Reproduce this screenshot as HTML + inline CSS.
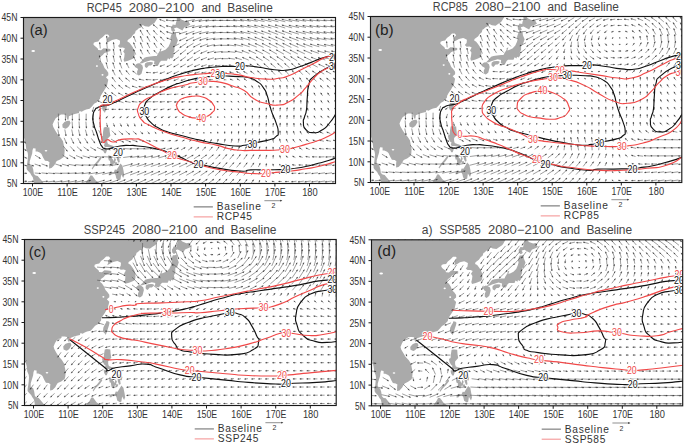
<!DOCTYPE html>
<html><head><meta charset="utf-8"><style>
html,body{margin:0;padding:0;background:#fff;}
body{width:685px;height:445px;overflow:hidden;}
svg{display:block;}
text{font-family:"Liberation Sans",sans-serif;fill:#333;}
.tt{fill:#444;}
.ax{font-size:10px;}
.tt{font-size:12px;}
.pl{font-size:15.5px;fill:#1e1e1e;}
.lg{font-size:10.2px;}
.rv{font-size:7px;}
.cl{font-size:10px;stroke:#fff;stroke-width:2px;paint-order:stroke;stroke-linejoin:round;}
</style></head><body>
<svg width="685" height="445" viewBox="0 0 685 445">
<clipPath id="ca"><rect x="23.5" y="17.5" width="312" height="166"/></clipPath>
<g clip-path="url(#ca)">
<path d="M22.1 15.4 157.9 15.4 157.9 17.5 155.4 21.6 154.4 22.9 151.3 25 148.9 26.8 145 26.2 142.6 25 140.9 27.5 138.5 28.5 137.1 30 135.7 30.8 135 33.3 132.9 34.9 131.2 37.4 129.5 38.7 127.7 39.9 127.4 41.6 129.5 42.8 131.2 44.9 132.9 47.4 134.3 50.7 134.7 54.9 134.3 56.9 133.3 58.6 131.2 59.4 128.1 60.7 124.3 61.7 123.6 59.8 124.3 56.9 124.6 53.6 123.2 51.5 125 48.6 122.9 47.6 119.8 47.8 118 46.1 119.8 44.1 120.1 40.7 117.7 39.5 116.3 38.9 112.1 39.9 109.4 41.6 106.3 43.2 107.3 40.7 107 38.7 109.4 36.2 108 34.5 105.2 34.5 102.8 37 100 39.1 98.3 41.6 95.5 42 93.8 42.8 93.4 44.5 94.8 46.1 97.6 48.2 98.3 49.9 101.1 50.3 103.5 48.2 107 48.6 110.4 49 110.4 51.1 107 51.9 104.2 53.2 102.8 54.9 100 56.9 99 59.8 101.1 61.5 102.8 64 104.5 68.1 106.6 70.2 108.3 72.7 108.3 75.2 105.9 77.3 108.3 79.8 107.6 82.7 107 86 105.6 88.1 103.8 91 101.8 93.9 100.4 96.4 100 98.8 98.3 100.5 96.9 102.2 94.1 103.8 92.1 106.3 89.6 108.8 86.2 109.6 83.8 110.5 81.7 111.7 79.6 110.9 78.9 113 75.8 113.8 73 114.6 70.6 115.4 68.9 116.3 68.5 119.6 67.8 120 66.8 118.3 66.1 115 63.7 114.6 60.9 114.6 58.8 115.9 55.7 118.3 54 121.3 52.6 124.6 53.3 127.1 55.4 130.8 57.4 134.1 60.9 137.9 63 141.2 64 146.2 64.7 150.3 64.4 154.5 63.7 156.9 60.2 159.4 56.7 161.1 55.4 163.2 54.3 165.2 51.5 168.1 49.1 168.6 49.1 164.8 49.5 162.3 47.7 161.1 45 160.7 43.2 157.8 41.5 154 40.1 152.8 37.4 151.5 35.6 151.5 35.6 148.6 33.2 148.2 32.5 150.3 32.2 153.6 30.8 157.8 29.7 161.5 29.7 165.2 32.2 166.1 33.2 169.4 33.9 174 35.6 175.6 37.7 176 39.8 178.5 41.5 180.6 43.2 182.7 44.3 185.6 33.9 185.6 33.9 183.5 33.5 180.2 32.8 177.3 31.5 175.6 30.1 173.1 27.7 170.6 26.6 169 26.6 166.9 27.3 162.8 27.7 159.4 28 155.3 27.7 152.8 26.3 149.5 25.6 144.1 24.5 139.5 23.5 135.8 22.1 134.5ZM105.2 99.3 107.3 99.3 108.7 100.5 108 103.4 107 106.7 105.9 110 104.9 113 104.2 111.7 102.8 110.5 102.1 108.4 102.5 105.5 103.8 102.6 105.2 100.5ZM67.8 120.8 69.6 120.8 70.6 122.9 68.9 126.2 67.1 127.9 65.4 128.7 62.6 127.5 62.3 124.6 64.4 122.1 66.1 121.3ZM136.4 64 138.1 63.2 139.9 63.6 142.3 65.2 143 68.1 141.6 73.5 140.2 74.8 138.8 75.6 137.1 74.4 137.1 71.5 138.1 69 136.7 68.1 135.7 66.5 135 65.6ZM145 63.6 147.1 62.3 150.2 61.9 152.7 62.3 152.7 64 150.9 65.6 148.9 65.6 146.8 68.1 145 66.9 144.7 65.2ZM139.5 63.2 141.6 61.1 144.4 57.8 146.8 56.9 150.2 56.5 154.4 56.1 156.8 56.1 157.5 54.4 159.9 50.7 159.9 49 161.7 48.6 160.6 51.5 162.4 51.1 165.8 49.5 168.6 46.6 170.3 42.8 171 39.9 170.3 38.2 171 35.8 172.1 33.3 174.1 33.3 175.9 32.4 176.2 36.2 177.9 40.3 176.2 45.3 174.5 45.7 174.5 50.7 173.1 53.6 173.8 56.1 172.1 58.6 170.3 57.8 170 59.4 167.9 58.2 166.9 60.7 165.1 60.7 161.3 60.7 159.9 61.9 158.2 65.2 156.5 65.2 154 64 154.4 61.1 150.9 60.2 146.8 61.5 144.4 62.3 142.3 63.2 139.9 63.6ZM171 27.5 171.4 30.4 173.1 32 175.2 30.8 174.1 28.3 176.9 27.5 179.7 29.1 182.4 30.4 184.2 27.5 188.3 25.8 190.4 24.6 189.4 23.3 188.3 20.8 185.6 21.2 181.4 19.6 177.9 15.8 176.6 16.3 176.9 20 175.9 22.9 175.5 25 172.7 24.6 172.1 26.2ZM103.8 127.5 105.9 127.1 109.4 127.5 109.7 131.6 110.4 135.8 107.3 139.1 107.3 142 108 144.1 110.4 144.9 112.8 145.7 115.6 147.8 116.6 150.3 115.6 152 113.5 150.3 110.8 147.8 108 147 104.9 147 103.8 144.9 104.9 143.7 103.5 142.8 101.8 139.9 101.1 136.6 102.8 135.8 103.1 131.6ZM108.7 175.2 109 172.7 111.5 171.9 113.9 171.9 114.9 169.4 116.6 169.8 118.4 166.9 120.5 163.6 122.5 165.7 123.6 171.1 124.3 175.2 123.2 178.1 121.2 174.4 120.5 179.4 119.1 180.2 116.3 178.5 115.6 175.2 114.2 172.7 112.1 173.1 110.4 175.2ZM102.8 148.2 105.2 147.8 107 149.9 105.9 153.2 104.5 153.2 103.1 150.7ZM108.3 155.3 110.8 156.1 112.5 157.8 111.1 160.3 109 160.7 108.3 158.6ZM110.1 159.8 112.8 159 113.9 161.5 112.5 166.5 110.8 165.2 110.1 161.9ZM114.6 157.4 116 159.4 114.9 162.8 113.5 164.8 113.5 161.9ZM114.9 162.3 117.3 162.3 117 164.4 114.9 164.4ZM116.6 156.5 119.1 156.9 119.8 161.9 118.4 162.8 117 159.8ZM116.6 152.4 120.1 152.4 121.5 155.3 120.8 158.2 119.1 157.8 117.7 155.3ZM100.7 156.9 101.4 158.6 98.3 162.8 94.8 166.1 92.4 169.4 91.7 168.6 94.1 164.8 97.3 161.1 99.3 158.2ZM82.7 185.6 85.1 183.5 86.5 181.4 88.6 178.9 90.3 175.4 92.1 175.6 93.8 177.7 95.5 180.2 99.3 183.1 99.7 185.6Z" fill="#aaaaaa"/>
<ellipse cx="33.2" cy="51.1" rx="1.8" ry="1.0" fill="#fff"/>
<ellipse cx="96.9" cy="66.1" rx="1.1" ry="0.8" fill="#fff"/>
<ellipse cx="102.5" cy="74.8" rx="1.0" ry="0.9" fill="#fff"/>
<ellipse cx="46" cy="150.7" rx="1.3" ry="0.8" fill="#fff"/>
<path d="M20.8 181.8l6 -0.7M27.8 181.8l6 -0.6M41.5 181.8l6.3 -0.6M48.1 181.8l6.8 -0.7M54.7 182l7.6 -1M61.2 182.1l8.3 -1.3M68 182.3l8.7 -1.5M74.8 182.4l8.9 -1.8M81.7 182.5l9 -2.1M95.5 182.8l9.1 -2.6M102.4 182.9l9.1 -2.8M109.3 183.1l9.1 -3.2M116.3 183.3l9.1 -3.5M123.2 183.4l9.1 -3.8M130.1 183.5l9.1 -4M137 183.6l9.1 -4.2M144 183.6l9.1 -4.3M150.9 183.6l9 -4.3M158 183.6l8.7 -4.2M165.1 183.5l8.3 -4M172.2 183.5l8.1 -4M179.2 183.5l7.8 -4.1M186.3 183.6l7.5 -4.3M193.4 183.7l7.1 -4.4M200.6 183.8l6.7 -4.6M207.8 183.9l6 -4.7M215.1 183.9l5.3 -4.9M222.2 183.9l4.9 -4.9M229.4 183.8l4.4 -4.7M236.7 183.7l3.7 -4.3M243.9 183.5l3.1 -4.1M251.2 183.3l2.4 -3.6M259 182.7l0.7 -2.5M267 182l-1.5 -1.1M274.5 181.7l-2.6 -0.4M281.7 181.5l-3.2 -0.1M289.1 181.4l-4.1 0.3M296.5 181.2l-5.2 0.7M303.8 181.1l-5.8 0.9M310.8 181l-6.1 0.9M317.9 181l-6.5 1M325 181l-6.8 1M332 181l-6.9 1M339 181l-7 1M20.8 173.2l6 0.2M34.7 173l6.1 0.5M41.5 172.9l6.3 0.6M48.2 173l6.7 0.6M54.8 173.1l7.3 0.4M61.4 173.2l8 0M68.1 173.4l8.4 -0.4M74.9 173.6l8.7 -0.8M81.7 173.8l8.9 -1.2M88.5 174l9.1 -1.5M95.4 174.2l9.2 -1.9M102.3 174.4l9.3 -2.2M109.2 174.6l9.3 -2.7M123.1 174.9l9.3 -3.4M130 175l9.3 -3.5M136.9 175.1l9.3 -3.7M143.9 175.2l9.3 -3.8M150.8 175.2l9.2 -3.9M157.9 175.2l8.9 -3.8M165 175.2l8.5 -3.8M172.1 175.2l8.3 -3.9M179.2 175.2l7.9 -4M186.3 175.3l7.5 -4.2M193.4 175.4l7.1 -4.3M200.6 175.5l6.7 -4.5M207.8 175.6l6 -4.7M215.1 175.7l5.3 -4.9M222.2 175.7l4.9 -4.9M229.4 175.6l4.4 -4.7M236.7 175.5l3.8 -4.5M243.8 175.4l3.2 -4.2M251.1 175.2l2.6 -3.8M258.8 174.7l1 -2.9M266.7 174.1l-0.9 -1.7M274.2 173.7l-2 -1M281.4 173.5l-2.6 -0.6M288.8 173.3l-3.6 -0.2M296.3 173.1l-4.7 0.3M303.6 173l-5.4 0.6M310.7 172.9l-5.8 0.7M317.9 172.8l-6.3 0.8M325 172.8l-6.6 0.9M332 172.8l-6.8 0.9M338.9 172.8l-6.8 0.9M20.9 164.2l6 1.7M27.8 164.1l6 1.9M34.7 164l6 2.1M41.6 163.9l6 2.2M55.2 163.9l6.6 2.2M61.9 164.1l7.1 1.9M68.5 164.3l7.6 1.4M75.2 164.6l8 0.8M82 164.9l8.4 0.3M88.7 165.1l8.8 -0.2M95.5 165.3l9.1 -0.6M102.3 165.6l9.3 -1.1M109.2 165.9l9.4 -1.6M123 166.3l9.6 -2.5M129.9 166.4l9.5 -2.6M136.8 166.5l9.5 -2.8M143.8 166.5l9.4 -3M150.8 166.6l9.3 -3.1M157.9 166.6l9 -3.2M164.9 166.7l8.7 -3.4M172 166.8l8.4 -3.6M179.1 166.9l8 -3.8M186.3 167l7.5 -4M193.5 167.1l7 -4.1M200.6 167.2l6.5 -4.3M207.9 167.3l5.9 -4.6M215.1 167.4l5.2 -4.8M222.3 167.5l4.8 -4.9M229.4 167.5l4.5 -4.8M236.6 167.4l4 -4.7M243.7 167.3l3.5 -4.6M250.9 167.2l3 -4.3M258.4 166.9l1.8 -3.8M266.1 166.5l0.3 -3M273.5 166.3l-0.6 -2.4M280.8 166l-1.4 -1.9M288.3 165.6l-2.6 -1.2M295.7 165.3l-3.6 -0.6M303 165.1l-4.3 -0.2M310.3 165l-5 0.2M317.6 164.8l-5.8 0.5M324.7 164.7l-6.2 0.6M331.8 164.7l-6.4 0.7M338.7 164.7l-6.4 0.7M20.9 155.5l5.8 2.8M35 155.2l5.5 3.3M62.6 155l5.5 3.8M69.3 155.2l6 3.3M76 155.5l6.5 2.7M82.7 155.8l7 2.1M89.4 156.1l7.4 1.5M96.1 156.4l7.9 1M102.8 156.7l8.4 0.4M109.5 157l8.8 -0.2M123.2 157.5l9.1 -1.2M130.1 157.6l9.1 -1.4M137.1 157.7l8.9 -1.7M144.1 157.8l8.8 -1.9M151.2 157.9l8.5 -2.1M158.3 158l8.1 -2.3M165.4 158.2l7.7 -2.6M172.5 158.3l7.4 -2.9M179.7 158.5l6.9 -3.3M186.8 158.7l6.4 -3.6M193.9 158.8l6.1 -3.8M201 158.9l5.7 -4M208.3 159l5.1 -4.3M215.5 159.2l4.5 -4.6M222.6 159.3l4.2 -4.8M229.7 159.3l3.9 -4.8M236.8 159.3l3.6 -4.8M243.8 159.3l3.3 -4.8M251 159.2l2.8 -4.6M258.3 159l1.9 -4.3M265.8 158.8l0.9 -3.9M273.1 158.6l0.2 -3.5M280.5 158.3l-0.7 -2.9M288 157.9l-1.9 -2.1M295.4 157.6l-2.8 -1.5M302.6 157.4l-3.5 -1.1M309.9 157.2l-4.3 -0.7M317.3 156.9l-5.2 -0.1M324.5 156.8l-5.7 0.2M331.5 156.7l-5.9 0.3M338.5 156.7l-5.9 0.3M21.3 146.9l5.1 3.8M63.4 146.2l4 5.1M70.2 146.4l4.3 4.8M76.9 146.6l4.7 4.3M83.6 146.9l5.1 3.7M90.3 147.2l5.5 3.2M97 147.4l6.1 2.7M103.5 147.7l6.8 2.1M116.9 148.2l7.8 1.1M123.8 148.5l7.8 0.6M130.8 148.6l7.6 0.2M137.9 148.8l7.3 -0.1M145 149l6.9 -0.5M152.2 149.2l6.5 -0.8M159.4 149.3l6 -1.1M166.6 149.5l5.3 -1.4M173.9 149.7l4.7 -1.8M181 149.9l4.2 -2.3M188.1 150.2l4 -2.8M195 150.4l3.9 -3.2M202.1 150.5l3.6 -3.5M209.3 150.7l3.1 -3.8M216.4 150.8l2.6 -4.1M223.5 150.9l2.4 -4.3M230.5 151l2.2 -4.4M237.5 151l2.1 -4.5M244.5 151.1l1.9 -4.6M251.6 151l1.7 -4.5M258.8 150.9l1.1 -4.3M266.1 150.8l0.3 -4.1M273.3 150.7l-0.3 -3.8M280.6 150.5l-0.9 -3.5M287.9 150.2l-1.8 -2.9M295.2 150l-2.6 -2.4M302.4 149.8l-3.1 -2.1M309.7 149.6l-3.8 -1.6M317 149.3l-4.7 -1M324.2 149.1l-5.2 -0.6M331.2 149l-5.3 -0.4M338.2 149l-5.4 -0.4M22.1 138.1l3.5 5.2M64.1 137.8l2.5 6M71 137.8l2.7 5.8M77.8 138l2.9 5.5M84.6 138.2l3.2 5.1M91.3 138.4l3.6 4.7M97.9 138.6l4.3 4.2M111 139.1l5.8 3.3M117.8 139.3l6 3M124.8 139.5l5.9 2.5M131.9 139.7l5.5 2.1M139.1 139.9l5 1.6M146.3 140.2l4.4 1.1M153.5 140.4l4 0.6M160.5 140.7l3.6 0M167.6 141l3.3 -0.5M174.7 141.2l2.9 -1M181.9 141.5l2.5 -1.5M189 141.7l2.1 -2M196 141.9l1.9 -2.3M203.1 142l1.6 -2.6M210.2 142.2l1.2 -2.9M217.3 142.4l0.9 -3.3M224.3 142.5l0.8 -3.6M231.2 142.6l0.8 -3.8M238.2 142.7l0.8 -4M245.1 142.8l0.8 -4.2M252.1 142.8l0.6 -4.2M259.2 142.8l0.3 -4.2M266.3 142.7l-0.2 -4M273.5 142.7l-0.6 -3.9M280.6 142.6l-1 -3.8M287.8 142.4l-1.6 -3.4M295 142.3l-2.2 -3.1M302.2 142.1l-2.7 -2.8M309.4 141.9l-3.3 -2.3M316.7 141.5l-4 -1.6M323.9 141.3l-4.5 -1.2M330.9 141.3l-4.7 -1M337.9 141.2l-4.8 -1M57.8 129.5l1.3 6.5M64.8 129.5l1.3 6.5M71.7 129.5l1.3 6.4M78.5 129.6l1.4 6.3M85.4 129.7l1.6 6.1M92.1 129.9l2 5.7M98.7 130.2l2.6 5.2M111.9 130.7l4 4.1M118.7 130.9l4.2 3.8M125.7 131l4 3.5M132.9 131.2l3.5 3M140.2 131.5l2.8 2.5M147.5 131.7l2.1 2M154.6 132l1.6 1.5M161.7 132.3l1.4 1M168.6 132.6l1.4 0.4M175.6 132.8l1.2 -0.1M182.8 133l0.7 -0.4M189.9 133.1l0.2 -0.6M197 133.2l0 -0.9M203.9 133.3l0 -1.1M210.9 133.5l-0.1 -1.4M217.8 133.7l-0.1 -1.9M224.7 133.9l0 -2.4M231.5 134.1l0.1 -2.7M238.4 134.3l0.3 -3.1M245.3 134.5l0.4 -3.5M252.2 134.6l0.4 -3.7M259.2 134.7l0.3 -3.8M266.2 134.7l0.1 -3.9M273.2 134.7l-0.1 -3.9M280.3 134.7l-0.3 -3.9M287.4 134.6l-0.7 -3.8M294.5 134.5l-1.1 -3.6M301.7 134.4l-1.6 -3.3M308.9 134.1l-2.3 -2.7M316.2 133.8l-3 -2.1M323.4 133.6l-3.5 -1.7M330.4 133.5l-3.7 -1.5M337.4 133.5l-3.9 -1.5M58.2 121.5l0.6 6.8M72.1 121.5l0.5 6.8M79 121.5l0.5 6.7M85.9 121.6l0.5 6.6M92.8 121.8l0.6 6.2M99.6 122.2l0.8 5.3M106.5 122.9l1 4M113.3 123.2l1.2 3.3M120.1 123.3l1.4 3.2M127 123.4l1.4 3M134.2 123.5l1 2.8M141.4 123.6l0.3 2.5M148.7 123.8l-0.4 2.1M155.8 124l-0.8 1.8M162.8 124.1l-1 1.5M169.8 124.3l-1 1.2M176.8 124.4l-1.1 0.9M183.8 124.6l-1.3 0.6M190.8 124.6l-1.4 0.5M197.7 124.8l-1.4 0.2M204.5 124.9l-1.2 0M211.3 125.1l-1 -0.4M218.1 125.3l-0.8 -0.8M224.9 125.6l-0.5 -1.4M231.7 125.8l-0.3 -1.9M238.6 126.1l0 -2.4M245.4 126.3l0.2 -2.9M252.2 126.5l0.3 -3.3M259.1 126.7l0.4 -3.6M266.1 126.7l0.4 -3.7M273 126.8l0.3 -3.8M280 126.8l0.2 -3.9M287 126.8l0 -3.9M294.1 126.8l-0.2 -3.8M301.2 126.6l-0.7 -3.5M308.5 126.3l-1.4 -2.9M315.8 126.1l-2.1 -2.4M322.9 125.9l-2.5 -2.1M329.9 125.9l-2.7 -2M336.9 125.8l-2.8 -1.9M58.4 113.6l0.2 6.9M65.3 113.6l0.2 6.9M72.3 113.6l0.1 6.9M79.2 113.6l0.1 6.9M86.2 113.7l-0.1 6.7M93.3 114.1l-0.4 6.1M100.6 114.9l-1.2 4.3M108 115.9l-2 2.4M115 116.3l-2.3 1.7M121.9 116.3l-2.2 1.5M128.9 116.3l-2.3 1.6M135.9 116.3l-2.5 1.5M142.9 116.3l-2.7 1.5M149.9 116.3l-2.8 1.5M156.8 116.4l-2.8 1.4M163.7 116.4l-2.7 1.4M170.5 116.4l-2.5 1.3M177.4 116.5l-2.4 1.1M184.3 116.7l-2.3 0.8M191.1 116.8l-2.2 0.5M198 116.9l-2 0.3M204.8 117l-1.8 0.1M211.6 117.1l-1.5 -0.1M218.4 117.3l-1.3 -0.4M225.2 117.5l-1 -0.9M232 117.8l-0.8 -1.4M238.8 118.1l-0.5 -1.9M245.6 118.3l-0.2 -2.5M252.3 118.6l0.1 -3M259.2 118.7l0.3 -3.3M266.1 118.8l0.4 -3.5M273 118.9l0.4 -3.7M279.9 118.9l0.4 -3.7M286.9 118.9l0.3 -3.7M293.9 118.9l0.1 -3.7M301 118.8l-0.2 -3.5M308.2 118.6l-0.9 -3M315.5 118.4l-1.6 -2.5M322.6 118.2l-1.9 -2.3M329.6 118.2l-2 -2.3M336.5 118.2l-2.1 -2.2M93.8 106.9l-1.4 4.9M101.6 108.3l-3.1 2.1M109 109.2l-4 0.4M116.1 109.4l-4.4 -0.1M123.1 109.4l-4.5 -0.1M130 109.3l-4.6 0.1M137 109.2l-4.7 0.4M143.9 109.1l-4.6 0.6M150.7 109l-4.5 0.7M157.6 109l-4.2 0.8M164.3 108.9l-4 0.9M171.1 108.9l-3.6 0.9M177.8 109l-3.2 0.7M184.5 109.2l-2.8 0.4M191.3 109.2l-2.5 0.3M198.2 109.3l-2.3 0.2M205 109.4l-2.1 0.1M211.8 109.4l-2 -0.1M218.7 109.5l-1.8 -0.3M225.5 109.7l-1.6 -0.7M232.3 109.9l-1.3 -1.1M239 110.2l-1 -1.6M245.8 110.5l-0.6 -2.3M252.5 110.8l-0.2 -2.8M259.3 110.9l0 -3.1M266.1 111.1l0.2 -3.3M273 111.1l0.4 -3.5M279.9 111.2l0.4 -3.5M286.8 111.2l0.4 -3.6M293.8 111.1l0.3 -3.5M300.9 111.1l0 -3.4M308.1 110.9l-0.7 -3M315.4 110.7l-1.3 -2.7M322.4 110.7l-1.6 -2.5M329.4 110.6l-1.7 -2.5M336.3 110.6l-1.7 -2.5M102.3 102.9l-4.6 -2.1M116.4 102.9l-5.1 -2.3M123.5 102.7l-5.3 -1.8M130.5 102.4l-5.5 -1.1M137.4 102.1l-5.5 -0.6M144.4 101.9l-5.5 -0.2M151.3 101.7l-5.5 0.1M158.1 101.6l-5.3 0.3M164.9 101.6l-5 0.4M171.6 101.5l-4.6 0.5M178.2 101.6l-4.1 0.5M184.8 101.6l-3.4 0.4M191.5 101.7l-2.9 0.3M198.3 101.7l-2.6 0.2M205.1 101.7l-2.4 0.1M212 101.8l-2.2 -0.1M218.8 101.9l-2.1 -0.3M225.6 102.1l-1.9 -0.6M232.4 102.3l-1.7 -1M239.2 102.6l-1.4 -1.5M245.9 102.9l-0.9 -2.2M252.7 103.1l-0.6 -2.7M259.5 103.3l-0.3 -3.1M266.3 103.4l0 -3.3M273.1 103.5l0.2 -3.4M280 103.5l0.2 -3.5M286.9 103.5l0.3 -3.5M293.9 103.5l0.2 -3.5M300.9 103.5l-0.1 -3.4M308.2 103.3l-0.7 -3.1M315.4 103.2l-1.3 -2.9M322.5 103.2l-1.6 -2.7M329.4 103.1l-1.7 -2.7M336.4 103.1l-1.7 -2.7M109.3 96.2l-4.8 -3.9M116.3 96l-4.9 -3.5M123.4 95.7l-5.1 -2.8M130.4 95.3l-5.4 -2M137.5 94.9l-5.7 -1.2M144.5 94.6l-5.8 -0.6M151.4 94.4l-5.8 -0.2M158.3 94.3l-5.7 0.1M165 94.1l-5.4 0.3M171.7 94.1l-4.9 0.5M178.4 94l-4.4 0.5M185 94.1l-3.7 0.5M191.7 94.1l-3.2 0.4M198.4 94.1l-2.9 0.3M205.2 94.2l-2.7 0.2M212.1 94.3l-2.5 0M218.9 94.4l-2.3 -0.3M225.8 94.6l-2.1 -0.6M232.6 94.8l-1.9 -1M239.4 95.1l-1.7 -1.5M246.1 95.4l-1.3 -2.2M252.9 95.7l-0.9 -2.7M259.6 95.8l-0.7 -3.1M266.4 95.9l-0.4 -3.3M273.2 96l-0.1 -3.4M280.1 96l0 -3.5M287 96.1l0 -3.5M294 96l-0.1 -3.5M301.1 96l-0.4 -3.4M308.3 95.9l-1 -3.2M315.5 95.8l-1.6 -3M322.6 95.8l-1.9 -2.9M329.6 95.8l-2 -2.9M336.5 95.8l-2 -2.9M109 89.2l-4.2 -4.6M116 89.1l-4.3 -4.3M123.1 88.8l-4.6 -3.7M130.2 88.3l-5 -2.8M137.4 87.8l-5.4 -1.8M144.4 87.4l-5.7 -0.9M151.4 87.1l-5.8 -0.3M158.3 86.9l-5.7 0.2M165.1 86.6l-5.4 0.6M171.8 86.5l-5 0.9M178.5 86.5l-4.5 1M185.1 86.5l-4 0.8M191.9 86.6l-3.6 0.7M198.7 86.7l-3.3 0.5M205.5 86.8l-3.1 0.3M212.3 86.9l-2.9 0.1M219.1 87l-2.7 -0.2M225.9 87.2l-2.5 -0.6M232.8 87.5l-2.3 -1.1M239.6 87.7l-2.1 -1.6M246.4 88l-1.8 -2.2M253.1 88.3l-1.4 -2.7M259.9 88.5l-1.2 -3.1M266.7 88.6l-0.9 -3.4M273.5 88.7l-0.7 -3.5M280.4 88.7l-0.5 -3.6M287.3 88.7l-0.5 -3.6M294.3 88.7l-0.7 -3.6M301.3 88.7l-0.9 -3.6M308.5 88.6l-1.5 -3.3M315.8 88.5l-2.1 -3.1M322.9 88.4l-2.5 -3M329.9 88.4l-2.6 -3M336.9 88.4l-2.8 -3M115.7 82.2l-3.6 -5M122.8 81.9l-3.9 -4.4M129.9 81.4l-4.4 -3.5M137.1 80.9l-4.9 -2.4M144.2 80.3l-5.3 -1.2M151.3 79.8l-5.5 -0.3M158.1 79.4l-5.4 0.6M165 79l-5.2 1.4M171.8 78.7l-5 2M178.7 78.7l-4.9 2M185.5 78.9l-4.7 1.7M192.4 79l-4.6 1.3M199.2 79.2l-4.4 1M206 79.3l-4.2 0.7M212.8 79.5l-3.9 0.4M219.6 79.6l-3.7 0.1M226.4 79.9l-3.4 -0.5M233.2 80.3l-3.3 -1.2M240.1 80.6l-3.2 -1.8M246.9 80.8l-3 -2.2M253.7 81.1l-2.6 -2.8M260.5 81.3l-2.4 -3.3M267.4 81.5l-2.3 -3.6M274.3 81.6l-2.2 -3.8M281.1 81.6l-2 -3.9M288.1 81.7l-2.1 -4M295.1 81.7l-2.2 -4M302.1 81.7l-2.5 -4M309.3 81.5l-2.9 -3.6M316.5 81.3l-3.5 -3.2M323.6 81.2l-3.9 -3.1M330.6 81.2l-4.1 -3M337.6 81.2l-4.3 -3M115.2 75.3l-2.7 -5.6M122.3 75.1l-3 -5.1M129.5 74.7l-3.5 -4.3M136.7 74.1l-4 -3.2M151 72.7l-4.9 -0.3M157.9 72.1l-5 0.9M164.9 71.7l-5 1.8M171.8 71.4l-5.1 2.4M178.8 71.3l-5.1 2.5M185.7 71.4l-5.2 2.3M192.7 71.6l-5.2 1.9M199.6 71.8l-5.1 1.6M206.4 72l-4.9 1.1M213.2 72.2l-4.7 0.8M220.1 72.4l-4.6 0.3M226.9 72.8l-4.5 -0.4M233.8 73.2l-4.3 -1.3M240.6 73.5l-4.2 -1.9M247.5 73.7l-4.1 -2.3M254.4 74l-3.9 -2.9M261.2 74.3l-3.7 -3.5M268.1 74.5l-3.6 -3.9M275 74.6l-3.7 -4M281.9 74.6l-3.7 -4.2M288.8 74.7l-3.6 -4.3M295.8 74.7l-3.7 -4.3M302.8 74.7l-3.9 -4.2M310 74.5l-4.4 -3.8M317.1 74.2l-4.8 -3.3M324.2 74.1l-5.1 -3M331.2 74l-5.2 -2.9M338.2 74l-5.3 -2.9M107.8 68.6l-1.7 -6.1M114.8 68.5l-1.9 -6M121.9 68.4l-2.2 -5.7M129 68.1l-2.5 -5.1M136.1 67.6l-2.9 -4.1M157.8 65.3l-4.7 0.5M164.8 64.7l-4.9 1.6M171.8 64.3l-5.1 2.5M178.8 64.1l-5.2 2.9M185.8 64.1l-5.4 3M192.8 64.2l-5.5 2.8M199.8 64.4l-5.5 2.3M206.7 64.7l-5.5 1.8M213.5 65l-5.4 1.2M220.5 65.3l-5.5 0.6M227.4 65.7l-5.5 -0.2M234.3 66.1l-5.4 -1.2M241.2 66.5l-5.3 -1.9M248.1 66.8l-5.2 -2.5M255 67.1l-5.1 -3.1M261.8 67.4l-4.9 -3.6M268.7 67.6l-4.9 -4M275.7 67.7l-5 -4.2M282.6 67.7l-5.1 -4.3M289.5 67.7l-5 -4.3M296.5 67.7l-5 -4.3M303.5 67.6l-5.3 -4.1M310.7 67.4l-5.7 -3.8M317.7 67.2l-6 -3.2M324.7 67l-6.1 -2.8M331.7 66.9l-6.2 -2.6M338.7 66.8l-6.4 -2.6M100.5 61.8l-1 -6.2M107.5 61.8l-1.2 -6.2M114.6 61.8l-1.4 -6.2M121.6 61.7l-1.7 -5.9M135.8 61.1l-2.3 -4.7M143 60.6l-2.8 -3.8M178.9 56.8l-5.4 3.8M185.9 56.7l-5.6 4.1M192.9 56.8l-5.8 3.8M200 57.1l-5.9 3.3M207 57.4l-6.1 2.5M214 57.8l-6.2 1.7M221 58.3l-6.4 0.9M228 58.7l-6.5 0M234.9 59.2l-6.5 -1M241.8 59.7l-6.4 -2M248.7 60.1l-6.4 -2.7M255.6 60.3l-6.4 -3.3M262.5 60.6l-6.4 -3.8M269.4 60.8l-6.4 -4.1M276.5 60.9l-6.6 -4.3M283.4 60.9l-6.7 -4.4M290.4 60.9l-6.7 -4.3M297.3 60.8l-6.7 -4.2M304.4 60.7l-7 -4M311.4 60.5l-7.2 -3.6M318.4 60.2l-7.3 -3.1M325.3 60l-7.3 -2.6M332.3 59.9l-7.4 -2.3M339.3 59.8l-7.5 -2.2M107.4 55.1l-0.9 -6.2M114.4 55.1l-1.1 -6.2M121.5 55l-1.4 -6M135.7 54.6l-2.1 -5.2M142.7 54.4l-2.3 -4.9M149.8 54.2l-2.7 -4.3M157.1 53.7l-3.2 -3.4M179.1 49.9l-5.7 4.2M186.1 49.7l-6 4.6M193.2 49.8l-6.2 4.4M200.2 50.1l-6.5 3.7M207.3 50.6l-6.7 2.8M214.4 51l-7 1.9M221.4 51.5l-7.3 1M228.4 52l-7.4 0M235.4 52.4l-7.5 -0.9M242.3 52.9l-7.4 -1.9M249.2 53.4l-7.4 -2.8M256.1 53.7l-7.5 -3.4M263.1 53.9l-7.6 -3.8M270.1 54.1l-7.6 -4.2M277 54.2l-7.7 -4.4M284 54.2l-7.8 -4.4M291 54.1l-7.9 -4.3M297.9 54l-8 -4.1M304.9 53.9l-8.1 -3.8M311.9 53.7l-8.3 -3.5M318.9 53.4l-8.3 -2.9M325.8 53.2l-8.3 -2.4M332.7 53l-8.3 -2.1M339.7 53l-8.4 -2M100.3 48.4l-0.6 -6.1M107.3 48.4l-0.7 -6.1M114.3 48.5l-0.8 -6.1M135.7 48.2l-2.1 -5.6M142.7 48.2l-2.3 -5.6M149.8 48.1l-2.6 -5.4M157 47.9l-3 -5M164.2 47.4l-3.7 -4M179.3 43.8l-6.3 3.2M186.5 43.2l-6.8 4.4M193.6 43.2l-7 4.3M200.6 43.5l-7.3 3.7M207.8 44l-7.7 2.8M214.9 44.5l-8.1 1.9M221.9 44.9l-8.3 0.9M228.9 45.4l-8.5 -0.1M235.9 45.9l-8.6 -1M242.8 46.3l-8.5 -1.9M249.7 46.8l-8.5 -2.8M256.7 47.1l-8.5 -3.4M263.6 47.3l-8.6 -3.9M270.6 47.5l-8.6 -4.1M277.5 47.6l-8.6 -4.3M284.4 47.6l-8.7 -4.4M291.4 47.5l-8.8 -4.3M298.4 47.4l-8.9 -3.9M305.4 47.2l-9 -3.5M312.4 47l-9.1 -3.2M319.3 46.8l-9.2 -2.7M326.2 46.5l-9.2 -2.2M333.2 46.3l-9.2 -1.9M340.1 46.3l-9.2 -1.7M107.2 42l-0.6 -6M135.8 41.8l-2.2 -5.8M142.8 41.8l-2.5 -5.6M150 41.7l-2.9 -5.4M157.2 41.5l-3.5 -5M164.4 41.1l-4.1 -4.3M171.9 40l-5.2 -2.1M186.9 37.2l-7.6 3.6M194 37l-7.9 3.9M201.1 37.2l-8.2 3.4M208.2 37.6l-8.6 2.6M215.3 38.1l-9 1.7M222.4 38.6l-9.3 0.8M229.4 39l-9.4 -0.2M236.4 39.4l-9.5 -1M243.3 39.8l-9.5 -1.8M250.2 40.2l-9.4 -2.6M257.1 40.6l-9.3 -3.3M264 40.8l-9.3 -3.7M270.9 40.9l-9.3 -4M277.8 41l-9.3 -4.1M284.8 41.1l-9.3 -4.2M291.7 41l-9.4 -4.1M298.7 40.8l-9.5 -3.7M305.7 40.5l-9.6 -3.2M312.7 40.4l-9.7 -2.8M319.6 40.2l-9.8 -2.5M326.5 40l-9.7 -2M333.4 39.8l-9.7 -1.7M340.4 39.7l-9.8 -1.6M143.1 35.4l-2.9 -5.4M150.2 35.2l-3.5 -5M157.4 34.9l-4 -4.5M164.7 34.4l-4.7 -3.6M172.2 33.6l-5.8 -1.9M179.8 32.3l-7.1 0.6M187.2 31.4l-8.1 2.6M194.4 31.1l-8.6 3.2M201.5 31.2l-9 2.9M208.6 31.5l-9.3 2.2M215.7 31.9l-9.6 1.4M222.7 32.3l-9.9 0.6M229.7 32.7l-10 -0.2M236.7 33.1l-10.1 -0.9M243.6 33.4l-10 -1.6M250.4 33.8l-9.9 -2.2M257.3 34.1l-9.8 -2.9M264.2 34.3l-9.8 -3.3M271.1 34.4l-9.8 -3.5M278.1 34.5l-9.8 -3.7M285 34.5l-9.8 -3.7M291.9 34.4l-9.8 -3.6M298.9 34.2l-9.9 -3.1M305.9 34l-10 -2.6M312.8 33.8l-10.1 -2.4M319.7 33.7l-10 -2.1M326.6 33.5l-10 -1.7M333.6 33.3l-10 -1.4M340.5 33.3l-9.9 -1.3M143.3 28.9l-3.5 -4.9M157.7 28.3l-4.6 -3.7M165 27.9l-5.3 -2.7M172.4 27.1l-6.3 -1.3M194.7 25.3l-9.2 2.4M201.8 25.4l-9.6 2.2M208.9 25.6l-9.9 1.8M215.9 25.9l-10.2 1.1M223 26.3l-10.4 0.5M229.9 26.6l-10.5 -0.1M236.9 26.8l-10.5 -0.7M243.7 27.1l-10.4 -1.3M250.6 27.4l-10.3 -1.8M257.5 27.6l-10.2 -2.2M264.4 27.8l-10.1 -2.7M271.3 28l-10.1 -2.9M278.2 28l-10.2 -3M285.2 28l-10.1 -3.1M292.1 27.9l-10.2 -2.9M299.1 27.7l-10.2 -2.4M306 27.5l-10.3 -2M312.9 27.4l-10.2 -1.9M319.8 27.3l-10.2 -1.6M326.7 27.1l-10.1 -1.2M333.6 27l-10 -1M340.5 27l-10 -0.9M165.2 21.5l-5.7 -2.1M172.6 20.9l-6.6 -0.9M180 20.2l-7.7 0.5M194.8 19.5l-9.5 1.9M202 19.6l-10 1.8M209.1 19.8l-10.3 1.4M216.1 20l-10.5 0.9M223.1 20.3l-10.7 0.3M230.1 20.5l-10.8 -0.1M237 20.8l-10.7 -0.6M243.8 21l-10.6 -1.1M250.7 21.2l-10.5 -1.5M257.6 21.4l-10.4 -1.8M264.5 21.6l-10.4 -2.2M271.4 21.7l-10.4 -2.5M278.4 21.8l-10.4 -2.6M285.3 21.8l-10.4 -2.6M292.2 21.7l-10.4 -2.4M299.1 21.5l-10.4 -2M306.1 21.3l-10.4 -1.7M313 21.2l-10.3 -1.5M319.8 21.1l-10.2 -1.2M326.7 20.9l-10.1 -0.9M333.6 20.8l-10 -0.7M340.5 20.8l-10 -0.7M44.9 17.6l-0.5 -6M51.8 17.6l-0.5 -6M58.7 17.6l-0.5 -6M65.7 17.6l-0.5 -6M72.6 17.6l-0.5 -6M79.5 17.6l-0.5 -6M86.4 17.6l-0.5 -6M93.4 17.6l-0.5 -6M100.3 17.6l-0.5 -6M107.2 17.6l-0.5 -6M114.4 17.6l-1 -5.9M122.1 17.2l-2.7 -5.3M129.6 16.9l-3.7 -4.5M136.8 16.6l-4.3 -4M143.9 16.4l-4.7 -3.5M151 16.1l-5 -3.1M158.1 15.9l-5.4 -2.6M165.3 15.5l-5.9 -1.8M172.7 14.9l-6.8 -0.6M180.1 14.3l-7.7 0.6M187.5 13.9l-8.7 1.4M194.9 13.7l-9.6 1.8M202.1 13.8l-10.1 1.6M209.1 13.9l-10.4 1.3M216.2 14.2l-10.7 0.8M223.2 14.5l-10.8 0.3M230.1 14.6l-10.9 -0.1M237 14.9l-10.8 -0.5M243.9 15.1l-10.6 -1M250.7 15.3l-10.5 -1.4M257.6 15.4l-10.5 -1.7M264.5 15.6l-10.5 -2M271.5 15.8l-10.5 -2.3M278.4 15.8l-10.5 -2.5M285.3 15.8l-10.5 -2.4M292.3 15.7l-10.5 -2.2M299.2 15.5l-10.5 -1.8M306.1 15.4l-10.5 -1.6M313 15.3l-10.4 -1.4M319.8 15.1l-10.2 -1.1M326.7 15l-10.1 -0.8M333.6 14.9l-10 -0.6M340.5 14.9l-10 -0.6" stroke="#4d4d4d" stroke-width="0.55" fill="none"/><path d="M26.9 181.2L25.5 181.9L25.3 180.8ZM33.8 181.2L32.4 181.9L32.3 180.8ZM47.8 181.2L46.4 181.9L46.3 180.8ZM55 181.2L53.6 181.8L53.5 180.7ZM62.3 181L60.9 181.7L60.8 180.7ZM69.6 180.9L68.2 181.6L68.1 180.5ZM76.7 180.7L75.4 181.5L75.2 180.4ZM83.7 180.6L82.4 181.4L82.2 180.3ZM90.7 180.4L89.4 181.3L89.1 180.2ZM104.6 180.2L103.3 181.1L103 180.1ZM111.5 180.1L110.3 181L110 180ZM118.4 179.9L117.2 180.9L116.9 179.9ZM125.4 179.7L124.2 180.8L123.8 179.7ZM132.3 179.6L131.2 180.7L130.7 179.7ZM139.2 179.5L138.1 180.6L137.7 179.6ZM146.1 179.4L145 180.5L144.6 179.5ZM153 179.4L152 180.5L151.5 179.5ZM159.9 179.4L158.9 180.5L158.4 179.5ZM166.7 179.4L165.7 180.5L165.2 179.5ZM173.5 179.5L172.4 180.6L171.9 179.6ZM180.2 179.5L179.2 180.6L178.7 179.6ZM187 179.4L186 180.6L185.5 179.6ZM193.8 179.4L192.8 180.6L192.3 179.6ZM200.5 179.3L199.6 180.5L199 179.6ZM207.3 179.2L206.4 180.5L205.7 179.6ZM213.8 179.1L213 180.5L212.4 179.6ZM220.4 179.1L219.7 180.4L219 179.6ZM227.1 179.1L226.5 180.5L225.7 179.7ZM233.8 179.2L233.2 180.6L232.4 179.8ZM240.4 179.3L239.9 180.8L239 180.1ZM247 179.5L246.6 181L245.7 180.3ZM253.6 179.7L253.2 181.2L252.3 180.6ZM259.7 180.2L259.8 181.6L258.8 181.4ZM265.5 180.9L266.7 181.3L266.2 182ZM271.9 181.3L273.3 181L273.1 182ZM278.5 181.5L280 180.9L279.9 182ZM285 181.6L286.4 181L286.5 182.1ZM291.4 181.8L292.7 181.1L292.9 182.2ZM298 181.9L299.3 181.2L299.5 182.3ZM304.7 182L306.1 181.2L306.3 182.3ZM311.5 182L312.9 181.2L313 182.3ZM318.3 182L319.6 181.2L319.8 182.3ZM325.1 182L326.5 181.2L326.6 182.3ZM332 182L333.4 181.2L333.5 182.3ZM26.9 173.3L25.4 173.8L25.4 172.7ZM40.7 173.5L39.3 173.9L39.3 172.8ZM47.8 173.5L46.3 174L46.4 172.9ZM54.9 173.5L53.4 174L53.5 172.9ZM62.1 173.4L60.7 173.9L60.7 172.8ZM69.4 173.2L67.9 173.8L67.9 172.7ZM76.5 173.1L75.1 173.7L75.1 172.6ZM83.6 172.9L82.2 173.5L82.1 172.4ZM90.6 172.7L89.3 173.4L89.1 172.3ZM97.7 172.5L96.3 173.3L96.1 172.2ZM104.7 172.3L103.3 173.1L103.1 172.1ZM111.6 172.1L110.3 173L110.1 171.9ZM118.5 171.9L117.3 172.8L117 171.8ZM132.4 171.6L131.2 172.6L130.8 171.5ZM139.3 171.5L138.2 172.5L137.8 171.5ZM146.2 171.4L145.1 172.4L144.7 171.4ZM153.2 171.3L152 172.4L151.6 171.4ZM160 171.3L158.9 172.4L158.5 171.4ZM166.8 171.3L165.7 172.4L165.3 171.4ZM173.6 171.3L172.5 172.4L172 171.4ZM180.3 171.3L179.3 172.4L178.8 171.4ZM187.1 171.2L186.1 172.4L185.6 171.4ZM193.8 171.2L192.8 172.3L192.3 171.4ZM200.5 171.1L199.6 172.3L199 171.4ZM207.2 171L206.4 172.3L205.7 171.4ZM213.8 170.9L213 172.2L212.4 171.4ZM220.4 170.8L219.7 172.2L219 171.4ZM227.1 170.8L226.5 172.2L225.7 171.4ZM233.8 170.9L233.2 172.3L232.4 171.6ZM240.4 171L239.9 172.5L239.1 171.8ZM247.1 171.1L246.6 172.6L245.8 172ZM253.7 171.3L253.3 172.8L252.4 172.2ZM259.8 171.8L259.9 173.3L258.8 173ZM265.8 172.4L266.7 173.2L266 173.6ZM272.2 172.8L273.5 172.9L273.1 173.7ZM278.8 172.9L280.2 172.7L280 173.7ZM285.2 173.2L286.7 172.7L286.6 173.8ZM291.6 173.4L293 172.8L293.1 173.9ZM298.2 173.5L299.6 172.8L299.7 173.9ZM304.9 173.6L306.3 172.9L306.4 174ZM311.6 173.7L313 172.9L313.1 174ZM318.3 173.7L319.7 173L319.9 174ZM325.2 173.7L326.6 173L326.7 174.1ZM332.1 173.7L333.5 173L333.6 174.1ZM26.8 165.9L25.3 166L25.6 164.9ZM33.8 166L32.2 166.1L32.5 165ZM40.7 166.1L39.1 166.1L39.5 165.1ZM47.6 166.1L46.1 166.2L46.5 165.1ZM61.8 166.1L60.2 166.2L60.6 165.1ZM68.9 166L67.4 166.1L67.7 165.1ZM76.1 165.7L74.6 166L74.8 164.9ZM83.3 165.5L81.8 165.9L81.9 164.8ZM90.4 165.2L88.9 165.7L89 164.6ZM97.5 164.9L96.1 165.5L96 164.4ZM104.6 164.7L103.2 165.4L103.1 164.3ZM111.6 164.5L110.2 165.2L110.1 164.1ZM118.6 164.2L117.3 165L117.1 163.9ZM132.5 163.8L131.2 164.7L131 163.6ZM139.4 163.7L138.2 164.6L137.9 163.6ZM146.3 163.6L145.1 164.6L144.8 163.5ZM153.2 163.5L152 164.5L151.7 163.5ZM160.1 163.5L158.9 164.5L158.5 163.4ZM166.8 163.4L165.7 164.4L165.3 163.4ZM173.6 163.3L172.5 164.4L172.1 163.4ZM180.4 163.2L179.3 164.3L178.9 163.3ZM187.1 163.2L186.1 164.3L185.6 163.3ZM193.8 163.1L192.8 164.2L192.3 163.2ZM200.5 163L199.5 164.2L199 163.2ZM207.2 162.9L206.3 164.1L205.7 163.2ZM213.8 162.8L213 164.1L212.3 163.2ZM220.4 162.6L219.7 164L218.9 163.2ZM227.1 162.6L226.5 164L225.7 163.2ZM233.8 162.6L233.3 164.1L232.5 163.3ZM240.5 162.7L240 164.1L239.2 163.4ZM247.2 162.8L246.8 164.2L245.9 163.6ZM253.9 162.9L253.5 164.4L252.6 163.8ZM260.2 163.2L260.1 164.7L259.1 164.2ZM266.4 163.5L266.8 165L265.7 164.9ZM272.9 163.8L273.7 165L272.7 165.2ZM279.4 164.1L280.5 164.8L279.8 165.4ZM285.7 164.4L287.2 164.5L286.8 165.5ZM292.2 164.7L293.7 164.4L293.5 165.5ZM298.7 164.9L300.2 164.5L300.1 165.6ZM305.3 165.1L306.7 164.5L306.7 165.6ZM311.8 165.3L313.2 164.6L313.3 165.7ZM318.6 165.3L319.9 164.7L320 165.7ZM325.4 165.4L326.8 164.7L326.9 165.8ZM332.3 165.4L333.7 164.7L333.8 165.8ZM26.8 158.3L25.2 158.1L25.7 157.2ZM40.4 158.5L38.9 158.3L39.5 157.3ZM68.2 158.8L66.7 158.4L67.3 157.5ZM75.3 158.5L73.8 158.3L74.3 157.3ZM82.5 158.2L80.9 158.2L81.4 157.2ZM89.7 157.9L88.1 158L88.4 157ZM96.8 157.6L95.3 157.9L95.5 156.8ZM104 157.4L102.5 157.7L102.6 156.6ZM111.1 157.1L109.7 157.6L109.7 156.5ZM118.3 156.8L116.8 157.4L116.8 156.3ZM132.3 156.3L130.9 157L130.8 155.9ZM139.2 156.2L137.8 156.9L137.7 155.8ZM146.1 156L144.7 156.8L144.5 155.8ZM152.9 155.9L151.6 156.8L151.4 155.7ZM159.7 155.8L158.4 156.7L158.1 155.6ZM166.4 155.7L165.2 156.7L164.9 155.6ZM173.2 155.6L172 156.6L171.6 155.5ZM179.9 155.4L178.8 156.5L178.3 155.4ZM186.6 155.2L185.5 156.4L185.1 155.4ZM193.3 155.1L192.3 156.3L191.7 155.3ZM200 155L199.1 156.2L198.5 155.3ZM206.8 154.9L205.9 156.1L205.3 155.2ZM213.4 154.7L212.7 156.1L211.9 155.2ZM220 154.6L219.4 156L218.6 155.2ZM226.8 154.5L226.2 155.9L225.4 155.2ZM233.6 154.5L233.1 155.9L232.2 155.3ZM240.3 154.5L239.9 156L239 155.3ZM247.1 154.5L246.7 156L245.8 155.4ZM253.8 154.6L253.5 156.1L252.6 155.5ZM260.3 154.7L260.2 156.3L259.2 155.8ZM266.7 154.9L266.9 156.5L265.8 156.2ZM273.2 155.1L273.7 156.6L272.6 156.6ZM279.7 155.4L280.6 156.7L279.6 156.9ZM286.1 155.8L287.4 156.5L286.6 157.2ZM292.5 156.1L294.1 156.3L293.6 157.3ZM299.1 156.3L300.7 156.2L300.4 157.3ZM305.7 156.5L307.2 156.2L307 157.3ZM312.1 156.8L313.6 156.3L313.6 157.4ZM318.8 157L320.2 156.4L320.3 157.5ZM325.6 157L327.1 156.4L327.1 157.5ZM332.5 157L334 156.4L334 157.5ZM26.4 150.7L24.9 150.2L25.6 149.4ZM67.4 151.3L66.1 150.5L66.9 149.8ZM74.5 151.2L73.1 150.4L73.9 149.7ZM81.6 150.9L80.2 150.3L80.9 149.5ZM88.7 150.6L87.2 150.2L87.9 149.3ZM95.9 150.4L94.3 150.1L94.9 149.2ZM103.1 150.1L101.5 150L102 149ZM110.4 149.8L108.8 149.9L109.2 148.9ZM124.7 149.3L123.2 149.7L123.3 148.6ZM131.6 149.1L130.1 149.5L130.2 148.4ZM138.5 148.9L137 149.4L137 148.3ZM145.2 148.7L143.8 149.3L143.8 148.2ZM152 148.5L150.6 149.2L150.5 148.1ZM158.7 148.4L157.3 149.1L157.2 148ZM165.3 148.2L164 149L163.8 147.9ZM171.9 148.1L170.7 149L170.4 147.9ZM178.5 147.9L177.4 148.9L177 147.9ZM185.3 147.6L184.2 148.8L183.7 147.8ZM192.1 147.3L191.2 148.6L190.6 147.7ZM198.9 147.2L198.2 148.5L197.5 147.7ZM205.7 147L205.1 148.4L204.3 147.6ZM212.4 146.9L211.9 148.3L211.1 147.6ZM219.1 146.7L218.8 148.2L217.8 147.6ZM225.9 146.6L225.7 148.1L224.7 147.6ZM232.7 146.6L232.6 148.1L231.6 147.6ZM239.6 146.5L239.5 148L238.5 147.6ZM246.4 146.5L246.4 148L245.4 147.6ZM253.2 146.5L253.2 148L252.2 147.7ZM259.9 146.6L260 148.1L259 147.9ZM266.4 146.7L266.8 148.2L265.7 148.1ZM273 146.8L273.7 148.3L272.6 148.3ZM279.6 147L280.5 148.3L279.5 148.6ZM286.1 147.3L287.3 148.3L286.4 148.9ZM292.6 147.6L294.1 148.1L293.3 149ZM299.3 147.7L300.8 148.1L300.2 149ZM305.9 148L307.4 148L307 149ZM312.4 148.3L313.9 148L313.7 149.1ZM319.1 148.5L320.6 148.1L320.5 149.2ZM325.9 148.6L327.4 148.1L327.3 149.2ZM332.8 148.6L334.3 148.1L334.2 149.2ZM25.6 143.3L24.3 142.4L25.2 141.8ZM66.7 143.7L65.6 142.6L66.6 142.2ZM73.7 143.6L72.6 142.5L73.6 142.1ZM80.7 143.5L79.5 142.4L80.5 141.9ZM87.8 143.3L86.5 142.3L87.5 141.8ZM94.9 143.1L93.6 142.3L94.5 141.6ZM102.2 142.8L100.8 142.2L101.5 141.4ZM116.8 142.4L115.2 142.1L115.8 141.2ZM123.8 142.2L122.3 142.1L122.7 141.1ZM130.7 142L129.1 141.9L129.6 140.9ZM137.4 141.8L135.9 141.8L136.3 140.7ZM144.1 141.5L142.5 141.6L142.9 140.6ZM150.7 141.3L149.2 141.5L149.4 140.4ZM157.4 141L155.9 141.4L156.1 140.3ZM164.2 140.8L162.7 141.3L162.7 140.2ZM170.9 140.5L169.6 141.2L169.4 140.2ZM177.7 140.2L176.5 141.2L176.1 140.2ZM184.4 140L183.5 141.1L182.9 140.2ZM191.1 139.7L190.5 141.1L189.7 140.3ZM197.9 139.6L197.5 141L196.6 140.3ZM204.7 139.4L204.4 140.9L203.5 140.3ZM211.5 139.3L211.4 140.8L210.4 140.4ZM218.2 139.1L218.4 140.6L217.3 140.3ZM225.1 138.9L225.3 140.5L224.2 140.2ZM232 138.8L232.3 140.4L231.2 140.1ZM238.9 138.7L239.2 140.3L238.1 140ZM245.8 138.6L246.1 140.2L245 140ZM252.7 138.6L253 140.1L252 140ZM259.5 138.7L259.9 140.1L258.8 140.1ZM266.1 138.7L266.8 140.1L265.7 140.2ZM272.9 138.8L273.6 140.1L272.5 140.3ZM279.6 138.8L280.5 140.1L279.4 140.4ZM286.2 139L287.3 140.1L286.3 140.6ZM292.9 139.2L294.1 140L293.2 140.7ZM299.5 139.3L300.9 140L300.1 140.8ZM306.2 139.6L307.7 140L307 140.9ZM312.7 139.9L314.3 139.9L313.8 141ZM319.4 140.1L320.9 140L320.7 141ZM326.2 140.2L327.8 140L327.5 141.1ZM333.1 140.2L334.6 140L334.4 141.1ZM59.1 136L58.3 134.7L59.4 134.5ZM66 136L65.2 134.7L66.3 134.5ZM73 136L72.2 134.7L73.2 134.4ZM80 135.9L79.1 134.6L80.2 134.4ZM87 135.8L86.1 134.5L87.1 134.2ZM94.1 135.6L93.1 134.4L94.1 134.1ZM101.3 135.3L100.2 134.3L101.2 133.8ZM115.9 134.8L114.5 134.1L115.3 133.4ZM122.9 134.6L121.4 134.1L122.2 133.3ZM129.7 134.5L128.3 134L129 133.1ZM136.4 134.3L135 133.8L135.7 132.9ZM143 134L141.5 133.5L142.3 132.6ZM149.5 133.8L148.2 133.2L148.9 132.4ZM156.2 133.5L155 133L155.7 132.3ZM163.1 133.3L161.9 133L162.4 132.3ZM170 133L168.8 133L169.1 132.3ZM176.8 132.7L175.8 133.2L175.8 132.4ZM183.5 132.6L182.9 133.3L182.5 132.7ZM190.2 132.4L190.2 133.4L189.5 133.2ZM197 132.3L197.3 133.3L196.6 133.3ZM203.9 132.2L204.3 133.2L203.5 133.2ZM210.8 132.1L211.3 133.1L210.5 133.1ZM217.7 131.8L218.2 133L217.3 133ZM224.7 131.6L225.2 132.9L224.2 132.8ZM231.7 131.4L232.1 132.8L231.1 132.7ZM238.7 131.2L239.1 132.7L238 132.6ZM245.7 131L246 132.5L245 132.4ZM252.6 130.9L253 132.4L251.9 132.3ZM259.5 130.9L259.9 132.3L258.8 132.3ZM266.3 130.8L266.8 132.3L265.7 132.3ZM273.1 130.8L273.7 132.2L272.6 132.3ZM279.9 130.8L280.6 132.2L279.5 132.3ZM286.7 130.9L287.5 132.2L286.4 132.4ZM293.4 131L294.3 132.2L293.3 132.5ZM300.1 131.1L301.2 132.2L300.2 132.7ZM306.6 131.4L308 132.2L307.2 132.9ZM313.2 131.7L314.7 132.1L314.1 133ZM319.9 131.9L321.5 132.1L321 133ZM326.7 132L328.3 132L327.9 133.1ZM333.6 132L335.1 132L334.7 133.1ZM58.8 128.3L58.1 126.9L59.2 126.8ZM72.6 128.3L71.9 126.9L73 126.8ZM79.5 128.2L78.8 126.8L79.9 126.8ZM86.4 128.2L85.8 126.8L86.9 126.7ZM93.4 128L92.7 126.6L93.8 126.5ZM100.4 127.5L99.7 126.2L100.7 126ZM107.4 126.9L106.6 125.6L107.6 125.4ZM114.5 126.5L113.5 125.4L114.5 125ZM121.5 126.5L120.4 125.3L121.4 124.9ZM128.4 126.4L127.3 125.3L128.3 124.8ZM135.1 126.3L134.2 125.1L135.2 124.8ZM141.7 126.1L141.1 124.9L142.1 124.8ZM148.3 125.9L148.1 124.6L149 124.8ZM155 125.8L155.1 124.5L155.9 124.9ZM161.9 125.6L162.1 124.4L162.9 124.9ZM168.8 125.5L169.2 124.4L169.8 124.9ZM175.7 125.3L176.2 124.3L176.7 125ZM182.5 125.2L183.3 124.4L183.6 125.1ZM189.3 125.1L190.3 124.4L190.5 125.2ZM196.3 125L197.3 124.4L197.4 125.2ZM203.3 124.9L204.3 124.5L204.3 125.3ZM210.3 124.7L211.4 124.7L211.1 125.4ZM217.4 124.5L218.3 124.9L217.8 125.5ZM224.4 124.2L225.2 125.1L224.4 125.3ZM231.5 123.9L232.1 125L231.2 125.1ZM238.5 123.7L239 124.9L238.1 125ZM245.6 123.4L246 124.8L244.9 124.8ZM252.6 123.2L253 124.7L251.9 124.6ZM259.5 123.1L259.9 124.6L258.8 124.5ZM266.4 123L266.8 124.5L265.7 124.4ZM273.3 123L273.8 124.4L272.7 124.4ZM280.2 122.9L280.7 124.4L279.6 124.4ZM287 122.9L287.6 124.4L286.5 124.4ZM293.8 123L294.5 124.4L293.4 124.5ZM300.5 123.1L301.4 124.5L300.3 124.7ZM307.1 123.4L308.2 124.5L307.2 125ZM313.7 123.7L315 124.4L314.2 125.1ZM320.4 123.8L321.9 124.3L321.2 125.2ZM327.2 123.9L328.7 124.3L328.1 125.2ZM334.1 123.9L335.6 124.3L335 125.2ZM58.6 120.5L58 119.1L59.1 119.1ZM65.5 120.5L64.9 119.1L66 119.1ZM72.4 120.5L71.8 119.1L72.9 119.1ZM79.3 120.5L78.7 119.1L79.8 119.1ZM86.1 120.4L85.6 119L86.7 119ZM92.9 120.1L92.4 118.6L93.5 118.7ZM99.4 119.2L99.3 117.7L100.3 118ZM105.9 118.3L106.4 116.8L107.3 117.5ZM112.8 117.9L113.5 116.7L114.2 117.5ZM119.7 117.8L120.5 116.7L121.1 117.5ZM126.6 117.9L127.4 116.7L128 117.5ZM133.4 117.9L134.3 116.7L134.9 117.6ZM140.2 117.8L141.2 116.7L141.7 117.6ZM147.1 117.8L148.1 116.7L148.6 117.6ZM154 117.8L155.1 116.7L155.6 117.6ZM161 117.8L162 116.6L162.5 117.6ZM168 117.7L169 116.6L169.5 117.6ZM175 117.6L176 116.6L176.4 117.5ZM182 117.5L183.1 116.6L183.4 117.5ZM189 117.3L190.1 116.6L190.3 117.5ZM196 117.3L197.1 116.6L197.2 117.5ZM203 117.2L204.1 116.6L204.2 117.5ZM210.1 117L211.2 116.7L211.1 117.5ZM217.1 116.9L218.2 116.8L218 117.6ZM224.2 116.6L225.2 117L224.7 117.6ZM231.2 116.4L232.1 117.1L231.4 117.5ZM238.3 116.1L239 117.1L238.2 117.4ZM245.4 115.8L246 117.1L245 117.2ZM252.4 115.6L252.9 117L251.9 117ZM259.4 115.4L259.9 116.9L258.8 116.8ZM266.4 115.3L266.8 116.8L265.7 116.7ZM273.4 115.2L273.8 116.8L272.7 116.6ZM280.3 115.2L280.7 116.7L279.6 116.6ZM287.2 115.2L287.6 116.7L286.5 116.6ZM294 115.2L294.5 116.7L293.4 116.7ZM300.8 115.4L301.4 116.8L300.3 116.8ZM307.3 115.6L308.3 116.8L307.2 117.1ZM313.9 115.8L315.1 116.7L314.2 117.3ZM320.7 115.9L322 116.7L321.2 117.3ZM327.6 115.9L328.9 116.6L328.1 117.4ZM334.5 116L335.8 116.6L335 117.4ZM92.4 111.8L92.3 110.3L93.3 110.6ZM98.5 110.4L99.4 109.2L100 110.1ZM104.9 109.6L106.3 108.9L106.4 110ZM111.7 109.3L113.2 108.8L113.1 109.9ZM118.5 109.4L120 108.8L120 109.9ZM125.4 109.4L126.9 108.9L126.9 110ZM132.3 109.6L133.7 108.9L133.8 110ZM139.3 109.7L140.7 108.9L140.8 110ZM146.3 109.7L147.6 109L147.8 110.1ZM153.3 109.8L154.6 109L154.8 110.1ZM160.4 109.8L161.7 109L161.9 110ZM167.5 109.8L168.8 108.9L169 110ZM174.6 109.7L175.9 108.9L176.1 110ZM181.7 109.6L183 108.9L183.2 109.9ZM188.8 109.5L190 108.9L190.1 109.9ZM195.8 109.5L197 108.9L197.1 109.9ZM202.8 109.4L204 108.9L204.1 109.8ZM209.9 109.3L211.1 108.9L211 109.8ZM216.9 109.2L218.1 109L217.9 109.9ZM223.9 109L225.1 109.1L224.8 109.9ZM231 108.8L232.1 109.2L231.5 109.9ZM238 108.6L239 109.3L238.3 109.8ZM245.2 108.3L246 109.4L245 109.6ZM252.3 108L252.9 109.3L251.9 109.4ZM259.3 107.8L259.9 109.3L258.8 109.3ZM266.4 107.7L266.8 109.2L265.7 109.1ZM273.3 107.6L273.7 109.1L272.7 109ZM280.3 107.6L280.7 109.1L279.6 109ZM287.2 107.6L287.6 109.1L286.5 109ZM294.1 107.6L294.5 109.1L293.4 109ZM300.9 107.7L301.4 109.1L300.3 109.2ZM307.5 107.9L308.3 109.2L307.2 109.4ZM314.1 108L315.2 109.1L314.2 109.5ZM320.9 108.1L322.1 109L321.1 109.6ZM327.7 108.1L329 109L328.1 109.6ZM334.7 108.1L335.9 109L335 109.6ZM97.7 100.7L99.3 100.8L98.8 101.8ZM111.3 100.7L112.9 100.7L112.4 101.7ZM118.2 100.9L119.7 100.8L119.4 101.9ZM125 101.2L126.5 101L126.3 102.1ZM131.9 101.5L133.4 101.1L133.3 102.2ZM138.8 101.7L140.3 101.2L140.2 102.3ZM145.8 101.8L147.2 101.3L147.2 102.4ZM152.8 101.9L154.2 101.3L154.2 102.4ZM159.8 102L161.2 101.3L161.3 102.4ZM167 102L168.3 101.3L168.5 102.4ZM174.2 102L175.6 101.3L175.7 102.4ZM181.4 102L182.8 101.3L182.9 102.4ZM188.6 101.9L189.9 101.3L190 102.3ZM195.7 101.9L197 101.3L197 102.3ZM202.7 101.8L204 101.3L204 102.3ZM209.7 101.8L211 101.3L211 102.3ZM216.7 101.6L218 101.4L217.9 102.3ZM223.8 101.5L225 101.4L224.7 102.3ZM230.8 101.3L232 101.5L231.6 102.3ZM237.9 101L239 101.6L238.3 102.2ZM245 100.7L245.9 101.7L245.1 102.1ZM252.1 100.4L252.9 101.7L251.9 101.9ZM259.2 100.3L259.8 101.6L258.8 101.7ZM266.2 100.1L266.8 101.6L265.7 101.6ZM273.3 100.1L273.7 101.5L272.6 101.5ZM280.2 100L280.7 101.5L279.6 101.5ZM287.1 100L287.6 101.5L286.5 101.4ZM294 100L294.5 101.5L293.4 101.5ZM300.8 100.1L301.4 101.5L300.3 101.6ZM307.4 100.2L308.3 101.5L307.2 101.8ZM314.1 100.4L315.2 101.4L314.2 101.9ZM320.8 100.4L322 101.4L321.1 101.9ZM327.7 100.4L329 101.4L328 101.9ZM334.6 100.4L335.9 101.4L335 102ZM104.6 92.4L106.1 92.9L105.4 93.7ZM111.4 92.6L112.9 93L112.3 93.9ZM118.2 92.9L119.8 93.1L119.2 94.1ZM125 93.3L126.6 93.3L126.2 94.3ZM131.8 93.7L133.4 93.5L133.1 94.5ZM138.7 94L140.2 93.6L140.1 94.7ZM145.6 94.2L147.1 93.7L147 94.8ZM152.6 94.3L154 93.8L154 94.9ZM159.7 94.5L161.1 93.8L161.2 94.9ZM166.8 94.5L168.2 93.9L168.3 94.9ZM174 94.6L175.4 93.8L175.5 94.9ZM181.3 94.5L182.7 93.8L182.8 94.9ZM188.5 94.5L189.8 93.8L190 94.9ZM195.5 94.5L196.9 93.8L197 94.8ZM202.6 94.4L203.9 93.8L203.9 94.8ZM209.6 94.3L210.9 93.8L210.9 94.8ZM216.6 94.2L217.9 93.8L217.8 94.8ZM223.6 94L224.9 93.9L224.7 94.8ZM230.7 93.8L232 94L231.5 94.8ZM237.7 93.5L238.9 94L238.3 94.7ZM244.8 93.2L245.9 94.1L245.1 94.6ZM251.9 92.9L252.9 94.1L251.9 94.4ZM259 92.8L259.8 94.1L258.8 94.3ZM266.1 92.7L266.8 94L265.7 94.2ZM273.1 92.6L273.7 94L272.6 94.1ZM280.1 92.6L280.6 94L279.5 94ZM287 92.5L287.6 94L286.5 94ZM293.9 92.6L294.5 94L293.4 94ZM300.7 92.6L301.4 94L300.3 94.1ZM307.3 92.7L308.3 93.9L307.2 94.2ZM313.9 92.8L315.1 93.8L314.1 94.3ZM320.7 92.8L322 93.8L321 94.4ZM327.6 92.8L328.9 93.7L327.9 94.4ZM334.5 92.9L335.8 93.7L334.9 94.4ZM104.9 84.6L106.3 85.3L105.4 86.1ZM111.7 84.8L113.1 85.4L112.4 86.2ZM118.5 85.1L120 85.6L119.3 86.4ZM125.2 85.5L126.8 85.8L126.2 86.7ZM132 86.1L133.5 86L133.2 87ZM138.7 86.5L140.3 86.2L140.1 87.3ZM145.6 86.8L147.1 86.3L147 87.4ZM152.6 87L154 86.4L154 87.5ZM159.7 87.2L161 86.5L161.2 87.6ZM166.8 87.4L168.1 86.6L168.3 87.7ZM174 87.4L175.3 86.6L175.5 87.6ZM181.1 87.3L182.5 86.5L182.7 87.6ZM188.3 87.3L189.6 86.5L189.8 87.5ZM195.3 87.2L196.7 86.4L196.8 87.5ZM202.4 87.1L203.7 86.4L203.8 87.5ZM209.4 87L210.8 86.4L210.8 87.5ZM216.4 86.8L217.8 86.4L217.7 87.4ZM223.4 86.6L224.8 86.5L224.6 87.4ZM230.5 86.4L231.9 86.5L231.4 87.4ZM237.5 86.1L238.9 86.5L238.3 87.3ZM244.6 85.8L245.8 86.6L245 87.2ZM251.7 85.6L252.8 86.6L251.9 87.1ZM258.7 85.4L259.8 86.5L258.7 86.9ZM265.8 85.2L266.7 86.5L265.6 86.8ZM272.8 85.2L273.6 86.5L272.6 86.7ZM279.8 85.1L280.6 86.5L279.5 86.7ZM286.8 85.1L287.5 86.5L286.4 86.6ZM293.6 85.1L294.4 86.4L293.3 86.6ZM300.4 85.2L301.3 86.4L300.2 86.7ZM307 85.3L308.1 86.4L307.1 86.8ZM313.7 85.4L314.9 86.3L314 86.9ZM320.4 85.4L321.8 86.2L320.9 86.9ZM327.3 85.4L328.6 86.2L327.8 86.9ZM334.1 85.4L335.5 86.1L334.7 86.9ZM112.1 77.2L113.4 78.1L112.5 78.7ZM118.9 77.5L120.2 78.2L119.4 78.9ZM125.5 77.9L127 78.4L126.3 79.3ZM132.2 78.5L133.7 78.6L133.3 79.6ZM138.9 79.1L140.5 78.9L140.2 79.9ZM145.8 79.6L147.2 79.1L147.2 80.2ZM152.7 80L154.1 79.3L154.2 80.4ZM159.7 80.4L161 79.5L161.3 80.5ZM166.8 80.7L167.9 79.6L168.3 80.7ZM173.8 80.7L174.9 79.6L175.3 80.6ZM180.8 80.5L182 79.5L182.3 80.6ZM187.8 80.3L189 79.4L189.3 80.5ZM194.8 80.2L196.1 79.3L196.3 80.4ZM201.8 80L203.2 79.2L203.4 80.3ZM208.9 79.9L210.3 79.2L210.4 80.3ZM215.9 79.7L217.4 79.1L217.4 80.2ZM223 79.4L224.5 79.1L224.3 80.2ZM230 79.1L231.5 79.1L231.1 80.1ZM237 78.8L238.5 79L238 80ZM244 78.6L245.5 79L244.8 79.9ZM251.1 78.3L252.5 79L251.7 79.7ZM258.1 78L259.4 78.9L258.5 79.5ZM265.1 77.9L266.3 78.8L265.4 79.4ZM272.1 77.8L273.3 78.8L272.3 79.3ZM279.1 77.7L280.2 78.8L279.3 79.3ZM286 77.7L287.1 78.7L286.2 79.2ZM292.8 77.7L294 78.7L293 79.2ZM299.6 77.7L300.9 78.6L299.9 79.2ZM306.3 77.9L307.7 78.6L306.8 79.3ZM313 78.1L314.4 78.6L313.7 79.4ZM319.7 78.2L321.2 78.6L320.5 79.5ZM326.5 78.2L328 78.6L327.4 79.5ZM333.4 78.2L334.9 78.6L334.2 79.5ZM112.5 69.8L113.7 70.8L112.7 71.3ZM119.3 70L120.5 71L119.6 71.5ZM126 70.4L127.3 71.2L126.5 71.9ZM132.6 71L134.1 71.4L133.4 72.3ZM146.1 72.4L147.5 72L147.5 73.1ZM152.9 73L154.3 72.2L154.4 73.3ZM159.8 73.5L161 72.5L161.4 73.5ZM166.8 73.7L167.8 72.6L168.3 73.6ZM173.7 73.8L174.7 72.7L175.2 73.7ZM180.5 73.7L181.6 72.6L182.1 73.6ZM187.4 73.5L188.6 72.5L189 73.5ZM194.4 73.3L195.6 72.4L196 73.4ZM201.4 73.1L202.7 72.3L203 73.3ZM208.5 72.9L209.8 72.2L210 73.3ZM215.5 72.7L216.9 72.1L216.9 73.2ZM222.4 72.4L223.9 71.9L223.8 73ZM229.4 71.9L231 71.8L230.7 72.9ZM236.4 71.6L238 71.7L237.5 72.7ZM243.4 71.4L244.9 71.6L244.4 72.6ZM250.4 71.1L251.9 71.5L251.3 72.4ZM257.5 70.8L258.9 71.4L258.1 72.2ZM264.4 70.6L265.8 71.3L265 72.1ZM271.3 70.5L272.7 71.2L271.9 72ZM278.3 70.5L279.6 71.2L278.8 71.9ZM285.2 70.4L286.6 71.2L285.7 71.9ZM292.1 70.4L293.5 71.1L292.6 71.9ZM298.9 70.5L300.3 71.1L299.5 71.9ZM305.6 70.7L307.1 71.2L306.3 72ZM312.3 70.9L313.8 71.3L313.2 72.2ZM319.1 71.1L320.6 71.3L320.1 72.3ZM326 71.1L327.5 71.3L327 72.3ZM332.8 71.1L334.4 71.3L333.9 72.3ZM106.1 62.5L107 63.8L106 64ZM112.9 62.6L113.9 63.8L112.8 64.1ZM119.7 62.7L120.8 63.9L119.7 64.3ZM126.5 63L127.6 64.1L126.6 64.6ZM133.2 63.5L134.5 64.4L133.6 65ZM153.1 65.8L154.5 65.1L154.6 66.2ZM159.9 66.4L161.1 65.4L161.4 66.5ZM166.8 66.8L167.8 65.7L168.3 66.7ZM173.6 67L174.6 65.8L175.1 66.8ZM180.4 67.1L181.4 65.9L182 66.8ZM187.3 67L188.4 65.8L188.9 66.8ZM194.2 66.7L195.3 65.7L195.8 66.7ZM201.2 66.5L202.4 65.5L202.7 66.5ZM208.1 66.2L209.4 65.3L209.7 66.4ZM215 65.9L216.4 65.2L216.5 66.3ZM221.9 65.5L223.4 65L223.4 66.1ZM228.9 65L230.4 64.7L230.2 65.8ZM235.9 64.6L237.5 64.6L237.1 65.6ZM242.9 64.3L244.4 64.4L243.9 65.4ZM249.8 64L251.4 64.3L250.8 65.3ZM256.9 63.7L258.4 64.2L257.7 65ZM263.8 63.6L265.3 64.1L264.6 64.9ZM270.7 63.5L272.1 64L271.4 64.8ZM277.5 63.4L279 63.9L278.3 64.8ZM284.5 63.4L286 63.9L285.3 64.8ZM291.4 63.4L292.9 63.9L292.2 64.8ZM298.2 63.5L299.7 63.9L299 64.8ZM304.9 63.7L306.4 64L305.8 64.9ZM311.7 64L313.3 64.2L312.7 65.1ZM318.6 64.2L320.1 64.3L319.7 65.3ZM325.5 64.2L327 64.3L326.6 65.3ZM332.3 64.3L333.9 64.3L333.5 65.3ZM99.5 55.6L100.3 56.9L99.2 57.1ZM106.4 55.6L107.2 56.9L106.1 57.1ZM113.2 55.6L114 56.9L113 57.2ZM120 55.8L120.9 57L119.8 57.3ZM133.5 56.3L134.6 57.4L133.6 57.9ZM140.2 56.8L141.5 57.7L140.6 58.3ZM173.5 60.6L174.4 59.3L175 60.2ZM180.3 60.7L181.2 59.4L181.8 60.3ZM187.2 60.6L188.1 59.4L188.7 60.3ZM194 60.3L195 59.2L195.6 60.1ZM200.9 60L202 58.9L202.4 59.9ZM207.7 59.6L209 58.6L209.3 59.7ZM214.6 59.1L215.9 58.4L216.1 59.5ZM221.4 58.7L222.9 58.1L222.9 59.2ZM228.3 58.2L229.9 57.9L229.7 59ZM235.3 57.7L236.9 57.6L236.5 58.7ZM242.3 57.3L243.8 57.4L243.4 58.4ZM249.2 57.1L250.7 57.2L250.2 58.2ZM256.1 56.8L257.7 57.1L257.1 58ZM263 56.6L264.6 57L264 57.9ZM269.9 56.5L271.4 56.9L270.8 57.8ZM276.8 56.5L278.3 56.9L277.7 57.8ZM283.7 56.5L285.2 56.9L284.6 57.8ZM290.6 56.6L292.1 56.9L291.5 57.8ZM297.4 56.7L298.9 57L298.4 57.9ZM304.2 56.9L305.7 57L305.2 58ZM311.1 57.2L312.6 57.2L312.2 58.2ZM318 57.4L319.5 57.4L319.2 58.4ZM324.9 57.5L326.4 57.5L326.1 58.5ZM331.7 57.6L333.3 57.5L333 58.5ZM106.5 48.9L107.3 50.2L106.2 50.4ZM113.3 48.9L114.1 50.2L113 50.4ZM120.1 49L121 50.3L119.9 50.5ZM133.6 49.4L134.7 50.5L133.6 50.9ZM140.4 49.5L141.5 50.6L140.5 51.1ZM147.2 49.8L148.4 50.8L147.5 51.3ZM153.8 50.3L155.2 51L154.4 51.7ZM173.3 54.1L174.2 52.8L174.8 53.7ZM180.1 54.3L180.9 53L181.6 53.9ZM187 54.2L187.8 52.9L188.5 53.8ZM193.8 53.8L194.7 52.6L195.3 53.6ZM200.5 53.4L201.7 52.3L202.1 53.3ZM207.3 52.9L208.6 52L208.9 53.1ZM214.1 52.5L215.5 51.7L215.6 52.8ZM221 52L222.4 51.4L222.4 52.5ZM227.9 51.5L229.4 51.1L229.2 52.2ZM234.8 51L236.4 50.8L236.1 51.9ZM241.8 50.6L243.3 50.6L242.9 51.6ZM248.7 50.3L250.2 50.4L249.7 51.4ZM255.5 50.1L257.1 50.2L256.6 51.2ZM262.4 49.9L264 50.1L263.4 51.1ZM269.3 49.8L270.9 50L270.3 51ZM276.2 49.8L277.7 50L277.2 51ZM283.1 49.8L284.6 50L284.1 51ZM290 49.9L291.5 50.1L291 51.1ZM296.8 50.1L298.4 50.2L297.9 51.2ZM303.7 50.2L305.2 50.3L304.8 51.3ZM310.6 50.5L312.1 50.5L311.7 51.5ZM317.5 50.8L319 50.7L318.7 51.7ZM324.4 50.9L325.9 50.8L325.7 51.8ZM331.3 51L332.8 50.8L332.6 51.9ZM99.7 42.4L100.4 43.7L99.3 43.9ZM106.6 42.3L107.3 43.7L106.2 43.8ZM113.5 42.3L114.2 43.7L113.1 43.8ZM133.6 42.6L134.6 43.7L133.6 44.1ZM140.4 42.6L141.5 43.7L140.5 44.2ZM147.2 42.7L148.3 43.8L147.3 44.2ZM153.9 42.9L155.1 43.8L154.2 44.4ZM160.5 43.4L161.9 44.1L161.1 44.8ZM173.1 47L174.1 45.8L174.6 46.8ZM179.7 47.6L180.7 46.3L181.3 47.3ZM186.5 47.5L187.5 46.3L188.1 47.3ZM193.3 47.2L194.4 46.1L194.9 47.1ZM200.1 46.8L201.2 45.8L201.6 46.8ZM206.8 46.3L208.1 45.5L208.3 46.5ZM213.6 45.8L215 45.1L215.1 46.2ZM220.4 45.4L221.9 44.8L221.9 45.9ZM227.3 44.9L228.8 44.5L228.7 45.6ZM234.3 44.5L235.8 44.2L235.6 45.3ZM241.2 44L242.8 43.9L242.4 45ZM248.1 43.7L249.7 43.7L249.3 44.7ZM255 43.5L256.6 43.6L256.1 44.6ZM261.9 43.3L263.5 43.5L263 44.4ZM268.9 43.2L270.4 43.4L269.9 44.4ZM275.7 43.2L277.3 43.4L276.8 44.4ZM282.6 43.3L284.2 43.4L283.7 44.4ZM289.5 43.4L291.1 43.5L290.6 44.5ZM296.4 43.6L297.9 43.6L297.5 44.7ZM303.2 43.8L304.8 43.8L304.4 44.8ZM310.1 44L311.7 43.9L311.4 45ZM317.1 44.3L318.6 44.1L318.3 45.2ZM324 44.4L325.5 44.2L325.3 45.3ZM330.9 44.5L332.4 44.2L332.2 45.3ZM106.7 35.9L107.4 37.3L106.3 37.4ZM133.5 36.1L134.6 37.2L133.5 37.6ZM140.3 36.1L141.4 37.2L140.4 37.7ZM147 36.2L148.2 37.3L147.2 37.8ZM153.7 36.4L155 37.3L154.1 37.9ZM160.3 36.8L161.7 37.5L160.9 38.2ZM166.7 37.9L168.2 37.9L167.8 38.9ZM179.3 40.7L180.4 39.6L180.9 40.6ZM186.1 40.9L187.2 39.8L187.6 40.7ZM192.9 40.7L194 39.6L194.4 40.6ZM199.6 40.3L200.8 39.3L201.2 40.4ZM206.3 39.8L207.7 39L207.9 40.1ZM213.1 39.3L214.5 38.7L214.6 39.8ZM220 38.9L221.4 38.3L221.4 39.4ZM226.9 38.5L228.4 38.1L228.2 39.2ZM233.8 38.1L235.3 37.8L235.1 38.9ZM240.8 37.7L242.3 37.5L242 38.6ZM247.7 37.3L249.3 37.3L248.9 38.3ZM254.7 37.1L256.2 37.1L255.8 38.1ZM261.6 37L263.1 37L262.7 38ZM268.5 36.9L270.1 37L269.6 38ZM275.4 36.8L277 36.9L276.5 37.9ZM282.3 36.9L283.9 37L283.4 38ZM289.2 37.1L290.7 37.1L290.3 38.1ZM296 37.4L297.6 37.3L297.3 38.3ZM302.9 37.5L304.5 37.4L304.2 38.5ZM309.8 37.7L311.4 37.5L311.1 38.6ZM316.8 37.9L318.3 37.7L318.1 38.8ZM323.7 38.1L325.2 37.8L325 38.9ZM330.6 38.2L332.1 37.9L332 38.9ZM140.1 29.9L141.3 30.9L140.3 31.5ZM146.8 30.1L148.1 31L147.1 31.6ZM153.4 30.4L154.8 31.1L154 31.8ZM160 30.8L161.5 31.3L160.8 32.2ZM166.4 31.7L168 31.6L167.6 32.7ZM172.6 33L174 32.3L174.1 33.4ZM179.1 33.9L180.3 33L180.6 34ZM185.7 34.2L186.9 33.2L187.3 34.2ZM192.5 34.1L193.7 33.1L194.1 34.2ZM199.3 33.8L200.5 32.9L200.8 34ZM206 33.4L207.4 32.6L207.5 33.7ZM212.8 33L214.2 32.3L214.3 33.4ZM219.7 32.6L221.1 32L221.1 33.1ZM226.6 32.2L228.1 31.8L228 32.9ZM233.5 31.9L235 31.5L234.9 32.6ZM240.5 31.5L242 31.3L241.8 32.4ZM247.5 31.2L249 31.1L248.7 32.1ZM254.4 31L256 30.9L255.6 32ZM261.4 30.9L262.9 30.9L262.5 31.9ZM268.3 30.8L269.8 30.8L269.4 31.8ZM275.2 30.8L276.8 30.8L276.4 31.8ZM282.1 30.8L283.7 30.8L283.3 31.9ZM289 31.1L290.5 31L290.2 32ZM295.9 31.3L297.4 31.2L297.1 32.2ZM302.8 31.4L304.3 31.2L304.1 32.3ZM309.7 31.6L311.2 31.4L311 32.4ZM316.7 31.8L318.2 31.5L318 32.6ZM323.6 31.9L325.1 31.6L325 32.7ZM330.5 32L332 31.6L331.9 32.7ZM139.8 24L141.1 24.9L140.2 25.5ZM153.1 24.6L154.6 25.1L153.9 26ZM159.7 25.1L161.2 25.3L160.7 26.3ZM166.1 25.8L167.7 25.6L167.5 26.7ZM185.5 27.7L186.7 26.8L187 27.8ZM192.2 27.6L193.5 26.7L193.7 27.8ZM198.9 27.4L200.3 26.6L200.5 27.7ZM205.7 27L207.1 26.3L207.2 27.4ZM212.6 26.7L214 26.1L214 27.2ZM219.4 26.4L220.9 25.9L220.9 27ZM226.4 26.1L227.9 25.7L227.8 26.8ZM233.3 25.8L234.9 25.5L234.7 26.6ZM240.3 25.6L241.8 25.3L241.7 26.4ZM247.3 25.4L248.8 25.1L248.6 26.2ZM254.3 25.2L255.8 25L255.5 26.1ZM261.2 25L262.7 24.9L262.4 26ZM268.1 25L269.6 24.9L269.3 25.9ZM275 24.9L276.6 24.8L276.2 25.9ZM281.9 25L283.5 24.9L283.2 26ZM288.8 25.3L290.4 25.1L290.1 26.2ZM295.7 25.5L297.3 25.2L297 26.3ZM302.7 25.6L304.2 25.3L304 26.4ZM309.6 25.7L311.2 25.4L311 26.5ZM316.6 25.9L318.1 25.5L318 26.6ZM323.6 26L325.1 25.6L325 26.7ZM330.5 26L332 25.6L331.9 26.7ZM159.5 19.4L161 19.4L160.7 20.4ZM166 20L167.5 19.7L167.3 20.8ZM172.4 20.7L173.8 20.1L173.9 21.2ZM185.3 21.4L186.6 20.6L186.8 21.7ZM192 21.4L193.3 20.6L193.5 21.7ZM198.8 21.2L200.1 20.4L200.3 21.5ZM205.6 20.9L207 20.2L207.1 21.3ZM212.4 20.6L213.8 20L213.9 21.1ZM219.3 20.4L220.8 19.9L220.7 21ZM226.3 20.2L227.7 19.7L227.7 20.8ZM233.3 19.9L234.8 19.5L234.6 20.6ZM240.2 19.7L241.8 19.4L241.6 20.5ZM247.2 19.6L248.7 19.3L248.5 20.4ZM254.1 19.4L255.7 19.1L255.4 20.2ZM261.1 19.2L262.6 19L262.3 20.1ZM268 19.2L269.5 19L269.2 20ZM274.9 19.2L276.4 19L276.2 20.1ZM281.8 19.3L283.4 19.1L283.1 20.1ZM288.7 19.5L290.3 19.2L290.1 20.3ZM295.7 19.6L297.2 19.3L297 20.4ZM302.6 19.7L304.1 19.4L304 20.5ZM309.6 19.9L311.1 19.5L311 20.6ZM316.6 20L318.1 19.6L318 20.7ZM323.6 20.1L325 19.7L325 20.8ZM330.5 20.1L332 19.7L331.9 20.8ZM44.4 11.6L45 13L43.9 13.1ZM51.3 11.6L52 13L50.9 13.1ZM58.2 11.6L58.9 13L57.8 13.1ZM65.2 11.6L65.8 13L64.7 13.1ZM72.1 11.6L72.7 13L71.6 13.1ZM79 11.6L79.7 13L78.6 13.1ZM85.9 11.6L86.6 13L85.5 13.1ZM92.9 11.6L93.5 13L92.4 13.1ZM99.8 11.6L100.4 13L99.3 13.1ZM106.7 11.6L107.4 13L106.3 13.1ZM113.4 11.7L114.2 13L113.1 13.2ZM119.5 12L120.6 13L119.6 13.5ZM125.9 12.3L127.2 13.1L126.4 13.8ZM132.5 12.6L133.9 13.2L133.2 14ZM139.2 12.9L140.7 13.3L140.1 14.2ZM146 13.1L147.5 13.4L147 14.3ZM152.7 13.3L154.3 13.5L153.8 14.4ZM159.4 13.7L160.9 13.6L160.6 14.7ZM165.9 14.3L167.4 13.9L167.3 15ZM172.3 14.9L173.7 14.2L173.8 15.3ZM178.8 15.3L180.1 14.5L180.3 15.6ZM185.3 15.5L186.6 14.7L186.8 15.8ZM191.9 15.4L193.3 14.6L193.4 15.7ZM198.7 15.3L200.1 14.5L200.2 15.6ZM205.5 15L206.9 14.3L207 15.4ZM212.3 14.7L213.8 14.2L213.8 15.3ZM219.3 14.6L220.7 14L220.7 15.1ZM226.2 14.4L227.7 13.9L227.6 15ZM233.2 14.1L234.7 13.7L234.6 14.8ZM240.2 13.9L241.7 13.5L241.6 14.6ZM247.2 13.8L248.7 13.5L248.5 14.5ZM254.1 13.6L255.6 13.3L255.4 14.4ZM261 13.4L262.5 13.2L262.3 14.3ZM267.9 13.4L269.5 13.2L269.2 14.2ZM274.9 13.4L276.4 13.2L276.2 14.2ZM281.8 13.5L283.3 13.3L283.1 14.3ZM288.7 13.7L290.2 13.4L290 14.5ZM295.6 13.8L297.2 13.5L297 14.6ZM302.6 13.9L304.1 13.6L304 14.7ZM309.6 14.1L311.1 13.7L311 14.8ZM316.6 14.2L318.1 13.8L318 14.9ZM323.6 14.3L325 13.8L325 14.9ZM330.5 14.3L332 13.9L331.9 15Z" fill="#3c3c3c" stroke="#3c3c3c" stroke-width="0.25"/>
<path d="M336 55C331.7 56 331.5 55.4 323 57.9C314.5 60.4 318.9 59.5 310.5 62.6C302.1 65.7 305.8 64.8 297.9 67.3C290 69.8 294.8 69.3 286.9 70.1C279 70.9 283.7 70.6 274.3 69.7C264.9 68.8 268 68.6 258.6 67.3C249.2 66 252.2 66 246 65.7C239.8 65.4 246.4 66.3 240 66.5C233.6 66.7 235 66.2 226.7 66.4C218.4 66.6 222.8 66.3 215 67C207.2 67.7 211.2 67.1 203.4 68.4C195.6 69.7 199.5 68.8 191.7 70.8C183.9 72.8 188.3 71.6 180 74.3C171.7 77 177.7 74.7 166.9 78.9C156.1 83.1 158.4 82.3 147.6 87C136.8 91.7 143.2 88.8 134.4 92.9C125.6 97 128.5 95.9 121.3 99.3C114.1 102.7 117.4 101.2 112.8 103.2C108.2 105.2 111.1 104.3 107.5 105.2C103.9 106.1 105.4 105.2 102.1 106C98.8 106.8 99.9 106.5 97.6 107.7C95.3 108.9 96.7 107 95.2 109.6C93.7 112.2 93.5 110.6 93 115.5C92.5 120.4 92.6 118.4 93.8 124.2C95 130 94.8 127.1 96.7 133C98.6 138.9 97.9 137.4 99.6 141.8C101.3 146.2 100.2 144 101.8 146.2C103.4 148.4 101.8 147.7 104.5 148.5C107.2 149.3 104.8 149.3 110 148.5C115.2 147.7 113.3 147 120 146C126.7 145 124.2 145.5 130 145.5C135.8 145.5 129.2 145 137.5 146C145.8 147 143.3 146 155 148.6C166.7 151.2 160.8 149.5 172.5 153.9C184.2 158.3 181.3 158.1 190 161.8C198.7 165.5 193.2 163.7 198.5 165C203.8 166.3 199.9 164.6 205.8 165.6C211.7 166.6 204.9 166.1 216.3 167.9C227.7 169.7 228.5 170.3 240 171C251.5 171.7 241.9 170.3 250.7 169.9C259.5 169.5 256.7 170 266.4 169.9C276.1 169.8 273.4 169.6 279.8 169.6C286.2 169.6 281.6 170.3 285.5 170C289.4 169.7 284.8 170 291.6 168.8C298.4 167.6 296.9 168.3 305.8 166.5C314.7 164.7 310.5 165.4 318.3 163.3C326.1 161.2 323.4 162.1 329.3 160.2C335.2 158.3 333.8 158.4 336 157.5" stroke="#111" stroke-width="1.15" fill="none" stroke-linejoin="round"/><path d="M180 83C186 81.2 183.9 81.4 191.7 79.5C199.5 77.6 196.4 78.2 203.4 77.2C210.4 76.2 207.2 77 212.7 76.6C218.2 76.2 215.3 76.2 220 76C224.7 75.8 220.6 75.8 226.7 76C232.8 76.2 231.4 76.1 238.4 76.6C245.4 77.1 241.4 75.9 247.6 77.5C253.8 79.1 251.8 78 257 81.4C262.2 84.8 259.9 83 263.3 87.7C266.7 92.4 265.1 89.8 267.2 95.6C269.3 101.4 267.8 98.9 269.6 105C271.4 111.1 270.4 108.2 272.5 114C274.6 119.8 274 116.4 275.9 122.4C277.8 128.4 278.2 127.2 278.2 131.9C278.2 136.6 278.8 134 275.9 136.6C273 139.2 275.4 137.9 269.6 139.7C263.8 141.5 264.4 140.7 258.6 142.1C252.8 143.5 257 143 252.3 144C247.6 145 250.2 144.5 244.4 145.2C238.6 145.9 244.4 146.6 235 146C225.6 145.4 228.4 145.4 216.3 143.4C204.2 141.4 210.5 142.5 198.8 139.9C187.1 137.3 191.4 138 181.3 135.5C171.2 133 175.9 134.7 168.6 132.3C161.3 129.9 165.1 131.5 159.4 128.4C153.7 125.3 155.9 127.1 151.5 123.1C147.1 119.1 148.6 120.4 146.2 116.5C143.8 112.6 144.7 115.2 144.3 111.3C143.9 107.4 142.9 109.1 144.9 104.7C146.9 100.3 144.9 102.5 150.2 98.1C155.5 93.7 152.8 96 160.7 91.6C168.6 87.2 167.4 87.9 173.8 85C180.2 82.1 174 84.8 180 83Z" stroke="#111" stroke-width="1.15" fill="none" stroke-linejoin="round"/><path d="M336 65.5C333 66.3 334.5 64.3 327 68C319.5 71.7 319.6 71.2 313.6 76.7C307.6 82.2 311 77.8 308.9 84.6C306.8 91.4 308.1 88.8 307.3 97.2C306.5 105.6 307.4 103.1 306.5 109.7C305.6 116.3 305.5 112.8 304.5 117C303.5 121.2 303 118.2 303.4 122.4C303.8 126.6 302.4 126.1 305.8 129.5C309.2 132.9 308.2 132.5 313.6 132.7C319 132.9 316.7 133.2 322 130C327.3 126.8 324.8 128.5 329.5 123C334.2 117.5 333.8 116.7 336 113.5" stroke="#111" stroke-width="1.15" fill="none" stroke-linejoin="round"/><path d="M336 55.5C332.7 56 333.7 54.5 326.2 57.1C318.7 59.7 321.5 59.5 313.6 63.4C305.7 67.3 310.5 65 302.6 68.9C294.7 72.8 297.9 72.1 290 75.2C282.1 78.3 286.9 77 279 78.3C271.1 79.6 275.8 79.4 266.4 79.1C257 78.8 260 78.9 250.7 77.5C241.4 76.1 246.4 76.2 238.4 74.9C230.4 73.6 234.4 74.1 226.7 73.5C219 72.9 223.1 73 215.3 73.1C207.5 73.2 211.3 73.1 203.4 73.7C195.5 74.3 199.5 73.9 191.7 74.9C183.9 75.9 188.3 75 180 76.6C171.7 78.2 176.8 76.8 166.9 79.8C157 82.8 161 81.4 150.2 85.5C139.4 89.6 144 87.7 134.4 92C124.8 96.3 128.3 95 121.3 98.3C114.3 101.6 117.9 99.8 113.4 102C108.9 104.2 111.8 103.7 107.7 104.9C103.6 106.1 103.5 103.5 101 105.6C98.5 107.7 100.5 105 100.3 111.3C100.1 117.6 99.9 115.6 100.3 124.4C100.7 133.2 100.5 131.6 101.6 137.6C102.7 143.6 101.6 141.8 103.5 142.5C105.4 143.2 104.3 139.9 107.3 139.7C110.3 139.5 108.8 141.8 112.5 142C116.2 142.2 114.5 141.3 118.4 140.3C122.3 139.3 118.7 139.5 124.2 139.1C129.7 138.7 129.7 138.9 135 139C140.3 139.1 136.2 138.3 140 139.5C143.8 140.7 141.3 140 146.3 142.5C151.3 145 149.2 144.1 155 147C160.8 149.9 158.1 148.3 163.8 151.3C169.5 154.3 167.3 153.7 172 156C176.7 158.3 170.6 156.1 177.8 158.3C185 160.5 183.7 159.8 193.6 162.7C203.5 165.6 197.1 164.4 207.6 167C218.1 169.6 214.2 168.8 225 170.5C235.8 172.2 231.4 171.2 240 172.2C248.6 173.2 242 173.1 250.7 173.5C259.4 173.9 258.7 173.8 266 173.5C273.3 173.2 264.7 173.5 272.7 172.7C280.7 171.9 279 172.5 290 171.2C301 169.9 295.3 170.6 305.8 168.8C316.3 167 311.4 168.1 321.5 165.7C331.6 163.3 331.2 162.9 336 161.5" stroke="#f04848" stroke-width="1.15" fill="none" stroke-linejoin="round"/><path d="M336 65C333.3 66 332.9 65.8 327.8 68.1C322.7 70.4 325.4 68.6 320.7 72C316 75.4 318.6 73.1 313.6 78.3C308.6 83.5 311 81.9 305.8 87.7C300.6 93.5 303.7 90.9 297.9 95.6C292.1 100.3 294.8 98.8 288.5 101.9C282.2 105 286.4 104.5 279 105C271.6 105.5 274.8 105.6 266.4 103.5C258 101.4 261.3 103 253.9 98.7C246.5 94.4 251.3 94.8 244.2 90.6C237.1 86.4 240.4 88.7 232.6 86C224.8 83.3 228.7 84 220.9 82.4C213.1 80.8 215.2 81.6 209.2 81.3C203.2 81 208.8 81 203 81.6C197.2 82.2 197.7 81.9 191.7 83C185.7 84.1 192.7 83 185 85C177.3 87 178.9 85.4 168.6 88.9C158.3 92.4 162.4 91.5 154.1 95.5C145.8 99.5 148.8 96.9 143.6 100.8C138.4 104.7 140.1 102.9 138.4 107.3C136.7 111.7 137.1 109.5 138.4 113.9C139.7 118.3 138.8 116.8 142.3 120.5C145.8 124.2 141.7 121.3 148.9 125C156.1 128.7 153 127.5 163.8 131.5C174.6 135.5 169.6 133.6 181.3 137C193 140.4 187.1 138.9 198.8 141.6C210.5 144.3 206.4 142.8 216.3 145.1C226.2 147.4 220.7 146.9 228.6 148.6C236.5 150.3 232.6 149.7 240 150.3C247.4 150.9 241.9 150.4 250.7 150.4C259.5 150.4 257.5 150.5 266.4 150.4C275.3 150.3 271.3 150.4 277.5 150C283.7 149.6 280.3 149.7 285 149.2C289.7 148.7 284.7 150 291.6 148.4C298.5 146.8 296.9 147 305.8 144.4C314.7 141.8 310.5 143.4 318.3 140.5C326.1 137.6 323.4 138.8 329.3 135.8C335.2 132.8 333.8 132.9 336 131.5" stroke="#f04848" stroke-width="1.15" fill="none" stroke-linejoin="round"/><path d="M176.7 104.4C177.5 102.6 176.7 102.9 179 100.8C181.3 98.7 179 99.6 183.5 98.1C188 96.6 186.5 96.8 192.5 96.3C198.5 95.8 196 95.5 201.4 96.7C206.8 97.9 204.7 97.3 208.6 99.9C212.5 102.5 211.1 101.4 213.1 104.4C215.1 107.4 214.8 106.2 214.5 108.9C214.2 111.6 214.5 110.1 212.2 112.5C209.9 114.9 211.3 114.1 207.7 116.1C204.1 118.1 205.8 117.9 201.3 118.5C196.8 119.1 198.7 118.6 194.3 117.9C189.9 117.2 192.2 118 188 116.5C183.8 115 185 115.6 181.7 113.4C178.4 111.2 179.8 112.2 178.1 109.8C176.4 107.4 177.2 108 176.7 106.2C176.2 104.4 175.9 106.2 176.7 104.4Z" stroke="#f04848" stroke-width="1.15" fill="none" stroke-linejoin="round"/><text x="215.3" y="76.5" class="cl" text-anchor="middle" textLength="9.8" lengthAdjust="spacingAndGlyphs" style="fill:#f04848">20</text><text x="172" y="159.4" class="cl" text-anchor="middle" textLength="9.8" lengthAdjust="spacingAndGlyphs" style="fill:#f04848">20</text><text x="266" y="176.9" class="cl" text-anchor="middle" textLength="9.8" lengthAdjust="spacingAndGlyphs" style="fill:#f04848">20</text><text x="203" y="85" class="cl" text-anchor="middle" textLength="9.8" lengthAdjust="spacingAndGlyphs" style="fill:#f04848">30</text><text x="285" y="152.6" class="cl" text-anchor="middle" textLength="9.8" lengthAdjust="spacingAndGlyphs" style="fill:#f04848">30</text><text x="201.3" y="122.2" class="cl" text-anchor="middle" textLength="9.8" lengthAdjust="spacingAndGlyphs" style="fill:#f04848">40</text><text x="240" y="69.9" class="cl" text-anchor="middle" textLength="9.8" lengthAdjust="spacingAndGlyphs" style="fill:#111">20</text><text x="107.4" y="102.9" class="cl" text-anchor="middle" textLength="9.8" lengthAdjust="spacingAndGlyphs" style="fill:#111">20</text><text x="118" y="155.6" class="cl" text-anchor="middle" textLength="9.8" lengthAdjust="spacingAndGlyphs" style="fill:#111">20</text><text x="198.5" y="168.4" class="cl" text-anchor="middle" textLength="9.8" lengthAdjust="spacingAndGlyphs" style="fill:#111">20</text><text x="285.5" y="173.4" class="cl" text-anchor="middle" textLength="9.8" lengthAdjust="spacingAndGlyphs" style="fill:#111">20</text><text x="144.3" y="114.7" class="cl" text-anchor="middle" textLength="9.8" lengthAdjust="spacingAndGlyphs" style="fill:#111">30</text><text x="220" y="79.4" class="cl" text-anchor="middle" textLength="9.8" lengthAdjust="spacingAndGlyphs" style="fill:#111">30</text><text x="252.3" y="147.8" class="cl" text-anchor="middle" textLength="9.8" lengthAdjust="spacingAndGlyphs" style="fill:#111">30</text><text x="333.8" y="60.9" class="cl" text-anchor="middle" textLength="9.8" lengthAdjust="spacingAndGlyphs" style="fill:#111">20</text><text x="333.8" y="69.7" class="cl" text-anchor="middle" textLength="9.8" lengthAdjust="spacingAndGlyphs" style="fill:#111">30</text>
</g>
<rect x="23.5" y="17.5" width="312" height="166" fill="none" stroke="#1a1a1a" stroke-width="1.15"/>
<text x="17.5" y="187.3" class="ax" text-anchor="end" textLength="10.6" lengthAdjust="spacingAndGlyphs">5N</text>
<text x="17.5" y="166.6" class="ax" text-anchor="end" textLength="16" lengthAdjust="spacingAndGlyphs">10N</text>
<text x="17.5" y="145.8" class="ax" text-anchor="end" textLength="16" lengthAdjust="spacingAndGlyphs">15N</text>
<text x="17.5" y="125.1" class="ax" text-anchor="end" textLength="16" lengthAdjust="spacingAndGlyphs">20N</text>
<text x="17.5" y="104.3" class="ax" text-anchor="end" textLength="16" lengthAdjust="spacingAndGlyphs">25N</text>
<text x="17.5" y="83.5" class="ax" text-anchor="end" textLength="16" lengthAdjust="spacingAndGlyphs">30N</text>
<text x="17.5" y="62.8" class="ax" text-anchor="end" textLength="16" lengthAdjust="spacingAndGlyphs">35N</text>
<text x="17.5" y="42" class="ax" text-anchor="end" textLength="16" lengthAdjust="spacingAndGlyphs">40N</text>
<text x="17.5" y="21.3" class="ax" text-anchor="end" textLength="16" lengthAdjust="spacingAndGlyphs">45N</text>
<text x="32.9" y="195.8" class="ax" text-anchor="middle" textLength="20.5" lengthAdjust="spacingAndGlyphs">100E</text>
<text x="67.5" y="195.8" class="ax" text-anchor="middle" textLength="20.5" lengthAdjust="spacingAndGlyphs">110E</text>
<text x="102.2" y="195.8" class="ax" text-anchor="middle" textLength="20.5" lengthAdjust="spacingAndGlyphs">120E</text>
<text x="136.8" y="195.8" class="ax" text-anchor="middle" textLength="20.5" lengthAdjust="spacingAndGlyphs">130E</text>
<text x="171.4" y="195.8" class="ax" text-anchor="middle" textLength="20.5" lengthAdjust="spacingAndGlyphs">140E</text>
<text x="206" y="195.8" class="ax" text-anchor="middle" textLength="20.5" lengthAdjust="spacingAndGlyphs">150E</text>
<text x="240.7" y="195.8" class="ax" text-anchor="middle" textLength="20.5" lengthAdjust="spacingAndGlyphs">160E</text>
<text x="275.3" y="195.8" class="ax" text-anchor="middle" textLength="20.5" lengthAdjust="spacingAndGlyphs">170E</text>
<text x="309.9" y="195.8" class="ax" text-anchor="middle" textLength="15.5" lengthAdjust="spacingAndGlyphs">180</text>
<path d="M23.5 183.5h-3M23.5 162.8h-3M23.5 142h-3M23.5 121.3h-3M23.5 100.5h-3M23.5 79.8h-3M23.5 59h-3M23.5 38.2h-3M23.5 17.5h-3M32.5 183.5v3M67.1 183.5v3M101.8 183.5v3M136.4 183.5v3M171 183.5v3M205.6 183.5v3M240.3 183.5v3M274.9 183.5v3M309.5 183.5v3" stroke="#1a1a1a" stroke-width="1" fill="none"/>
<text x="86.7" y="11.6" class="tt" textLength="35" lengthAdjust="spacingAndGlyphs">RCP45</text>
<text x="128.8" y="11.6" class="tt" textLength="65.5" lengthAdjust="spacingAndGlyphs">2080−2100</text>
<text x="201.4" y="11.6" class="tt" textLength="19.6" lengthAdjust="spacingAndGlyphs">and</text>
<text x="227.3" y="11.6" class="tt" textLength="45.5" lengthAdjust="spacingAndGlyphs">Baseline</text>
<text x="29.7" y="34.8" class="pl" textLength="18" lengthAdjust="spacingAndGlyphs">(a)</text>
<path d="M193.7 206.9h19.2" stroke="#222" stroke-width="0.7"/>
<path d="M193.7 216.9h19.2" stroke="#f07070" stroke-width="0.8"/>
<text x="216.8" y="210.4" class="lg" textLength="44" lengthAdjust="spacing">Baseline</text>
<text x="216.8" y="220.4" class="lg" textLength="35" lengthAdjust="spacing">RCP45</text>
<path d="M264.4 200.7h17" stroke="#444" stroke-width="0.6"/>
<path d="M282.4 200.7l-2.2 -0.9v1.8z" fill="#333"/>
<text x="273.4" y="208.2" class="rv" text-anchor="middle">2</text>
<clipPath id="cb"><rect x="370.5" y="16.5" width="311.3" height="166"/></clipPath>
<g clip-path="url(#cb)">
<path d="M369.1 14.4 504.6 14.4 504.6 16.5 502.1 20.6 501.1 21.9 498 24 495.6 25.8 491.8 25.2 489.4 24 487.6 26.5 485.2 27.5 483.8 29 482.4 29.8 481.8 32.3 479.7 33.9 478 36.4 476.2 37.7 474.5 38.9 474.2 40.6 476.2 41.8 478 43.9 479.7 46.4 481.1 49.7 481.4 53.9 481.1 55.9 480 57.6 478 58.4 474.8 59.7 471 60.7 470.4 58.8 471 55.9 471.4 52.6 470 50.5 471.7 47.6 469.7 46.6 466.6 46.8 464.8 45.1 466.6 43.1 466.9 39.7 464.5 38.5 463.1 37.9 458.9 38.9 456.2 40.6 453.1 42.2 454.1 39.7 453.8 37.7 456.2 35.2 454.8 33.5 452 33.5 449.6 36 446.9 38.1 445.1 40.6 442.4 41 440.6 41.8 440.3 43.5 441.7 45.1 444.4 47.2 445.1 48.9 447.9 49.3 450.3 47.2 453.8 47.6 457.2 48 457.2 50.1 453.8 50.9 451 52.2 449.6 53.9 446.9 55.9 445.8 58.8 447.9 60.5 449.6 63 451.3 67.1 453.4 69.2 455.1 71.7 455.1 74.2 452.7 76.3 455.1 78.8 454.5 81.7 453.8 85 452.4 87.1 450.7 90 448.6 92.9 447.2 95.4 446.9 97.8 445.1 99.5 443.7 101.2 441 102.8 438.9 105.3 436.5 107.8 433 108.6 430.6 109.5 428.5 110.7 426.5 109.9 425.8 112 422.7 112.8 419.9 113.6 417.5 114.4 415.8 115.3 415.4 118.6 414.7 119 413.7 117.3 413 114 410.6 113.6 407.8 113.6 405.7 114.9 402.6 117.3 400.9 120.3 399.5 123.6 400.2 126.1 402.3 129.8 404.4 133.1 407.8 136.9 409.9 140.2 410.9 145.2 411.6 149.3 411.3 153.5 410.6 155.9 407.1 158.4 403.7 160.1 402.3 162.2 401.2 164.2 398.5 167.1 396.1 167.6 396.1 163.8 396.4 161.3 394.7 160.1 391.9 159.7 390.2 156.8 388.5 153 387.1 151.8 384.3 150.5 382.6 150.5 382.6 147.6 380.2 147.2 379.5 149.3 379.1 152.6 377.8 156.8 376.7 160.5 376.7 164.2 379.1 165.1 380.2 168.4 380.9 173 382.6 174.6 384.7 175 386.7 177.5 388.5 179.6 390.2 181.7 391.2 184.6 380.9 184.6 380.9 182.5 380.5 179.2 379.8 176.3 378.4 174.6 377.1 172.1 374.6 169.6 373.6 168 373.6 165.9 374.3 161.8 374.6 158.4 375 154.3 374.6 151.8 373.3 148.5 372.6 143.1 371.5 138.5 370.5 134.8 369.1 133.5ZM452 98.3 454.1 98.3 455.5 99.5 454.8 102.4 453.8 105.7 452.7 109 451.7 112 451 110.7 449.6 109.5 448.9 107.4 449.3 104.5 450.7 101.6 452 99.5ZM414.7 119.8 416.5 119.8 417.5 121.9 415.8 125.2 414 126.9 412.3 127.7 409.5 126.5 409.2 123.6 411.3 121.1 413 120.3ZM483.1 63 484.9 62.2 486.6 62.6 489 64.2 489.7 67.1 488.3 72.5 486.9 73.8 485.6 74.6 483.8 73.4 483.8 70.5 484.9 68 483.5 67.1 482.4 65.5 481.8 64.6ZM491.8 62.6 493.8 61.3 497 60.9 499.4 61.3 499.4 63 497.6 64.6 495.6 64.6 493.5 67.1 491.8 65.9 491.4 64.2ZM486.2 62.2 488.3 60.1 491.1 56.8 493.5 55.9 497 55.5 501.1 55.1 503.5 55.1 504.2 53.4 506.6 49.7 506.6 48 508.4 47.6 507.3 50.5 509 50.1 512.5 48.5 515.3 45.6 517 41.8 517.7 38.9 517 37.2 517.7 34.8 518.7 32.3 520.8 32.3 522.5 31.4 522.9 35.2 524.6 39.3 522.9 44.3 521.1 44.7 521.1 49.7 519.8 52.6 520.4 55.1 518.7 57.6 517 56.8 516.6 58.4 514.6 57.2 513.5 59.7 511.8 59.7 508 59.7 506.6 60.9 504.9 64.2 503.2 64.2 500.8 63 501.1 60.1 497.6 59.2 493.5 60.5 491.1 61.3 489 62.2 486.6 62.6ZM517.7 26.5 518 29.4 519.8 31 521.8 29.8 520.8 27.3 523.6 26.5 526.3 28.1 529.1 29.4 530.8 26.5 535 24.8 537 23.6 536 22.3 535 19.8 532.2 20.2 528.1 18.6 524.6 14.8 523.2 15.3 523.6 19 522.5 21.9 522.2 24 519.4 23.6 518.7 25.2ZM450.7 126.5 452.7 126.1 456.2 126.5 456.5 130.6 457.2 134.8 454.1 138.1 454.1 141 454.8 143.1 457.2 143.9 459.6 144.7 462.4 146.8 463.4 149.3 462.4 151 460.3 149.3 457.6 146.8 454.8 146 451.7 146 450.7 143.9 451.7 142.7 450.3 141.8 448.6 138.9 447.9 135.6 449.6 134.8 450 130.6ZM455.5 174.2 455.8 171.7 458.3 170.9 460.7 170.9 461.7 168.4 463.4 168.8 465.2 165.9 467.2 162.6 469.3 164.7 470.4 170.1 471 174.2 470 177.1 467.9 173.4 467.2 178.4 465.9 179.2 463.1 177.5 462.4 174.2 461 171.7 458.9 172.1 457.2 174.2ZM449.6 147.2 452 146.8 453.8 148.9 452.7 152.2 451.3 152.2 450 149.7ZM455.1 154.3 457.6 155.1 459.3 156.8 457.9 159.3 455.8 159.7 455.1 157.6ZM456.9 158.8 459.6 158 460.7 160.5 459.3 165.5 457.6 164.2 456.9 160.9ZM461.4 156.4 462.7 158.4 461.7 161.8 460.3 163.8 460.3 160.9ZM461.7 161.3 464.1 161.3 463.8 163.4 461.7 163.4ZM463.4 155.5 465.9 155.9 466.6 160.9 465.2 161.8 463.8 158.8ZM463.4 151.4 466.9 151.4 468.3 154.3 467.6 157.2 465.9 156.8 464.5 154.3ZM447.5 155.9 448.2 157.6 445.1 161.8 441.7 165.1 439.3 168.4 438.6 167.6 441 163.8 444.1 160.1 446.2 157.2ZM429.6 184.6 432 182.5 433.4 180.4 435.5 177.9 437.2 174.4 438.9 174.6 440.6 176.7 442.4 179.2 446.2 182.1 446.5 184.6Z" fill="#aaaaaa"/>
<ellipse cx="380.2" cy="50.1" rx="1.8" ry="1.0" fill="#fff"/>
<ellipse cx="443.7" cy="65.1" rx="1.1" ry="0.8" fill="#fff"/>
<ellipse cx="449.3" cy="73.8" rx="1.0" ry="0.9" fill="#fff"/>
<ellipse cx="393" cy="149.7" rx="1.3" ry="0.8" fill="#fff"/>
<path d="M367.8 180.8l6 -0.7M374.7 180.8l6 -0.6M388.4 180.8l6.3 -0.6M395.1 180.8l6.8 -0.7M401.6 181l7.6 -1M408.1 181.1l8.3 -1.3M414.8 181.3l8.7 -1.5M421.7 181.4l8.9 -1.8M428.5 181.5l9 -2.1M442.3 181.8l9.1 -2.6M449.2 181.9l9.1 -2.8M456.1 182.1l9.1 -3.2M463 182.3l9.1 -3.5M469.9 182.4l9.1 -3.8M476.9 182.5l9.1 -4M483.8 182.6l9.1 -4.2M490.7 182.6l9.1 -4.3M497.6 182.6l9 -4.3M504.7 182.6l8.7 -4.2M511.8 182.5l8.3 -4M518.8 182.5l8.1 -4M525.9 182.5l7.8 -4.1M533 182.6l7.5 -4.3M540.1 182.7l7.1 -4.4M547.2 182.8l6.7 -4.6M554.4 182.9l6 -4.7M561.7 182.9l5.3 -4.9M568.8 182.9l4.9 -4.9M576 182.8l4.4 -4.7M583.2 182.7l3.7 -4.3M590.4 182.5l3.1 -4.1M597.7 182.3l2.4 -3.6M605.4 181.7l0.7 -2.5M613.4 181l-1.5 -1.1M620.9 180.7l-2.6 -0.4M628.1 180.5l-3.2 -0.1M635.5 180.4l-4.1 0.3M642.9 180.2l-5.2 0.7M650.1 180.1l-5.8 0.9M657.2 180l-6.1 0.9M664.3 180l-6.5 1M671.4 180l-6.8 1M678.3 180l-6.9 1M685.3 180l-7 1M367.8 172.2l6 0.2M381.6 172l6.1 0.5M388.4 171.9l6.3 0.6M395.1 172l6.7 0.6M401.7 172.1l7.3 0.4M408.3 172.2l8 0M415 172.4l8.4 -0.4M421.8 172.6l8.7 -0.8M428.6 172.8l8.9 -1.2M435.4 173l9.1 -1.5M442.2 173.2l9.2 -1.9M449.1 173.4l9.3 -2.2M456 173.6l9.3 -2.7M469.8 173.9l9.3 -3.4M476.7 174l9.3 -3.5M483.7 174.1l9.3 -3.7M490.6 174.2l9.3 -3.8M497.5 174.2l9.2 -3.9M504.6 174.2l8.9 -3.8M511.7 174.2l8.5 -3.8M518.7 174.2l8.3 -3.9M525.8 174.2l7.9 -4M532.9 174.3l7.5 -4.2M540 174.4l7.1 -4.3M547.2 174.5l6.7 -4.5M554.4 174.6l6 -4.7M561.7 174.7l5.3 -4.9M568.8 174.7l4.9 -4.9M576 174.6l4.4 -4.7M583.2 174.5l3.8 -4.5M590.4 174.4l3.2 -4.2M597.6 174.2l2.6 -3.8M605.3 173.7l1 -2.9M613.2 173.1l-0.9 -1.7M620.6 172.7l-2 -1M627.9 172.5l-2.7 -0.6M635.3 172.3l-3.7 -0.2M642.7 172.1l-4.8 0.3M650 172l-5.5 0.6M657.1 171.9l-5.9 0.7M664.2 171.8l-6.3 0.8M671.3 171.8l-6.7 0.9M678.3 171.8l-6.8 0.9M685.2 171.8l-6.9 0.9M367.9 163.2l6 1.7M374.8 163.1l6 1.9M381.7 163l6 2.1M388.6 162.9l6 2.2M402.1 162.9l6.6 2.2M408.8 163.1l7.1 1.9M415.4 163.3l7.6 1.4M422.1 163.6l8 0.8M428.8 163.9l8.4 0.3M435.6 164.1l8.8 -0.2M442.3 164.3l9.1 -0.6M449.1 164.6l9.3 -1.1M456 164.9l9.4 -1.6M469.7 165.3l9.6 -2.5M476.6 165.4l9.5 -2.6M483.6 165.5l9.5 -2.8M490.5 165.5l9.4 -3M497.5 165.6l9.3 -3.1M504.6 165.6l9 -3.2M511.6 165.7l8.7 -3.4M518.7 165.8l8.4 -3.6M525.8 165.9l8 -3.8M533 166l7.5 -4M540.1 166.1l7 -4.1M547.3 166.2l6.5 -4.3M554.5 166.3l5.8 -4.6M561.8 166.5l5 -4.8M569 166.5l4.5 -4.9M576.1 166.5l4.1 -4.9M583.2 166.4l3.6 -4.8M590.3 166.3l3.3 -4.6M597.5 166.2l2.8 -4.3M605 165.9l1.6 -3.7M612.6 165.5l0.1 -2.9M620.1 165.2l-0.9 -2.3M627.5 164.9l-1.9 -1.7M635 164.6l-3.2 -1.1M642.5 164.3l-4.3 -0.5M649.8 164.1l-5.1 -0.1M657.1 163.9l-5.8 0.2M664.3 163.8l-6.4 0.4M671.3 163.8l-6.7 0.6M678.3 163.7l-6.8 0.6M685.2 163.7l-6.7 0.7M367.9 154.5l5.8 2.8M381.9 154.2l5.5 3.3M409.5 154l5.5 3.8M416.2 154.2l6 3.3M422.9 154.5l6.5 2.7M429.6 154.8l7 2.1M436.2 155.1l7.4 1.5M442.9 155.4l7.9 1M449.6 155.7l8.4 0.4M456.3 156l8.8 -0.2M469.9 156.5l9.1 -1.2M476.9 156.6l9.1 -1.4M483.8 156.7l8.9 -1.7M490.9 156.8l8.8 -1.9M497.9 156.9l8.5 -2.1M505 157l8.1 -2.3M512.1 157.2l7.7 -2.6M519.2 157.4l7.4 -2.9M526.3 157.5l6.9 -3.3M533.5 157.7l6.4 -3.6M540.6 157.8l6 -3.8M547.8 157.9l5.4 -4.1M555.2 158.1l4.4 -4.5M562.7 158.3l3.3 -4.8M570 158.4l2.5 -5M577.1 158.4l2 -5M584.1 158.4l1.9 -5M591 158.3l2 -4.9M597.9 158.2l2 -4.7M605.1 158l1.3 -4.2M612.6 157.7l0.2 -3.6M620.1 157.4l-1 -3M627.8 157l-2.5 -2.2M635.5 156.5l-4.2 -1.3M643.1 156.2l-5.6 -0.7M650.5 156l-6.6 -0.3M657.8 155.9l-7.3 -0.1M664.9 155.8l-7.7 0.1M671.8 155.8l-7.7 0.2M678.6 155.7l-7.5 0.3M685.4 155.7l-7.1 0.3M368.3 145.9l5.1 3.8M410.3 145.2l4 5.1M417.1 145.4l4.3 4.8M423.8 145.6l4.7 4.3M430.5 145.9l5.1 3.7M437.2 146.2l5.5 3.2M443.8 146.4l6.1 2.7M450.3 146.7l6.8 2.1M463.7 147.2l7.8 1.1M470.6 147.5l7.8 0.6M477.6 147.6l7.6 0.2M484.7 147.8l7.3 -0.1M491.8 148l6.9 -0.5M498.9 148.2l6.5 -0.8M506.1 148.3l6 -1.1M513.3 148.5l5.3 -1.4M520.5 148.7l4.7 -1.8M527.7 148.9l4.2 -2.3M534.7 149.2l3.9 -2.9M541.8 149.4l3.7 -3.3M549 149.6l3 -3.7M556.5 149.9l1.9 -4.3M564 150.2l0.6 -4.8M571.5 150.4l-0.5 -5.2M578.6 150.4l-1 -5.4M585.5 150.4l-0.8 -5.3M592.1 150.3l-0.2 -5.1M598.7 150.2l0.3 -4.8M605.7 149.9l0.2 -4.4M613.1 149.6l-0.7 -3.8M620.6 149.3l-2 -3.1M628.3 148.9l-3.6 -2.2M636.1 148.4l-5.4 -1.3M643.8 148l-7 -0.5M651.3 147.8l-8.2 0M658.6 147.6l-8.8 0.2M665.6 147.6l-9 0.3M672.3 147.7l-8.7 0.2M679 147.7l-8.2 0.1M685.6 147.8l-7.5 0M369.1 137.1l3.5 5.2M411 136.8l2.5 6M417.9 136.8l2.7 5.8M424.7 137l2.9 5.5M431.4 137.2l3.2 5.1M438.1 137.4l3.6 4.7M444.7 137.6l4.3 4.2M457.8 138.1l5.8 3.3M464.6 138.3l6 3M471.6 138.5l5.9 2.5M478.6 138.7l5.5 2.1M485.8 138.9l5 1.6M493 139.2l4.4 1.1M500.2 139.4l4 0.6M507.2 139.7l3.6 0M514.3 140l3.3 -0.5M521.4 140.2l2.9 -1M528.5 140.5l2.5 -1.5M535.6 140.7l2.1 -2M542.7 141l1.7 -2.5M549.9 141.2l1.2 -3M557.2 141.6l0.5 -3.7M564.5 142l-0.4 -4.5M571.7 142.3l-1 -5.1M578.8 142.4l-1.3 -5.4M585.7 142.4l-1.2 -5.3M592.3 142.3l-0.8 -5M599 142.1l-0.3 -4.7M606 141.9l-0.3 -4.3M613.2 141.6l-0.9 -3.8M620.5 141.4l-1.8 -3.4M628 141.1l-2.9 -2.8M635.6 140.8l-4.3 -2.1M643.1 140.4l-5.6 -1.4M650.6 140.2l-6.6 -0.9M657.8 140l-7.3 -0.5M664.9 139.8l-7.6 -0.2M671.7 139.8l-7.5 -0.2M678.5 139.9l-7.1 -0.3M685.1 139.9l-6.6 -0.4M404.8 128.5l1.3 6.5M411.7 128.5l1.3 6.5M418.5 128.5l1.3 6.4M425.4 128.6l1.4 6.3M432.2 128.7l1.6 6.1M438.9 128.9l2 5.7M445.5 129.2l2.6 5.2M458.7 129.7l4 4.1M465.5 129.9l4.2 3.8M472.5 130l4 3.5M479.6 130.2l3.5 3M486.9 130.5l2.8 2.5M494.2 130.7l2.1 2M501.3 131l1.6 1.5M508.3 131.3l1.4 1M515.3 131.6l1.4 0.4M522.3 131.8l1.2 -0.1M529.4 132l0.7 -0.4M536.6 132.1l0.2 -0.7M543.6 132.2l0 -1M550.6 132.4l-0.1 -1.4M557.6 132.7l-0.3 -2M564.6 133.2l-0.5 -2.8M571.5 133.5l-0.5 -3.5M578.4 133.7l-0.6 -3.9M585.3 133.8l-0.5 -4.1M592.1 133.8l-0.2 -4.1M598.9 133.8l0 -4M605.8 133.7l0 -3.9M612.8 133.7l-0.2 -3.8M619.9 133.6l-0.6 -3.7M627.1 133.5l-1.1 -3.5M634.3 133.4l-1.8 -3.2M641.6 133.2l-2.5 -2.9M648.9 133l-3.3 -2.5M656.1 132.7l-4 -1.9M663.3 132.5l-4.6 -1.5M670.4 132.4l-4.8 -1.2M677.3 132.3l-4.8 -1.2M684.1 132.4l-4.6 -1.2M405.1 120.5l0.6 6.8M419 120.5l0.5 6.8M425.9 120.5l0.5 6.7M432.8 120.6l0.5 6.6M439.6 120.8l0.6 6.2M446.5 121.2l0.8 5.3M453.3 121.9l1 4M460.1 122.2l1.2 3.3M466.9 122.3l1.4 3.2M473.8 122.4l1.4 3M480.9 122.5l1 2.8M488.2 122.6l0.3 2.5M495.4 122.8l-0.4 2.1M502.5 123l-0.8 1.8M509.5 123.1l-1 1.5M516.5 123.3l-1 1.2M523.4 123.4l-1.1 0.9M530.4 123.6l-1.3 0.6M537.4 123.7l-1.4 0.4M544.3 123.8l-1.4 0.2M551.1 123.9l-1.2 -0.1M557.9 124.1l-1 -0.5M564.7 124.4l-0.8 -1.1M571.5 124.7l-0.6 -1.7M578.3 125l-0.4 -2.2M585.1 125.2l-0.2 -2.7M591.9 125.4l0.1 -3.1M598.8 125.6l0.2 -3.4M605.6 125.7l0.3 -3.6M612.6 125.7l0.3 -3.7M619.5 125.8l0.2 -3.8M626.5 125.8l0.1 -3.8M633.5 125.8l-0.2 -3.8M640.6 125.7l-0.5 -3.6M647.7 125.5l-1 -3.3M655 125.3l-1.7 -2.8M662.3 125l-2.4 -2.2M669.4 124.9l-2.8 -2M676.3 124.8l-2.9 -1.9M683.3 124.8l-2.9 -1.9M405.3 112.6l0.2 6.9M412.2 112.6l0.2 6.9M419.1 112.6l0.1 6.9M426.1 112.6l0.1 6.9M433.1 112.7l-0.1 6.7M440.2 113.1l-0.4 6.1M447.5 113.9l-1.2 4.3M454.8 114.9l-2 2.4M461.8 115.3l-2.3 1.7M468.7 115.3l-2.2 1.5M475.6 115.3l-2.3 1.6M482.6 115.3l-2.5 1.5M489.7 115.3l-2.7 1.5M496.6 115.3l-2.8 1.5M503.5 115.4l-2.8 1.4M510.4 115.4l-2.7 1.4M517.2 115.4l-2.5 1.3M524 115.5l-2.4 1.1M530.9 115.7l-2.3 0.8M537.8 115.8l-2.2 0.5M544.6 115.9l-2 0.3M551.4 116l-1.8 0.1M558.2 116.1l-1.5 -0.1M565 116.3l-1.3 -0.5M571.8 116.6l-1.1 -1M578.5 116.8l-0.8 -1.5M585.3 117.1l-0.5 -2M592.1 117.4l-0.2 -2.5M598.8 117.6l0.1 -3M605.7 117.7l0.2 -3.3M612.5 117.8l0.4 -3.5M619.4 117.9l0.4 -3.7M626.3 117.9l0.4 -3.7M633.3 117.9l0.3 -3.7M640.3 117.9l0.1 -3.7M647.4 117.8l-0.2 -3.4M654.6 117.6l-0.9 -3M661.9 117.3l-1.6 -2.5M668.9 117.2l-1.9 -2.3M675.9 117.2l-2 -2.3M682.8 117.2l-2.1 -2.2M440.7 105.9l-1.4 4.9M448.4 107.3l-3.1 2.1M455.8 108.2l-4 0.4M462.9 108.4l-4.4 -0.1M469.8 108.4l-4.5 -0.1M476.8 108.3l-4.6 0.1M483.7 108.2l-4.7 0.4M490.6 108.1l-4.6 0.6M497.5 108l-4.5 0.7M504.3 108l-4.2 0.8M511 107.9l-4 0.9M517.8 107.9l-3.6 0.9M524.5 108l-3.2 0.7M531.2 108.2l-2.8 0.4M538 108.2l-2.5 0.3M544.8 108.3l-2.3 0.2M551.6 108.4l-2.1 0.1M558.4 108.4l-2 -0.1M565.2 108.5l-1.8 -0.3M572 108.7l-1.6 -0.7M578.8 108.9l-1.3 -1.1M585.6 109.2l-1 -1.6M592.3 109.5l-0.6 -2.3M599 109.8l-0.2 -2.8M605.8 109.9l0 -3.1M612.6 110.1l0.2 -3.3M619.4 110.1l0.4 -3.5M626.3 110.2l0.4 -3.5M633.2 110.2l0.4 -3.6M640.2 110.1l0.3 -3.5M647.3 110.1l0 -3.4M654.5 109.9l-0.7 -3M661.7 109.7l-1.3 -2.7M668.8 109.7l-1.6 -2.5M675.7 109.6l-1.7 -2.5M682.6 109.6l-1.7 -2.5M449.2 101.9l-4.6 -2.1M463.2 101.9l-5.1 -2.3M470.2 101.7l-5.3 -1.8M477.2 101.4l-5.5 -1.1M484.2 101.1l-5.5 -0.6M491.1 100.9l-5.5 -0.2M498 100.7l-5.5 0.1M504.8 100.6l-5.3 0.3M511.6 100.6l-5 0.4M518.3 100.5l-4.6 0.5M524.9 100.6l-4.1 0.5M531.5 100.6l-3.4 0.4M538.1 100.7l-2.9 0.3M544.9 100.7l-2.6 0.2M551.7 100.7l-2.4 0.1M558.5 100.8l-2.2 -0.1M565.4 100.9l-2.1 -0.3M572.2 101.1l-1.9 -0.6M579 101.3l-1.6 -1M585.7 101.5l-1.3 -1.5M592.4 101.9l-0.9 -2.2M599.2 102.1l-0.5 -2.7M605.9 102.3l-0.3 -3M612.7 102.4l0 -3.3M619.5 102.5l0.2 -3.4M626.4 102.5l0.3 -3.5M633.3 102.5l0.3 -3.5M640.2 102.5l0.2 -3.5M647.3 102.5l-0.1 -3.4M654.5 102.3l-0.7 -3.1M661.7 102.2l-1.3 -2.9M668.8 102.2l-1.6 -2.7M675.7 102.1l-1.7 -2.7M682.7 102.1l-1.7 -2.7M456.1 95.2l-4.8 -3.9M463.1 95l-4.9 -3.5M470.2 94.7l-5.1 -2.8M477.2 94.3l-5.4 -2M484.2 93.9l-5.7 -1.2M491.2 93.6l-5.8 -0.6M498.1 93.4l-5.8 -0.2M505 93.3l-5.7 0.1M511.7 93.1l-5.4 0.3M518.4 93.1l-4.9 0.5M525 93l-4.4 0.5M531.6 93.1l-3.7 0.5M538.3 93.1l-3.2 0.4M545 93.1l-2.9 0.3M551.8 93.2l-2.6 0.2M558.6 93.3l-2.4 0M565.5 93.4l-2.3 -0.2M572.3 93.6l-2 -0.6M579.1 93.8l-1.8 -1M585.8 94l-1.6 -1.5M592.6 94.4l-1.2 -2.1M599.3 94.6l-0.8 -2.7M606.1 94.8l-0.6 -3M612.8 94.9l-0.3 -3.2M619.6 95l0 -3.4M626.5 95l0.1 -3.4M633.4 95l0.1 -3.5M640.3 95l0 -3.5M647.4 95l-0.3 -3.4M654.6 94.9l-0.9 -3.2M661.8 94.8l-1.5 -3M668.9 94.8l-1.8 -2.9M675.8 94.7l-1.9 -2.9M682.8 94.7l-1.9 -2.9M455.8 88.2l-4.2 -4.6M462.8 88.1l-4.3 -4.3M469.9 87.8l-4.6 -3.7M477 87.3l-5 -2.8M484.1 86.8l-5.4 -1.8M491.2 86.4l-5.7 -0.9M498.1 86.1l-5.8 -0.3M505 85.8l-5.7 0.2M511.7 85.6l-5.4 0.6M518.4 85.5l-5 0.9M525.1 85.5l-4.5 1M531.8 85.5l-4 0.8M538.5 85.6l-3.6 0.7M545.2 85.7l-3.3 0.6M552 85.7l-3 0.4M558.8 85.8l-2.7 0.2M565.5 86l-2.4 -0.1M572.3 86.2l-2.1 -0.5M579.1 86.4l-1.9 -0.9M585.9 86.6l-1.6 -1.4M592.6 86.9l-1.3 -1.9M599.4 87.2l-1 -2.5M606.1 87.4l-0.7 -2.9M612.9 87.5l-0.5 -3.1M619.7 87.6l-0.2 -3.3M626.6 87.6l-0.1 -3.4M633.5 87.7l-0.1 -3.4M640.5 87.7l-0.2 -3.5M647.5 87.6l-0.5 -3.4M654.7 87.6l-1 -3.3M661.9 87.5l-1.6 -3.1M669 87.4l-2 -3M676 87.4l-2.2 -3M683 87.4l-2.3 -3M462.5 81.2l-3.6 -5M469.5 80.9l-3.9 -4.4M476.7 80.4l-4.4 -3.5M483.9 79.9l-4.9 -2.4M491 79.3l-5.3 -1.2M498 78.8l-5.5 -0.3M504.8 78.4l-5.4 0.6M511.7 78l-5.2 1.4M518.5 77.7l-5 2M525.3 77.7l-4.8 2M532.1 77.8l-4.6 1.7M538.9 78l-4.4 1.4M545.6 78.1l-4.1 1.1M552.3 78.2l-3.6 0.9M558.9 78.3l-3 0.7M565.6 78.4l-2.5 0.5M572.2 78.7l-1.9 0.1M578.9 78.9l-1.5 -0.5M585.7 79.1l-1.3 -0.9M592.5 79.3l-1 -1.3M599.2 79.6l-0.6 -1.8M606 79.9l-0.4 -2.4M612.8 80l-0.3 -2.7M619.7 80.1l-0.1 -2.9M626.5 80.2l0 -3.1M633.5 80.3l-0.1 -3.3M640.5 80.4l-0.3 -3.5M647.5 80.4l-0.5 -3.5M654.6 80.3l-0.9 -3.3M661.8 80.2l-1.5 -3.1M668.9 80.2l-1.8 -3M675.9 80.2l-2.1 -3M682.9 80.2l-2.3 -3M462 74.3l-2.7 -5.6M469.1 74.1l-3 -5.1M476.2 73.7l-3.5 -4.3M483.4 73.1l-4 -3.2M497.7 71.7l-4.9 -0.2M504.6 71.1l-5 0.9M511.6 70.7l-5 1.8M518.5 70.4l-5 2.4M525.4 70.3l-5 2.5M532.2 70.4l-4.9 2.3M539.1 70.5l-4.7 2M545.7 70.7l-4.3 1.8M552.2 70.8l-3.4 1.6M558.6 70.8l-2.4 1.5M565 70.8l-1.4 1.5M571.5 71l-0.4 1.2M577.9 71.1l0.4 0.8M584.5 71.3l1 0.5M591.2 71.4l1.5 0.2M597.9 71.7l1.9 -0.3M604.7 72l2.3 -0.8M611.5 72.2l2.3 -1.4M618.5 72.5l2.3 -1.8M625.4 72.7l2.3 -2.2M632.2 72.9l2.4 -2.7M639.2 73.1l2.2 -3M646.3 73.2l1.9 -3.2M653.5 73.2l1.4 -3.3M660.6 73.2l1 -3.2M667.7 73.2l0.6 -3.2M674.7 73.2l0.3 -3.3M681.8 73.2l0.1 -3.4M454.6 67.6l-1.7 -6.1M461.6 67.5l-1.9 -6M468.7 67.4l-2.2 -5.7M475.7 67.1l-2.5 -5.1M482.9 66.6l-2.9 -4.1M504.5 64.3l-4.6 0.6M511.5 63.7l-4.9 1.7M518.4 63.3l-5 2.5M525.4 63.1l-5 3M532.3 63l-5 3.1M539.1 63.1l-4.8 2.9M545.7 63.2l-4.2 2.7M552.1 63.3l-3.2 2.5M558.3 63.3l-1.8 2.4M564.5 63.3l-0.3 2.6M570.7 63.3l1.2 2.6M576.9 63.3l2.5 2.6M583.3 63.3l3.6 2.5M589.9 63.5l4.2 2M596.8 63.9l4.2 1.3M603.7 64.3l4.2 0.6M610.6 64.6l4.1 -0.1M617.6 64.9l4.1 -0.7M624.5 65.2l4.1 -1.3M631.3 65.5l4.2 -1.9M638.1 65.9l4.4 -2.6M645 66.2l4.5 -3.3M652 66.4l4.3 -3.7M659.2 66.5l3.7 -3.9M666.4 66.6l3.2 -4M673.5 66.6l2.8 -4.1M680.6 66.6l2.4 -4.1M447.4 60.8l-1 -6.2M454.4 60.8l-1.2 -6.2M461.4 60.8l-1.4 -6.1M468.4 60.7l-1.7 -5.9M482.6 60.1l-2.3 -4.7M489.7 59.6l-2.8 -3.8M525.5 55.8l-5.2 3.8M532.4 55.6l-5.2 4.1M539.2 55.7l-5 4M545.8 55.9l-4.4 3.6M552.2 56.1l-3.5 3.3M558.4 56.1l-2 3.2M564.5 56l-0.3 3.4M570.5 55.8l1.4 3.8M576.6 55.7l3 4.1M583.1 55.8l4 3.8M589.8 56.2l4.3 3M596.7 56.6l4.3 2.2M603.7 57l4.2 1.3M610.7 57.4l4.1 0.5M617.6 57.8l4 -0.2M624.5 58.2l4.1 -0.9M631.3 58.6l4.3 -1.7M638.1 59l4.5 -2.6M644.9 59.4l4.7 -3.5M651.8 59.9l4.8 -4.4M658.8 60.2l4.6 -5.1M666 60.3l4 -5.1M673.2 60.2l3.4 -5.1M680.3 60.2l2.9 -5M454.2 54.1l-0.9 -6.2M461.2 54.1l-1.1 -6.2M468.3 54l-1.4 -6M482.4 53.6l-2.1 -5.2M489.5 53.4l-2.3 -4.9M496.6 53.1l-2.7 -4.3M503.7 52.6l-3.2 -3.3M525.6 48.8l-5.5 4.3M532.6 48.6l-5.6 4.7M539.4 48.8l-5.4 4.5M546.1 49l-5 4M552.6 49.1l-4.1 3.7M558.8 49.1l-2.8 3.7M564.9 48.9l-1.1 4.1M570.9 48.6l0.7 4.7M577.1 48.4l2.2 5.1M583.6 48.7l2.9 4.6M590.4 49.1l3.2 3.7M597.2 49.6l3.3 2.8M604.2 50.1l3.3 1.8M611.2 50.6l3.1 0.8M618.1 51l3 0M625 51.4l3.1 -0.9M631.8 51.9l3.3 -1.8M638.6 52.4l3.5 -2.9M645.4 53l3.7 -4M652.3 53.5l3.7 -5.1M659.2 54l3.7 -6.1M666.4 54.1l3.3 -6.2M673.5 54l2.7 -6M680.6 53.9l2.3 -5.8M447.2 47.4l-0.6 -6.1M454.1 47.4l-0.7 -6.1M461.1 47.5l-0.8 -6.1M482.4 47.2l-2.1 -5.6M489.5 47.2l-2.3 -5.6M496.5 47.1l-2.6 -5.4M503.6 46.9l-3 -5M510.9 46.4l-3.7 -3.9M525.9 42.8l-6.1 3.2M533 42.2l-6.4 4.4M539.8 42.2l-6.2 4.4M546.5 42.4l-5.8 4.1M553.1 42.5l-5.1 3.8M559.4 42.4l-3.9 3.9M565.5 42.2l-2.4 4.5M571.7 41.7l-0.9 5.4M578 41.5l0.3 5.7M584.6 41.8l1 5.2M591.3 42.2l1.4 4.5M598.1 42.6l1.6 3.5M604.9 43.2l1.8 2.4M611.9 43.8l1.7 1.2M618.9 44.4l1.5 0M625.7 44.9l1.7 -1.1M632.5 45.6l1.9 -2.4M639.4 46.2l1.9 -3.6M646.3 46.7l1.8 -4.7M653.3 47.2l1.8 -5.7M660.2 47.7l1.7 -6.7M667.2 48l1.6 -7.1M674.3 47.7l1.3 -6.7M681.3 47.6l1.1 -6.3M454.1 41l-0.6 -6M482.5 40.8l-2.2 -5.8M489.6 40.8l-2.5 -5.6M496.7 40.6l-2.9 -5.4M503.9 40.4l-3.4 -5M511.1 40l-4.1 -4.2M518.5 39l-5.1 -2M533.4 36.1l-7.2 3.7M540.3 35.9l-7.1 4.1M547 36l-6.8 3.9M553.6 36.1l-6.1 3.7M560 36l-5.1 3.9M566.2 35.7l-3.8 4.5M572.6 35.2l-2.7 5.5M579.1 35l-1.9 5.8M585.8 35.3l-1.4 5.4M592.5 35.6l-1.1 4.7M599.4 36.1l-1 3.8M606.3 36.6l-0.9 2.8M613.2 37.2l-0.9 1.5M620 37.9l-0.8 0M627 38.7l-0.9 -1.4M633.9 39.3l-0.9 -2.7M640.7 39.9l-0.8 -3.9M647.6 40.4l-0.8 -4.9M654.5 40.9l-0.7 -5.9M661.4 41.4l-0.7 -6.8M668.3 41.6l-0.6 -7.3M675.2 41.4l-0.5 -6.8M682 41.2l-0.4 -6.5M489.8 34.4l-2.9 -5.4M497 34.2l-3.5 -5M504.1 33.9l-4 -4.5M511.4 33.4l-4.7 -3.5M518.8 32.5l-5.7 -1.8M526.3 31.3l-7 0.7M533.7 30.3l-7.8 2.7M540.6 30l-7.9 3.4M547.4 29.9l-7.6 3.4M554 30l-7 3.3M560.4 29.9l-6.1 3.6M566.9 29.5l-5.1 4.2M573.4 29.1l-4.4 5.1M580.1 28.9l-3.9 5.5M586.8 29.2l-3.5 5M593.6 29.6l-3.3 4.2M600.4 30.1l-3.1 3.2M607.2 30.6l-2.9 2.1M614 31.2l-2.6 1M620.8 31.6l-2.4 0M627.8 32.1l-2.6 -0.9M634.8 32.7l-2.8 -2M641.8 33.2l-2.9 -3.2M648.7 33.8l-3 -4.3M655.6 34.3l-3 -5.4M662.5 34.9l-2.9 -6.4M669.3 35l-2.6 -6.8M676 34.9l-2.2 -6.4M682.7 34.7l-1.9 -6.1M490.1 27.9l-3.5 -4.9M504.4 27.3l-4.6 -3.7M511.7 26.8l-5.3 -2.7M519.1 26.1l-6.2 -1.2M540.9 24.2l-8.5 2.6M547.7 24.1l-8.3 2.8M554.4 24.1l-7.7 2.9M560.8 23.9l-6.9 3.2M567.3 23.6l-6 3.7M574 23.3l-5.5 4.4M580.9 23l-5.4 5M587.6 23.3l-5 4.4M594.3 23.7l-4.7 3.6M601.1 24.2l-4.5 2.7M607.9 24.6l-4.2 1.7M614.7 25.1l-4 0.8M621.5 25.5l-3.8 0M628.5 25.9l-3.9 -0.8M635.5 26.3l-4.1 -1.7M642.5 26.8l-4.3 -2.7M649.5 27.4l-4.5 -3.7M656.5 27.9l-4.6 -4.8M663.4 28.4l-4.7 -5.8M670 28.4l-4 -5.8M676.6 28.3l-3.4 -5.7M683.3 28.3l-3 -5.6M511.9 20.5l-5.7 -2M519.2 19.9l-6.5 -0.8M526.6 19.2l-7.5 0.6M541.1 18.4l-8.8 2.2M548 18.3l-8.7 2.3M554.6 18.2l-8.2 2.5M561.1 18.1l-7.4 2.7M567.6 17.9l-6.6 3.2M574.3 17.6l-6.1 3.7M581.2 17.5l-6.1 4M588.2 17.5l-6.2 4M594.9 17.9l-5.9 3.2M601.7 18.3l-5.6 2.4M608.5 18.7l-5.4 1.6M615.3 19.1l-5.2 0.8M622.1 19.5l-5.1 0M629.1 19.8l-5.1 -0.7M636.1 20.2l-5.3 -1.5M643.1 20.7l-5.5 -2.4M650.1 21.1l-5.7 -3.3M657.1 21.6l-5.9 -4.3M663.8 21.9l-5.4 -4.8M670.4 21.9l-4.8 -4.9M677 21.9l-4.2 -4.9M683.7 21.9l-3.7 -4.9M391.8 16.6l-0.5 -6M398.7 16.6l-0.5 -6M405.6 16.6l-0.5 -6M412.6 16.6l-0.5 -6M419.5 16.6l-0.5 -6M426.4 16.6l-0.5 -6M433.3 16.6l-0.5 -6M440.2 16.6l-0.5 -6M447.1 16.6l-0.5 -6M454 16.6l-0.5 -6M461.2 16.6l-1 -5.9M468.9 16.2l-2.7 -5.3M476.4 15.9l-3.7 -4.5M483.6 15.6l-4.3 -3.9M490.7 15.4l-4.7 -3.5M497.7 15.1l-5 -3.1M504.8 14.9l-5.4 -2.5M512 14.5l-5.9 -1.7M519.3 13.9l-6.7 -0.6M526.7 13.3l-7.6 0.7M534 12.8l-8.4 1.6M541.2 12.6l-8.9 2M548.1 12.5l-8.9 2.1M554.7 12.5l-8.4 2.2M561.3 12.4l-7.7 2.4M567.8 12.2l-7 2.7M574.5 12.1l-6.5 3.1M581.3 12l-6.3 3.3M588.3 12l-6.5 3.2M595.4 12.1l-6.9 3M602.2 12.5l-6.7 2.2M609 12.9l-6.4 1.5M615.8 13.2l-6.3 0.7M622.7 13.6l-6.2 0M629.6 13.9l-6.2 -0.7M636.6 14.3l-6.4 -1.4M643.6 14.7l-6.6 -2.2M650.6 15.1l-6.8 -3.1M657.3 15.4l-6.3 -3.6M663.9 15.5l-5.7 -3.9M670.5 15.6l-5.1 -4.1M677.2 15.7l-4.6 -4.2M683.9 15.8l-4.2 -4.3" stroke="#4d4d4d" stroke-width="0.55" fill="none"/><path d="M373.9 180.2L372.5 180.9L372.3 179.8ZM380.8 180.2L379.4 180.9L379.3 179.8ZM394.7 180.2L393.3 180.9L393.2 179.8ZM401.9 180.2L400.5 180.8L400.4 179.7ZM409.2 180L407.8 180.7L407.7 179.7ZM416.5 179.9L415.1 180.6L415 179.5ZM423.6 179.7L422.3 180.5L422.1 179.4ZM430.6 179.6L429.3 180.4L429.1 179.3ZM437.5 179.4L436.3 180.3L436 179.2ZM451.4 179.2L450.2 180.1L449.9 179.1ZM458.3 179.1L457.1 180L456.8 179ZM465.2 178.9L464 179.9L463.7 178.9ZM472.1 178.7L471 179.8L470.6 178.7ZM479 178.6L477.9 179.7L477.5 178.7ZM486 178.5L484.8 179.6L484.4 178.6ZM492.9 178.4L491.8 179.5L491.3 178.5ZM499.8 178.4L498.7 179.5L498.2 178.5ZM506.6 178.4L505.6 179.5L505.1 178.5ZM513.4 178.4L512.3 179.5L511.9 178.5ZM520.1 178.5L519.1 179.6L518.6 178.6ZM526.9 178.5L525.8 179.6L525.4 178.6ZM533.7 178.4L532.7 179.6L532.1 178.6ZM540.4 178.4L539.4 179.6L538.9 178.6ZM547.1 178.3L546.2 179.5L545.6 178.6ZM553.8 178.2L553 179.5L552.3 178.6ZM560.4 178.1L559.6 179.5L558.9 178.6ZM567 178.1L566.3 179.4L565.6 178.6ZM573.7 178.1L573 179.5L572.3 178.7ZM580.3 178.2L579.7 179.6L578.9 178.8ZM586.9 178.3L586.4 179.8L585.5 179.1ZM593.5 178.5L593.1 180L592.2 179.3ZM600.1 178.7L599.7 180.2L598.8 179.6ZM606.1 179.2L606.3 180.6L605.3 180.4ZM612 179.9L613.2 180.3L612.6 181ZM618.3 180.3L619.7 180L619.6 181ZM624.9 180.5L626.4 179.9L626.4 181ZM631.4 180.6L632.8 180L632.9 181.1ZM637.7 180.8L639.1 180.1L639.3 181.2ZM644.4 180.9L645.7 180.2L645.9 181.3ZM651.1 181L652.5 180.2L652.6 181.3ZM657.8 181L659.2 180.2L659.4 181.3ZM664.6 181L666 180.2L666.1 181.3ZM671.4 181L672.8 180.2L672.9 181.3ZM678.3 181L679.7 180.2L679.8 181.3ZM373.8 172.3L372.4 172.8L372.4 171.7ZM387.7 172.5L386.2 172.9L386.3 171.8ZM394.7 172.5L393.2 173L393.3 171.9ZM401.8 172.5L400.3 173L400.4 171.9ZM409.1 172.4L407.6 172.9L407.6 171.8ZM416.3 172.2L414.8 172.8L414.8 171.7ZM423.4 172.1L422 172.7L422 171.6ZM430.5 171.9L429.1 172.5L429 171.4ZM437.5 171.7L436.1 172.4L436 171.3ZM444.5 171.5L443.2 172.3L443 171.2ZM451.5 171.3L450.2 172.1L450 171.1ZM458.4 171.1L457.1 172L456.9 170.9ZM465.3 170.9L464.1 171.8L463.8 170.8ZM479.2 170.6L478 171.6L477.6 170.5ZM486.1 170.5L484.9 171.5L484.5 170.5ZM493 170.4L491.8 171.4L491.4 170.4ZM499.9 170.3L498.7 171.4L498.3 170.4ZM506.7 170.3L505.6 171.4L505.2 170.4ZM513.5 170.3L512.4 171.4L512 170.4ZM520.2 170.3L519.1 171.4L518.7 170.4ZM527 170.3L525.9 171.4L525.4 170.4ZM533.8 170.2L532.7 171.4L532.2 170.4ZM540.5 170.2L539.4 171.3L538.9 170.4ZM547.2 170.1L546.2 171.3L545.6 170.4ZM553.8 170L552.9 171.3L552.3 170.4ZM560.4 169.9L559.6 171.2L558.9 170.4ZM567 169.8L566.3 171.2L565.5 170.4ZM573.7 169.8L573 171.2L572.3 170.4ZM580.3 169.9L579.8 171.3L579 170.6ZM586.9 170L586.4 171.5L585.6 170.8ZM593.6 170.1L593.1 171.6L592.3 171ZM600.2 170.3L599.8 171.8L598.9 171.2ZM606.3 170.8L606.3 172.3L605.3 172ZM612.2 171.4L613.2 172.2L612.4 172.6ZM618.6 171.8L619.9 171.9L619.5 172.7ZM625.2 172L626.6 171.7L626.4 172.7ZM631.6 172.2L633.1 171.7L633 172.8ZM638 172.4L639.4 171.8L639.4 172.9ZM644.5 172.5L645.9 171.8L646 172.9ZM651.2 172.6L652.6 171.9L652.7 173ZM657.9 172.7L659.3 171.9L659.4 173ZM664.6 172.7L666 171.9L666.2 173ZM671.5 172.7L672.9 172L673 173.1ZM678.4 172.7L679.7 172L679.9 173.1ZM373.8 164.9L372.3 165L372.6 163.9ZM380.7 165L379.2 165.1L379.5 164ZM387.7 165.1L386.1 165.1L386.5 164.1ZM394.6 165.1L393 165.2L393.4 164.1ZM408.7 165.1L407.1 165.2L407.5 164.1ZM415.8 165L414.3 165.1L414.6 164.1ZM423 164.7L421.5 165L421.7 163.9ZM430.1 164.5L428.6 164.9L428.7 163.8ZM437.2 164.2L435.8 164.7L435.8 163.6ZM444.3 163.9L442.9 164.5L442.9 163.4ZM451.4 163.7L450 164.4L449.9 163.3ZM458.4 163.5L457 164.2L456.9 163.1ZM465.4 163.2L464.1 164L463.9 162.9ZM479.3 162.8L478 163.7L477.7 162.6ZM486.2 162.7L484.9 163.6L484.6 162.6ZM493.1 162.6L491.8 163.6L491.5 162.5ZM499.9 162.5L498.7 163.5L498.4 162.5ZM506.8 162.5L505.6 163.5L505.2 162.4ZM513.5 162.4L512.4 163.4L512 162.4ZM520.3 162.3L519.1 163.4L518.7 162.4ZM527.1 162.2L526 163.3L525.5 162.3ZM533.8 162.2L532.7 163.3L532.2 162.3ZM540.4 162.1L539.4 163.2L538.9 162.2ZM547.1 162L546.1 163.2L545.6 162.2ZM553.8 161.9L552.8 163.1L552.2 162.2ZM560.3 161.7L559.5 163.1L558.8 162.2ZM566.8 161.6L566.2 163L565.4 162.2ZM573.5 161.6L572.9 163L572.1 162.3ZM580.2 161.6L579.7 163.1L578.8 162.4ZM586.9 161.7L586.4 163.1L585.6 162.5ZM593.6 161.7L593.2 163.2L592.3 162.6ZM600.3 161.9L600 163.4L599 162.8ZM606.6 162.2L606.5 163.7L605.5 163.3ZM612.8 162.6L613.2 164L612.2 163.9ZM619.1 162.9L620.1 163.9L619.2 164.3ZM625.5 163.2L626.9 163.7L626.2 164.4ZM631.8 163.5L633.4 163.4L633 164.5ZM638.2 163.8L639.7 163.4L639.6 164.5ZM644.7 164L646.2 163.5L646.1 164.6ZM651.3 164.1L652.7 163.5L652.7 164.6ZM657.9 164.3L659.3 163.6L659.3 164.7ZM664.6 164.3L666 163.6L666.1 164.7ZM671.5 164.3L672.9 163.7L673 164.8ZM678.4 164.4L679.8 163.7L679.9 164.8ZM373.8 157.3L372.2 157.1L372.7 156.2ZM387.4 157.5L385.9 157.3L386.5 156.3ZM415.1 157.8L413.6 157.4L414.2 156.5ZM422.2 157.5L420.7 157.3L421.2 156.3ZM429.4 157.2L427.8 157.2L428.2 156.2ZM436.5 156.9L435 157L435.3 156ZM443.7 156.6L442.1 156.9L442.3 155.8ZM450.8 156.4L449.3 156.7L449.4 155.6ZM457.9 156.1L456.5 156.6L456.5 155.5ZM465.1 155.8L463.6 156.4L463.6 155.3ZM479.1 155.3L477.7 156L477.6 154.9ZM485.9 155.2L484.6 155.9L484.4 154.8ZM492.8 155L491.5 155.8L491.3 154.8ZM499.6 154.9L498.3 155.8L498.1 154.7ZM506.4 154.8L505.1 155.7L504.8 154.6ZM513.1 154.7L511.9 155.7L511.6 154.6ZM519.8 154.6L518.6 155.6L518.3 154.5ZM526.6 154.4L525.4 155.5L525 154.4ZM533.2 154.2L532.2 155.4L531.7 154.4ZM539.9 154.1L538.9 155.3L538.4 154.3ZM546.6 154L545.7 155.2L545.1 154.3ZM553.2 153.8L552.4 155.1L551.7 154.3ZM559.6 153.6L559 155.1L558.2 154.3ZM566 153.5L565.6 155L564.7 154.4ZM572.5 153.4L572.3 154.9L571.4 154.4ZM579.2 153.4L579.1 154.9L578.1 154.5ZM586 153.4L586 154.9L585 154.5ZM593 153.4L592.9 155L591.9 154.5ZM599.9 153.5L599.8 155.1L598.8 154.6ZM606.5 153.8L606.5 155.3L605.5 155ZM612.8 154.1L613.3 155.5L612.2 155.5ZM619.1 154.4L620.1 155.6L619 155.9ZM625.3 154.8L626.7 155.3L626 156.1ZM631.3 155.2L632.9 155.1L632.5 156.2ZM637.5 155.5L639 155.2L638.9 156.3ZM644 155.7L645.4 155.2L645.4 156.3ZM650.5 155.8L652 155.3L652 156.4ZM657.2 155.9L658.7 155.4L658.7 156.5ZM664.1 156L665.6 155.4L665.6 156.5ZM671.2 156L672.6 155.4L672.6 156.5ZM678.2 156L679.7 155.4L679.7 156.5ZM373.4 149.7L371.9 149.2L372.6 148.4ZM414.3 150.3L413 149.5L413.8 148.8ZM421.4 150.2L420 149.4L420.8 148.7ZM428.5 149.9L427 149.3L427.8 148.5ZM435.6 149.6L434.1 149.2L434.7 148.3ZM442.7 149.4L441.2 149.1L441.7 148.2ZM449.9 149.1L448.4 149L448.8 148ZM457.2 148.8L455.6 148.9L456 147.9ZM471.5 148.3L470 148.7L470.1 147.6ZM478.4 148.1L476.9 148.5L477 147.4ZM485.2 147.9L483.8 148.4L483.8 147.3ZM492 147.7L490.5 148.3L490.5 147.2ZM498.7 147.5L497.3 148.2L497.2 147.1ZM505.4 147.4L504 148.1L503.9 147ZM512 147.2L510.7 148L510.5 146.9ZM518.6 147.1L517.3 148L517.1 146.9ZM525.2 146.9L524.1 147.9L523.6 146.9ZM531.9 146.6L530.9 147.8L530.4 146.8ZM538.7 146.3L537.8 147.6L537.2 146.7ZM545.4 146.1L544.7 147.5L544 146.7ZM552 145.9L551.5 147.4L550.7 146.7ZM558.4 145.6L558.3 147.2L557.3 146.7ZM564.6 145.4L565 146.9L563.9 146.7ZM571 145.2L571.7 146.6L570.6 146.7ZM577.7 145.1L578.5 146.4L577.4 146.6ZM584.6 145.1L585.4 146.5L584.3 146.6ZM591.9 145.2L592.5 146.6L591.4 146.7ZM599 145.4L599.5 146.8L598.4 146.8ZM605.9 145.6L606.4 147.1L605.3 147ZM612.3 145.9L613.2 147.2L612.1 147.4ZM618.6 146.2L619.9 147.2L618.9 147.7ZM624.7 146.6L626.3 147L625.7 147.9ZM630.7 147.1L632.3 146.9L632 148ZM636.8 147.5L638.3 147.1L638.2 148.2ZM643.2 147.7L644.6 147.2L644.6 148.3ZM649.7 147.9L651.2 147.3L651.2 148.4ZM656.6 147.9L658 147.3L658 148.4ZM663.6 147.9L665.1 147.3L665.1 148.4ZM670.8 147.8L672.2 147.3L672.3 148.4ZM678 147.8L679.5 147.2L679.5 148.3ZM372.6 142.3L371.3 141.4L372.2 140.8ZM413.6 142.7L412.5 141.6L413.5 141.2ZM420.6 142.6L419.5 141.5L420.5 141.1ZM427.6 142.5L426.4 141.4L427.4 140.9ZM434.6 142.3L433.4 141.3L434.3 140.8ZM441.8 142.1L440.4 141.3L441.3 140.6ZM449 141.8L447.6 141.2L448.4 140.4ZM463.6 141.4L462 141.1L462.6 140.2ZM470.6 141.2L469 141.1L469.5 140.1ZM477.4 141L475.9 140.9L476.3 139.9ZM484.2 140.8L482.6 140.8L483 139.7ZM490.8 140.5L489.3 140.6L489.6 139.6ZM497.4 140.3L495.9 140.5L496.1 139.4ZM504.1 140L502.6 140.4L502.8 139.3ZM510.9 139.8L509.4 140.3L509.4 139.2ZM517.6 139.5L516.2 140.2L516.1 139.2ZM524.3 139.2L523.2 140.2L522.8 139.2ZM531 139L530.1 140.1L529.6 139.2ZM537.7 138.7L537.1 140.1L536.4 139.3ZM544.5 138.5L544.1 140L543.2 139.3ZM551.1 138.3L551.1 139.8L550.1 139.4ZM557.6 137.9L558 139.4L556.9 139.3ZM564.1 137.5L564.8 138.9L563.7 139ZM570.7 137.2L571.6 138.5L570.5 138.7ZM577.5 137L578.4 138.3L577.3 138.6ZM584.5 137.1L585.3 138.4L584.2 138.6ZM591.6 137.2L592.4 138.6L591.3 138.7ZM598.7 137.4L599.4 138.8L598.3 138.9ZM605.6 137.6L606.3 139L605.2 139.1ZM612.2 137.8L613.1 139.1L612 139.3ZM618.7 138L619.9 139.1L618.9 139.6ZM625.1 138.3L626.5 138.9L625.7 139.7ZM631.3 138.7L632.8 138.8L632.4 139.8ZM637.5 139L639.1 138.8L638.8 139.9ZM643.9 139.3L645.4 138.9L645.3 140ZM650.5 139.5L652 139L651.9 140.1ZM657.3 139.6L658.7 139.1L658.7 140.2ZM664.2 139.6L665.7 139.1L665.7 140.2ZM671.3 139.6L672.8 139.1L672.8 140.2ZM678.5 139.5L680 139.1L679.9 140.2ZM406 135L405.2 133.7L406.3 133.5ZM412.9 135L412.1 133.7L413.2 133.5ZM419.9 135L419.1 133.7L420.1 133.4ZM426.8 134.9L426 133.6L427.1 133.4ZM433.9 134.8L432.9 133.5L434 133.2ZM440.9 134.6L439.9 133.4L441 133.1ZM448.2 134.3L447 133.3L448 132.8ZM462.7 133.8L461.3 133.1L462.1 132.4ZM469.7 133.6L468.2 133.1L469 132.3ZM476.5 133.5L475 133L475.8 132.1ZM483.2 133.3L481.7 132.8L482.4 131.9ZM489.7 133L488.3 132.5L489 131.6ZM496.3 132.8L494.9 132.2L495.6 131.4ZM502.9 132.5L501.7 132L502.4 131.3ZM509.8 132.3L508.6 132L509.1 131.3ZM516.6 132L515.5 132L515.7 131.3ZM523.5 131.7L522.5 132.2L522.4 131.4ZM530.1 131.6L529.5 132.3L529.1 131.7ZM536.8 131.4L536.8 132.4L536.2 132.2ZM543.6 131.3L544 132.2L543.2 132.2ZM550.4 131.1L550.9 132.1L550.1 132.2ZM557.3 130.8L557.9 131.9L557 132ZM564.1 130.4L564.8 131.6L563.8 131.8ZM571 130L571.7 131.4L570.6 131.5ZM577.9 129.8L578.6 131.1L577.5 131.3ZM584.8 129.7L585.5 131.1L584.4 131.2ZM591.9 129.7L592.5 131.1L591.4 131.2ZM598.9 129.7L599.4 131.2L598.3 131.2ZM605.8 129.8L606.3 131.2L605.2 131.2ZM612.6 129.8L613.2 131.3L612.1 131.3ZM619.3 129.9L620.1 131.2L619 131.4ZM626 130L626.9 131.2L625.9 131.5ZM632.5 130.1L633.7 131.2L632.8 131.7ZM639.1 130.3L640.4 131L639.6 131.8ZM645.6 130.5L647.1 131L646.4 131.8ZM652.2 130.8L653.7 130.9L653.2 131.9ZM658.8 131L660.3 130.9L660 132ZM665.6 131.2L667.1 131L666.9 132ZM672.5 131.2L674 131L673.8 132.1ZM679.5 131.2L681 131L680.7 132.1ZM405.7 127.3L405 125.9L406.1 125.8ZM419.5 127.3L418.8 125.9L419.9 125.8ZM426.4 127.2L425.7 125.8L426.8 125.8ZM433.3 127.2L432.6 125.8L433.7 125.7ZM440.3 127L439.6 125.6L440.7 125.5ZM447.2 126.5L446.5 125.2L447.6 125ZM454.2 125.9L453.4 124.6L454.4 124.4ZM461.3 125.5L460.3 124.4L461.3 124ZM468.3 125.5L467.2 124.3L468.2 123.9ZM475.2 125.4L474.1 124.3L475.1 123.8ZM481.9 125.3L480.9 124.1L481.9 123.8ZM488.5 125.1L487.8 123.9L488.8 123.8ZM495 124.9L494.8 123.6L495.7 123.8ZM501.7 124.8L501.8 123.5L502.6 123.9ZM508.6 124.6L508.8 123.4L509.5 123.9ZM515.5 124.5L515.8 123.4L516.5 123.9ZM522.3 124.3L522.9 123.3L523.4 124ZM529.1 124.2L529.9 123.4L530.3 124.1ZM536 124.1L536.9 123.4L537.1 124.2ZM542.9 124L543.9 123.4L544 124.2ZM549.9 123.8L551 123.5L550.9 124.3ZM556.9 123.6L558 123.7L557.6 124.4ZM563.9 123.3L564.9 123.9L564.2 124.4ZM571 123L571.7 124L570.9 124.2ZM578 122.8L578.6 123.9L577.7 124.1ZM585 122.5L585.6 123.8L584.6 123.9ZM592 122.3L592.5 123.8L591.4 123.8ZM599 122.2L599.4 123.7L598.3 123.6ZM605.9 122.1L606.4 123.6L605.3 123.5ZM612.8 122L613.3 123.5L612.2 123.4ZM619.7 122L620.2 123.4L619.1 123.4ZM626.6 122L627.1 123.4L626 123.4ZM633.3 122L634 123.4L632.9 123.5ZM640.1 122.1L640.8 123.4L639.7 123.6ZM646.8 122.2L647.7 123.4L646.6 123.8ZM653.3 122.5L654.5 123.4L653.6 124ZM659.8 122.8L661.3 123.3L660.5 124.1ZM666.6 122.9L668.1 123.3L667.5 124.2ZM673.4 122.9L675 123.3L674.4 124.2ZM680.3 122.9L681.9 123.3L681.3 124.2ZM405.5 119.5L404.9 118.1L406 118.1ZM412.4 119.5L411.8 118.1L412.9 118.1ZM419.3 119.5L418.7 118.1L419.8 118.1ZM426.2 119.5L425.6 118.1L426.7 118.1ZM433 119.4L432.5 118L433.6 118ZM439.7 119.1L439.3 117.6L440.4 117.7ZM446.2 118.2L446.1 116.7L447.2 117ZM452.8 117.3L453.3 115.8L454.1 116.5ZM459.6 116.9L460.3 115.7L461 116.5ZM466.5 116.8L467.3 115.7L467.9 116.5ZM473.4 116.9L474.2 115.7L474.8 116.5ZM480.2 116.9L481.1 115.7L481.6 116.6ZM487 116.8L488 115.7L488.5 116.6ZM493.8 116.8L494.8 115.7L495.4 116.6ZM500.7 116.8L501.8 115.7L502.3 116.6ZM507.7 116.8L508.7 115.6L509.2 116.6ZM514.7 116.7L515.7 115.6L516.2 116.6ZM521.7 116.6L522.7 115.6L523.1 116.5ZM528.7 116.5L529.7 115.6L530 116.5ZM535.6 116.3L536.7 115.6L536.9 116.5ZM542.6 116.2L543.7 115.6L543.9 116.5ZM549.6 116.1L550.7 115.6L550.8 116.5ZM556.6 116L557.8 115.7L557.7 116.5ZM563.7 115.8L564.8 115.8L564.5 116.6ZM570.7 115.6L571.8 116L571.2 116.6ZM577.8 115.3L578.7 116.1L577.9 116.5ZM584.8 115.1L585.5 116.1L584.7 116.4ZM591.9 114.8L592.5 116.1L591.5 116.2ZM598.9 114.6L599.4 116L598.3 116ZM605.9 114.4L606.4 115.9L605.3 115.8ZM612.9 114.3L613.3 115.8L612.2 115.7ZM619.8 114.2L620.2 115.8L619.1 115.6ZM626.7 114.2L627.1 115.7L626 115.6ZM633.6 114.2L634 115.7L632.9 115.6ZM640.4 114.3L640.9 115.7L639.8 115.7ZM647.1 114.4L647.8 115.8L646.7 115.8ZM653.7 114.6L654.6 115.8L653.6 116.1ZM660.3 114.8L661.5 115.7L660.6 116.3ZM667 114.9L668.3 115.7L667.5 116.3ZM673.9 115L675.2 115.6L674.4 116.4ZM680.8 115L682.1 115.6L681.3 116.4ZM439.2 110.8L439.1 109.3L440.2 109.6ZM445.3 109.4L446.2 108.2L446.8 109.1ZM451.7 108.6L453.1 107.9L453.2 109ZM458.5 108.3L459.9 107.8L459.9 108.9ZM465.3 108.4L466.8 107.8L466.8 108.9ZM472.2 108.4L473.6 107.9L473.7 109ZM479.1 108.6L480.5 107.9L480.6 109ZM486 108.7L487.4 107.9L487.5 109ZM493 108.7L494.3 108L494.5 109.1ZM500 108.8L501.3 108L501.5 109.1ZM507.1 108.8L508.4 108L508.6 109ZM514.2 108.8L515.4 107.9L515.7 109ZM521.3 108.7L522.6 107.9L522.8 109ZM528.4 108.6L529.7 107.9L529.8 108.9ZM535.4 108.5L536.7 107.9L536.8 108.9ZM542.4 108.5L543.7 107.9L543.7 108.9ZM549.4 108.4L550.6 107.9L550.7 108.8ZM556.4 108.3L557.6 107.9L557.6 108.8ZM563.4 108.2L564.6 108L564.5 108.9ZM570.5 108L571.7 108.1L571.3 108.9ZM577.5 107.8L578.6 108.2L578.1 108.9ZM584.6 107.6L585.6 108.3L584.8 108.8ZM591.7 107.3L592.5 108.4L591.5 108.6ZM598.8 107L599.4 108.3L598.4 108.4ZM605.8 106.8L606.3 108.3L605.2 108.3ZM612.8 106.7L613.3 108.2L612.2 108.1ZM619.8 106.6L620.2 108.1L619.1 108ZM626.7 106.6L627.1 108.1L626 108ZM633.6 106.6L634 108.1L632.9 108ZM640.5 106.6L640.9 108.1L639.8 108ZM647.2 106.7L647.8 108.1L646.7 108.2ZM653.8 106.9L654.7 108.2L653.6 108.4ZM660.4 107L661.5 108.1L660.5 108.5ZM667.2 107.1L668.4 108L667.5 108.6ZM674.1 107.1L675.3 108L674.4 108.6ZM681 107.1L682.2 108L681.3 108.6ZM444.6 99.7L446.1 99.8L445.6 100.8ZM458.1 99.7L459.7 99.7L459.2 100.7ZM464.9 99.9L466.5 99.8L466.1 100.9ZM471.8 100.2L473.3 100L473.1 101.1ZM478.6 100.5L480.1 100.1L480 101.2ZM485.5 100.7L487 100.2L487 101.3ZM492.5 100.8L493.9 100.3L493.9 101.4ZM499.5 100.9L500.9 100.3L500.9 101.4ZM506.5 101L507.9 100.3L508 101.4ZM513.6 101L515 100.3L515.1 101.4ZM520.8 101L522.2 100.3L522.3 101.4ZM528.1 101L529.5 100.3L529.6 101.4ZM535.2 100.9L536.6 100.3L536.7 101.3ZM542.3 100.9L543.6 100.3L543.6 101.3ZM549.3 100.8L550.6 100.3L550.6 101.3ZM556.3 100.8L557.6 100.3L557.5 101.3ZM563.3 100.6L564.6 100.4L564.4 101.3ZM570.3 100.5L571.6 100.4L571.3 101.3ZM577.3 100.3L578.6 100.5L578.1 101.3ZM584.4 100L585.5 100.6L584.8 101.2ZM591.5 99.7L592.4 100.7L591.6 101.1ZM598.6 99.4L599.4 100.7L598.4 100.9ZM605.7 99.3L606.3 100.6L605.2 100.7ZM612.7 99.2L613.2 100.6L612.1 100.6ZM619.7 99.1L620.2 100.6L619.1 100.5ZM626.7 99L627.1 100.5L626 100.5ZM633.6 99L634 100.5L632.9 100.4ZM640.4 99.1L640.9 100.5L639.8 100.5ZM647.2 99.1L647.8 100.5L646.7 100.6ZM653.8 99.2L654.7 100.5L653.6 100.8ZM660.4 99.4L661.5 100.4L660.5 100.9ZM667.2 99.4L668.4 100.4L667.4 100.9ZM674 99.4L675.3 100.4L674.3 101ZM680.9 99.4L682.2 100.4L681.3 101ZM451.4 91.4L452.9 91.9L452.2 92.7ZM458.2 91.6L459.7 92L459.1 92.9ZM465 91.9L466.6 92.1L466 93.1ZM471.8 92.3L473.3 92.3L473 93.3ZM478.6 92.7L480.1 92.5L479.9 93.5ZM485.4 93L486.9 92.6L486.8 93.7ZM492.3 93.2L493.8 92.7L493.8 93.8ZM499.3 93.3L500.7 92.8L500.8 93.9ZM506.4 93.5L507.8 92.8L507.8 93.9ZM513.5 93.5L514.9 92.9L515 93.9ZM520.7 93.6L522.1 92.8L522.2 93.9ZM527.9 93.5L529.3 92.8L529.4 93.9ZM535.1 93.5L536.5 92.8L536.6 93.9ZM542.2 93.5L543.5 92.8L543.6 93.8ZM549.2 93.4L550.5 92.8L550.6 93.8ZM556.2 93.3L557.5 92.8L557.5 93.8ZM563.2 93.2L564.5 92.8L564.4 93.8ZM570.2 93L571.5 92.9L571.3 93.8ZM577.2 92.8L578.5 93L578.1 93.8ZM584.3 92.6L585.5 93.1L584.8 93.7ZM591.4 92.2L592.4 93.1L591.6 93.6ZM598.5 92L599.4 93.1L598.4 93.4ZM605.5 91.8L606.3 93.1L605.2 93.3ZM612.6 91.7L613.2 93.1L612.1 93.2ZM619.6 91.6L620.2 93.1L619.1 93.1ZM626.6 91.6L627.1 93L626 93ZM633.5 91.6L634 93L632.9 93ZM640.3 91.6L640.9 93L639.8 93ZM647.1 91.6L647.8 93L646.7 93.1ZM653.7 91.7L654.6 93L653.6 93.2ZM660.3 91.8L661.5 92.9L660.5 93.3ZM667.1 91.8L668.3 92.8L667.4 93.4ZM674 91.9L675.2 92.8L674.3 93.4ZM680.8 91.9L682.1 92.8L681.2 93.4ZM451.7 83.6L453.1 84.3L452.2 85.1ZM458.5 83.8L459.9 84.4L459.2 85.2ZM465.3 84.1L466.8 84.6L466.1 85.4ZM472 84.5L473.5 84.8L473 85.7ZM478.7 85.1L480.3 85L479.9 86ZM485.5 85.5L487 85.2L486.8 86.3ZM492.3 85.8L493.8 85.3L493.8 86.4ZM499.3 86L500.7 85.4L500.8 86.5ZM506.4 86.2L507.7 85.5L507.9 86.6ZM513.5 86.4L514.8 85.6L515 86.7ZM520.6 86.4L521.9 85.6L522.2 86.6ZM527.8 86.4L529.1 85.5L529.3 86.6ZM534.9 86.3L536.2 85.5L536.4 86.5ZM542 86.2L543.3 85.4L543.5 86.5ZM549 86.1L550.4 85.4L550.5 86.5ZM556.1 86L557.4 85.4L557.4 86.4ZM563.1 85.9L564.4 85.4L564.4 86.4ZM570.2 85.7L571.5 85.5L571.3 86.4ZM577.2 85.5L578.5 85.6L578.1 86.4ZM584.2 85.2L585.5 85.7L584.9 86.4ZM591.3 85L592.4 85.7L591.6 86.3ZM598.4 84.7L599.4 85.8L598.4 86.1ZM605.4 84.5L606.3 85.7L605.3 86ZM612.5 84.4L613.2 85.7L612.1 85.9ZM619.5 84.3L620.1 85.7L619 85.8ZM626.5 84.2L627.1 85.7L626 85.7ZM633.4 84.2L634 85.6L632.9 85.7ZM640.2 84.2L640.9 85.6L639.8 85.7ZM647 84.2L647.8 85.6L646.7 85.7ZM653.6 84.3L654.6 85.5L653.6 85.9ZM660.3 84.4L661.4 85.4L660.5 85.9ZM667 84.4L668.3 85.3L667.3 86ZM673.8 84.5L675.1 85.3L674.2 85.9ZM680.6 84.4L682 85.3L681.1 85.9ZM458.9 76.2L460.2 77.1L459.3 77.7ZM465.6 76.5L467 77.2L466.2 77.9ZM472.3 76.9L473.8 77.4L473.1 78.3ZM479 77.5L480.5 77.6L480 78.6ZM485.7 78.1L487.2 77.9L486.9 78.9ZM492.5 78.6L494 78.1L493.9 79.2ZM499.4 79L500.8 78.3L500.9 79.4ZM506.4 79.4L507.7 78.5L508 79.5ZM513.5 79.7L514.6 78.6L515 79.6ZM520.5 79.7L521.6 78.6L522 79.6ZM527.5 79.5L528.6 78.5L529 79.5ZM534.5 79.4L535.7 78.4L536 79.5ZM541.6 79.2L542.8 78.3L543.1 79.4ZM548.7 79.1L550 78.2L550.3 79.3ZM555.9 79L557.2 78.2L557.4 79.2ZM563.1 78.9L564.3 78.2L564.5 79.2ZM570.3 78.7L571.4 78.2L571.5 79.1ZM577.4 78.4L578.6 78.4L578.3 79.2ZM584.4 78.2L585.6 78.5L585.1 79.2ZM591.5 78L592.5 78.7L591.8 79.2ZM598.6 77.8L599.4 78.7L598.5 79ZM605.6 77.5L606.3 78.7L605.3 78.8ZM612.6 77.3L613.2 78.6L612.2 78.7ZM619.5 77.2L620.1 78.6L619.1 78.6ZM626.5 77.1L627.1 78.6L626 78.6ZM633.4 77L634 78.5L632.9 78.5ZM640.2 76.9L640.9 78.4L639.8 78.4ZM647 76.9L647.7 78.3L646.7 78.5ZM653.7 77L654.6 78.3L653.6 78.6ZM660.3 77.1L661.5 78.2L660.5 78.7ZM667.1 77.2L668.3 78.1L667.4 78.7ZM673.9 77.2L675.1 78.1L674.2 78.7ZM680.7 77.2L682 78L681.1 78.7ZM459.3 68.8L460.5 69.8L459.5 70.3ZM466.1 69L467.3 70L466.3 70.5ZM472.8 69.4L474.1 70.2L473.2 70.9ZM479.4 70L480.9 70.4L480.2 71.3ZM492.8 71.4L494.3 71L494.2 72.1ZM499.6 72L501 71.2L501.2 72.3ZM506.5 72.5L507.7 71.5L508.1 72.5ZM513.5 72.8L514.5 71.6L515 72.6ZM520.4 72.8L521.4 71.7L521.9 72.7ZM527.3 72.7L528.4 71.6L528.9 72.6ZM534.3 72.6L535.4 71.5L535.9 72.5ZM541.5 72.5L542.6 71.4L543 72.4ZM548.8 72.4L549.9 71.2L550.3 72.2ZM556.2 72.3L557.1 71.1L557.7 72ZM563.6 72.3L564.1 71.1L564.8 71.7ZM571 72.2L571 71.1L571.7 71.3ZM578.3 72L577.6 71.3L578.3 71ZM585.6 71.8L584.5 71.7L584.9 71ZM592.7 71.7L591.6 71.9L591.7 71.1ZM599.8 71.4L598.7 72L598.6 71.1ZM606.9 71.1L605.9 72L605.6 71.1ZM613.9 70.9L613 72L612.4 71.1ZM620.8 70.7L620 71.9L619.3 71.1ZM627.7 70.4L627 71.8L626.3 71ZM634.6 70.2L634.1 71.7L633.3 70.9ZM641.4 70L641 71.5L640.1 70.9ZM648.2 69.9L647.9 71.5L647 70.9ZM654.9 69.9L654.8 71.5L653.8 71ZM661.5 69.9L661.7 71.5L660.6 71.2ZM668.3 69.9L668.6 71.5L667.5 71.3ZM675 69.9L675.5 71.4L674.4 71.3ZM681.8 69.9L682.4 71.3L681.3 71.3ZM452.9 61.5L453.8 62.8L452.8 63ZM459.7 61.6L460.7 62.8L459.6 63.1ZM466.5 61.7L467.5 62.9L466.5 63.3ZM473.2 62L474.4 63.1L473.4 63.6ZM479.9 62.5L481.2 63.4L480.3 64ZM499.8 64.8L501.2 64.1L501.3 65.2ZM506.6 65.4L507.8 64.4L508.2 65.4ZM513.5 65.8L514.5 64.7L515 65.7ZM520.4 66.1L521.3 64.8L521.9 65.8ZM527.3 66.1L528.2 64.9L528.8 65.8ZM534.3 66L535.3 64.8L535.8 65.7ZM541.5 65.9L542.4 64.7L543 65.6ZM548.9 65.8L549.7 64.5L550.4 65.3ZM556.5 65.8L556.9 64.3L557.8 65ZM564.2 65.8L563.8 64.5L564.8 64.6ZM571.8 65.9L570.8 64.8L571.7 64.4ZM579.4 65.9L578 65.2L578.8 64.4ZM586.8 65.8L585.3 65.4L586 64.5ZM594.1 65.6L592.5 65.4L593 64.5ZM601 65.2L599.4 65.3L599.8 64.3ZM607.9 64.9L606.4 65.2L606.5 64.1ZM614.8 64.5L613.3 65.1L613.3 64ZM621.6 64.2L620.3 65L620.1 63.9ZM628.6 63.9L627.4 64.9L627 63.8ZM635.6 63.6L634.5 64.7L634 63.7ZM642.5 63.3L641.6 64.5L641 63.5ZM649.5 62.9L648.7 64.2L648 63.3ZM656.3 62.7L655.6 64.1L654.8 63.2ZM662.9 62.6L662.3 64L661.5 63.3ZM669.6 62.6L669.1 64L668.2 63.4ZM676.3 62.5L675.9 64L675 63.4ZM683 62.5L682.7 64L681.8 63.5ZM446.4 54.6L447.1 55.9L446 56.1ZM453.2 54.6L454 55.9L452.9 56.1ZM460 54.6L460.8 55.9L459.8 56.2ZM466.8 54.8L467.7 56L466.6 56.3ZM480.3 55.3L481.4 56.4L480.4 56.9ZM486.9 55.8L488.2 56.7L487.4 57.3ZM520.3 59.6L521.1 58.3L521.8 59.2ZM527.2 59.8L528 58.4L528.7 59.3ZM534.2 59.7L535 58.3L535.7 59.2ZM541.4 59.5L542.2 58.1L542.9 59ZM548.8 59.3L549.5 57.9L550.2 58.7ZM556.4 59.3L556.7 57.8L557.6 58.4ZM564.2 59.4L563.8 57.9L564.9 58ZM572 59.6L570.9 58.4L572 58ZM579.7 59.7L578.4 58.9L579.2 58.2ZM587.1 59.6L585.6 59L586.4 58.2ZM594.1 59.2L592.6 58.8L593.2 57.9ZM601 58.8L599.5 58.6L600 57.6ZM607.9 58.4L606.3 58.5L606.7 57.4ZM614.7 58L613.2 58.3L613.4 57.2ZM621.6 57.6L620.2 58.2L620.1 57.1ZM628.6 57.2L627.3 58.1L627 57ZM635.6 56.9L634.4 57.9L634 56.9ZM642.6 56.4L641.6 57.6L641 56.7ZM649.6 56L648.7 57.3L648.1 56.4ZM656.6 55.5L655.9 56.9L655.1 56.1ZM663.4 55.2L662.8 56.6L662 55.9ZM670 55.2L669.5 56.6L668.6 56ZM676.6 55.2L676.2 56.7L675.3 56.1ZM683.3 55.2L683 56.7L682.1 56.2ZM453.3 47.9L454.1 49.2L453 49.4ZM460.1 47.9L460.9 49.2L459.8 49.4ZM466.9 48L467.8 49.3L466.7 49.5ZM480.4 48.4L481.4 49.5L480.4 49.9ZM487.2 48.5L488.3 49.6L487.3 50.1ZM493.9 48.8L495.1 49.8L494.2 50.3ZM500.5 49.3L501.9 50L501.1 50.7ZM520.1 53.1L520.9 51.8L521.6 52.7ZM527 53.3L527.7 52L528.4 52.8ZM534 53.2L534.8 51.9L535.5 52.7ZM541.1 53L541.9 51.6L542.6 52.5ZM548.5 52.8L549.2 51.4L549.9 52.3ZM556 52.8L556.5 51.3L557.3 52ZM563.8 53L563.6 51.5L564.7 51.8ZM571.6 53.3L570.8 52L571.9 51.8ZM579.2 53.6L578.2 52.4L579.2 52ZM586.5 53.3L585.3 52.3L586.2 51.7ZM593.6 52.9L592.2 52.1L593.1 51.4ZM600.5 52.4L599.1 51.9L599.8 51ZM607.4 51.9L605.9 51.7L606.4 50.7ZM614.2 51.4L612.7 51.5L613 50.5ZM621.1 51L619.7 51.5L619.7 50.4ZM628.1 50.5L626.8 51.5L626.5 50.4ZM635.1 50.1L634.1 51.2L633.6 50.3ZM642.1 49.5L641.3 50.9L640.6 50ZM649.1 49L648.5 50.4L647.7 49.7ZM656 48.5L655.6 49.9L654.7 49.3ZM662.9 47.9L662.6 49.5L661.7 48.9ZM669.6 47.9L669.4 49.4L668.4 48.9ZM676.3 48L676.2 49.5L675.2 49.1ZM683 48.1L682.9 49.6L681.9 49.2ZM446.6 41.4L447.3 42.7L446.2 42.9ZM453.4 41.3L454.1 42.7L453 42.8ZM460.3 41.3L461 42.7L459.9 42.8ZM480.4 41.6L481.4 42.7L480.4 43.1ZM487.2 41.6L488.2 42.8L487.2 43.2ZM493.9 41.7L495.1 42.8L494.1 43.3ZM500.6 41.9L501.8 42.8L500.9 43.4ZM507.2 42.4L508.6 43.1L507.8 43.9ZM519.8 46L520.9 44.8L521.4 45.8ZM526.6 46.6L527.5 45.3L528.1 46.2ZM533.6 46.6L534.4 45.3L535.1 46.2ZM540.7 46.4L541.6 45.1L542.2 46.1ZM548 46.3L548.8 45L549.5 45.9ZM555.5 46.3L556.1 44.9L556.9 45.7ZM563.1 46.6L563.3 45.1L564.3 45.6ZM570.8 47.1L570.5 45.6L571.6 45.7ZM578.3 47.2L577.7 45.8L578.8 45.8ZM585.5 47L584.7 45.7L585.8 45.5ZM592.7 46.6L591.7 45.4L592.8 45.1ZM599.7 46.2L598.6 45.1L599.6 44.6ZM606.7 45.6L605.4 44.8L606.3 44.1ZM613.5 45L612.3 44.7L612.8 43.9ZM620.4 44.4L619.3 44.8L619.3 44ZM627.4 43.8L626.6 44.9L626.1 44.1ZM634.4 43.2L633.9 44.6L633.1 44ZM641.3 42.6L641.1 44.1L640.1 43.6ZM648.2 42.1L648.1 43.6L647.1 43.2ZM655 41.5L655.1 43.1L654.1 42.8ZM661.9 41.1L662.1 42.6L661 42.3ZM668.8 40.8L669 42.4L667.9 42.1ZM675.5 41L675.8 42.6L674.7 42.4ZM682.3 41.2L682.6 42.7L681.6 42.6ZM453.5 34.9L454.2 36.3L453.1 36.4ZM480.3 35.1L481.3 36.2L480.3 36.6ZM487.1 35.1L488.2 36.2L487.1 36.7ZM493.8 35.3L494.9 36.3L494 36.8ZM500.4 35.5L501.7 36.3L500.8 37ZM507 35.9L508.4 36.5L507.6 37.3ZM513.4 36.9L514.9 37L514.5 38ZM526.2 39.8L527.2 38.6L527.7 39.6ZM533.1 40L534.1 38.8L534.7 39.7ZM540.2 39.9L541.2 38.7L541.7 39.6ZM547.4 39.8L548.4 38.6L549 39.5ZM554.9 39.9L555.7 38.6L556.4 39.4ZM562.4 40.2L562.9 38.8L563.8 39.5ZM569.9 40.7L570 39.2L571 39.6ZM577.2 40.9L577.1 39.3L578.2 39.7ZM584.4 40.6L584.2 39.1L585.3 39.4ZM591.4 40.3L591.2 38.8L592.3 39ZM598.4 39.8L598.2 38.3L599.3 38.6ZM605.3 39.3L605.3 37.8L606.3 38.2ZM612.2 38.7L612.5 37.5L613.2 38ZM619.2 38L620.1 37.6L620.2 38.3ZM626.1 37.2L627 38L626.3 38.4ZM633 36.6L633.9 37.7L632.9 38.1ZM639.9 36L640.8 37.3L639.7 37.6ZM646.9 35.5L647.6 36.9L646.5 37ZM653.8 35L654.5 36.4L653.4 36.5ZM660.7 34.5L661.4 35.9L660.3 36ZM667.7 34.3L668.3 35.7L667.2 35.8ZM674.6 34.5L675.3 35.9L674.2 36ZM681.6 34.7L682.2 36.1L681.1 36.2ZM486.8 28.9L488 30L487.1 30.5ZM493.5 29.1L494.8 30L493.9 30.6ZM500.1 29.4L501.5 30.1L500.7 30.9ZM506.7 29.9L508.2 30.3L507.5 31.2ZM513.1 30.7L514.7 30.7L514.3 31.7ZM519.4 32L520.8 31.3L520.9 32.4ZM525.9 33L527.1 32L527.5 33ZM532.8 33.3L533.9 32.3L534.3 33.3ZM539.8 33.3L540.9 32.2L541.4 33.3ZM547 33.3L548.1 32.2L548.6 33.2ZM554.4 33.4L555.4 32.2L555.9 33.2ZM561.8 33.8L562.6 32.4L563.3 33.3ZM569.1 34.2L569.6 32.7L570.4 33.4ZM576.2 34.4L576.6 32.9L577.5 33.5ZM583.3 34.1L583.7 32.6L584.6 33.3ZM590.3 33.7L590.8 32.2L591.7 32.9ZM597.3 33.2L597.9 31.8L598.7 32.6ZM604.3 32.7L605.2 31.4L605.8 32.3ZM611.4 32.1L612.5 31.2L612.8 32.1ZM618.4 31.7L619.7 31.2L619.7 32.1ZM625.2 31.2L626.7 31.2L626.3 32.1ZM632 30.6L633.5 31L632.9 31.9ZM638.9 30L640.3 30.7L639.4 31.5ZM645.8 29.5L647 30.4L646.1 31ZM652.7 28.9L653.9 30L652.9 30.5ZM659.6 28.4L660.7 29.5L659.7 30ZM666.7 28.3L667.7 29.4L666.7 29.8ZM673.8 28.4L674.8 29.6L673.7 30ZM680.9 28.6L681.8 29.8L680.8 30.1ZM486.6 23L487.8 23.9L487 24.5ZM499.8 23.7L501.3 24.1L500.6 25ZM506.4 24.1L507.9 24.3L507.5 25.3ZM512.9 24.9L514.4 24.6L514.2 25.7ZM532.5 26.8L533.7 25.8L534 26.9ZM539.5 26.9L540.7 25.9L541 26.9ZM546.7 26.9L547.8 25.9L548.2 26.9ZM554 27.1L555.1 26L555.5 27ZM561.3 27.3L562.3 26.1L562.8 27.1ZM568.5 27.7L569.3 26.4L570 27.2ZM575.4 28L576.1 26.6L576.9 27.4ZM582.5 27.7L583.3 26.3L584 27.2ZM589.6 27.3L590.4 26L591.1 26.9ZM596.6 26.8L597.6 25.6L598.2 26.6ZM603.7 26.4L604.8 25.3L605.2 26.3ZM610.7 25.9L612 25.1L612.3 26.1ZM617.7 25.5L619.1 24.9L619.1 26ZM624.6 25.1L626.1 24.8L625.9 25.9ZM631.4 24.6L632.9 24.7L632.5 25.7ZM638.2 24.1L639.7 24.4L639.1 25.4ZM645 23.6L646.5 24.1L645.8 25ZM651.9 23.1L653.3 23.8L652.5 24.5ZM658.7 22.6L660.1 23.4L659.2 24.1ZM666 22.6L667.3 23.5L666.3 24.1ZM673.2 22.6L674.4 23.6L673.4 24.2ZM680.3 22.7L681.5 23.7L680.5 24.2ZM506.2 18.5L507.7 18.4L507.4 19.5ZM512.7 19.1L514.2 18.7L514.1 19.8ZM519.1 19.8L520.5 19.1L520.6 20.2ZM532.3 20.6L533.6 19.7L533.8 20.8ZM539.2 20.6L540.5 19.7L540.8 20.8ZM546.4 20.7L547.6 19.8L548 20.8ZM553.7 20.8L554.9 19.8L555.3 20.9ZM561 21.1L562.1 19.9L562.6 20.9ZM568.2 21.3L569.1 20.1L569.7 21.1ZM575.1 21.5L576 20.2L576.6 21.2ZM581.9 21.5L582.9 20.2L583.5 21.1ZM589 21.1L590 19.9L590.6 20.9ZM596.1 20.7L597.2 19.6L597.6 20.6ZM603.1 20.3L604.4 19.3L604.7 20.4ZM610.1 19.9L611.5 19.1L611.6 20.2ZM617.1 19.5L618.5 18.9L618.5 20ZM624 19.1L625.5 18.8L625.3 19.9ZM630.8 18.7L632.3 18.6L632 19.6ZM637.6 18.3L639.1 18.4L638.7 19.4ZM644.4 17.8L645.9 18.1L645.4 19ZM651.2 17.3L652.7 17.7L652.1 18.6ZM658.4 17.1L659.8 17.6L659.1 18.5ZM665.6 17L667 17.7L666.2 18.5ZM672.8 17L674.1 17.8L673.3 18.5ZM679.9 17L681.2 17.8L680.4 18.5ZM391.3 10.6L392 12L390.9 12.1ZM398.2 10.6L398.9 12L397.8 12.1ZM405.1 10.6L405.8 12L404.7 12.1ZM412.1 10.6L412.7 12L411.6 12.1ZM419 10.6L419.6 12L418.5 12.1ZM425.9 10.6L426.5 12L425.4 12.1ZM432.8 10.6L433.5 12L432.4 12.1ZM439.7 10.6L440.4 12L439.3 12.1ZM446.6 10.6L447.3 12L446.2 12.1ZM453.5 10.6L454.2 12L453.1 12.1ZM460.2 10.7L461 12L459.9 12.2ZM466.2 11L467.4 12L466.4 12.5ZM472.6 11.3L474 12.1L473.1 12.8ZM479.2 11.6L480.7 12.2L479.9 13ZM486 11.9L487.5 12.3L486.8 13.2ZM492.7 12.1L494.3 12.4L493.7 13.3ZM499.5 12.3L501 12.5L500.5 13.5ZM506.1 12.8L507.6 12.6L507.3 13.7ZM512.6 13.3L514.1 12.9L514 14ZM519.1 13.9L520.5 13.3L520.6 14.4ZM525.6 14.4L526.9 13.6L527.1 14.7ZM532.2 14.6L533.5 13.8L533.8 14.8ZM539.1 14.7L540.4 13.8L540.7 14.9ZM546.3 14.7L547.6 13.8L547.8 14.9ZM553.6 14.8L554.8 13.8L555.1 14.9ZM560.9 15L562 13.9L562.4 15ZM568 15.2L569.1 14L569.6 15ZM575 15.2L576 14.1L576.5 15.1ZM581.8 15.2L582.8 14.1L583.3 15.1ZM588.5 15.1L589.6 14L590.1 15ZM595.6 14.7L596.8 13.7L597.1 14.8ZM602.6 14.3L603.9 13.5L604.1 14.5ZM609.6 14L610.9 13.3L611.1 14.3ZM616.5 13.6L618 13.1L618 14.2ZM623.4 13.3L624.9 12.9L624.8 14ZM630.2 12.9L631.8 12.7L631.5 13.7ZM637.1 12.5L638.6 12.4L638.3 13.5ZM643.9 12.1L645.4 12.2L645 13.2ZM651 11.8L652.6 12.1L652 13ZM658.2 11.7L659.7 12L659.1 12.9ZM665.4 11.6L666.9 12L666.2 12.9ZM672.6 11.5L674 12.1L673.3 12.9ZM679.7 11.5L681.1 12.1L680.3 12.9Z" fill="#3c3c3c" stroke="#3c3c3c" stroke-width="0.25"/>
<path d="M683 54.2C678.7 55.2 678.5 54.6 670 57.1C661.5 59.6 665.9 58.7 657.5 61.8C649.1 64.9 652.8 64 644.9 66.5C637 69 641.8 68.5 633.9 69.3C626 70.1 630.7 69.8 621.3 68.9C611.9 68 615 67.8 605.6 66.5C596.2 65.2 599.2 65.2 593 64.9C586.8 64.6 593.4 65.5 587 65.7C580.6 65.9 582 65.4 573.7 65.6C565.4 65.8 569.8 65.5 562 66.2C554.2 66.9 558.2 66.3 550.4 67.6C542.6 68.9 546.5 68 538.7 70C530.9 72 535.3 70.8 527 73.5C518.7 76.2 524.7 73.9 513.9 78.1C503.1 82.3 505.4 81.5 494.6 86.2C483.8 90.9 490.2 88 481.4 92.1C472.6 96.2 475.5 95.1 468.3 98.5C461.1 101.9 464.4 100.4 459.8 102.4C455.2 104.4 458.1 103.5 454.5 104.4C450.9 105.3 452.4 104.4 449.1 105.2C445.8 106 446.9 105.7 444.6 106.9C442.3 108.1 443.7 106.2 442.2 108.8C440.7 111.4 440.5 109.8 440 114.7C439.5 119.6 439.6 117.6 440.8 123.4C442 129.2 441.8 126.3 443.7 132.2C445.6 138.1 444.9 136.6 446.6 141C448.3 145.4 447.2 143.2 448.8 145.4C450.4 147.6 448.8 146.9 451.5 147.7C454.2 148.5 451.8 148.5 457 147.7C462.2 146.9 460.3 146.2 467 145.2C473.7 144.2 471.2 144.7 477 144.7C482.8 144.7 476.2 144.2 484.5 145.2C492.8 146.2 490.3 145.2 502 147.8C513.7 150.4 507.8 148.7 519.5 153.1C531.2 157.5 528.3 157.3 537 161C545.7 164.7 540.2 162.9 545.5 164.2C550.8 165.5 546.9 163.8 552.8 164.8C558.7 165.8 551.9 165.3 563.3 167.1C574.7 168.9 575.5 169.5 587 170.2C598.5 170.9 588.9 169.5 597.7 169.1C606.5 168.7 603.7 169.2 613.4 169.1C623.1 169 620.4 168.8 626.8 168.8C633.2 168.8 628.6 169.5 632.5 169.2C636.4 168.9 631.8 169.2 638.6 168C645.4 166.8 643.9 167.5 652.8 165.7C661.7 163.9 657.5 164.6 665.3 162.5C673.1 160.4 670.4 161.3 676.3 159.4C682.2 157.5 680.8 157.6 683 156.7" stroke="#111" stroke-width="1.15" fill="none" stroke-linejoin="round"/><path d="M527 82.2C533 80.4 530.9 80.6 538.7 78.7C546.5 76.8 543.4 77.4 550.4 76.4C557.4 75.4 554.2 76.2 559.7 75.8C565.2 75.4 562.3 75.4 567 75.2C571.7 75 567.6 75 573.7 75.2C579.8 75.4 578.4 75.3 585.4 75.8C592.4 76.3 588.4 75.1 594.6 76.7C600.8 78.3 598.8 77.2 604 80.6C609.2 84 606.9 82.2 610.3 86.9C613.7 91.6 612.1 89 614.2 94.8C616.3 100.6 614.8 98.1 616.6 104.2C618.4 110.3 617.4 107.4 619.5 113.2C621.6 119 621 115.6 622.9 121.6C624.8 127.6 625.2 126.4 625.2 131.1C625.2 135.8 625.8 133.2 622.9 135.8C620 138.4 622.4 137.1 616.6 138.9C610.8 140.7 611.4 139.9 605.6 141.3C599.8 142.7 604 142.2 599.3 143.2C594.6 144.2 597.2 143.7 591.4 144.4C585.6 145.1 591.4 145.8 582 145.2C572.6 144.6 575.4 144.6 563.3 142.6C551.2 140.6 557.5 141.7 545.8 139.1C534.1 136.5 538.4 137.2 528.3 134.7C518.2 132.2 522.9 133.9 515.6 131.5C508.3 129.1 512.1 130.7 506.4 127.6C500.7 124.5 502.9 126.3 498.5 122.3C494.1 118.3 495.6 119.6 493.2 115.7C490.8 111.8 491.7 114.4 491.3 110.5C490.9 106.6 489.9 108.3 491.9 103.9C493.9 99.5 491.9 101.7 497.2 97.3C502.5 92.9 499.8 95.2 507.7 90.8C515.6 86.4 514.4 87.1 520.8 84.2C527.2 81.3 521 84 527 82.2Z" stroke="#111" stroke-width="1.15" fill="none" stroke-linejoin="round"/><path d="M683 64.7C680 65.5 681.5 63.5 674 67.2C666.5 70.9 666.6 70.4 660.6 75.9C654.6 81.4 658 77 655.9 83.8C653.8 90.6 655.1 88 654.3 96.4C653.5 104.8 654.4 102.3 653.5 108.9C652.6 115.5 652.5 112 651.5 116.2C650.5 120.4 650 117.4 650.4 121.6C650.8 125.8 649.4 125.3 652.8 128.7C656.2 132.1 655.2 131.7 660.6 131.9C666 132.1 663.7 132.4 669 129.2C674.3 126 671.8 127.7 676.5 122.2C681.2 116.7 680.8 115.9 683 112.7" stroke="#111" stroke-width="1.15" fill="none" stroke-linejoin="round"/><path d="M683 57C680.1 57.7 681.1 56.5 674.3 59C667.5 61.5 671.7 60 662.6 64.4C653.5 68.8 657.4 67.7 647.1 72.2C636.8 76.7 641.3 76.1 631.6 78C621.9 79.9 629 79 618 78C607 77 611.5 77 598.5 75.1C585.5 73.2 590.1 73.8 579.1 72.2C568.1 70.6 572 70.9 565.5 70.2C559 69.5 564.9 70.4 559.7 70.2C554.5 70 556.4 69.3 550 69.5C543.6 69.7 550.3 68.2 540.6 70.7C530.9 73.2 533.4 72.5 520.8 77C508.2 81.5 514.9 79.3 502.9 84.1C490.9 88.9 496.9 86.5 484.9 91.3C472.9 96.1 475.9 94.3 466.9 98.5C457.9 102.7 462.8 100.3 458 103.9C453.2 107.5 454.7 105.6 452.6 109.3C450.5 113 451.9 110.8 451.7 115C451.5 119.2 451.7 117.7 452 122C452.3 126.3 451.8 124.3 452.5 128C453.2 131.7 452.2 130.5 454 133C455.8 135.5 454.5 134.4 458 135.5C461.5 136.6 458.8 136 464.5 136.3C470.2 136.6 468 135.1 475 136.3C482 137.5 477.9 137.2 485.5 139.8C493.1 142.4 489.6 141 497.8 144.2C506 147.4 501.8 145.9 510 149.4C518.2 152.9 513.3 151.2 522.3 154.7C531.3 158.2 529.4 157.4 537 160C544.6 162.6 537.3 160.5 545 162.5C552.7 164.5 551.9 164.4 560 166C568.1 167.6 556.6 165.9 569.4 167.3C582.2 168.7 580.4 169.2 598.5 170.2C616.6 171.2 607.6 170.8 623.8 170.2C640 169.6 632.9 169.9 647.1 168.3C661.3 166.7 654.5 169.2 666.5 165.3C678.5 161.4 677.5 159.5 683 156.6" stroke="#f04848" stroke-width="1.15" fill="none" stroke-linejoin="round"/><path d="M683 71C680.3 71.5 680.5 70.8 675 72.5C669.5 74.2 671.9 72.5 666.5 76C661.1 79.5 663.9 77.7 658.7 82.9C653.5 88.1 656.8 86.1 651 91.6C645.2 97.1 649.1 95.5 641.3 99.4C633.5 103.3 636.8 102.7 627.7 103.3C618.6 103.9 623.8 104.6 614.1 101.3C604.4 98 608.2 98.7 598.5 93.5C588.8 88.3 594.7 90.3 585 85.8C575.3 81.3 580.1 82.7 569.4 80C558.7 77.3 560.8 78.2 553 77.8C545.2 77.4 554.9 77.2 546 78.7C537.1 80.2 538.8 79.3 526.2 82.3C513.6 85.3 519.1 83.8 508.3 87.7C497.5 91.6 501.7 89.5 493.9 94C486.1 98.5 488.8 96.1 484.9 101.2C481 106.3 482.2 104.4 482.2 109.3C482.2 114.2 481.7 111.9 485 116C488.3 120.1 487 118.3 492 121.5C497 124.7 495.2 123.5 500 125.5C504.8 127.5 500.2 125.1 506.5 127.5C512.8 129.9 512.4 129.9 518.8 132.8C525.2 135.7 521.1 134 525.8 136.3C530.5 138.6 528.3 138.4 533 139.8C537.7 141.2 534.1 139.9 539.8 140.6C545.5 141.3 540.1 140.9 550 142C559.9 143.1 556.5 142.7 569.4 144C582.3 145.3 576.5 145.1 588.8 145.9C601.1 146.7 595.3 146.3 606.3 146.5C617.3 146.7 614.7 146.7 621.8 146.5C628.9 146.3 620.6 147.1 627.7 145.9C634.8 144.7 632.9 145.9 643.2 143C653.5 140.1 648.3 141.7 658.7 137.2C669.1 132.7 666.2 135.9 674.3 129.4C682.4 122.9 680.1 121.7 683 117.8" stroke="#f04848" stroke-width="1.15" fill="none" stroke-linejoin="round"/><path d="M542.5 91C535.8 91.4 537 90.6 529.8 93.1C522.6 95.6 525 94.3 520.8 98.5C516.6 102.7 517.8 101.5 517.2 105.7C516.6 109.9 516.7 108.1 519 111C521.3 113.9 520.3 112.5 524 114.4C527.7 116.3 525.3 115.6 530 116.8C534.7 118 531.3 117.1 538 117.9C544.7 118.7 542.8 119.2 550 119.2C557.2 119.2 553.9 119.9 559.7 117.8C565.5 115.7 564.6 117.2 567.5 113C570.4 108.8 570.3 110.4 568.4 105.2C566.5 100 567.8 101.8 561.7 97.4C555.6 93 556.4 94 550 91.9C543.6 89.8 549.2 90.6 542.5 91Z" stroke="#f04848" stroke-width="1.15" fill="none" stroke-linejoin="round"/><text x="559.7" y="73.6" class="cl" text-anchor="middle" textLength="9.8" lengthAdjust="spacingAndGlyphs" style="fill:#f04848">20</text><text x="459.8" y="137.9" class="cl" text-anchor="middle" textLength="4.8" lengthAdjust="spacingAndGlyphs" style="fill:#f04848">0</text><text x="537" y="163.4" class="cl" text-anchor="middle" textLength="9.8" lengthAdjust="spacingAndGlyphs" style="fill:#f04848">20</text><text x="553" y="81.2" class="cl" text-anchor="middle" textLength="9.8" lengthAdjust="spacingAndGlyphs" style="fill:#f04848">30</text><text x="533" y="143.2" class="cl" text-anchor="middle" textLength="9.8" lengthAdjust="spacingAndGlyphs" style="fill:#f04848">30</text><text x="621.8" y="149.9" class="cl" text-anchor="middle" textLength="9.8" lengthAdjust="spacingAndGlyphs" style="fill:#f04848">30</text><text x="680.5" y="75.6" class="cl" text-anchor="middle" textLength="9.8" lengthAdjust="spacingAndGlyphs" style="fill:#f04848">30</text><text x="542.5" y="94.4" class="cl" text-anchor="middle" textLength="9.8" lengthAdjust="spacingAndGlyphs" style="fill:#f04848">40</text><text x="587" y="69.1" class="cl" text-anchor="middle" textLength="9.8" lengthAdjust="spacingAndGlyphs" style="fill:#111">20</text><text x="454.4" y="102.1" class="cl" text-anchor="middle" textLength="9.8" lengthAdjust="spacingAndGlyphs" style="fill:#111">20</text><text x="465" y="154.8" class="cl" text-anchor="middle" textLength="9.8" lengthAdjust="spacingAndGlyphs" style="fill:#111">20</text><text x="545.5" y="167.6" class="cl" text-anchor="middle" textLength="9.8" lengthAdjust="spacingAndGlyphs" style="fill:#111">20</text><text x="632.5" y="172.6" class="cl" text-anchor="middle" textLength="9.8" lengthAdjust="spacingAndGlyphs" style="fill:#111">20</text><text x="491.3" y="113.9" class="cl" text-anchor="middle" textLength="9.8" lengthAdjust="spacingAndGlyphs" style="fill:#111">30</text><text x="567" y="78.6" class="cl" text-anchor="middle" textLength="9.8" lengthAdjust="spacingAndGlyphs" style="fill:#111">30</text><text x="599.3" y="147" class="cl" text-anchor="middle" textLength="9.8" lengthAdjust="spacingAndGlyphs" style="fill:#111">30</text><text x="680.8" y="60.1" class="cl" text-anchor="middle" textLength="9.8" lengthAdjust="spacingAndGlyphs" style="fill:#111">20</text><text x="680.8" y="68.9" class="cl" text-anchor="middle" textLength="9.8" lengthAdjust="spacingAndGlyphs" style="fill:#111">30</text>
</g>
<rect x="370.5" y="16.5" width="311.3" height="166" fill="none" stroke="#1a1a1a" stroke-width="1.15"/>
<text x="364.5" y="186.3" class="ax" text-anchor="end" textLength="10.6" lengthAdjust="spacingAndGlyphs">5N</text>
<text x="364.5" y="165.6" class="ax" text-anchor="end" textLength="16" lengthAdjust="spacingAndGlyphs">10N</text>
<text x="364.5" y="144.8" class="ax" text-anchor="end" textLength="16" lengthAdjust="spacingAndGlyphs">15N</text>
<text x="364.5" y="124.1" class="ax" text-anchor="end" textLength="16" lengthAdjust="spacingAndGlyphs">20N</text>
<text x="364.5" y="103.3" class="ax" text-anchor="end" textLength="16" lengthAdjust="spacingAndGlyphs">25N</text>
<text x="364.5" y="82.5" class="ax" text-anchor="end" textLength="16" lengthAdjust="spacingAndGlyphs">30N</text>
<text x="364.5" y="61.8" class="ax" text-anchor="end" textLength="16" lengthAdjust="spacingAndGlyphs">35N</text>
<text x="364.5" y="41" class="ax" text-anchor="end" textLength="16" lengthAdjust="spacingAndGlyphs">40N</text>
<text x="364.5" y="20.3" class="ax" text-anchor="end" textLength="16" lengthAdjust="spacingAndGlyphs">45N</text>
<text x="379.9" y="194.8" class="ax" text-anchor="middle" textLength="20.5" lengthAdjust="spacingAndGlyphs">100E</text>
<text x="414.4" y="194.8" class="ax" text-anchor="middle" textLength="20.5" lengthAdjust="spacingAndGlyphs">110E</text>
<text x="449" y="194.8" class="ax" text-anchor="middle" textLength="20.5" lengthAdjust="spacingAndGlyphs">120E</text>
<text x="483.5" y="194.8" class="ax" text-anchor="middle" textLength="20.5" lengthAdjust="spacingAndGlyphs">130E</text>
<text x="518.1" y="194.8" class="ax" text-anchor="middle" textLength="20.5" lengthAdjust="spacingAndGlyphs">140E</text>
<text x="552.6" y="194.8" class="ax" text-anchor="middle" textLength="20.5" lengthAdjust="spacingAndGlyphs">150E</text>
<text x="587.2" y="194.8" class="ax" text-anchor="middle" textLength="20.5" lengthAdjust="spacingAndGlyphs">160E</text>
<text x="621.7" y="194.8" class="ax" text-anchor="middle" textLength="20.5" lengthAdjust="spacingAndGlyphs">170E</text>
<text x="656.3" y="194.8" class="ax" text-anchor="middle" textLength="15.5" lengthAdjust="spacingAndGlyphs">180</text>
<path d="M370.5 182.5h-3M370.5 161.8h-3M370.5 141h-3M370.5 120.3h-3M370.5 99.5h-3M370.5 78.8h-3M370.5 58h-3M370.5 37.2h-3M370.5 16.5h-3M379.5 182.5v3M414 182.5v3M448.6 182.5v3M483.1 182.5v3M517.7 182.5v3M552.2 182.5v3M586.8 182.5v3M621.3 182.5v3M655.9 182.5v3" stroke="#1a1a1a" stroke-width="1" fill="none"/>
<text x="432.8" y="10.6" class="tt" textLength="35" lengthAdjust="spacingAndGlyphs">RCP85</text>
<text x="474.9" y="10.6" class="tt" textLength="65.5" lengthAdjust="spacingAndGlyphs">2080−2100</text>
<text x="547.5" y="10.6" class="tt" textLength="19.6" lengthAdjust="spacingAndGlyphs">and</text>
<text x="573.4" y="10.6" class="tt" textLength="45.5" lengthAdjust="spacingAndGlyphs">Baseline</text>
<text x="374.9" y="34.5" class="pl" textLength="18.8" lengthAdjust="spacingAndGlyphs">(b)</text>
<path d="M540.7 205.9h19.2" stroke="#222" stroke-width="0.7"/>
<path d="M540.7 215.9h19.2" stroke="#f07070" stroke-width="0.8"/>
<text x="563.8" y="209.4" class="lg" textLength="44" lengthAdjust="spacing">Baseline</text>
<text x="563.8" y="219.4" class="lg" textLength="35" lengthAdjust="spacing">RCP85</text>
<path d="M611.4 199.7h17" stroke="#444" stroke-width="0.6"/>
<path d="M629.4 199.7l-2.2 -0.9v1.8z" fill="#333"/>
<text x="620.4" y="207.2" class="rv" text-anchor="middle">2</text>
<clipPath id="cc"><rect x="24.5" y="239.5" width="311.7" height="166"/></clipPath>
<g clip-path="url(#cc)">
<path d="M23.1 237.4 158.7 237.4 158.7 239.5 156.3 243.7 155.3 244.9 152.2 247 149.7 248.8 145.9 248.2 143.5 247 141.8 249.5 139.4 250.5 138 251.9 136.6 252.8 135.9 255.3 133.8 256.9 132.1 259.4 130.4 260.7 128.6 261.9 128.3 263.6 130.4 264.8 132.1 266.9 133.8 269.4 135.2 272.7 135.5 276.9 135.2 278.9 134.2 280.6 132.1 281.4 129 282.7 125.2 283.7 124.5 281.8 125.2 278.9 125.5 275.6 124.1 273.5 125.9 270.6 123.8 269.6 120.7 269.8 118.9 268.1 120.7 266.1 121 262.7 118.6 261.5 117.2 260.9 113.1 261.9 110.3 263.6 107.2 265.2 108.2 262.7 107.9 260.7 110.3 258.2 108.9 256.5 106.1 256.5 103.7 259 101 261.1 99.2 263.6 96.5 264 94.7 264.8 94.4 266.5 95.8 268.1 98.5 270.2 99.2 271.9 102 272.3 104.4 270.2 107.9 270.6 111.3 271 111.3 273.1 107.9 273.9 105.1 275.2 103.7 276.9 101 278.9 99.9 281.8 102 283.5 103.7 286 105.5 290.1 107.5 292.2 109.3 294.7 109.3 297.2 106.8 299.3 109.3 301.8 108.6 304.7 107.9 308 106.5 310.1 104.8 313 102.7 315.9 101.3 318.4 101 320.8 99.2 322.5 97.8 324.2 95.1 325.8 93 328.3 90.6 330.8 87.1 331.6 84.7 332.5 82.6 333.7 80.5 332.9 79.9 334.9 76.7 335.8 74 336.6 71.5 337.4 69.8 338.3 69.5 341.6 68.8 342 67.7 340.3 67.1 337 64.6 336.6 61.9 336.6 59.8 337.9 56.7 340.3 54.9 343.2 53.6 346.6 54.3 349.1 56.3 352.8 58.4 356.1 61.9 359.9 63.9 363.2 65 368.1 65.7 372.3 65.3 376.5 64.6 378.9 61.2 381.4 57.7 383.1 56.3 385.2 55.3 387.2 52.5 390.1 50.1 390.6 50.1 386.8 50.4 384.3 48.7 383.1 45.9 382.7 44.2 379.8 42.5 376 41.1 374.8 38.3 373.5 36.6 373.5 36.6 370.6 34.2 370.2 33.5 372.3 33.1 375.6 31.8 379.8 30.7 383.5 30.7 387.2 33.1 388.1 34.2 391.4 34.9 396 36.6 397.6 38.7 398 40.8 400.5 42.5 402.6 44.2 404.7 45.3 407.6 34.9 407.6 34.9 405.5 34.5 402.2 33.8 399.3 32.5 397.6 31.1 395.1 28.7 392.6 27.6 391 27.6 388.9 28.3 384.8 28.7 381.4 29 377.3 28.7 374.8 27.3 371.5 26.6 366.1 25.5 361.5 24.5 357.8 23.1 356.5ZM106.1 321.3 108.2 321.3 109.6 322.5 108.9 325.4 107.9 328.7 106.8 332 105.8 334.9 105.1 333.7 103.7 332.5 103 330.4 103.4 327.5 104.8 324.6 106.1 322.5ZM68.8 342.8 70.5 342.8 71.5 344.9 69.8 348.2 68.1 349.9 66.4 350.7 63.6 349.5 63.2 346.6 65.3 344.1 67.1 343.2ZM137.3 286 139 285.1 140.7 285.6 143.2 287.2 143.9 290.1 142.5 295.5 141.1 296.8 139.7 297.6 138 296.4 138 293.4 139 291 137.6 290.1 136.6 288.5 135.9 287.6ZM145.9 285.6 148 284.3 151.1 283.9 153.5 284.3 153.5 286 151.8 287.6 149.7 287.6 147.7 290.1 145.9 288.9 145.6 287.2ZM140.4 285.1 142.5 283.1 145.2 279.8 147.7 278.9 151.1 278.5 155.3 278.1 157.7 278.1 158.4 276.4 160.8 272.7 160.8 271 162.5 270.6 161.5 273.5 163.2 273.1 166.7 271.5 169.5 268.6 171.2 264.8 171.9 261.9 171.2 260.2 171.9 257.8 172.9 255.3 175 255.3 176.7 254.4 177.1 258.2 178.8 262.3 177.1 267.3 175.3 267.7 175.3 272.7 173.9 275.6 174.6 278.1 172.9 280.6 171.2 279.8 170.8 281.4 168.8 280.2 167.7 282.7 166 282.7 162.2 282.7 160.8 283.9 159.1 287.2 157.3 287.2 154.9 286 155.3 283.1 151.8 282.2 147.7 283.5 145.2 284.3 143.2 285.1 140.7 285.6ZM171.9 249.5 172.2 252.4 173.9 254 176 252.8 175 250.3 177.8 249.5 180.5 251.1 183.3 252.4 185 249.5 189.2 247.8 191.2 246.6 190.2 245.3 189.2 242.8 186.4 243.2 182.3 241.6 178.8 237.8 177.4 238.3 177.8 242 176.7 244.9 176.4 247 173.6 246.6 172.9 248.2ZM104.8 349.5 106.8 349.1 110.3 349.5 110.6 353.6 111.3 357.8 108.2 361.1 108.2 364 108.9 366.1 111.3 366.9 113.8 367.7 116.5 369.8 117.6 372.3 116.5 374 114.4 372.3 111.7 369.8 108.9 369 105.8 369 104.8 366.9 105.8 365.7 104.4 364.8 102.7 361.9 102 358.6 103.7 357.8 104.1 353.6ZM109.6 397.2 109.9 394.7 112.4 393.9 114.8 393.9 115.8 391.4 117.6 391.8 119.3 388.9 121.4 385.6 123.4 387.7 124.5 393.1 125.2 397.2 124.1 400.1 122.1 396.4 121.4 401.4 120 402.2 117.2 400.5 116.5 397.2 115.1 394.7 113.1 395.1 111.3 397.2ZM103.7 370.2 106.1 369.8 107.9 371.9 106.8 375.2 105.5 375.2 104.1 372.7ZM109.3 377.3 111.7 378.1 113.4 379.8 112 382.3 109.9 382.7 109.3 380.6ZM111 381.8 113.8 381 114.8 383.5 113.4 388.5 111.7 387.2 111 383.9ZM115.5 379.4 116.9 381.4 115.8 384.8 114.4 386.8 114.4 383.9ZM115.8 384.3 118.3 384.3 117.9 386.4 115.8 386.4ZM117.6 378.5 120 378.9 120.7 383.9 119.3 384.8 117.9 381.8ZM117.6 374.4 121 374.4 122.4 377.3 121.7 380.2 120 379.8 118.6 377.3ZM101.6 378.9 102.3 380.6 99.2 384.8 95.8 388.1 93.3 391.4 92.7 390.6 95.1 386.8 98.2 383.1 100.3 380.2ZM83.7 407.6 86.1 405.5 87.5 403.4 89.5 400.9 91.3 397.4 93 397.6 94.7 399.7 96.5 402.2 100.3 405.1 100.6 407.6Z" fill="#aaaaaa"/>
<ellipse cx="34.2" cy="273.1" rx="1.8" ry="1.0" fill="#fff"/>
<ellipse cx="97.8" cy="288.1" rx="1.1" ry="0.8" fill="#fff"/>
<ellipse cx="103.4" cy="296.8" rx="1.0" ry="0.9" fill="#fff"/>
<ellipse cx="47" cy="372.7" rx="1.3" ry="0.8" fill="#fff"/>
<path d="M26.8 401.7l-3.9 3.6M33.7 401.7l-3.9 3.6M47.6 401.7l-4 3.6M54.6 401.7l-4.2 3.5M61.7 401.8l-4.5 3.4M68.7 401.9l-4.8 3.2M75.7 402l-4.9 2.9M82.7 402.3l-5 2.5M89.6 402.5l-4.9 2M103.2 402.9l-4.6 1.2M110 403.1l-4.3 0.7M116.9 403.2l-4.1 0.5M123.8 403.3l-4.1 0.4M130.6 403.3l-4 0.4M137.5 403.4l-3.8 0.2M144.3 403.4l-3.7 0.1M151.2 403.4l-3.7 0.1M158.2 403.5l-3.7 0.1M165.1 403.4l-3.7 0.1M172 403.4l-3.7 0.2M178.9 403.4l-3.7 0.1M185.8 403.5l-3.7 0.1M192.8 403.5l-3.7 0M199.7 403.5l-3.7 0M206.6 403.5l-3.7 0M213.5 403.5l-3.7 0M220.5 403.5l-3.8 0M227.5 403.5l-3.9 0M234.4 403.5l-4 0M241.4 403.5l-4.1 0M248.3 403.5l-4.1 0M255.2 403.5l-4.1 0M262.1 403.5l-4.1 0M269.1 403.5l-4.2 0M276.1 403.5l-4.3 0M283 403.5l-4.4 0M290 403.5l-4.4 0M296.9 403.5l-4.4 0M303.8 403.5l-4.5 0M310.8 403.5l-4.5 0M317.7 403.5l-4.5 0M324.6 403.5l-4.5 0M331.5 403.5l-4.5 0M338.4 403.5l-4.5 0M26.7 393.2l-3.6 4.1M40.5 393.2l-3.7 4.1M47.5 393.2l-3.7 4M54.5 393.3l-4 4M61.6 393.3l-4.3 3.9M68.7 393.4l-4.6 3.7M75.7 393.6l-4.8 3.4M82.6 393.8l-4.9 2.9M89.6 394l-4.9 2.5M96.4 394.2l-4.8 2.1M103.2 394.5l-4.6 1.6M110 394.7l-4.3 1M116.9 394.9l-4.2 0.7M130.6 395l-4 0.4M137.5 395.1l-3.8 0.3M144.3 395.1l-3.7 0.3M151.2 395.1l-3.7 0.2M158.2 395.1l-3.7 0.2M165.1 395.1l-3.7 0.3M172 395.1l-3.7 0.3M178.9 395.1l-3.7 0.3M185.8 395.2l-3.7 0.2M192.7 395.2l-3.7 0.1M199.7 395.2l-3.7 0M206.6 395.2l-3.7 0M213.5 395.2l-3.7 0M220.4 395.2l-3.7 0M227.4 395.2l-3.8 0M234.4 395.2l-3.9 0M241.3 395.2l-4 0M248.3 395.2l-4 0M255.2 395.2l-4.1 0M262.1 395.2l-4.1 0M269.1 395.2l-4.1 0M276 395.2l-4.1 0M283 395.2l-4.2 0M289.9 395.2l-4.3 0M296.9 395.2l-4.3 0M303.8 395.2l-4.4 0M310.7 395.2l-4.4 0M317.7 395.2l-4.5 0M324.6 395.2l-4.5 0M331.5 395.2l-4.5 0M338.4 395.2l-4.5 0M26.5 384.7l-3.2 4.7M33.4 384.7l-3.2 4.7M40.3 384.7l-3.3 4.7M47.3 384.7l-3.4 4.7M61.5 384.8l-4 4.6M68.6 384.8l-4.4 4.4M75.6 385l-4.7 4.1M82.6 385.2l-4.8 3.6M89.5 385.5l-4.9 3.1M96.4 385.8l-4.8 2.6M103.2 386.1l-4.6 1.9M110.1 386.4l-4.4 1.4M116.9 386.6l-4.2 0.9M130.6 386.8l-4 0.5M137.5 386.8l-3.8 0.5M144.3 386.8l-3.7 0.4M151.2 386.8l-3.7 0.4M158.2 386.8l-3.7 0.4M165.1 386.8l-3.7 0.4M172 386.8l-3.6 0.5M178.9 386.8l-3.6 0.5M185.8 386.8l-3.6 0.4M192.7 386.9l-3.6 0.3M199.6 386.9l-3.6 0.2M206.5 386.9l-3.6 0.2M213.4 386.9l-3.5 0.2M220.4 386.9l-3.6 0.2M227.3 387l-3.6 0.2M234.2 387l-3.6 0.1M241.2 387l-3.7 0.1M248.2 387l-3.9 0.1M255.1 387l-3.9 0.1M262.1 387l-3.9 0.1M269 387l-3.9 0.1M275.9 387l-4 0M282.9 387l-4 0M289.8 387l-4 0M296.7 387l-4.1 0M303.7 387l-4.2 0M310.7 387l-4.3 0M317.6 387l-4.3 0M324.5 387l-4.3 0M331.4 387l-4.3 0M338.4 387l-4.3 0M26.4 376.4l-3 4.9M40.2 376.4l-3.1 4.9M68.5 376.5l-4.2 4.8M75.5 376.6l-4.5 4.5M82.6 376.8l-4.7 4.1M89.5 377.1l-4.8 3.6M96.4 377.4l-4.8 3M103.3 377.7l-4.6 2.3M110.1 378.1l-4.4 1.6M116.9 378.3l-4.3 1.1M130.7 378.5l-4 0.7M137.5 378.6l-3.9 0.6M144.4 378.6l-3.8 0.6M151.2 378.6l-3.7 0.6M158.1 378.5l-3.7 0.7M165 378.5l-3.6 0.7M171.9 378.5l-3.5 0.8M178.8 378.5l-3.5 0.8M185.7 378.5l-3.4 0.8M192.6 378.5l-3.4 0.7M199.5 378.5l-3.3 0.7M206.4 378.5l-3.2 0.7M213.3 378.5l-3.2 0.7M220.2 378.6l-3.2 0.6M227.1 378.6l-3.3 0.5M234 378.6l-3.3 0.5M241 378.7l-3.3 0.4M248 378.7l-3.5 0.4M255 378.7l-3.6 0.3M261.9 378.8l-3.6 0.2M268.8 378.8l-3.6 0.2M275.7 378.8l-3.6 0.1M282.7 378.9l-3.6 0.1M289.6 378.9l-3.6 0M296.5 378.9l-3.6 0M303.5 378.9l-3.7 0M310.5 378.9l-3.9 0M317.4 378.9l-4 0M324.4 378.9l-4 0M331.3 378.9l-4 0M338.2 378.9l-4 0M26.4 368.3l-3 5M68.3 368.3l-3.9 4.9M75.4 368.4l-4.2 4.7M82.5 368.6l-4.6 4.4M89.6 368.8l-4.9 3.9M96.6 369.1l-5 3.4M103.4 369.4l-4.9 2.7M110.2 369.9l-4.6 1.8M123.8 370.3l-4.3 0.9M130.7 370.4l-4.2 0.8M137.6 370.4l-4 0.7M144.4 370.4l-3.9 0.7M151.3 370.4l-3.8 0.7M158.2 370.4l-3.7 0.7M165 370.4l-3.6 0.8M171.9 370.3l-3.4 0.9M178.7 370.3l-3.3 1M185.6 370.3l-3.3 1M192.5 370.3l-3.2 1M199.3 370.3l-3 0.9M206.2 370.3l-3 0.9M213.1 370.3l-3 0.9M220.1 370.4l-3 0.8M227 370.4l-3 0.6M233.9 370.5l-3 0.6M240.8 370.5l-3 0.6M247.8 370.5l-3.1 0.5M254.8 370.6l-3.2 0.4M261.7 370.6l-3.3 0.3M268.7 370.6l-3.3 0.3M275.6 370.7l-3.3 0.2M282.5 370.7l-3.3 0.1M289.4 370.8l-3.3 0M296.4 370.8l-3.4 0M303.3 370.8l-3.5 0M310.3 370.8l-3.6 0M317.3 370.8l-3.7 0M324.2 370.8l-3.7 0M331.1 370.8l-3.7 0M338.1 370.8l-3.7 0M26.3 360.2l-3 5M68.2 360.3l-3.7 4.9M75.3 360.4l-4.1 4.7M82.4 360.5l-4.5 4.4M89.6 360.8l-4.9 3.9M96.6 361l-5.1 3.5M103.5 361.4l-5.1 2.7M117.1 362.2l-4.7 1.1M124 362.3l-4.5 0.8M130.8 362.4l-4.4 0.7M137.7 362.4l-4.3 0.6M144.6 362.4l-4.2 0.6M151.4 362.4l-4.1 0.6M158.2 362.4l-3.9 0.6M165 362.4l-3.6 0.6M171.8 362.4l-3.4 0.7M178.7 362.4l-3.3 0.7M185.6 362.3l-3.2 0.8M192.4 362.4l-3 0.7M199.3 362.4l-2.9 0.7M206.2 362.4l-2.9 0.7M213.1 362.4l-2.9 0.7M220 362.5l-2.9 0.5M226.9 362.5l-2.9 0.4M233.9 362.5l-2.9 0.4M240.8 362.6l-2.9 0.3M247.7 362.6l-3 0.3M254.7 362.6l-3 0.2M261.6 362.6l-3.1 0.2M268.5 362.6l-3.1 0.2M275.5 362.7l-3.1 0.1M282.4 362.7l-3.1 0M289.3 362.7l-3.1 0M296.3 362.7l-3.2 0M303.3 362.7l-3.3 0M310.2 362.7l-3.4 0M317.2 362.7l-3.5 0M324.1 362.7l-3.5 0M331 362.7l-3.5 0M337.9 362.7l-3.5 0M61.1 352.3l-3.4 4.9M68.2 352.4l-3.8 4.7M75.3 352.5l-4.1 4.4M82.4 352.7l-4.4 4.1M89.5 352.9l-4.7 3.7M96.5 353.2l-5 3.1M103.5 353.6l-5 2.3M117.2 354.3l-4.9 1M124.1 354.4l-4.8 0.8M131 354.5l-4.7 0.6M137.8 354.5l-4.6 0.5M144.7 354.5l-4.5 0.5M151.5 354.5l-4.3 0.4M158.3 354.5l-4 0.5M165 354.5l-3.6 0.5M171.8 354.5l-3.4 0.5M178.7 354.5l-3.3 0.5M185.5 354.5l-3.1 0.5M192.4 354.5l-2.9 0.5M199.3 354.5l-2.9 0.5M206.2 354.5l-2.8 0.5M213 354.5l-2.8 0.4M220 354.6l-2.8 0.3M226.9 354.7l-2.8 0.2M233.8 354.7l-2.8 0.2M240.7 354.7l-2.8 0.2M247.6 354.7l-2.8 0.1M254.6 354.7l-2.8 0.1M261.5 354.7l-2.8 0.1M268.4 354.7l-2.9 0.1M275.4 354.7l-2.9 0M282.3 354.8l-2.9 0M289.2 354.8l-2.9 0M296.2 354.8l-3 0M303.2 354.8l-3.1 0M310.1 354.8l-3.2 0M317.1 354.8l-3.3 0M324 354.8l-3.3 0M330.9 354.8l-3.3 0M337.9 354.8l-3.3 0M61.3 344.6l-3.7 4.5M75.3 344.9l-4.1 4M82.4 345l-4.3 3.7M89.4 345.2l-4.6 3.3M96.4 345.5l-4.8 2.7M103.4 345.8l-4.9 2.1M110.3 346.2l-5 1.3M117.3 346.5l-4.9 0.8M124.2 346.6l-4.9 0.6M131.1 346.6l-4.9 0.5M137.9 346.7l-4.8 0.4M144.8 346.7l-4.7 0.4M151.6 346.7l-4.4 0.4M158.3 346.7l-4 0.4M165.1 346.7l-3.7 0.4M171.9 346.7l-3.5 0.4M178.7 346.6l-3.3 0.5M185.5 346.6l-3 0.6M192.3 346.6l-2.8 0.6M199.2 346.6l-2.7 0.6M206 346.6l-2.6 0.6M212.9 346.6l-2.5 0.6M219.8 346.6l-2.4 0.5M226.7 346.7l-2.4 0.4M233.6 346.7l-2.4 0.3M240.5 346.7l-2.4 0.3M247.5 346.8l-2.4 0.2M254.4 346.8l-2.5 0.2M261.4 346.8l-2.6 0.1M268.3 346.8l-2.6 0.1M275.3 346.9l-2.7 0M282.2 346.9l-2.7 0M289.2 346.9l-2.8 0M296.1 346.9l-2.9 0M303.1 346.9l-3 0M310.1 346.9l-3.1 0M317 346.9l-3.2 0M324 346.9l-3.3 0M330.9 346.9l-3.3 0M337.8 346.9l-3.3 0M61.4 337l-3.9 4.1M68.4 337.1l-4 4M75.3 337.2l-4.1 3.8M82.3 337.3l-4.3 3.6M89.4 337.5l-4.5 3.1M96.4 337.9l-4.8 2.4M103.4 338.3l-5 1.6M110.4 338.7l-5.1 0.8M117.3 338.9l-5.1 0.4M124.2 339l-5.1 0.2M131.2 339l-5.1 0.2M138.1 338.9l-5 0.3M144.9 338.9l-4.9 0.3M151.7 338.9l-4.7 0.4M158.4 338.9l-4.3 0.4M165.2 338.9l-3.9 0.4M172 338.8l-3.7 0.5M178.8 338.8l-3.4 0.7M185.5 338.7l-3 0.8M192.3 338.7l-2.8 0.8M199.1 338.7l-2.6 0.8M206 338.7l-2.4 0.8M212.8 338.7l-2.3 0.8M219.7 338.7l-2.2 0.8M226.6 338.7l-2.1 0.7M233.5 338.8l-2.1 0.6M240.4 338.8l-2.1 0.5M247.3 338.9l-2.1 0.4M254.3 338.9l-2.2 0.3M261.2 339l-2.3 0.2M268.2 339l-2.4 0.1M275.2 339.1l-2.5 0.1M282.2 339.1l-2.6 0M289.1 339.1l-2.7 0M296.1 339.1l-2.9 0M303.1 339.1l-3 0M310 339.1l-3 0M317 339.1l-3.2 -0.1M324 339.1l-3.3 -0.1M330.9 339.1l-3.3 0M337.9 339.1l-3.3 0M96.6 330.8l-5.1 1.2M103.6 331.3l-5.3 0.1M110.6 331.6l-5.4 -0.5M117.5 331.7l-5.5 -0.6M124.5 331.6l-5.5 -0.5M131.4 331.5l-5.6 -0.3M138.3 331.5l-5.5 -0.1M145.2 331.3l-5.4 0.1M152 331.2l-5.3 0.3M158.8 331.2l-5 0.4M165.5 331.1l-4.6 0.5M172.3 331l-4.2 0.7M179 330.9l-3.9 1M185.8 330.8l-3.6 1.1M192.5 330.8l-3.2 1.1M199.2 330.8l-2.8 1.1M206 330.8l-2.5 1.1M212.8 330.8l-2.3 1.1M219.7 330.9l-2.2 1M226.5 330.9l-2.1 0.9M233.4 331l-2 0.8M240.3 331l-2 0.7M247.3 331.1l-2 0.6M254.2 331.2l-2.1 0.5M261.2 331.2l-2.1 0.4M268.1 331.3l-2.3 0.3M275.2 331.3l-2.5 0.1M282.2 331.4l-2.7 0M289.2 331.4l-2.8 0M296.2 331.4l-2.9 0M303.1 331.4l-3 -0.1M310.1 331.5l-3.2 -0.2M317.1 331.5l-3.3 -0.2M324 331.5l-3.3 -0.2M331 331.5l-3.3 -0.2M337.9 331.4l-3.3 -0.1M103.8 324.6l-5.7 -1.7M117.7 324.6l-5.7 -1.6M124.6 324.4l-5.8 -1.3M131.6 324.2l-5.9 -0.9M138.5 324.1l-5.9 -0.6M145.4 323.9l-5.9 -0.2M152.3 323.7l-5.8 0.2M159.1 323.6l-5.6 0.5M165.9 323.5l-5.3 0.7M172.6 323.3l-4.8 1M179.3 323.2l-4.4 1.3M186 323.1l-4.1 1.4M192.7 323.1l-3.7 1.4M199.4 323.1l-3.1 1.4M206.1 323.1l-2.7 1.4M212.9 323.1l-2.5 1.3M219.8 323.2l-2.3 1.2M226.6 323.3l-2.2 1M233.5 323.3l-2.1 0.9M240.4 323.4l-2.1 0.8M247.3 323.5l-2.1 0.7M254.2 323.5l-2.1 0.5M261.2 323.6l-2.2 0.4M268.1 323.6l-2.3 0.3M275.2 323.7l-2.5 0.2M282.2 323.8l-2.8 0M289.3 323.8l-3 0M296.2 323.8l-3.1 -0.1M303.2 323.9l-3.2 -0.2M310.2 324l-3.4 -0.4M317.2 324l-3.5 -0.5M324.1 324l-3.5 -0.5M331 324l-3.5 -0.4M337.9 324l-3.4 -0.4M110.3 317.2l-4.8 -1.9M117.2 317.1l-4.7 -1.7M124.2 317l-4.9 -1.4M131.2 316.8l-5.2 -1.1M138.3 316.7l-5.5 -0.7M145.3 316.4l-5.7 -0.3M152.3 316.2l-5.7 0.2M159.1 316.1l-5.7 0.5M165.9 315.9l-5.4 0.7M172.6 315.8l-5 1.1M179.4 315.6l-4.6 1.3M186.1 315.6l-4.3 1.5M192.9 315.6l-3.9 1.5M199.5 315.6l-3.4 1.5M206.3 315.6l-3 1.5M213.1 315.6l-2.9 1.4M219.9 315.7l-2.7 1.2M226.7 315.8l-2.5 0.9M233.6 315.9l-2.4 0.8M240.5 315.9l-2.4 0.7M247.4 316l-2.4 0.6M254.4 316.1l-2.4 0.4M261.3 316.2l-2.4 0.3M268.3 316.2l-2.5 0.2M275.3 316.3l-2.7 0M282.4 316.4l-3 -0.1M289.3 316.4l-3.2 -0.2M296.3 316.5l-3.2 -0.3M303.3 316.5l-3.4 -0.4M310.3 316.6l-3.6 -0.6M317.3 316.7l-3.7 -0.7M324.2 316.7l-3.7 -0.7M331.1 316.7l-3.7 -0.7M338 316.7l-3.7 -0.7M108.3 309.3l-0.9 -0.8M115.6 309.4l-1.5 -0.9M122.9 309.3l-2.4 -0.8M130.3 309.3l-3.4 -0.7M137.6 309.2l-4.2 -0.5M144.9 309l-4.8 -0.1M151.9 308.8l-5.1 0.3M158.9 308.6l-5.1 0.6M165.7 308.5l-4.9 0.8M172.4 308.4l-4.6 1.1M179.2 308.2l-4.2 1.4M186 308.2l-4 1.5M192.7 308.2l-3.7 1.5M199.4 308.2l-3.3 1.5M206.2 308.2l-3 1.4M213.1 308.3l-2.8 1.3M219.9 308.4l-2.7 1.1M226.7 308.6l-2.5 0.7M233.6 308.7l-2.4 0.5M240.5 308.7l-2.4 0.4M247.5 308.8l-2.4 0.3M254.4 308.9l-2.4 0.1M261.3 309l-2.4 -0.1M268.3 309l-2.5 -0.1M275.3 309.1l-2.7 -0.3M282.3 309.2l-2.9 -0.5M289.3 309.2l-3 -0.6M296.2 309.3l-3.1 -0.7M303.2 309.4l-3.3 -0.8M310.3 309.4l-3.5 -1M317.2 309.5l-3.6 -1.1M324.2 309.5l-3.6 -1.2M331.1 309.5l-3.6 -1.2M338 309.5l-3.6 -1.2M113.7 301.6l2.2 0.2M121.3 301.6l0.9 0.2M128.8 301.5l-0.4 0.3M136.3 301.4l-1.4 0.5M143.8 301.4l-2.6 0.6M150.9 301.2l-3.1 0.9M157.9 301.1l-3.1 1.1M164.7 301.1l-3 1.2M171.5 301l-2.7 1.4M178.3 300.9l-2.4 1.6M185.1 300.9l-2.2 1.6M191.8 300.9l-1.9 1.6M198.6 301l-1.6 1.5M205.4 301l-1.4 1.3M212.3 301.1l-1.2 1.2M219.1 301.3l-1.1 0.8M226 301.5l-1 0.4M232.9 301.6l-0.9 0.2M239.8 301.7l-0.9 0M246.7 301.8l-0.9 -0.2M253.7 301.9l-1 -0.5M260.6 302l-1 -0.7M267.6 302.1l-1.1 -0.8M274.6 302.2l-1.3 -1M281.6 302.3l-1.5 -1.2M288.6 302.4l-1.6 -1.3M295.6 302.4l-1.7 -1.5M302.6 302.5l-1.9 -1.6M309.6 302.6l-2.1 -1.8M316.6 302.7l-2.2 -1.9M323.5 302.7l-2.3 -2M330.5 302.7l-2.3 -2M337.4 302.7l-2.4 -2.1M112.2 294.1l5.2 0.9M119.4 293.8l4.5 1.5M126.6 293.4l4 2.3M133.8 293.2l3.5 2.8M148.8 293.3l1.2 2.5M155.8 293.3l1 2.5M162.6 293.4l1.2 2.4M169.4 293.4l1.5 2.4M176.2 293.4l1.8 2.3M183 293.5l2 2.1M189.8 293.6l2.3 1.8M196.6 293.8l2.5 1.5M203.4 294l2.7 1.2M210.3 294.2l2.8 0.8M217.1 294.4l2.9 0.3M224 294.7l2.9 -0.2M231 294.9l2.9 -0.6M237.9 295l2.9 -1M244.9 295.2l2.7 -1.3M251.9 295.4l2.6 -1.7M258.8 295.5l2.5 -2M265.8 295.7l2.3 -2.2M272.9 295.8l2.1 -2.5M279.9 296l1.9 -2.8M286.9 296.1l1.7 -3M294 296.1l1.5 -3.2M301 296.3l1.3 -3.4M308 296.4l1 -3.6M315 296.4l0.8 -3.7M322 296.5l0.7 -3.8M329 296.5l0.6 -3.9M336 296.6l0.5 -4M104.3 287l7.1 1.2M111.3 287l6.9 1.2M118.3 286.3l6.8 2.6M125.2 285.4l6.9 4.3M132 284.9l7.2 5.4M153.5 285.4l5.6 4.4M160.4 285.5l5.7 4.1M167.1 285.7l6 3.8M173.9 285.9l6.4 3.4M180.6 286.1l6.7 2.9M187.4 286.4l7 2.4M194.2 286.7l7.2 1.8M201 287l7.4 1.1M207.9 287.3l7.5 0.4M214.8 287.7l7.5 -0.3M221.8 288.1l7.4 -1M228.8 288.4l7.3 -1.7M235.8 288.7l7.1 -2.3M242.8 289l6.9 -2.8M249.9 289.3l6.6 -3.4M256.9 289.5l6.3 -3.8M264 289.7l6 -4.2M271.1 289.9l5.7 -4.6M278.2 290l5.4 -4.9M285.2 290.2l5.1 -5.2M292.3 290.3l4.8 -5.5M299.4 290.4l4.5 -5.7M306.4 290.5l4.2 -5.9M313.5 290.6l3.9 -6.1M320.5 290.7l3.7 -6.2M327.5 290.7l3.5 -6.3M334.5 290.8l3.3 -6.4M97.1 280.2l7.7 1M104 280.2l7.7 1.1M111 280.1l7.6 1.2M118 279.1l7.3 3.1M131.9 277.1l7.3 7.2M138.6 277.3l7.7 6.9M172.7 278.4l8.8 4.6M179.4 278.8l9.2 3.9M186.1 279.2l9.6 3.1M192.9 279.6l9.9 2.2M199.8 280.1l9.8 1.2M206.8 280.6l9.8 0.3M213.7 281.1l9.8 -0.7M220.5 281.6l10 -1.7M227.5 282l9.8 -2.7M234.6 282.5l9.4 -3.5M241.7 282.8l9 -4.3M248.9 283.2l8.6 -4.9M256 283.4l8.2 -5.5M263.1 283.7l7.7 -6M270.3 283.9l7.3 -6.4M277.4 284.1l6.9 -6.7M284.5 284.2l6.5 -7M291.6 284.3l6.1 -7.2M298.7 284.4l5.7 -7.5M305.8 284.5l5.4 -7.6M312.9 284.6l5.1 -7.8M319.9 284.6l4.8 -7.9M327 284.7l4.6 -8M334 284.7l4.3 -8.1M103.9 273.5l7.9 0.9M110.9 273.5l7.9 1M118.1 272.3l7.2 3.4M132.3 269.8l6.4 8.4M139 269.9l6.9 8.2M145.7 270l7.3 7.9M152.4 270.2l7.8 7.5M172.4 271l9.3 5.9M179.1 271.5l9.7 4.9M186.2 272.2l9.4 3.6M193.3 272.8l9.1 2.4M200.3 273.3l8.9 1.3M207.3 273.9l8.8 0.2M214.1 274.4l8.9 -0.9M221 275l9.1 -2M227.7 275.6l9.3 -3.2M234.5 276.2l9.6 -4.5M241.5 276.8l9.5 -5.6M248.7 277.1l8.9 -6.3M255.9 277.4l8.3 -6.9M263.1 277.7l7.7 -7.4M270.3 277.9l7.2 -7.7M277.5 278l6.7 -8.1M284.6 278.1l6.3 -8.3M291.8 278.2l5.9 -8.5M298.9 278.3l5.5 -8.6M306 278.4l5.1 -8.7M313 278.4l4.8 -8.8M320.1 278.4l4.6 -8.9M327.1 278.5l4.3 -9M334.2 278.5l4.1 -9M97 267.1l8 0.7M103.9 267l8 0.7M110.8 267l8 0.9M132.9 262.7l5.2 9.3M139.7 262.8l5.6 9.2M146.3 262.9l6.1 9M153 263l6.7 8.8M159.6 263.2l7.3 8.5M172.9 263.9l8.4 7M179.9 264.6l8.1 5.5M187 265.4l7.8 4M194.1 266.1l7.5 2.6M201.1 266.7l7.2 1.4M208.1 267.3l7.1 0.2M215 267.9l7.1 -1M221.8 268.5l7.4 -2.2M228.5 269.2l7.7 -3.6M235.3 269.9l8.1 -5.1M242.1 270.7l8.3 -6.6M249.1 271.3l8.2 -7.8M256.4 271.6l7.4 -8.3M263.6 271.7l6.8 -8.7M270.8 271.9l6.2 -9M278 272l5.7 -9.2M285.1 272l5.2 -9.3M292.3 272.1l4.8 -9.4M299.4 272.1l4.5 -9.5M306.4 272.2l4.2 -9.5M313.5 272.2l3.9 -9.6M320.5 272.2l3.7 -9.6M327.6 272.2l3.4 -9.6M334.6 272.2l3.3 -9.6M103.9 260.6l8 0.6M133.7 255.9l3.6 10.1M140.5 255.9l4 10.1M147.2 255.9l4.4 10.1M153.8 255.9l4.9 10M160.5 256l5.5 9.9M167 256.2l6.2 9.6M180.9 257.8l6.1 6.4M187.9 258.6l5.9 4.7M195 259.4l5.6 3M202.1 260.2l5.3 1.5M209.1 260.9l5 0.2M216 261.5l5.2 -1.1M222.7 262.2l5.5 -2.6M229.5 263l5.8 -4.2M236.3 263.9l6 -5.9M243.2 264.7l6.2 -7.5M250.1 265.5l6.2 -9.1M257.2 265.9l5.7 -9.8M264.5 265.9l5.1 -10M271.7 266l4.5 -10.1M278.8 266l4.1 -10.1M285.9 266l3.7 -10.1M293 266l3.4 -10.1M300 266l3.1 -10.1M307.1 266l2.9 -10.1M314.1 266l2.7 -10.1M321.1 266l2.5 -10M328.1 265.9l2.3 -10M335.1 265.9l2.2 -9.9M141.5 249.3l2 10.7M148.3 249.2l2.2 10.8M155 249.2l2.5 10.9M161.8 249.1l2.9 11M168.6 249.4l3.2 10.4M175.4 250.2l3.3 8.9M182.3 251l3.3 7.4M189.2 251.8l3.4 5.7M196.1 252.7l3.4 3.9M203.2 253.7l3.1 1.9M210.3 254.5l2.8 0.2M217.1 255.3l3 -1.4M223.8 256.3l3.3 -3.3M230.7 257.2l3.4 -5.2M237.7 258.1l3.3 -6.9M244.6 258.9l3.3 -8.5M251.6 259.6l3.2 -10M258.6 260.2l3 -11M265.7 260.1l2.6 -10.9M272.8 260.1l2.3 -10.9M279.8 260l2 -10.8M286.8 260l1.8 -10.7M293.9 259.9l1.7 -10.6M300.8 259.9l1.5 -10.5M307.8 259.9l1.4 -10.4M314.8 259.8l1.3 -10.4M321.8 259.8l1.2 -10.3M328.7 259.8l1.1 -10.2M335.7 259.7l1.1 -10.2M142.6 243l-0.2 10.9M156.4 242.9l-0.3 11.2M163.4 242.8l-0.3 11.4M170.3 243.1l-0.3 10.8M191.1 245.3l-0.4 6.3M198 246.2l-0.4 4.6M205 247.1l-0.5 2.8M211.9 248.3l-0.5 0.4M218.8 249.6l-0.5 -2.2M225.7 250.5l-0.4 -4.1M232.6 251.4l-0.4 -5.8M239.5 252.2l-0.4 -7.4M246.4 252.9l-0.3 -8.9M253.3 253.7l-0.3 -10.4M260.2 254.2l-0.3 -11.5M267.1 254.1l-0.3 -11.3M274 254l-0.2 -11.1M281 254l-0.2 -11M287.9 253.9l-0.2 -10.8M294.8 253.9l-0.2 -10.7M301.7 253.8l-0.2 -10.6M308.6 253.8l-0.1 -10.5M315.5 253.7l-0.1 -10.4M322.4 253.7l-0.1 -10.4M329.3 253.6l-0.1 -10.3M336.3 253.6l-0.1 -10.2M164.9 237l-3.3 10.9M172 237.3l-3.7 10.3M178.9 238.1l-3.8 8.8M192.8 239.7l-3.9 5.5M199.7 240.6l-3.8 3.7M206.5 241.6l-3.5 1.8M213.2 242.4l-3.2 0.2M220.3 243.1l-3.4 -1.3M227.4 244l-3.7 -3.1M234.3 245l-3.8 -5M241.3 245.8l-3.8 -6.7M248.1 246.7l-3.8 -8.4M255 247.4l-3.7 -9.9M261.8 247.9l-3.5 -10.9M268.5 247.9l-3 -10.8M275.3 247.9l-2.7 -10.8M282 247.8l-2.4 -10.7M288.8 247.8l-2.2 -10.6M295.7 247.7l-2 -10.5M302.5 247.7l-1.8 -10.5M309.3 247.7l-1.7 -10.4M316.2 247.6l-1.5 -10.3M323.1 247.6l-1.4 -10.3M329.9 247.6l-1.3 -10.2M336.8 247.5l-1.2 -10.1M48.5 236.4l8 0.5M55.4 236.4l8 0.5M62.4 236.4l8 0.5M69.3 236.4l8 0.5M76.2 236.4l8 0.5M83.1 236.4l8 0.5M90 236.4l8 0.5M97 236.4l8 0.5M103.9 236.3l8 0.5M110.8 236.3l8 0.5M119.4 234.9l4.6 3.4M128.6 233l0 7.2M137.4 231.6l-3.8 10.1M144.5 231.6l-4.1 10.1M151.7 231.6l-4.6 10M158.8 231.6l-5.1 9.9M166.1 231.7l-5.7 9.8M173.4 231.9l-6.4 9.5M180.3 232.6l-6.4 7.9M187.1 233.5l-6.3 6.3M194 234.3l-6.1 4.6M200.7 235.1l-5.8 3M207.5 235.9l-5.5 1.5M214.3 236.5l-5.2 0.2M221.3 237.2l-5.4 -1.1M228.4 237.9l-5.7 -2.5M235.4 238.7l-6 -4.1M242.5 239.5l-6.3 -5.8M249.4 240.3l-6.4 -7.4M256.4 241.1l-6.4 -9M263 241.5l-5.9 -9.7M269.6 241.6l-5.3 -9.9M276.3 241.6l-4.7 -10M283 241.6l-4.3 -10.1M289.7 241.7l-3.9 -10.1M296.5 241.7l-3.5 -10.1M303.2 241.6l-3.3 -10.1M310 241.6l-3 -10.1M316.9 241.6l-2.8 -10M323.7 241.6l-2.6 -10M330.5 241.6l-2.5 -10M337.4 241.6l-2.3 -9.9" stroke="#4d4d4d" stroke-width="0.55" fill="none"/><path d="M22.9 405.3L23.6 403.9L24.3 404.7ZM29.8 405.3L30.5 403.9L31.2 404.7ZM43.6 405.3L44.3 403.9L45 404.7ZM50.4 405.2L51.2 403.9L51.9 404.7ZM57.2 405.2L58 403.9L58.7 404.7ZM64 405.1L64.9 403.8L65.5 404.7ZM70.8 404.9L71.8 403.7L72.4 404.7ZM77.7 404.7L78.8 403.6L79.3 404.6ZM84.6 404.5L85.8 403.5L86.2 404.5ZM98.7 404.1L99.9 403.2L100.2 404.3ZM105.7 403.9L107.1 403.1L107.3 404.2ZM112.7 403.8L114.1 403L114.2 404.1ZM119.7 403.7L121 403L121.2 404.1ZM126.6 403.7L128 403L128.1 404.1ZM133.6 403.6L135 403L135.1 404.1ZM140.6 403.6L142 403L142.1 404.1ZM147.5 403.5L149 403L149 404.1ZM154.5 403.5L155.9 403L155.9 404.1ZM161.4 403.6L162.8 403L162.8 404.1ZM168.3 403.6L169.7 403L169.8 404.1ZM175.2 403.6L176.6 403L176.7 404.1ZM182.1 403.5L183.6 402.9L183.6 404.1ZM189.1 403.5L190.5 402.9L190.5 404ZM196 403.5L197.4 402.9L197.4 404ZM202.9 403.5L204.3 402.9L204.3 404ZM209.8 403.5L211.2 402.9L211.2 404ZM216.7 403.5L218.1 402.9L218.1 404ZM223.5 403.5L225 402.9L225 404ZM230.4 403.5L231.9 402.9L231.9 404ZM237.3 403.5L238.8 402.9L238.8 404ZM244.2 403.5L245.7 402.9L245.7 404ZM251.1 403.5L252.6 402.9L252.6 404ZM258 403.5L259.5 402.9L259.5 404ZM264.9 403.5L266.4 402.9L266.4 404ZM271.8 403.5L273.2 402.9L273.2 404ZM278.7 403.5L280.1 402.9L280.1 404ZM285.6 403.5L287 402.9L287 404ZM292.5 403.5L293.9 402.9L293.9 404ZM299.4 403.5L300.8 402.9L300.8 404ZM306.3 403.5L307.7 402.9L307.7 404ZM313.2 403.5L314.6 402.9L314.6 404ZM320.1 403.5L321.6 402.9L321.6 404ZM327 403.5L328.5 402.9L328.5 404ZM334 403.5L335.4 402.9L335.4 404ZM23 397.3L23.6 395.8L24.4 396.6ZM36.9 397.3L37.4 395.8L38.2 396.6ZM43.7 397.3L44.3 395.8L45.1 396.6ZM50.5 397.2L51.2 395.8L52 396.6ZM57.3 397.2L58 395.8L58.7 396.6ZM64 397.1L64.8 395.8L65.5 396.6ZM70.9 396.9L71.7 395.6L72.4 396.6ZM77.7 396.7L78.7 395.5L79.3 396.4ZM84.7 396.5L85.7 395.3L86.2 396.3ZM91.6 396.3L92.7 395.2L93.2 396.2ZM98.7 396L99.9 395L100.2 396.1ZM105.7 395.8L107 394.9L107.2 396ZM112.7 395.6L114 394.8L114.2 395.9ZM126.6 395.5L128 394.8L128.1 395.9ZM133.6 395.4L135 394.7L135.1 395.8ZM140.6 395.4L142 394.7L142.1 395.8ZM147.5 395.4L149 394.7L149 395.8ZM154.5 395.4L155.9 394.7L155.9 395.8ZM161.4 395.4L162.8 394.7L162.9 395.8ZM168.3 395.4L169.7 394.7L169.8 395.8ZM175.2 395.4L176.6 394.7L176.7 395.8ZM182.1 395.3L183.6 394.7L183.6 395.8ZM189.1 395.3L190.5 394.7L190.5 395.8ZM196 395.3L197.4 394.7L197.4 395.8ZM202.9 395.3L204.3 394.7L204.4 395.8ZM209.8 395.3L211.3 394.7L211.3 395.8ZM216.7 395.3L218.2 394.7L218.2 395.8ZM223.6 395.3L225.1 394.7L225.1 395.8ZM230.5 395.3L231.9 394.7L231.9 395.8ZM237.4 395.3L238.8 394.7L238.8 395.8ZM244.2 395.3L245.7 394.7L245.7 395.8ZM251.1 395.3L252.6 394.7L252.6 395.8ZM258.1 395.3L259.5 394.7L259.5 395.8ZM265 395.3L266.4 394.7L266.4 395.8ZM271.9 395.3L273.3 394.7L273.3 395.8ZM278.7 395.2L280.2 394.7L280.2 395.8ZM285.6 395.2L287.1 394.7L287.1 395.8ZM292.5 395.2L294 394.7L294 395.8ZM299.4 395.2L300.9 394.7L300.9 395.8ZM306.3 395.2L307.7 394.7L307.7 395.8ZM313.2 395.2L314.7 394.7L314.7 395.8ZM320.1 395.2L321.6 394.7L321.6 395.8ZM327 395.2L328.5 394.7L328.5 395.8ZM334 395.2L335.4 394.7L335.4 395.8ZM23.2 389.4L23.6 387.9L24.5 388.5ZM30.1 389.4L30.5 387.9L31.4 388.5ZM37.1 389.4L37.4 387.9L38.3 388.5ZM43.9 389.4L44.3 387.9L45.2 388.5ZM57.4 389.3L58 387.9L58.8 388.6ZM64.1 389.2L64.8 387.8L65.6 388.6ZM70.9 389.1L71.7 387.7L72.4 388.5ZM77.8 388.9L78.6 387.5L79.3 388.4ZM84.7 388.6L85.6 387.3L86.2 388.3ZM91.7 388.3L92.7 387.1L93.2 388.1ZM98.7 388L99.8 386.9L100.2 387.9ZM105.7 387.7L106.9 386.8L107.2 387.8ZM112.7 387.5L114 386.7L114.2 387.7ZM126.6 387.3L128 386.6L128.1 387.7ZM133.6 387.3L135 386.5L135.1 387.6ZM140.6 387.2L142 386.5L142.1 387.6ZM147.5 387.2L148.9 386.5L149 387.6ZM154.5 387.2L155.8 386.5L156 387.6ZM161.4 387.3L162.8 386.5L162.9 387.6ZM168.3 387.3L169.7 386.5L169.8 387.6ZM175.3 387.3L176.6 386.5L176.8 387.6ZM182.2 387.2L183.6 386.5L183.7 387.6ZM189.1 387.2L190.5 386.5L190.6 387.6ZM196 387.1L197.4 386.5L197.5 387.6ZM203 387.2L204.4 386.5L204.4 387.6ZM209.9 387.2L211.3 386.5L211.4 387.6ZM216.8 387.1L218.2 386.5L218.3 387.6ZM223.7 387.1L225.1 386.5L225.2 387.6ZM230.6 387.1L232 386.5L232.1 387.6ZM237.5 387.1L238.9 386.5L238.9 387.6ZM244.3 387.1L245.8 386.5L245.8 387.6ZM251.2 387.1L252.6 386.5L252.7 387.6ZM258.1 387.1L259.6 386.5L259.6 387.6ZM265 387.1L266.5 386.5L266.5 387.6ZM271.9 387.1L273.4 386.5L273.4 387.6ZM278.8 387L280.3 386.5L280.3 387.6ZM285.8 387L287.2 386.5L287.2 387.6ZM292.7 387L294.1 386.5L294.1 387.6ZM299.5 387L301 386.5L301 387.6ZM306.4 387L307.8 386.5L307.8 387.6ZM313.3 387L314.7 386.5L314.7 387.6ZM320.2 387L321.6 386.5L321.6 387.6ZM327.1 387L328.6 386.5L328.6 387.6ZM334 387L335.5 386.5L335.5 387.6ZM23.3 381.3L23.6 379.8L24.6 380.4ZM37.1 381.3L37.4 379.8L38.4 380.4ZM64.2 381.3L64.8 379.8L65.6 380.5ZM71 381.1L71.7 379.7L72.4 380.5ZM77.8 380.9L78.6 379.6L79.3 380.4ZM84.7 380.7L85.5 379.4L86.2 380.2ZM91.6 380.4L92.6 379.1L93.2 380.1ZM98.6 380L99.7 378.9L100.2 379.9ZM105.7 379.7L106.8 378.7L107.2 379.7ZM112.7 379.4L113.9 378.5L114.2 379.6ZM126.6 379.2L127.9 378.4L128.1 379.5ZM133.6 379.2L134.9 378.4L135.1 379.5ZM140.6 379.2L141.9 378.4L142.1 379.5ZM147.5 379.2L148.9 378.4L149 379.5ZM154.5 379.2L155.8 378.4L156 379.5ZM161.4 379.2L162.7 378.4L163 379.5ZM168.4 379.3L169.7 378.4L169.9 379.5ZM175.3 379.3L176.6 378.4L176.9 379.5ZM182.3 379.3L183.6 378.4L183.8 379.5ZM189.2 379.2L190.5 378.4L190.7 379.5ZM196.2 379.2L197.5 378.4L197.7 379.5ZM203.1 379.2L204.4 378.4L204.7 379.5ZM210.1 379.2L211.4 378.4L211.6 379.5ZM217 379.2L218.3 378.4L218.5 379.5ZM223.9 379.1L225.2 378.4L225.4 379.4ZM230.8 379.1L232.1 378.4L232.3 379.4ZM237.7 379.1L239 378.4L239.2 379.5ZM244.5 379.1L245.9 378.4L246 379.5ZM251.4 379L252.8 378.4L252.9 379.5ZM258.3 379L259.7 378.3L259.8 379.4ZM265.2 379L266.6 378.3L266.7 379.4ZM272.1 378.9L273.5 378.3L273.6 379.4ZM279 378.9L280.5 378.3L280.5 379.4ZM286 378.9L287.4 378.3L287.4 379.4ZM292.9 378.9L294.3 378.3L294.3 379.4ZM299.7 378.9L301.2 378.3L301.2 379.4ZM306.6 378.9L308 378.3L308 379.4ZM313.4 378.9L314.9 378.3L314.9 379.4ZM320.4 378.9L321.8 378.3L321.8 379.4ZM327.3 378.9L328.7 378.3L328.7 379.4ZM334.2 378.9L335.6 378.3L335.6 379.4ZM23.3 373.3L23.6 371.7L24.6 372.3ZM64.4 373.2L64.9 371.7L65.8 372.4ZM71.2 373.1L71.7 371.7L72.5 372.4ZM77.9 372.9L78.6 371.5L79.3 372.3ZM84.7 372.7L85.5 371.4L86.2 372.2ZM91.5 372.5L92.4 371.2L93 372.1ZM98.5 372.1L99.5 370.9L100 371.9ZM105.6 371.7L106.7 370.6L107.1 371.7ZM119.6 371.2L120.9 370.4L121.1 371.5ZM126.6 371.2L127.9 370.3L128.1 371.4ZM133.5 371.1L134.9 370.3L135.1 371.4ZM140.5 371.1L141.8 370.3L142 371.4ZM147.5 371.1L148.8 370.3L149 371.4ZM154.4 371.1L155.8 370.3L156 371.4ZM161.4 371.2L162.7 370.3L163 371.4ZM168.4 371.2L169.7 370.3L170 371.4ZM175.4 371.3L176.6 370.3L176.9 371.4ZM182.3 371.3L183.6 370.3L183.9 371.4ZM189.3 371.2L190.5 370.3L190.9 371.4ZM196.3 371.2L197.5 370.3L197.8 371.3ZM203.2 371.2L204.5 370.3L204.8 371.3ZM210.2 371.2L211.4 370.3L211.7 371.3ZM217.1 371.2L218.3 370.3L218.6 371.3ZM224 371.1L225.3 370.3L225.5 371.3ZM230.9 371.1L232.2 370.3L232.4 371.3ZM237.8 371.1L239.1 370.3L239.3 371.3ZM244.7 371L246 370.2L246.2 371.3ZM251.6 370.9L252.9 370.2L253.1 371.3ZM258.4 370.9L259.8 370.2L259.9 371.3ZM265.4 370.9L266.8 370.2L266.9 371.3ZM272.3 370.9L273.7 370.2L273.8 371.3ZM279.2 370.8L280.6 370.2L280.7 371.3ZM286.1 370.8L287.6 370.2L287.6 371.3ZM293 370.8L294.5 370.2L294.5 371.3ZM299.9 370.8L301.3 370.2L301.3 371.3ZM306.7 370.8L308.2 370.2L308.2 371.3ZM313.6 370.8L315.1 370.2L315.1 371.3ZM320.5 370.8L322 370.2L322 371.3ZM327.4 370.8L328.9 370.2L328.9 371.3ZM334.3 370.8L335.8 370.2L335.8 371.3ZM23.3 365.2L23.6 363.7L24.6 364.3ZM64.5 365.2L64.9 363.7L65.8 364.4ZM71.2 365.1L71.8 363.6L72.6 364.3ZM77.9 364.9L78.6 363.5L79.4 364.3ZM84.7 364.7L85.5 363.4L86.2 364.2ZM91.5 364.5L92.4 363.2L93 364.1ZM98.4 364.1L99.4 362.9L99.9 363.9ZM112.4 363.3L113.7 362.4L114 363.5ZM119.4 363.1L120.8 362.3L121 363.4ZM126.4 363.1L127.8 362.3L127.9 363.4ZM133.4 363L134.7 362.3L134.9 363.4ZM140.4 363L141.7 362.3L141.9 363.4ZM147.3 363L148.7 362.3L148.9 363.4ZM154.4 363L155.7 362.3L155.9 363.3ZM161.4 363L162.8 362.2L163 363.3ZM168.5 363.1L169.8 362.2L170 363.3ZM175.4 363.1L176.7 362.2L177 363.3ZM182.4 363.1L183.7 362.2L183.9 363.3ZM189.4 363.1L190.6 362.2L190.9 363.3ZM196.3 363.1L197.6 362.2L197.9 363.3ZM203.3 363.1L204.5 362.2L204.8 363.3ZM210.2 363.1L211.5 362.2L211.7 363.3ZM217.1 363L218.4 362.2L218.6 363.3ZM224.1 362.9L225.4 362.2L225.5 363.3ZM231 362.9L232.3 362.2L232.4 363.3ZM237.9 362.9L239.2 362.2L239.3 363.3ZM244.8 362.9L246.1 362.2L246.2 363.3ZM251.7 362.8L253 362.2L253.1 363.3ZM258.6 362.8L260 362.2L260 363.3ZM265.5 362.8L266.9 362.2L266.9 363.3ZM272.4 362.8L273.8 362.2L273.8 363.3ZM279.3 362.7L280.7 362.2L280.7 363.3ZM286.2 362.7L287.6 362.2L287.7 363.3ZM293.1 362.7L294.5 362.2L294.5 363.3ZM299.9 362.7L301.4 362.2L301.4 363.3ZM306.8 362.7L308.3 362.2L308.3 363.3ZM313.7 362.7L315.2 362.2L315.2 363.3ZM320.6 362.7L322.1 362.2L322.1 363.3ZM327.5 362.7L329 362.2L329 363.3ZM334.5 362.7L335.9 362.2L335.9 363.3ZM57.7 357.2L58.1 355.7L59 356.3ZM64.5 357.1L65 355.6L65.8 356.3ZM71.2 357L71.8 355.5L72.6 356.3ZM78 356.8L78.7 355.4L79.4 356.2ZM84.7 356.6L85.6 355.3L86.2 356.1ZM91.5 356.3L92.5 355.1L93.1 356ZM98.4 355.9L99.5 354.8L100 355.8ZM112.4 355.2L113.7 354.4L113.9 355.5ZM119.3 355.1L120.7 354.4L120.8 355.5ZM126.3 355.1L127.6 354.3L127.8 355.4ZM133.3 355L134.6 354.3L134.8 355.4ZM140.2 355L141.6 354.3L141.7 355.4ZM147.2 355L148.6 354.3L148.7 355.4ZM154.3 355L155.7 354.3L155.8 355.4ZM161.4 355L162.8 354.3L162.9 355.4ZM168.4 355L169.8 354.3L170 355.3ZM175.4 355L176.8 354.2L176.9 355.3ZM182.4 355L183.8 354.2L183.9 355.3ZM189.4 355L190.7 354.3L190.9 355.3ZM196.4 355L197.7 354.3L197.9 355.3ZM203.3 355L204.6 354.3L204.8 355.3ZM210.3 355L211.5 354.3L211.7 355.3ZM217.2 354.9L218.5 354.3L218.6 355.3ZM224.1 354.9L225.4 354.2L225.5 355.3ZM231 354.9L232.4 354.2L232.4 355.3ZM238 354.8L239.3 354.2L239.3 355.3ZM244.9 354.8L246.2 354.2L246.3 355.3ZM251.8 354.8L253.1 354.2L253.2 355.3ZM258.7 354.8L260 354.2L260.1 355.3ZM265.6 354.8L266.9 354.2L267 355.3ZM272.5 354.8L273.9 354.2L273.9 355.3ZM279.4 354.8L280.8 354.2L280.8 355.3ZM286.3 354.8L287.7 354.2L287.7 355.3ZM293.2 354.8L294.6 354.2L294.6 355.3ZM300 354.8L301.5 354.2L301.5 355.3ZM306.9 354.8L308.3 354.2L308.3 355.3ZM313.8 354.8L315.2 354.2L315.2 355.3ZM320.7 354.8L322.1 354.2L322.1 355.3ZM327.6 354.8L329.1 354.2L329.1 355.3ZM334.5 354.8L336 354.2L336 355.3ZM57.6 349.1L58.1 347.6L58.9 348.3ZM71.2 348.9L71.9 347.5L72.6 348.3ZM78 348.7L78.8 347.4L79.5 348.2ZM84.8 348.5L85.7 347.2L86.3 348.1ZM91.6 348.2L92.6 347.1L93.2 348ZM98.5 347.9L99.6 346.8L100 347.9ZM105.4 347.5L106.7 346.6L106.9 347.7ZM112.3 347.3L113.7 346.5L113.8 347.6ZM119.3 347.2L120.6 346.5L120.8 347.5ZM126.2 347.1L127.6 346.4L127.7 347.5ZM133.2 347.1L134.6 346.4L134.7 347.5ZM140.1 347.1L141.5 346.4L141.6 347.5ZM147.2 347.1L148.6 346.4L148.7 347.5ZM154.3 347.1L155.7 346.4L155.8 347.5ZM161.4 347.1L162.8 346.4L162.9 347.5ZM168.4 347.1L169.8 346.4L169.9 347.5ZM175.4 347.1L176.8 346.4L176.9 347.5ZM182.5 347.2L183.8 346.4L184 347.4ZM189.5 347.2L190.7 346.4L191 347.4ZM196.5 347.2L197.7 346.4L197.9 347.4ZM203.4 347.2L204.6 346.4L204.9 347.4ZM210.4 347.2L211.6 346.4L211.8 347.4ZM217.4 347.1L218.5 346.4L218.7 347.3ZM224.3 347.1L225.5 346.4L225.6 347.4ZM231.2 347L232.4 346.4L232.5 347.4ZM238.1 347L239.3 346.4L239.5 347.4ZM245 347L246.3 346.4L246.4 347.4ZM251.9 347L253.2 346.4L253.3 347.4ZM258.8 346.9L260.1 346.4L260.2 347.4ZM265.7 346.9L267 346.4L267 347.4ZM272.6 346.9L273.9 346.4L273.9 347.4ZM279.5 346.9L280.8 346.4L280.8 347.4ZM286.4 346.9L287.7 346.4L287.7 347.4ZM293.2 346.9L294.6 346.3L294.6 347.4ZM300.1 346.9L301.5 346.3L301.5 347.4ZM307 346.9L308.4 346.3L308.4 347.4ZM313.8 346.9L315.3 346.3L315.3 347.4ZM320.7 346.9L322.2 346.3L322.2 347.4ZM327.6 346.9L329.1 346.3L329.1 347.4ZM334.6 346.9L336 346.3L336 347.4ZM57.5 341.1L58.1 339.7L58.9 340.5ZM64.3 341.1L65 339.7L65.8 340.4ZM71.2 341L71.9 339.6L72.7 340.4ZM78.1 340.9L78.8 339.5L79.5 340.4ZM84.8 340.6L85.7 339.4L86.4 340.3ZM91.6 340.3L92.7 339.2L93.2 340.1ZM98.5 339.9L99.7 338.9L100 340ZM105.3 339.5L106.7 338.7L106.9 339.8ZM112.3 339.3L113.7 338.6L113.7 339.7ZM119.2 339.2L120.6 338.6L120.6 339.7ZM126.1 339.2L127.5 338.6L127.6 339.7ZM133 339.2L134.5 338.6L134.5 339.7ZM140 339.2L141.4 338.6L141.5 339.7ZM147.1 339.3L148.5 338.6L148.5 339.7ZM154.2 339.3L155.6 338.6L155.7 339.7ZM161.3 339.3L162.6 338.6L162.8 339.7ZM168.3 339.3L169.6 338.6L169.8 339.7ZM175.4 339.4L176.7 338.6L176.9 339.7ZM182.5 339.5L183.7 338.6L184 339.6ZM189.5 339.5L190.7 338.6L191 339.6ZM196.5 339.5L197.6 338.6L198 339.6ZM203.5 339.5L204.6 338.6L204.9 339.5ZM210.5 339.5L211.6 338.6L211.9 339.5ZM217.5 339.5L218.5 338.6L218.8 339.5ZM224.4 339.4L225.5 338.6L225.8 339.5ZM231.4 339.4L232.4 338.6L232.7 339.5ZM238.3 339.3L239.4 338.6L239.6 339.5ZM245.2 339.3L246.3 338.6L246.5 339.5ZM252.1 339.2L253.2 338.6L253.4 339.5ZM259 339.2L260.1 338.6L260.3 339.5ZM265.8 339.1L267.1 338.6L267.1 339.6ZM272.7 339.1L274 338.6L274 339.6ZM279.5 339.1L280.9 338.6L280.9 339.6ZM286.4 339.1L287.8 338.6L287.8 339.6ZM293.3 339.1L294.6 338.6L294.6 339.6ZM300.1 339.1L301.5 338.5L301.5 339.6ZM307 339.1L308.4 338.5L308.4 339.6ZM313.9 339.1L315.3 338.5L315.3 339.6ZM320.7 339.1L322.2 338.5L322.2 339.6ZM327.6 339.1L329.1 338.5L329.1 339.6ZM334.5 339.1L336 338.5L336 339.6ZM91.5 332L92.8 331.1L93 332.2ZM98.3 331.4L99.7 330.8L99.7 331.9ZM105.2 331.1L106.7 330.7L106.5 331.8ZM112.1 331.1L113.6 330.7L113.4 331.8ZM119 331.1L120.4 330.7L120.3 331.8ZM125.9 331.2L127.3 330.8L127.3 331.9ZM132.8 331.3L134.2 330.8L134.2 331.9ZM139.7 331.4L141.2 330.8L141.2 332ZM146.8 331.5L148.2 330.9L148.2 332ZM153.8 331.6L155.2 330.9L155.3 332ZM160.9 331.7L162.3 330.9L162.4 332ZM168 331.7L169.4 331L169.6 332ZM175.1 331.9L176.4 331L176.6 332.1ZM182.2 331.9L183.4 331L183.7 332ZM189.3 331.9L190.5 330.9L190.9 332ZM196.4 331.9L197.5 330.9L197.9 331.9ZM203.5 332L204.5 330.9L204.9 331.9ZM210.5 331.9L211.5 330.9L211.9 331.8ZM217.5 331.9L218.5 330.9L218.9 331.8ZM224.5 331.8L225.4 330.9L225.8 331.8ZM231.4 331.8L232.4 330.9L232.7 331.8ZM238.3 331.7L239.3 330.9L239.6 331.8ZM245.2 331.7L246.3 330.9L246.5 331.8ZM252.1 331.6L253.2 330.9L253.4 331.8ZM259 331.6L260.2 330.9L260.3 331.8ZM265.9 331.5L267.1 330.9L267.2 331.8ZM272.7 331.4L274 330.9L274 331.9ZM279.5 331.4L280.8 330.9L280.9 331.9ZM286.4 331.4L287.7 330.9L287.7 331.9ZM293.2 331.4L294.6 330.9L294.6 331.9ZM300.1 331.3L301.5 330.8L301.5 331.9ZM306.9 331.3L308.4 330.8L308.4 331.9ZM313.8 331.3L315.3 330.8L315.2 331.9ZM320.7 331.3L322.2 330.8L322.1 331.9ZM327.6 331.3L329.1 330.8L329 331.9ZM334.5 331.3L336 330.8L336 331.9ZM98.1 322.9L99.6 322.8L99.3 323.9ZM111.9 323L113.5 322.8L113.2 323.9ZM118.8 323.2L120.3 322.9L120.1 324ZM125.7 323.3L127.2 323L127 324.1ZM132.6 323.5L134.1 323.1L134 324.2ZM139.5 323.7L141 323.2L141 324.3ZM146.5 323.9L147.9 323.3L148 324.4ZM153.5 324L154.9 323.3L155 324.4ZM160.6 324.1L162 323.4L162.1 324.5ZM167.7 324.3L169.1 323.4L169.3 324.5ZM174.9 324.4L176.1 323.5L176.4 324.5ZM181.9 324.5L183.1 323.5L183.5 324.5ZM189.1 324.5L190.2 323.4L190.6 324.5ZM196.3 324.5L197.4 323.4L197.8 324.4ZM203.4 324.5L204.4 323.4L204.9 324.3ZM210.4 324.5L211.4 323.3L211.9 324.3ZM217.4 324.4L218.4 323.3L218.8 324.2ZM224.4 324.3L225.4 323.3L225.8 324.2ZM231.4 324.2L232.3 323.3L232.7 324.2ZM238.3 324.2L239.3 323.3L239.6 324.2ZM245.2 324.1L246.2 323.3L246.5 324.2ZM252.1 324L253.2 323.3L253.4 324.2ZM259 324L260.1 323.3L260.3 324.2ZM265.9 324L267.1 323.3L267.2 324.2ZM272.7 323.9L273.9 323.3L274 324.3ZM279.5 323.8L280.8 323.3L280.8 324.3ZM286.3 323.8L287.7 323.3L287.7 324.3ZM293.2 323.7L294.6 323.2L294.6 324.3ZM300 323.7L301.5 323.2L301.4 324.3ZM306.8 323.6L308.3 323.2L308.2 324.3ZM313.7 323.6L315.2 323.2L315.1 324.3ZM320.6 323.6L322.1 323.2L322 324.3ZM327.5 323.6L329 323.2L328.9 324.3ZM334.5 323.6L336 323.2L335.9 324.3ZM105.5 315.4L107 315.4L106.6 316.4ZM112.4 315.5L114 315.4L113.6 316.5ZM119.3 315.6L120.8 315.5L120.5 316.5ZM126 315.8L127.6 315.5L127.3 316.6ZM132.8 315.9L134.3 315.6L134.2 316.7ZM139.6 316.2L141.1 315.7L141 316.8ZM146.5 316.4L147.9 315.8L148 316.9ZM153.5 316.5L154.9 315.9L155 317ZM160.5 316.7L161.9 315.9L162 317ZM167.6 316.8L168.9 316L169.2 317.1ZM174.8 317L176 316L176.3 317.1ZM181.8 317L183 316L183.4 317.1ZM188.9 317L190.1 316L190.5 317ZM196.1 317L197.2 316L197.7 317ZM203.2 317L204.3 315.9L204.8 316.9ZM210.2 317L211.3 315.9L211.8 316.9ZM217.2 316.9L218.3 315.8L218.7 316.8ZM224.2 316.8L225.3 315.8L225.7 316.8ZM231.2 316.7L232.3 315.8L232.6 316.8ZM238.1 316.7L239.2 315.8L239.5 316.8ZM245.1 316.6L246.2 315.8L246.4 316.8ZM252 316.5L253.2 315.8L253.3 316.8ZM258.9 316.4L260.1 315.8L260.2 316.8ZM265.8 316.4L267 315.8L267.1 316.8ZM272.6 316.3L273.9 315.8L273.9 316.8ZM279.3 316.2L280.8 315.8L280.7 316.8ZM286.2 316.2L287.7 315.7L287.6 316.8ZM293.1 316.1L294.6 315.7L294.5 316.8ZM299.9 316.1L301.4 315.7L301.3 316.8ZM306.7 316L308.3 315.7L308.1 316.8ZM313.6 315.9L315.1 315.7L314.9 316.8ZM320.5 315.9L322 315.7L321.8 316.8ZM327.4 315.9L329 315.7L328.8 316.8ZM334.4 315.9L335.9 315.7L335.7 316.8ZM107.4 308.5L108.4 308.9L107.9 309.5ZM114 308.5L115.2 308.7L114.8 309.4ZM120.5 308.5L121.9 308.5L121.6 309.4ZM126.9 308.6L128.5 308.3L128.2 309.4ZM133.5 308.7L135 308.3L134.8 309.4ZM140.1 308.9L141.5 308.4L141.5 309.5ZM146.9 309.1L148.3 308.4L148.3 309.5ZM153.8 309.2L155.1 308.5L155.3 309.6ZM160.8 309.3L162.1 308.6L162.3 309.6ZM167.9 309.5L169.1 308.6L169.4 309.7ZM175 309.6L176.2 308.6L176.5 309.7ZM182 309.7L183.2 308.7L183.5 309.7ZM189.1 309.7L190.2 308.6L190.6 309.6ZM196.2 309.7L197.3 308.6L197.7 309.6ZM203.3 309.6L204.3 308.5L204.8 309.5ZM210.2 309.6L211.3 308.5L211.8 309.5ZM217.2 309.5L218.3 308.5L218.7 309.4ZM224.2 309.3L225.4 308.4L225.7 309.4ZM231.2 309.2L232.4 308.4L232.6 309.4ZM238.1 309.1L239.3 308.4L239.5 309.4ZM245 309.1L246.3 308.4L246.4 309.4ZM252 309L253.2 308.4L253.3 309.4ZM258.9 308.9L260.2 308.4L260.1 309.4ZM265.8 308.9L267.1 308.4L267 309.4ZM272.6 308.8L274 308.4L273.9 309.4ZM279.4 308.7L280.9 308.4L280.7 309.4ZM286.2 308.6L287.8 308.4L287.5 309.4ZM293.1 308.6L294.7 308.4L294.4 309.4ZM300 308.5L301.5 308.3L301.2 309.4ZM306.8 308.4L308.3 308.3L308 309.4ZM313.7 308.4L315.2 308.3L314.9 309.3ZM320.6 308.4L322.1 308.3L321.8 309.3ZM327.5 308.3L329 308.3L328.7 309.3ZM334.4 308.3L335.9 308.3L335.6 309.3ZM115.9 301.8L114.6 302.1L114.7 301.2ZM122.2 301.8L121.2 301.9L121.3 301.2ZM128.5 301.8L128.9 301L129.3 301.5ZM134.8 301.9L135.7 301.2L136 302ZM141.2 302L142.4 301.2L142.6 302.2ZM147.9 302.1L149.1 301.2L149.4 302.3ZM154.7 302.2L155.9 301.2L156.3 302.3ZM161.7 302.3L162.9 301.2L163.3 302.3ZM168.8 302.4L169.8 301.3L170.3 302.2ZM175.9 302.5L176.7 301.3L177.3 302.1ZM182.9 302.5L183.7 301.3L184.3 302.1ZM190 302.5L190.6 301.3L191.3 302ZM197 302.4L197.6 301.2L198.2 301.9ZM204.1 302.4L204.6 301.2L205.2 301.8ZM211 302.3L211.6 301.2L212.2 301.8ZM218 302.1L218.6 301.1L219.1 301.8ZM225 301.9L225.8 301.2L226.1 301.8ZM232 301.8L232.8 301.2L233 302ZM238.9 301.7L239.8 301.3L239.8 302.1ZM245.8 301.6L246.8 301.4L246.6 302.2ZM252.7 301.4L253.7 301.5L253.4 302.2ZM259.6 301.4L260.6 301.6L260.2 302.2ZM266.5 301.3L267.5 301.6L267.1 302.2ZM273.3 301.2L274.4 301.5L273.9 302.2ZM280.1 301.1L281.3 301.5L280.7 302.2ZM287 301L288.2 301.4L287.6 302.1ZM293.8 301L295.1 301.4L294.5 302.1ZM300.6 300.9L302 301.3L301.3 302.1ZM307.5 300.8L308.8 301.3L308.2 302.1ZM314.3 300.7L315.7 301.2L315 302ZM321.2 300.7L322.6 301.2L321.9 302ZM328.1 300.7L329.5 301.2L328.8 302ZM335 300.6L336.5 301.2L335.7 302ZM117.4 295L115.9 295.3L116.1 294.2ZM124 295.3L122.4 295.4L122.8 294.3ZM130.6 295.7L129.1 295.5L129.7 294.5ZM137.3 296L135.8 295.5L136.5 294.6ZM150 295.8L148.9 294.8L149.9 294.4ZM156.8 295.8L155.8 294.8L156.8 294.4ZM163.8 295.8L162.8 294.8L163.7 294.3ZM170.9 295.7L169.7 294.9L170.6 294.3ZM178 295.7L176.7 294.9L177.5 294.3ZM185 295.6L183.6 295L184.4 294.2ZM192 295.5L190.6 295L191.3 294.2ZM199.1 295.3L197.6 295.1L198.2 294.1ZM206.1 295.2L204.6 295.1L205 294.1ZM213.1 295L211.6 295.1L211.9 294.1ZM220 294.7L218.6 295.1L218.7 294ZM227 294.5L225.6 295.1L225.5 294ZM233.9 294.3L232.6 295.1L232.4 294ZM240.8 294.1L239.6 295L239.3 294ZM247.6 293.9L246.6 295L246.1 294ZM254.5 293.7L253.6 295L253 294ZM261.3 293.6L260.5 294.9L259.9 294ZM268.2 293.4L267.5 294.8L266.7 294.1ZM275 293.3L274.5 294.8L273.6 294.1ZM281.8 293.2L281.4 294.7L280.5 294.1ZM288.6 293.1L288.4 294.6L287.4 294.1ZM295.4 293L295.3 294.5L294.3 294.1ZM302.2 292.9L302.2 294.4L301.2 294ZM309 292.8L309.2 294.3L308.1 294ZM315.9 292.7L316.1 294.2L315 294ZM322.7 292.6L323 294.2L321.9 294ZM329.6 292.6L329.9 294.1L328.8 294ZM336.4 292.6L336.8 294.1L335.7 293.9ZM111.4 288.2L109.9 288.5L110.1 287.4ZM118.3 288.2L116.7 288.5L116.9 287.4ZM125.1 288.9L123.6 288.9L124 287.8ZM132.1 289.7L130.6 289.4L131.1 288.5ZM139.1 290.3L137.7 289.8L138.3 289ZM159.1 289.8L157.6 289.3L158.3 288.4ZM166.1 289.6L164.6 289.2L165.2 288.3ZM173.2 289.5L171.6 289.2L172.2 288.2ZM180.3 289.3L178.7 289.1L179.2 288.1ZM187.3 289L185.8 288.9L186.2 287.9ZM194.4 288.7L192.8 288.8L193.2 287.8ZM201.4 288.4L199.9 288.6L200.1 287.6ZM208.4 288.1L206.9 288.5L207.1 287.4ZM215.4 287.8L213.9 288.3L214 287.2ZM222.3 287.4L220.9 288L220.8 286.9ZM229.2 287.1L227.9 287.8L227.7 286.7ZM236.1 286.7L234.8 287.6L234.5 286.5ZM242.9 286.4L241.7 287.4L241.3 286.3ZM249.7 286.1L248.6 287.2L248.1 286.2ZM256.5 285.9L255.4 287L254.9 286ZM263.3 285.7L262.3 286.9L261.7 285.9ZM270 285.5L269.2 286.7L268.5 285.8ZM276.8 285.3L276 286.6L275.3 285.7ZM283.5 285.1L282.8 286.5L282.1 285.7ZM290.3 285L289.7 286.4L288.9 285.6ZM297.1 284.8L296.5 286.3L295.7 285.6ZM303.8 284.7L303.4 286.2L302.5 285.5ZM310.6 284.6L310.2 286.1L309.3 285.5ZM317.4 284.5L317.1 286L316.2 285.5ZM324.2 284.5L323.9 286L323 285.4ZM331 284.4L330.8 286L329.8 285.4ZM337.9 284.4L337.7 285.9L336.7 285.4ZM104.8 281.2L103.3 281.6L103.4 280.5ZM111.7 281.2L110.2 281.6L110.3 280.5ZM118.6 281.3L117.1 281.6L117.3 280.5ZM125.4 282.3L123.8 282.2L124.3 281.2ZM139.2 284.3L137.8 283.7L138.6 282.9ZM146.3 284.1L144.9 283.6L145.6 282.8ZM181.5 283L179.9 282.8L180.4 281.8ZM188.6 282.7L187 282.6L187.5 281.6ZM195.7 282.3L194.2 282.3L194.5 281.3ZM202.8 281.8L201.2 282L201.5 281ZM209.7 281.3L208.2 281.7L208.3 280.6ZM216.5 280.8L215.1 281.3L215.1 280.2ZM223.5 280.3L222.1 281L222 279.9ZM230.5 279.8L229.2 280.6L229 279.5ZM237.3 279.4L236.1 280.3L235.8 279.2ZM244.1 279L242.9 280L242.5 278.9ZM250.8 278.6L249.7 279.7L249.2 278.7ZM257.5 278.2L256.5 279.4L255.9 278.5ZM264.2 278L263.3 279.2L262.7 278.3ZM270.9 277.7L270.1 279L269.4 278.2ZM277.6 277.5L276.8 278.9L276.1 278.1ZM284.3 277.3L283.6 278.8L282.9 278ZM291 277.2L290.4 278.6L289.6 277.9ZM297.7 277.1L297.2 278.5L296.4 277.8ZM304.5 277L304 278.5L303.2 277.8ZM311.2 276.9L310.8 278.4L309.9 277.8ZM318 276.8L317.7 278.3L316.7 277.7ZM324.8 276.8L324.5 278.3L323.6 277.7ZM331.6 276.7L331.3 278.2L330.4 277.7ZM338.4 276.7L338.2 278.2L337.2 277.7ZM111.8 274.4L110.3 274.8L110.4 273.7ZM118.7 274.5L117.2 274.8L117.4 273.8ZM125.3 275.7L123.8 275.6L124.2 274.6ZM138.8 278.2L137.5 277.4L138.3 276.7ZM145.9 278.1L144.6 277.3L145.4 276.6ZM153.1 277.9L151.7 277.2L152.5 276.5ZM160.2 277.7L158.8 277.1L159.6 276.3ZM181.7 276.9L180.2 276.6L180.8 275.7ZM188.8 276.4L187.3 276.3L187.8 275.3ZM195.6 275.8L194 275.8L194.4 274.8ZM202.4 275.2L200.8 275.3L201.1 274.3ZM209.2 274.6L207.7 275L207.8 273.9ZM216.1 274.1L214.6 274.6L214.6 273.5ZM223 273.5L221.6 274.2L221.5 273.1ZM230 273L228.7 273.8L228.5 272.8ZM237.1 272.4L235.9 273.4L235.5 272.3ZM244.2 271.7L243.1 272.9L242.6 271.9ZM251 271.2L250 272.4L249.5 271.4ZM257.6 270.8L256.8 272.1L256.1 271.2ZM264.2 270.5L263.5 271.9L262.8 271ZM270.9 270.3L270.2 271.7L269.5 270.9ZM277.5 270.1L276.9 271.5L276.1 270.8ZM284.2 270L283.7 271.4L282.9 270.7ZM290.9 269.8L290.5 271.3L289.6 270.7ZM297.6 269.7L297.2 271.2L296.3 270.6ZM304.3 269.7L304 271.2L303.1 270.6ZM311.1 269.6L310.8 271.1L309.9 270.6ZM317.9 269.6L317.6 271.1L316.7 270.6ZM324.6 269.5L324.5 271.1L323.5 270.6ZM331.4 269.5L331.3 271L330.3 270.6ZM338.2 269.5L338.1 271L337.1 270.6ZM104.9 267.7L103.4 268.2L103.5 267.1ZM111.9 267.8L110.4 268.2L110.5 267.1ZM118.8 267.8L117.3 268.2L117.4 267.1ZM138.2 272.1L137 271.1L137.9 270.5ZM145.3 272L144.1 271.1L145 270.5ZM152.5 271.9L151.2 271L152.1 270.4ZM159.7 271.8L158.3 271L159.2 270.3ZM166.9 271.6L165.5 270.9L166.4 270.2ZM181.2 270.9L179.8 270.4L180.5 269.6ZM188 270.2L186.5 269.8L187.2 268.9ZM194.8 269.4L193.3 269.2L193.8 268.3ZM201.6 268.7L200 268.8L200.4 267.7ZM208.3 268.1L206.8 268.3L207 267.3ZM215.2 267.5L213.7 268L213.8 266.9ZM222.2 266.9L220.8 267.6L220.6 266.6ZM229.2 266.3L228 267.2L227.7 266.2ZM236.3 265.6L235.2 266.7L234.7 265.7ZM243.4 264.9L242.4 266.1L241.8 265.2ZM250.4 264.1L249.6 265.4L248.9 264.6ZM257.3 263.5L256.6 264.9L255.8 264.1ZM263.8 263.2L263.3 264.7L262.4 263.9ZM270.4 263L269.9 264.5L269.1 263.8ZM277 262.9L276.7 264.4L275.8 263.8ZM283.7 262.8L283.4 264.3L282.5 263.8ZM290.4 262.7L290.2 264.3L289.2 263.7ZM297.1 262.7L296.9 264.2L296 263.7ZM303.9 262.7L303.7 264.2L302.7 263.7ZM310.6 262.6L310.5 264.2L309.5 263.7ZM317.4 262.6L317.4 264.2L316.3 263.8ZM324.2 262.6L324.2 264.2L323.2 263.8ZM331 262.6L331 264.2L330 263.8ZM337.8 262.6L337.9 264.2L336.8 263.8ZM111.9 261.3L110.4 261.7L110.5 260.6ZM137.4 266L136.4 264.8L137.4 264.5ZM144.5 266L143.4 264.9L144.4 264.5ZM151.6 266L150.5 264.9L151.5 264.4ZM158.8 266L157.6 264.9L158.6 264.4ZM166 265.9L164.8 264.9L165.8 264.4ZM173.2 265.7L172 264.8L172.9 264.2ZM187 264.1L185.6 263.5L186.4 262.7ZM193.9 263.3L192.4 262.8L193.1 262ZM200.6 262.5L199.1 262.3L199.6 261.3ZM207.4 261.7L205.8 261.8L206.1 260.8ZM214.2 261L212.7 261.5L212.8 260.4ZM221.2 260.4L219.9 261.2L219.6 260.2ZM228.3 259.7L227.2 260.8L226.7 259.8ZM235.3 258.9L234.5 260.1L233.8 259.3ZM242.4 258L241.7 259.4L240.9 258.6ZM249.3 257.2L248.8 258.7L248 258ZM256.3 256.4L255.9 257.9L255 257.3ZM262.9 256L262.7 257.6L261.7 257ZM269.5 256L269.4 257.5L268.4 257ZM276.2 255.9L276.1 257.5L275.1 257ZM282.9 255.9L282.9 257.4L281.8 257ZM289.6 255.9L289.6 257.4L288.6 257.1ZM296.4 255.9L296.4 257.4L295.4 257.1ZM303.2 255.9L303.3 257.4L302.2 257.1ZM310 255.9L310.1 257.5L309 257.1ZM316.8 255.9L316.9 257.5L315.9 257.2ZM323.6 255.9L323.8 257.5L322.7 257.2ZM330.5 256L330.7 257.5L329.6 257.2ZM337.3 256L337.5 257.5L336.5 257.3ZM143.5 260L142.7 258.7L143.7 258.5ZM150.5 260.1L149.7 258.8L150.7 258.5ZM157.6 260.1L156.7 258.8L157.8 258.6ZM164.7 260.2L163.8 258.9L164.8 258.6ZM171.7 259.9L170.8 258.6L171.8 258.3ZM178.7 259.1L177.7 257.9L178.7 257.6ZM185.6 258.3L184.5 257.2L185.6 256.8ZM192.6 257.5L191.4 256.5L192.3 256ZM199.5 256.6L198.1 255.8L199 255.1ZM206.3 255.6L204.8 255.3L205.4 254.4ZM213 254.8L211.6 255.2L211.7 254.1ZM220.1 254L219 255.1L218.5 254.1ZM227.2 253L226.5 254.4L225.7 253.6ZM234.1 252.1L233.8 253.6L232.9 253ZM241 251.2L240.9 252.8L239.9 252.3ZM247.9 250.4L247.9 252L246.9 251.6ZM254.8 249.6L254.9 251.2L253.8 250.9ZM261.6 249.1L261.7 250.7L260.7 250.4ZM268.3 249.2L268.5 250.7L267.4 250.5ZM275.1 249.2L275.3 250.8L274.2 250.5ZM281.9 249.3L282.1 250.8L281.1 250.6ZM288.7 249.3L289 250.8L287.9 250.6ZM295.5 249.4L295.8 250.9L294.8 250.7ZM302.4 249.4L302.7 250.9L301.6 250.7ZM309.2 249.4L309.6 250.9L308.5 250.8ZM316.1 249.5L316.5 251L315.4 250.8ZM323 249.5L323.3 251L322.3 250.9ZM329.8 249.5L330.2 251L329.1 250.9ZM336.7 249.6L337.1 251.1L336 251ZM142.4 254L141.8 252.5L142.9 252.5ZM156.2 254.1L155.7 252.6L156.8 252.7ZM163.1 254.2L162.6 252.7L163.7 252.8ZM170 253.9L169.5 252.4L170.6 252.4ZM190.7 251.6L190.3 250.2L191.4 250.2ZM197.6 250.8L197.2 249.3L198.3 249.4ZM204.5 249.9L204.2 248.4L205.2 248.6ZM211.4 248.7L211.9 247.9L212.3 248.4ZM218.3 247.4L219.1 248.5L218.1 248.7ZM225.3 246.4L226 247.8L224.9 247.9ZM232.2 245.6L232.9 247L231.8 247.1ZM239.2 244.8L239.8 246.2L238.7 246.3ZM246.1 244L246.7 245.5L245.6 245.5ZM253 243.3L253.6 244.7L252.5 244.8ZM259.9 242.8L260.5 244.2L259.4 244.2ZM266.9 242.9L267.5 244.3L266.4 244.3ZM273.8 242.9L274.4 244.4L273.3 244.4ZM280.7 243L281.3 244.4L280.2 244.5ZM287.7 243.1L288.2 244.5L287.1 244.5ZM294.6 243.1L295.2 244.6L294.1 244.6ZM301.5 243.2L302.1 244.6L301 244.6ZM308.5 243.2L309 244.7L307.9 244.7ZM315.4 243.3L315.9 244.7L314.8 244.7ZM322.3 243.3L322.9 244.8L321.8 244.8ZM329.2 243.3L329.8 244.8L328.7 244.8ZM336.1 243.4L336.7 244.8L335.6 244.8ZM161.6 247.9L161.5 246.4L162.5 246.7ZM168.3 247.6L168.3 246.1L169.3 246.5ZM175.2 246.9L175.2 245.3L176.3 245.8ZM189 245.2L189.4 243.7L190.3 244.4ZM195.9 244.3L196.6 242.9L197.4 243.7ZM203 243.4L204 242.2L204.5 243.2ZM210.1 242.6L211.5 241.9L211.6 243ZM216.9 241.8L218.4 241.8L218 242.9ZM223.6 240.9L225.1 241.4L224.4 242.3ZM230.5 240L231.8 240.8L230.9 241.5ZM237.4 239.1L238.6 240.1L237.7 240.6ZM244.4 238.3L245.5 239.4L244.5 239.8ZM251.3 237.5L252.3 238.7L251.3 239.1ZM258.3 237L259.3 238.2L258.3 238.6ZM265.5 237.1L266.4 238.3L265.4 238.6ZM272.6 237.1L273.5 238.4L272.4 238.6ZM279.7 237.1L280.5 238.4L279.4 238.7ZM286.7 237.2L287.5 238.5L286.4 238.7ZM293.7 237.2L294.5 238.5L293.4 238.7ZM300.7 237.2L301.5 238.6L300.4 238.8ZM307.7 237.3L308.5 238.6L307.4 238.8ZM314.7 237.3L315.4 238.7L314.3 238.8ZM321.7 237.3L322.4 238.7L321.3 238.9ZM328.6 237.4L329.3 238.7L328.3 238.9ZM335.6 237.4L336.3 238.8L335.2 238.9ZM56.5 236.9L55 237.3L55.1 236.2ZM63.4 236.9L62 237.3L62 236.2ZM70.4 236.9L68.9 237.3L68.9 236.2ZM77.3 236.9L75.8 237.3L75.9 236.2ZM84.2 236.9L82.7 237.3L82.8 236.2ZM91.1 236.9L89.6 237.3L89.7 236.2ZM98 236.9L96.6 237.3L96.6 236.2ZM105 236.9L103.5 237.3L103.5 236.2ZM111.9 236.9L110.4 237.3L110.5 236.2ZM118.8 236.9L117.3 237.3L117.4 236.2ZM124 238.3L122.5 237.9L123.2 237ZM128.6 240.2L128.1 238.8L129.2 238.8ZM133.7 241.7L133.7 240.1L134.7 240.5ZM140.4 241.6L140.4 240.1L141.5 240.5ZM147.1 241.6L147.2 240.1L148.2 240.5ZM153.8 241.6L153.9 240L154.9 240.5ZM160.4 241.5L160.6 240L161.6 240.5ZM166.9 241.3L167.3 239.8L168.2 240.5ZM173.9 240.6L174.3 239.1L175.2 239.8ZM180.8 239.7L181.5 238.3L182.2 239.1ZM187.8 238.9L188.7 237.6L189.3 238.5ZM194.9 238.1L195.9 237L196.5 237.9ZM202 237.4L203.3 236.4L203.6 237.5ZM209 236.7L210.5 236.1L210.5 237.2ZM215.9 236.1L217.4 235.8L217.2 236.9ZM222.6 235.3L224.2 235.4L223.7 236.4ZM229.4 234.5L230.9 234.9L230.3 235.8ZM236.2 233.7L237.6 234.3L236.9 235.1ZM243.1 232.9L244.4 233.6L243.6 234.3ZM250 232.1L251.3 233L250.4 233.6ZM257.1 231.7L258.4 232.7L257.4 233.3ZM264.4 231.7L265.5 232.7L264.6 233.2ZM271.6 231.6L272.7 232.7L271.7 233.1ZM278.7 231.6L279.8 232.7L278.8 233.1ZM285.8 231.6L286.9 232.7L285.8 233.1ZM292.9 231.6L293.9 232.7L292.9 233.1ZM300 231.6L300.9 232.8L299.9 233.1ZM307 231.6L308 232.8L306.9 233.1ZM314 231.6L315 232.8L313.9 233.1ZM321 231.6L321.9 232.9L320.9 233.1ZM328 231.6L328.9 232.9L327.9 233.2ZM335 231.6L335.9 232.9L334.8 233.2Z" fill="#3c3c3c" stroke="#3c3c3c" stroke-width="0.25"/>
<path d="M102 317.8C106.5 317.7 106.9 317.8 115.6 317.4C124.3 317 118.6 317.3 128 316.5C137.4 315.7 129.6 316.7 143.9 315.1C158.2 313.5 155.8 314 170.8 311.6C185.8 309.2 179.1 310.3 188.8 308C198.5 305.7 189.7 307.8 200 304.7C210.3 301.6 206.6 302.4 219.8 298.8C233 295.2 226.5 296.5 239.7 293.8C252.9 291.1 246.3 292.8 259.5 290.8C272.7 288.8 266.2 289.9 279.4 287.9C292.6 285.9 286 287.2 299.2 284.9C312.4 282.6 308.2 282.5 319 280.9C329.8 279.3 325.5 280.5 331.5 280C337.5 279.5 335.2 279.7 337 279.5" stroke="#111" stroke-width="1.15" fill="none" stroke-linejoin="round"/><path d="M69.6 339.6C75.2 344 74.9 343.7 86.3 352.8C97.7 361.9 96.8 361 103.8 366.8C110.8 372.6 104.9 369.4 107.3 370.3C109.7 371.2 108.4 370.4 111 369.5C113.6 368.6 108.9 368.9 115.2 367.7C121.5 366.5 119.8 367.1 130 365.9C140.2 364.7 136.4 363.5 145.8 364.1C155.2 364.7 146.7 364.1 158.1 367.7C169.5 371.3 167.2 371.8 180 374.9C192.8 378 188.9 376.1 196.5 377.1C204.1 378.1 193.1 376.8 202.8 377.8C212.5 378.8 210.4 378.6 225.6 380.1C240.8 381.6 231.6 381.1 248.3 382.4C265 383.7 263.1 383.5 275.7 384C288.3 384.5 279.9 384.2 286 384C292.1 383.8 283.7 383.8 293.9 383.3C304.1 382.8 302.3 383.3 316.7 382.4C331.1 381.5 330.2 381.1 337 380.5" stroke="#111" stroke-width="1.15" fill="none" stroke-linejoin="round"/><path d="M171.7 336.7C171.7 331 170.5 333.4 176.2 328.6C181.9 323.8 180.9 325.6 188.8 322.3C196.7 319 192.9 320.5 200 318.6C207.1 316.7 203.4 317.8 210 316.5C216.6 315.2 213.2 315.9 219.8 314.6C226.4 313.3 223.7 313 229.7 312.7C235.7 312.4 232.4 312.1 237.7 313.7C243 315.3 241 313.6 245.6 317.6C250.2 321.6 248 319.6 251.6 325.6C255.2 331.6 254.2 330.1 256.5 335.5C258.8 340.9 259.8 337 258.6 341.8C257.4 346.6 260.1 345.6 252.9 349.8C245.7 354 249.8 352.9 236.9 354.4C224 355.9 229.4 355.2 214.2 354.4C199 353.6 202.8 353.6 191.4 352.1C180 350.6 185.1 351.9 180 349.8C174.9 347.7 179 350.1 176.2 345.7C173.4 341.3 171.7 342.4 171.7 336.7Z" stroke="#111" stroke-width="1.15" fill="none" stroke-linejoin="round"/><path d="M337 289.3C335.2 289.5 336.2 289.3 331.5 289.8C326.8 290.3 329.8 289.5 323 290.8C316.2 292.1 318.4 290.2 311.1 293.8C303.8 297.4 306.2 295.1 301.2 301.7C296.2 308.3 297.5 305.7 296.2 313.7C294.9 321.7 294.9 318.3 297.2 325.6C299.5 332.9 297.2 330.2 303.2 335.5C309.2 340.8 307.2 339.1 315.1 341.4C323 343.7 319.7 342.4 327 342.4C334.3 342.4 333.7 341.7 337 341.4" stroke="#111" stroke-width="1.15" fill="none" stroke-linejoin="round"/><path d="M105 309.6C106.2 309.4 105.4 309.7 108.5 309.1C111.6 308.5 108.3 309.1 114.4 307.9C120.5 306.7 119.9 306.3 126.7 305.4C133.5 304.5 130.5 305.9 134.9 305.3C139.3 304.7 131 304.3 140 303.5C149 302.7 145.6 303.5 161.9 302.9C178.2 302.3 176.1 302.4 188.8 301.7C201.5 301 189.7 302.4 200 300.8C210.3 299.2 206.6 299.5 219.8 296.8C233 294.1 226.5 295.5 239.7 292.8C252.9 290.1 246.3 291.4 259.5 288.8C272.7 286.2 266.2 287.9 279.4 284.9C292.6 281.9 286 283.2 299.2 279.9C312.4 276.6 307.9 277.3 319 275C330.1 272.7 326.5 274 332.5 273C338.5 272 335.5 272.3 337 272" stroke="#f04848" stroke-width="1.15" fill="none" stroke-linejoin="round"/><path d="M337 281.9C332.3 282.9 332.3 281.9 323 284.9C313.7 287.9 318.4 286.8 309.1 290.8C299.8 294.8 303.8 292.8 295.2 296.8C286.6 300.8 291.2 299.4 283.3 302.7C275.4 306 278 305 271.4 306.7C264.8 308.4 274.1 307 263.5 307.7C252.9 308.4 254.3 307.7 239.7 308.7C225.1 309.7 233 309.4 219.8 310.7C206.6 312 209.7 312.1 200 312.7C190.3 313.3 199.7 312.4 190.6 312.5C181.5 312.6 180.5 313 172.6 313C164.7 313 171.6 312.5 166.8 312.5C162 312.5 165.9 312.7 158.3 313C150.7 313.3 150 313.1 143.9 313.4C137.8 313.7 145.3 312.8 140 314C134.7 315.2 134.5 314.8 128 317.1C121.5 319.4 125.1 318.3 120.6 320.8C116.1 323.3 117.3 321.7 114.4 324.6C111.5 327.5 112.3 326.6 111.9 329.5C111.5 332.4 110.7 330.7 113.2 333.2C115.7 335.7 114 334.8 119.3 336.9C124.6 339 122.7 338.1 129.2 339.4C135.7 340.7 130.9 339.3 138.8 340.8C146.7 342.3 142.2 341.7 152.9 343.9C163.6 346.1 161.8 345.7 170.8 347.5C179.8 349.3 173.4 348.4 180 349.3C186.6 350.2 184.8 349.8 190.6 350.2C196.4 350.6 193.4 350.3 197.5 350.6C201.6 350.9 193.4 351.6 202.8 351C212.2 350.4 210.4 351 225.6 348.7C240.8 346.4 235 347.5 248.3 344.1C261.6 340.7 255.1 342 265.5 338.5C275.9 335 272.5 335.3 279.4 333.5C286.3 331.7 281.7 333.1 286.3 333.1C290.9 333.1 285.7 332.7 293.3 333.5C300.9 334.3 299.2 335.2 309.1 335.5C319 335.8 313.7 335.8 323 334.5C332.3 333.2 332.3 332.5 337 331.5" stroke="#f04848" stroke-width="1.15" fill="none" stroke-linejoin="round"/><path d="M69.6 338.8C75.2 341.7 75.5 341.4 86.3 347.5C97.1 353.6 95 353.1 102 357.1C109 361.1 100.9 358.8 107.3 359.6C113.7 360.4 110.8 359 121.3 359.6C131.8 360.2 127.1 360 138.8 361.5C150.5 363 142.6 361.5 156.3 364.1C170 366.7 168.9 367.1 180 369.2C191.1 371.3 184.4 369.7 189.7 370.3C195 370.9 184 369.9 196 371C208 372.1 208.2 372.2 225.6 373.7C243 375.2 231.6 374.7 248.3 375.5C265 376.3 264.5 376 275.7 376C286.9 376 277.5 375.9 282 375.5C286.5 375.1 279.3 375.9 289.3 374.9C299.3 373.9 296.2 374.1 312.1 372.6C328 371.1 328.7 371.1 337 370.3" stroke="#f04848" stroke-width="1.15" fill="none" stroke-linejoin="round"/><text x="111.2" y="312.5" class="cl" text-anchor="middle" textLength="4.8" lengthAdjust="spacingAndGlyphs" style="fill:#f04848">0</text><text x="332.5" y="276.4" class="cl" text-anchor="middle" textLength="9.8" lengthAdjust="spacingAndGlyphs" style="fill:#f04848">20</text><text x="166.8" y="315.9" class="cl" text-anchor="middle" textLength="9.8" lengthAdjust="spacingAndGlyphs" style="fill:#f04848">30</text><text x="263.5" y="311.1" class="cl" text-anchor="middle" textLength="9.8" lengthAdjust="spacingAndGlyphs" style="fill:#f04848">30</text><text x="197.5" y="354" class="cl" text-anchor="middle" textLength="9.8" lengthAdjust="spacingAndGlyphs" style="fill:#f04848">30</text><text x="286.3" y="336.5" class="cl" text-anchor="middle" textLength="9.8" lengthAdjust="spacingAndGlyphs" style="fill:#f04848">30</text><text x="189.7" y="373.7" class="cl" text-anchor="middle" textLength="9.8" lengthAdjust="spacingAndGlyphs" style="fill:#f04848">20</text><text x="282" y="378.9" class="cl" text-anchor="middle" textLength="9.8" lengthAdjust="spacingAndGlyphs" style="fill:#f04848">20</text><text x="332.3" y="283.4" class="cl" text-anchor="middle" textLength="9.8" lengthAdjust="spacingAndGlyphs" style="fill:#111">20</text><text x="332.3" y="293.2" class="cl" text-anchor="middle" textLength="9.8" lengthAdjust="spacingAndGlyphs" style="fill:#111">30</text><text x="229.7" y="316.1" class="cl" text-anchor="middle" textLength="9.8" lengthAdjust="spacingAndGlyphs" style="fill:#111">30</text><text x="116.5" y="378.1" class="cl" text-anchor="middle" textLength="9.8" lengthAdjust="spacingAndGlyphs" style="fill:#111">20</text><text x="196.5" y="380.5" class="cl" text-anchor="middle" textLength="9.8" lengthAdjust="spacingAndGlyphs" style="fill:#111">20</text><text x="286" y="387.4" class="cl" text-anchor="middle" textLength="9.8" lengthAdjust="spacingAndGlyphs" style="fill:#111">20</text>
</g>
<rect x="24.5" y="239.5" width="311.7" height="166" fill="none" stroke="#1a1a1a" stroke-width="1.15"/>
<text x="18.5" y="409.3" class="ax" text-anchor="end" textLength="10.6" lengthAdjust="spacingAndGlyphs">5N</text>
<text x="18.5" y="388.6" class="ax" text-anchor="end" textLength="16" lengthAdjust="spacingAndGlyphs">10N</text>
<text x="18.5" y="367.8" class="ax" text-anchor="end" textLength="16" lengthAdjust="spacingAndGlyphs">15N</text>
<text x="18.5" y="347.1" class="ax" text-anchor="end" textLength="16" lengthAdjust="spacingAndGlyphs">20N</text>
<text x="18.5" y="326.3" class="ax" text-anchor="end" textLength="16" lengthAdjust="spacingAndGlyphs">25N</text>
<text x="18.5" y="305.6" class="ax" text-anchor="end" textLength="16" lengthAdjust="spacingAndGlyphs">30N</text>
<text x="18.5" y="284.8" class="ax" text-anchor="end" textLength="16" lengthAdjust="spacingAndGlyphs">35N</text>
<text x="18.5" y="264.1" class="ax" text-anchor="end" textLength="16" lengthAdjust="spacingAndGlyphs">40N</text>
<text x="18.5" y="243.3" class="ax" text-anchor="end" textLength="16" lengthAdjust="spacingAndGlyphs">45N</text>
<text x="33.9" y="417.8" class="ax" text-anchor="middle" textLength="20.5" lengthAdjust="spacingAndGlyphs">100E</text>
<text x="68.5" y="417.8" class="ax" text-anchor="middle" textLength="20.5" lengthAdjust="spacingAndGlyphs">110E</text>
<text x="103.1" y="417.8" class="ax" text-anchor="middle" textLength="20.5" lengthAdjust="spacingAndGlyphs">120E</text>
<text x="137.7" y="417.8" class="ax" text-anchor="middle" textLength="20.5" lengthAdjust="spacingAndGlyphs">130E</text>
<text x="172.3" y="417.8" class="ax" text-anchor="middle" textLength="20.5" lengthAdjust="spacingAndGlyphs">140E</text>
<text x="206.9" y="417.8" class="ax" text-anchor="middle" textLength="20.5" lengthAdjust="spacingAndGlyphs">150E</text>
<text x="241.5" y="417.8" class="ax" text-anchor="middle" textLength="20.5" lengthAdjust="spacingAndGlyphs">160E</text>
<text x="276.1" y="417.8" class="ax" text-anchor="middle" textLength="20.5" lengthAdjust="spacingAndGlyphs">170E</text>
<text x="310.7" y="417.8" class="ax" text-anchor="middle" textLength="15.5" lengthAdjust="spacingAndGlyphs">180</text>
<path d="M24.5 405.5h-3M24.5 384.8h-3M24.5 364h-3M24.5 343.2h-3M24.5 322.5h-3M24.5 301.8h-3M24.5 281h-3M24.5 260.2h-3M24.5 239.5h-3M33.5 405.5v3M68.1 405.5v3M102.7 405.5v3M137.3 405.5v3M171.9 405.5v3M206.5 405.5v3M241.1 405.5v3M275.7 405.5v3M310.3 405.5v3" stroke="#1a1a1a" stroke-width="1" fill="none"/>
<text x="83.8" y="233.6" class="tt" textLength="41.2" lengthAdjust="spacingAndGlyphs">SSP245</text>
<text x="132.1" y="233.6" class="tt" textLength="65.5" lengthAdjust="spacingAndGlyphs">2080−2100</text>
<text x="204.7" y="233.6" class="tt" textLength="19.6" lengthAdjust="spacingAndGlyphs">and</text>
<text x="230.6" y="233.6" class="tt" textLength="45.9" lengthAdjust="spacingAndGlyphs">Baseline</text>
<text x="28.8" y="256.6" class="pl" textLength="17.1" lengthAdjust="spacingAndGlyphs">(c)</text>
<path d="M194.7 428.9h19.2" stroke="#999" stroke-width="1.5"/>
<path d="M194.7 438.9h19.2" stroke="#f07070" stroke-width="0.8"/>
<text x="217.8" y="432.4" class="lg" textLength="44" lengthAdjust="spacing">Baseline</text>
<text x="217.8" y="442.4" class="lg" textLength="40.5" lengthAdjust="spacing">SSP245</text>
<path d="M265.4 422.7h17" stroke="#444" stroke-width="0.6"/>
<path d="M283.4 422.7l-2.2 -0.9v1.8z" fill="#333"/>
<text x="274.4" y="430.2" class="rv" text-anchor="middle">2</text>
<clipPath id="cd"><rect x="371.5" y="239.8" width="311.2" height="166"/></clipPath>
<g clip-path="url(#cd)">
<path d="M370.1 237.7 505.5 237.7 505.5 239.8 503.1 244 502.1 245.2 499 247.3 496.5 249.1 492.7 248.5 490.3 247.3 488.6 249.8 486.2 250.8 484.8 252.2 483.4 253.1 482.7 255.6 480.6 257.2 478.9 259.7 477.2 261 475.5 262.2 475.1 263.9 477.2 265.1 478.9 267.2 480.6 269.7 482 273 482.4 277.2 482 279.2 481 280.9 478.9 281.7 475.8 283 472 284 471.3 282.1 472 279.2 472.4 275.9 471 273.8 472.7 270.9 470.6 269.9 467.5 270.1 465.8 268.4 467.5 266.4 467.9 263 465.4 261.8 464.1 261.2 459.9 262.2 457.2 263.9 454 265.5 455.1 263 454.7 261 457.2 258.5 455.8 256.8 453 256.8 450.6 259.3 447.8 261.4 446.1 263.9 443.3 264.3 441.6 265.1 441.3 266.8 442.7 268.4 445.4 270.5 446.1 272.2 448.9 272.6 451.3 270.5 454.7 270.9 458.2 271.3 458.2 273.4 454.7 274.2 452 275.5 450.6 277.2 447.8 279.2 446.8 282.1 448.9 283.8 450.6 286.3 452.3 290.4 454.4 292.5 456.1 295 456.1 297.5 453.7 299.6 456.1 302.1 455.4 305 454.7 308.3 453.4 310.4 451.6 313.3 449.6 316.2 448.2 318.7 447.8 321.1 446.1 322.8 444.7 324.5 442 326.1 439.9 328.6 437.5 331.1 434 331.9 431.6 332.8 429.5 334 427.5 333.2 426.8 335.2 423.7 336.1 420.9 336.9 418.5 337.7 416.7 338.6 416.4 341.9 415.7 342.3 414.7 340.6 414 337.3 411.6 336.9 408.8 336.9 406.7 338.2 403.6 340.6 401.9 343.6 400.5 346.9 401.2 349.4 403.3 353.1 405.3 356.4 408.8 360.2 410.9 363.5 411.9 368.5 412.6 372.6 412.3 376.8 411.6 379.2 408.1 381.7 404.7 383.4 403.3 385.5 402.2 387.5 399.5 390.4 397.1 390.9 397.1 387.1 397.4 384.6 395.7 383.4 392.9 383 391.2 380.1 389.5 376.3 388.1 375.1 385.3 373.8 383.6 373.8 383.6 370.9 381.2 370.5 380.5 372.6 380.1 375.9 378.8 380.1 377.7 383.8 377.7 387.5 380.1 388.4 381.2 391.7 381.9 396.3 383.6 397.9 385.7 398.3 387.7 400.8 389.5 402.9 391.2 405 392.2 407.9 381.9 407.9 381.9 405.8 381.5 402.5 380.8 399.6 379.4 397.9 378.1 395.4 375.6 392.9 374.6 391.3 374.6 389.2 375.3 385.1 375.6 381.7 376 377.6 375.6 375.1 374.3 371.8 373.6 366.4 372.5 361.8 371.5 358.1 370.1 356.8ZM453 321.6 455.1 321.6 456.5 322.8 455.8 325.7 454.7 329 453.7 332.3 452.7 335.2 452 334 450.6 332.8 449.9 330.7 450.2 327.8 451.6 324.9 453 322.8ZM415.7 343.1 417.4 343.1 418.5 345.2 416.7 348.5 415 350.2 413.3 351 410.5 349.8 410.2 346.9 412.3 344.4 414 343.6ZM484.1 286.3 485.8 285.5 487.6 285.9 490 287.5 490.7 290.4 489.3 295.8 487.9 297.1 486.5 297.9 484.8 296.7 484.8 293.8 485.8 291.3 484.4 290.4 483.4 288.8 482.7 287.9ZM492.7 285.9 494.8 284.6 497.9 284.2 500.3 284.6 500.3 286.3 498.6 287.9 496.5 287.9 494.5 290.4 492.7 289.2 492.4 287.5ZM487.2 285.5 489.3 283.4 492 280.1 494.5 279.2 497.9 278.8 502.1 278.4 504.5 278.4 505.2 276.7 507.6 273 507.6 271.3 509.3 270.9 508.3 273.8 510 273.4 513.5 271.8 516.2 268.9 517.9 265.1 518.6 262.2 517.9 260.6 518.6 258.1 519.7 255.6 521.7 255.6 523.5 254.7 523.8 258.5 525.5 262.6 523.8 267.6 522.1 268 522.1 273 520.7 275.9 521.4 278.4 519.7 280.9 517.9 280.1 517.6 281.7 515.5 280.5 514.5 283 512.8 283 509 283 507.6 284.2 505.9 287.5 504.1 287.5 501.7 286.3 502.1 283.4 498.6 282.5 494.5 283.8 492 284.6 490 285.5 487.6 285.9ZM518.6 249.8 519 252.7 520.7 254.3 522.8 253.1 521.7 250.6 524.5 249.8 527.3 251.4 530 252.7 531.8 249.8 535.9 248.1 538 246.9 536.9 245.6 535.9 243.1 533.1 243.5 529 241.9 525.5 238.1 524.2 238.6 524.5 242.3 523.5 245.2 523.1 247.3 520.4 246.9 519.7 248.5ZM451.6 349.8 453.7 349.4 457.2 349.8 457.5 353.9 458.2 358.1 455.1 361.4 455.1 364.3 455.8 366.4 458.2 367.2 460.6 368 463.4 370.1 464.4 372.6 463.4 374.3 461.3 372.6 458.5 370.1 455.8 369.3 452.7 369.3 451.6 367.2 452.7 366 451.3 365.1 449.6 362.2 448.9 358.9 450.6 358.1 450.9 353.9ZM456.5 397.5 456.8 395 459.2 394.2 461.6 394.2 462.7 391.7 464.4 392.1 466.1 389.2 468.2 385.9 470.3 388 471.3 393.4 472 397.5 471 400.4 468.9 396.7 468.2 401.7 466.8 402.5 464.1 400.8 463.4 397.5 462 395 459.9 395.4 458.2 397.5ZM450.6 370.5 453 370.1 454.7 372.2 453.7 375.5 452.3 375.5 450.9 373ZM456.1 377.6 458.5 378.4 460.3 380.1 458.9 382.6 456.8 383 456.1 380.9ZM457.8 382.1 460.6 381.3 461.6 383.8 460.3 388.8 458.5 387.5 457.8 384.2ZM462.3 379.7 463.7 381.7 462.7 385.1 461.3 387.1 461.3 384.2ZM462.7 384.6 465.1 384.6 464.8 386.7 462.7 386.7ZM464.4 378.8 466.8 379.2 467.5 384.2 466.1 385.1 464.8 382.1ZM464.4 374.7 467.9 374.7 469.2 377.6 468.6 380.5 466.8 380.1 465.4 377.6ZM448.5 379.2 449.2 380.9 446.1 385.1 442.7 388.4 440.2 391.7 439.5 390.9 442 387.1 445.1 383.4 447.1 380.5ZM430.6 407.9 433 405.8 434.4 403.7 436.4 401.2 438.2 397.7 439.9 397.9 441.6 400 443.3 402.5 447.1 405.4 447.5 407.9Z" fill="#aaaaaa"/>
<ellipse cx="381.2" cy="273.4" rx="1.8" ry="1.0" fill="#fff"/>
<ellipse cx="444.7" cy="288.4" rx="1.1" ry="0.8" fill="#fff"/>
<ellipse cx="450.2" cy="297.1" rx="1.0" ry="0.9" fill="#fff"/>
<ellipse cx="394" cy="373" rx="1.3" ry="0.8" fill="#fff"/>
<path d="M367 403.7l9.6 0.2M374 403.6l9.5 0.4M388 403.2l9.1 1.2M395 403l9 1.6M401.8 403l9.1 1.6M408.6 403.3l9.4 1.1M415.4 403.7l9.6 0.1M422.3 404.2l9.7 -0.8M429.2 404.4l9.7 -1.3M442.8 404.2l10.1 -0.7M449.5 403.9l10.5 -0.2M456.3 403.7l10.8 0.3M463.1 403.5l10.9 0.5M470 403.5l11 0.7M476.9 403.5l11 0.6M483.8 403.5l11 0.6M490.7 403.5l11 0.6M497.6 403.5l11 0.5M504.5 403.6l11 0.5M511.4 403.6l11 0.4M518.3 403.6l11 0.5M525.2 403.5l11 0.5M532.2 403.5l11 0.6M539.1 403.4l11 0.7M546 403.4l10.9 0.7M552.9 403.5l10.9 0.6M559.8 403.5l11 0.5M566.7 403.6l11 0.4M573.6 403.6l11 0.3M580.5 403.7l11 0.3M587.4 403.7l11 0.2M594.3 403.7l11 0.2M601.2 403.7l11 0.2M608.1 403.6l11 0.3M615 403.5l11 0.5M622 403.5l11 0.5M628.9 403.6l11 0.5M635.8 403.7l11 0.3M642.7 403.7l11 0.1M649.6 403.7l11 0.1M656.5 403.7l11 0.1M663.4 403.7l11 0.2M670.3 403.7l11 0.2M677.2 403.7l11 0.3M367.3 395.3l9.2 0.5M381.5 394.7l8.3 1.7M388.6 394.2l7.9 2.8M395.6 393.8l7.8 3.6M402.2 393.8l8.4 3.6M408.7 394.4l9.3 2.3M415.6 395.6l9.2 -0.2M422.5 396.8l9.2 -2.5M429.7 397.3l8.5 -3.5M436.7 397.2l8.4 -3.3M443.4 396.7l8.8 -2.3M450 396.1l9.6 -1M456.5 395.6l10.2 -0.1M470.1 395.2l10.8 0.6M476.9 395.2l10.9 0.6M483.9 395.2l10.8 0.6M490.8 395.2l10.8 0.6M497.7 395.3l10.8 0.5M504.6 395.3l10.8 0.5M511.5 395.3l10.8 0.4M518.4 395.3l10.8 0.5M525.3 395.3l10.8 0.5M532.2 395.2l10.8 0.7M539.2 395.2l10.8 0.7M546.1 395.2l10.7 0.7M553 395.2l10.7 0.7M559.9 395.3l10.7 0.5M566.8 395.3l10.8 0.5M573.7 395.3l10.8 0.4M580.6 395.4l10.8 0.3M587.5 395.4l10.8 0.3M594.4 395.4l10.8 0.2M601.3 395.4l10.8 0.3M608.3 395.4l10.7 0.4M615.1 395.3l10.8 0.5M622 395.3l10.8 0.5M629 395.3l10.7 0.5M635.9 395.3l10.7 0.4M642.8 395.4l10.8 0.3M649.7 395.4l10.8 0.2M656.6 395.4l10.8 0.3M663.5 395.4l10.8 0.3M670.4 395.4l10.8 0.3M677.3 395.4l10.8 0.3M367.5 386.9l8.7 0.8M374.7 386.6l8.1 1.6M382.1 385.9l7.1 2.9M389.5 385.1l6.1 4.6M403.4 384.4l5.9 5.8M410.4 385.8l5.7 3M417.4 387.5l5.6 -0.3M424.2 389.2l5.8 -3.7M431 390.5l6.1 -6.3M438 390.3l5.9 -5.8M444.5 389.4l6.7 -4.1M450.8 388.4l8 -2.2M457.1 387.6l9.1 -0.6M470.4 387l10 0.6M477.3 387l10.2 0.8M484.2 386.9l10.1 0.8M491.2 386.9l10.1 0.8M498.1 387l10 0.8M505 387l10.1 0.7M511.9 387l10.1 0.6M518.8 387l10 0.7M525.8 387l9.9 0.7M532.7 387l9.9 0.8M539.6 387l9.9 0.7M546.6 387l9.8 0.7M553.5 387l9.7 0.6M560.4 387.1l9.8 0.5M567.2 387.1l9.9 0.5M574.2 387.1l9.8 0.5M581.1 387.1l9.8 0.4M587.9 387.2l10 0.3M594.8 387.2l10 0.3M601.7 387.2l9.9 0.3M608.7 387.1l9.9 0.4M615.5 387.1l10 0.5M622.4 387.1l10 0.5M629.4 387.1l9.9 0.5M636.4 387.1l9.8 0.4M643.3 387.2l9.8 0.3M650.1 387.2l10 0.2M657 387.2l10 0.2M663.9 387.2l10 0.2M670.8 387.2l10 0.2M677.7 387.2l10 0.2M367.6 378.7l8.5 1M382.7 377.4l5.9 3.5M412.8 377.2l0.9 3.9M419.7 379.4l1.1 -0.5M426.6 381.5l0.9 -4.6M433.3 382.9l1.4 -7.4M439.7 382.8l2.4 -7.3M445.8 381.7l4 -5.1M451.9 380.5l5.6 -2.7M458.2 379.6l7 -0.9M471.6 378.7l7.7 1M478.5 378.5l7.8 1.4M485.2 378.5l8.2 1.4M492 378.5l8.4 1.4M498.9 378.5l8.4 1.3M505.8 378.5l8.4 1.3M512.7 378.6l8.3 1.2M519.7 378.6l8.3 1.2M526.6 378.6l8.2 1.1M533.6 378.7l8.2 1M540.5 378.8l8.2 0.8M547.4 378.8l8.1 0.7M554.3 378.9l8 0.6M561.3 378.9l7.9 0.5M568.3 378.9l7.8 0.5M575.2 378.9l7.8 0.5M582 378.9l7.9 0.5M588.9 379l7.9 0.4M595.8 379l8 0.4M602.6 379l8.1 0.4M609.5 379l8.2 0.4M616.5 379l8.1 0.4M623.4 379l8.1 0.4M630.3 379l8.2 0.3M637.1 379l8.2 0.3M644 379.1l8.3 0.2M651 379.1l8.2 0.1M657.9 379.1l8.2 0.1M664.8 379.1l8.2 0.1M671.7 379.1l8.1 0.1M678.6 379.1l8.1 0.1M367.6 370.6l8.4 0.9M415.2 369.4l-3.9 3.3M422.3 371.2l-4.1 -0.4M429.1 373.1l-3.9 -4M435.5 374.4l-3 -6.7M441.5 374.3l-1.2 -6.4M447.5 373.2l0.7 -4.3M453.7 372.1l2.1 -2.1M466.7 370.6l3.7 0.9M473.5 370.1l4 1.9M480 369.9l4.7 2.4M486.4 369.9l5.7 2.3M493 370l6.4 2.1M499.8 370l6.6 2.1M506.7 370.1l6.6 2M513.6 370.1l6.6 1.9M520.5 370.2l6.6 1.8M527.5 370.3l6.4 1.6M534.6 370.4l6 1.4M541.6 370.5l5.8 1.1M548.6 370.6l5.8 0.9M555.6 370.7l5.4 0.7M563 370.8l4.5 0.6M570.2 370.8l4 0.5M576.9 370.8l4.3 0.5M583.8 370.9l4.4 0.4M590.9 370.9l4 0.4M597.8 370.9l4 0.3M604.5 370.9l4.4 0.3M611.3 370.9l4.6 0.3M618.4 370.9l4.2 0.3M625.4 371l4.1 0.2M632 371l4.7 0.2M638.6 371l5.3 0.2M645.5 371l5.3 0.1M652.7 371l4.8 0.1M659.8 371.1l4.4 0M666.7 371.1l4.3 0M673.7 371.1l4.3 0M680.6 371.1l4.2 0M367.6 362.6l8.6 0.8M415.9 361.8l-5.3 2.5M423.2 363.1l-5.9 -0.2M430.4 364.4l-6.5 -2.8M436.9 365.1l-5.7 -4.2M443 364.8l-4.1 -3.6M449.3 364.1l-3 -2.2M462.5 362.6l-1.7 0.8M469 362.2l-0.9 1.7M475.2 361.8l0.5 2.4M481.3 361.6l2.2 2.8M487.5 361.6l3.5 2.8M493.9 361.7l4.5 2.7M500.6 361.8l4.9 2.6M507.5 361.8l5 2.4M514.4 361.9l5 2.3M521.3 362l5 2.1M528.4 362.1l4.6 1.9M535.8 362.2l3.8 1.7M543 362.3l3.2 1.4M550.1 362.4l2.8 1.2M557.5 362.6l1.8 0.9M565.2 362.7l0.2 0.6M572.4 362.8l-0.5 0.5M579.3 362.8l-0.4 0.4M586.2 362.9l-0.4 0.3M593.3 362.9l-0.9 0.2M600.3 363l-1 0.1M607 363l-0.7 0.1M613.9 363l-0.5 0.1M621 363l-0.9 0.1M627.9 363l-1 0.1M634.6 363l-0.5 0.1M655.3 363l-0.5 0M662.3 363l-0.7 0M669.3 363l-0.9 0M676.3 363l-1 0M683.3 363l-1.2 0M406.1 353.9l0.6 2.3M414.8 354.2l-3 1.6M423.6 354.8l-6.8 0.5M430.6 355.4l-7.1 -0.7M437.2 355.7l-6.3 -1.2M443.7 355.5l-5.6 -0.9M450.4 355.1l-5 0M463.9 354.3l-4.5 1.5M470.5 354.1l-3.9 1.9M476.8 354l-2.7 2.2M483 353.9l-1.3 2.3M489.3 353.9l0 2.4M495.7 353.9l1.1 2.3M502.4 354l1.5 2.1M509.3 354.1l1.4 2M516.1 354.1l1.6 1.9M522.9 354.2l1.9 1.8M529.9 354.3l1.7 1.6M537.1 354.4l1.1 1.4M544.2 354.4l0.7 1.2M551.3 354.5l0.4 1.1M558.7 354.7l-0.7 0.8M566.2 354.8l-1.9 0.5M573.4 354.9l-2.5 0.4M580.4 354.9l-2.6 0.3M587.3 355l-2.7 0.2M594.3 355l-2.9 0.1M601.3 355l-2.9 0M608.1 355l-2.9 0M615 355.1l-2.8 0M622 355.1l-2.9 0M628.9 355.1l-3 0M635.8 355.1l-2.9 0M642.7 355.1l-2.9 0M649.7 355.1l-3 0M656.6 355.1l-3.1 0M663.5 355.1l-3.1 0M670.5 355.1l-3.2 0M677.5 355.1l-3.4 0M684.5 355.1l-3.5 0M408.1 346.1l-3.4 2.1M423.5 346.4l-6.7 1.5M430.4 346.7l-6.6 1M437.2 346.8l-6.3 0.8M443.9 346.7l-6 1M450.7 346.5l-5.8 1.3M457.6 346.3l-5.7 1.7M464.5 346.3l-5.6 1.8M471.3 346.3l-5.5 1.8M478.1 346.4l-5.2 1.6M484.8 346.4l-4.9 1.5M491.5 346.5l-4.5 1.4M498.1 346.5l-3.9 1.3M504.9 346.6l-3.5 1.1M511.7 346.7l-3.4 0.9M518.5 346.7l-3.2 0.9M525.1 346.7l-2.6 0.9M531.8 346.8l-2.2 0.8M538.7 346.8l-2 0.8M545.5 346.8l-1.9 0.7M552.4 346.9l-1.9 0.6M559.5 347l-2.3 0.4M566.6 347.1l-2.7 0.2M573.6 347.1l-2.9 0.1M580.5 347.1l-2.9 0.1M587.5 347.1l-3 0.1M594.4 347.2l-3 0M601.3 347.2l-3 0M608.2 347.2l-3 0M615.1 347.2l-3 0M622.1 347.2l-3.1 0M629 347.2l-3.1 0M635.9 347.2l-3.2 0M642.9 347.2l-3.3 0M649.9 347.2l-3.4 0M656.8 347.2l-3.5 0M663.8 347.2l-3.6 0M670.8 347.2l-3.7 0M677.7 347.2l-3.8 0M684.7 347.2l-3.9 0M409.4 338.2l-6.1 2.4M416.4 338.2l-6.2 2.3M423.3 338.3l-6.2 2.2M430.2 338.4l-6.2 2M437.1 338.4l-6.1 2M443.9 338.4l-6 2M450.8 338.4l-6 2M457.7 338.4l-6 2M464.7 338.4l-6 2M471.6 338.5l-6.1 1.8M478.5 338.6l-6.1 1.5M485.4 338.7l-6.1 1.3M492.2 338.8l-5.9 1.1M499 338.9l-5.6 1M505.7 339l-5.3 0.8M512.5 339l-5 0.7M519.2 339.1l-4.6 0.6M525.9 339.1l-4.1 0.6M532.5 339.1l-3.6 0.5M539.3 339.1l-3.3 0.5M546.1 339.2l-3.1 0.4M552.9 339.2l-2.9 0.3M559.8 339.3l-2.8 0.1M566.7 339.4l-2.8 0.1M573.5 339.4l-2.8 0M580.4 339.4l-2.7 0M587.3 339.4l-2.7 0M594.3 339.4l-2.8 0M601.2 339.4l-2.8 0M608.1 339.4l-2.7 0M615 339.4l-2.7 0M621.9 339.4l-2.8 0M628.9 339.4l-2.9 0M635.8 339.4l-3 0M642.8 339.4l-3.1 0M649.8 339.4l-3.3 0M656.8 339.4l-3.4 0M663.7 339.4l-3.5 0M670.7 339.4l-3.7 0M677.7 339.4l-3.8 0M684.6 339.4l-3.9 0M443.9 330.5l-6 2.4M450.8 330.5l-6 2.3M457.8 330.6l-6.1 2.3M464.7 330.6l-6.2 2.1M471.7 330.8l-6.4 1.8M478.7 330.9l-6.5 1.6M485.6 331l-6.5 1.4M492.4 331.1l-6.3 1.2M499.2 331.2l-6 1M506 331.2l-5.8 0.9M512.7 331.3l-5.4 0.8M519.3 331.3l-4.8 0.7M526 331.4l-4.3 0.6M532.7 331.4l-3.9 0.5M539.4 331.5l-3.5 0.4M546.1 331.5l-3.1 0.3M552.9 331.6l-2.8 0.1M559.7 331.6l-2.7 0.1M566.5 331.7l-2.5 0M573.4 331.7l-2.4 0M580.2 331.7l-2.3 0M587.1 331.7l-2.3 0M594.1 331.7l-2.3 0M601 331.7l-2.3 0M607.9 331.7l-2.3 0M614.8 331.7l-2.3 0M621.8 331.7l-2.5 0M628.7 331.7l-2.6 0M635.7 331.7l-2.7 0M642.6 331.7l-2.8 0M649.6 331.7l-3 0M656.6 331.7l-3.1 0M663.6 331.7l-3.2 0M670.5 331.7l-3.3 0M677.5 331.7l-3.4 0M684.5 331.7l-3.6 0M450.9 322.9l-6 2.4M464.8 323.1l-6.2 2M471.8 323.2l-6.4 1.7M478.8 323.3l-6.6 1.5M485.7 323.4l-6.6 1.4M492.5 323.4l-6.5 1.3M499.3 323.5l-6.3 1.2M506.1 323.5l-6.1 1.1M512.9 323.6l-5.7 1M519.4 323.7l-5 0.8M526 323.7l-4.4 0.7M532.8 323.8l-4.1 0.6M539.5 323.9l-3.6 0.5M546.1 323.9l-3.1 0.3M552.8 324l-2.8 0.2M559.6 324l-2.6 0.1M566.5 324l-2.4 0.1M573.3 324.1l-2.2 0M580.1 324.1l-2 0M587 324.1l-2 0M593.9 324.1l-2 0M600.8 324.1l-2 0M607.7 324.1l-2 0M614.7 324.1l-2.1 0M621.6 324.1l-2.2 -0.1M628.6 324.1l-2.3 -0.1M635.5 324.1l-2.4 -0.1M642.5 324.2l-2.5 -0.1M649.5 324.2l-2.6 -0.2M656.5 324.2l-2.8 -0.2M663.4 324.2l-2.9 -0.2M670.3 324.2l-2.9 -0.2M677.3 324.2l-3 -0.2M684.2 324.2l-3.1 -0.2M457.8 315.6l-6.2 2M464.7 315.7l-6.2 1.7M471.7 315.8l-6.2 1.5M478.6 315.9l-6.3 1.4M485.6 315.9l-6.4 1.4M492.5 315.9l-6.5 1.4M499.4 315.9l-6.4 1.4M506.2 315.9l-6.3 1.3M513 316l-6 1.3M519.6 316.1l-5.3 1.1M526.2 316.1l-4.7 0.9M532.9 316.2l-4.3 0.8M539.5 316.3l-3.8 0.7M546.1 316.3l-3.2 0.5M552.8 316.4l-2.8 0.4M559.6 316.4l-2.5 0.3M566.4 316.5l-2.3 0.2M573.2 316.6l-2 0.1M580 316.6l-1.9 0M586.9 316.6l-1.8 0M593.8 316.6l-1.8 0M600.7 316.6l-1.8 0M607.6 316.6l-1.8 0M614.5 316.6l-1.9 -0.1M621.5 316.7l-1.9 -0.2M628.4 316.7l-2 -0.3M635.4 316.8l-2 -0.3M642.3 316.8l-2.1 -0.4M649.3 316.8l-2.3 -0.5M656.3 316.9l-2.4 -0.6M663.2 316.9l-2.5 -0.6M670.2 316.9l-2.6 -0.6M677.1 316.9l-2.6 -0.6M684 316.9l-2.6 -0.6M457.9 308.1l-6.4 2.2M464.7 308.3l-6.1 1.9M471.5 308.4l-5.8 1.7M478.3 308.4l-5.7 1.6M485.3 308.5l-5.8 1.6M492.2 308.4l-5.9 1.6M499.2 308.4l-6 1.6M506 308.4l-5.9 1.6M512.8 308.5l-5.6 1.5M519.4 308.5l-5 1.4M526 308.6l-4.4 1.2M532.7 308.7l-3.9 1.1M539.4 308.8l-3.4 0.9M545.9 308.9l-2.8 0.8M552.6 308.9l-2.3 0.6M559.4 309l-2.1 0.5M566.1 309.1l-1.8 0.3M572.9 309.2l-1.4 0.1M579.7 309.2l-1.3 0M586.6 309.3l-1.2 -0.1M593.5 309.3l-1.3 -0.1M600.4 309.3l-1.3 -0.2M607.4 309.3l-1.3 -0.2M614.3 309.4l-1.4 -0.3M621.2 309.4l-1.4 -0.4M628.2 309.5l-1.5 -0.6M635.1 309.5l-1.5 -0.6M642.1 309.6l-1.6 -0.7M649 309.6l-1.8 -0.8M656 309.7l-1.9 -1M663 309.7l-2 -1M669.9 309.7l-2.1 -1M676.8 309.7l-2.1 -1M683.8 309.7l-2.1 -1M464.5 300.6l-5.8 2.7M471 300.8l-4.8 2.4M477.5 300.9l-4.2 2.2M484.5 300.9l-4.3 2.1M491.5 300.9l-4.5 2.1M498.5 300.9l-4.6 2.1M505.4 300.9l-4.6 2.1M512.2 300.9l-4.3 2.1M518.8 301l-3.8 2M525.4 301.1l-3.1 1.8M532 301.2l-2.6 1.7M538.6 301.2l-2 1.5M545.2 301.3l-1.3 1.3M551.8 301.4l-0.7 1.1M558.6 301.5l-0.4 0.9M565.3 301.7l0 0.6M572 301.8l0.3 0.3M578.9 302l0.5 0M585.8 302.1l0.5 -0.2M592.7 302.2l0.4 -0.4M599.7 302.3l0.3 -0.6M606.7 302.3l0.1 -0.7M613.6 302.4l0 -0.8M620.6 302.5l-0.2 -1M627.6 302.5l-0.3 -1.1M634.6 302.6l-0.5 -1.2M641.5 302.6l-0.6 -1.2M648.5 302.6l-0.8 -1.3M655.6 302.7l-1 -1.4M662.5 302.7l-1.1 -1.5M669.5 302.7l-1.2 -1.5M676.4 302.7l-1.2 -1.4M683.3 302.7l-1.3 -1.4M464.1 293.1l-4.9 3.4M470.2 293.3l-3.2 3.1M476.5 293.3l-2.1 3.1M483.6 293.3l-2.4 3.2M497.8 293.2l-3.2 3.4M504.8 293.1l-3.4 3.5M511.7 293.1l-3.3 3.5M518.3 293.2l-2.7 3.4M524.8 293.3l-1.9 3.2M531.2 293.4l-1 2.9M537.7 293.5l0 2.7M544.1 293.7l0.9 2.4M550.6 293.8l1.8 2.1M557.1 294l2.4 1.7M563.8 294.2l3 1.2M570.5 294.5l3.4 0.6M577.3 294.9l3.6 0M584.2 295.2l3.5 -0.6M591.3 295.4l3.2 -1.2M598.4 295.6l2.8 -1.5M605.5 295.8l2.4 -1.8M612.6 295.8l2 -2M619.7 295.9l1.6 -2.1M626.8 296l1.3 -2.2M633.8 296l1 -2.2M640.9 296l0.8 -2.2M647.9 295.9l0.5 -2.2M654.9 296l0.3 -2.2M661.9 295.9l0.2 -2.2M668.9 295.9l0 -2.1M675.8 295.9l-0.1 -2M682.8 295.9l-0.2 -2M457.5 285.7l-5.6 4.4M463.7 285.9l-4.1 3.9M469.6 286.1l-2.2 3.5M476 286.1l-1.1 3.5M483.3 285.8l-1.8 4.1M505.2 285.2l-4.2 5.3M512.1 285.2l-4.3 5.3M518.7 285.3l-3.6 5.2M525 285.4l-2.4 4.8M531.2 285.6l-0.9 4.5M537.3 285.8l0.6 4.1M543.5 286l2.1 3.8M549.7 286.1l3.5 3.5M556 286.4l4.7 3M562.5 286.8l5.5 2.2M569.4 287.3l5.6 1.1M576.3 287.9l5.6 0M583.2 288.4l5.6 -1.1M590 289l5.7 -2.2M597.3 289.3l5 -2.9M604.6 289.5l4.1 -3.2M611.9 289.5l3.4 -3.4M619.1 289.6l2.8 -3.4M626.3 289.5l2.3 -3.3M633.4 289.5l1.9 -3.2M640.5 289.4l1.6 -3.1M647.5 289.4l1.3 -3M654.5 289.3l1 -2.9M661.5 289.3l0.9 -2.8M668.5 289.2l0.7 -2.7M675.5 289.1l0.6 -2.6M682.4 289.1l0.5 -2.5M450.2 278.5l-4.7 5M457.2 278.5l-5 4.9M463.5 278.9l-3.7 4.3M469.5 279.1l-2 3.7M483.6 278.7l-2.4 4.6M491.2 278.3l-3.8 5.5M525.8 277.9l-4 6.1M531.8 278.2l-2.1 5.7M537.6 278.3l0 5.3M543.6 278.4l2 5.1M549.5 278.5l3.8 5M555.9 279l4.8 4M562.8 279.7l5 2.6M569.7 280.4l5 1.2M576.6 281l5 -0.1M583.5 281.7l5 -1.3M590.3 282.3l5.2 -2.7M597.2 283l5.3 -4.1M604.4 283.4l4.7 -4.8M611.8 283.3l3.6 -4.7M619.1 283.2l2.9 -4.5M626.3 283.1l2.3 -4.2M633.4 283l1.9 -4M640.5 282.9l1.5 -3.7M647.5 282.8l1.3 -3.5M654.5 282.7l1 -3.3M661.5 282.6l0.9 -3.2M668.5 282.5l0.8 -3M675.5 282.4l0.7 -2.9M682.4 282.4l0.6 -2.7M456.9 271.6l-4.3 5.3M463.3 272l-3.3 4.5M469.6 272.3l-2 3.9M483.9 271.8l-3.1 5M491.7 271.3l-4.8 6M499.5 270.8l-6.5 7M507 270.5l-7.7 7.6M526.5 270.8l-5.5 6.9M532.4 271.1l-3.3 6.4M538.1 271.2l-1 6.2M544 271.1l1.1 6.3M550 271.2l2.8 6.1M556.6 272l3.4 4.6M563.4 272.8l3.7 3M570.3 273.6l3.7 1.4M577.3 274.3l3.6 -0.1M584.1 275l3.7 -1.5M591 275.8l3.9 -3.1M597.9 276.6l3.9 -4.6M604.8 277.3l3.8 -6.1M612.1 277.2l3 -5.9M619.4 276.9l2.2 -5.3M626.6 276.7l1.7 -4.9M633.7 276.5l1.3 -4.5M640.8 276.4l1 -4.1M647.8 276.2l0.7 -3.9M654.8 276.1l0.5 -3.6M661.8 276l0.4 -3.4M668.7 275.9l0.3 -3.3M675.6 275.8l0.3 -3.1M682.6 275.7l0.3 -2.9M449.6 264.8l-3.6 5.7M456.6 264.9l-3.8 5.6M463.2 265.3l-3 4.7M484.1 265.1l-3.4 5.1M491.9 264.6l-5.2 6.2M499.7 264.1l-6.9 7.2M507.2 263.8l-8.2 7.8M514.2 263.7l-8.4 8M526.8 264.1l-6 7.1M532.7 264.3l-3.9 6.7M538.6 264.4l-1.9 6.6M544.6 264.2l-0.2 7.1M551 264.4l1 6.5M557.6 265.1l1.6 5.1M564.3 265.9l1.9 3.5M571.2 266.8l2 1.7M578.1 267.7l1.9 -0.1M585 268.6l2.1 -1.9M591.9 269.5l2 -3.6M598.8 270.3l2 -5.1M605.8 271l1.9 -6.5M612.9 271.1l1.5 -6.7M620 270.6l1 -5.9M627.1 270.3l0.7 -5.3M634.2 270.1l0.3 -4.8M641.2 269.9l0 -4.4M648.3 269.8l-0.3 -4.1M655.3 269.7l-0.5 -3.9M662.3 269.6l-0.7 -3.7M669.2 269.5l-0.7 -3.5M676.1 269.4l-0.6 -3.3M682.9 269.3l-0.4 -3.1M456.5 258.4l-3.5 5.8M484 258.8l-3.2 5M491.7 258.3l-4.9 6M499.4 257.8l-6.4 6.9M506.8 257.5l-7.5 7.5M513.9 257.4l-7.7 7.6M520.4 257.6l-7 7.4M532.8 257.9l-4.1 6.6M539 257.9l-2.7 6.7M545.4 257.6l-1.6 7.3M551.9 257.9l-1 6.7M558.7 258.6l-0.6 5.3M565.5 259.4l-0.5 3.8M572.4 260.2l-0.5 2.1M579.3 261.3l-0.5 -0.1M586.2 262.4l-0.4 -2.2M593.1 263.2l-0.4 -3.9M600 263.9l-0.4 -5.3M606.9 264.6l-0.4 -6.7M613.8 264.8l-0.4 -7M620.7 264.3l-0.4 -6.1M627.7 263.9l-0.6 -5.4M634.8 263.7l-0.9 -4.9M641.9 263.5l-1.4 -4.6M649.1 263.5l-1.9 -4.4M656.2 263.4l-2.3 -4.3M663.3 263.3l-2.6 -4.2M670.1 263.3l-2.5 -4M676.9 263.1l-2.1 -3.8M683.5 263l-1.6 -3.5M491.3 252.2l-4.1 5.4M498.8 251.8l-5.3 6.2M506.2 251.6l-6.2 6.7M513.2 251.5l-6.4 6.9M519.9 251.6l-5.9 6.8M526.3 251.7l-5 6.5M532.7 251.8l-3.9 6.3M539.2 251.8l-3.2 6.4M546 251.5l-2.9 6.8M552.9 251.7l-2.9 6.4M559.7 252.5l-2.7 5M566.6 253.3l-2.7 3.3M573.5 254.1l-2.6 1.6M580.3 255l-2.5 -0.1M587.3 255.8l-2.6 -1.8M594.2 256.7l-2.6 -3.5M601.1 257.5l-2.6 -5M608 258.2l-2.5 -6.4M614.7 258.2l-2.2 -6.6M621.4 257.8l-1.8 -5.8M628.4 257.6l-1.9 -5.2M635.5 257.4l-2.3 -4.9M642.7 257.3l-3 -4.7M650.1 257.3l-3.9 -4.7M657.4 257.3l-4.6 -4.8M664.5 257.3l-5 -4.8M671.3 257.3l-4.8 -4.7M677.9 257.1l-4.2 -4.4M684.3 256.9l-3.2 -4M490.9 246.4l-3.2 4.8M505.5 245.9l-4.8 5.8M512.5 245.8l-5 6M519.3 245.8l-4.7 6M539.4 245.9l-3.6 5.7M546.5 245.8l-3.8 6M553.7 245.8l-4.5 6M560.6 246.5l-4.4 4.5M567.4 247.3l-4.3 2.9M574.2 248.1l-4.1 1.4M581.1 248.8l-4 -0.1M588.1 249.5l-4.1 -1.5M595 250.3l-4.3 -3M602 251.1l-4.3 -4.6M608.9 251.8l-4.3 -6M615.3 251.6l-3.4 -5.7M622 251.4l-2.9 -5.3M628.9 251.3l-2.9 -4.9M636 251.2l-3.3 -4.8M643.4 251.2l-4.2 -4.8M650.9 251.3l-5.4 -4.9M658.3 251.4l-6.4 -5.2M665.4 251.4l-6.9 -5.3M672.2 251.4l-6.7 -5.2M678.7 251.2l-5.8 -4.9M685 251l-4.5 -4.4M511.9 240.2l-3.8 5.1M518.8 240.2l-3.8 5.1M525.7 240.3l-3.7 5M539.5 240.3l-3.8 5M546.7 240.3l-4.3 5M554.1 240.3l-5.2 4.9M561.2 240.7l-5.8 4.1M568.1 241.4l-5.6 2.7M574.9 242.1l-5.5 1.3M581.8 242.8l-5.4 -0.1M588.7 243.5l-5.5 -1.4M595.7 244.2l-5.6 -2.8M602.7 244.9l-5.7 -4.2M609.2 245.2l-5 -4.9M615.7 245.2l-4.1 -4.8M622.3 245.1l-3.5 -4.6M629.2 245l-3.4 -4.5M636.3 245l-3.8 -4.5M643.6 245.1l-4.7 -4.7M651.1 245.3l-5.8 -5M658.5 245.4l-6.9 -5.3M665.7 245.5l-7.4 -5.5M672.5 245.5l-7.2 -5.4M679 245.3l-6.3 -5M685.2 245l-4.9 -4.5M401 233.9l-3 6M407.9 233.9l-3 6M414.8 233.9l-3 6M421.7 233.9l-3 6M428.6 233.9l-3 6M435.5 233.9l-3 6M442.4 233.9l-3 6M449.3 233.9l-3 6M456.3 233.9l-3 6M462.9 234.4l-2.4 4.9M469.4 235.1l-1.7 3.7M476.1 235.4l-1.3 2.9M483.2 235.3l-1.7 3.2M490.3 235.1l-2.1 3.6M497.5 235l-2.5 3.9M504.5 234.8l-2.9 4.1M511.6 234.8l-3.1 4.3M518.5 234.7l-3.3 4.3M525.5 234.8l-3.4 4.3M532.5 234.8l-3.5 4.2M539.6 234.8l-3.9 4.2M546.8 234.9l-4.4 4.1M554.1 235l-5.2 3.9M561.5 235.2l-6.2 3.4M568.7 235.7l-6.9 2.5M575.6 236.3l-6.8 1.2M582.4 236.9l-6.7 -0.1M589.4 237.6l-6.8 -1.3M596.3 238.2l-6.9 -2.6M602.9 238.6l-6.1 -3.4M609.3 238.8l-5.1 -3.8M615.8 238.9l-4.3 -4M622.4 238.9l-3.8 -4M629.2 238.9l-3.6 -4.1M636.3 239l-3.8 -4.2M643.5 239.1l-4.4 -4.4M650.8 239.2l-5.3 -4.7M658.1 239.4l-6.1 -4.9M665.2 239.4l-6.5 -5.1M672 239.4l-6.3 -5M678.5 239.2l-5.5 -4.7M684.9 239l-4.4 -4.2" stroke="#4d4d4d" stroke-width="0.55" fill="none"/><path d="M376.6 403.9L375.2 404.4L375.2 403.3ZM383.5 404L382 404.5L382.1 403.4ZM397.1 404.4L395.6 404.7L395.7 403.7ZM404 404.6L402.4 404.9L402.6 403.8ZM410.9 404.6L409.4 404.9L409.6 403.8ZM418 404.3L416.5 404.7L416.6 403.6ZM425 403.9L423.5 404.4L423.5 403.3ZM431.9 403.4L430.5 404.1L430.4 403ZM438.9 403.1L437.5 403.9L437.4 402.8ZM452.9 403.4L451.5 404.1L451.4 403ZM460 403.7L458.5 404.3L458.5 403.2ZM467 403.9L465.6 404.4L465.6 403.3ZM474 404.1L472.5 404.5L472.6 403.4ZM480.9 404.1L479.5 404.6L479.5 403.5ZM487.9 404.1L486.4 404.6L486.4 403.5ZM494.8 404.1L493.3 404.6L493.3 403.5ZM501.7 404.1L500.2 404.6L500.3 403.4ZM508.6 404L507.1 404.5L507.2 403.4ZM515.5 404L514 404.5L514.1 403.4ZM522.4 404L520.9 404.5L521 403.4ZM529.3 404L527.8 404.5L527.9 403.4ZM536.2 404L534.7 404.5L534.8 403.4ZM543.1 404.1L541.6 404.6L541.7 403.5ZM550 404.2L548.5 404.6L548.6 403.5ZM556.9 404.2L555.4 404.6L555.5 403.5ZM563.8 404.1L562.4 404.6L562.4 403.5ZM570.7 404L569.3 404.5L569.3 403.4ZM577.7 404L576.2 404.5L576.2 403.4ZM584.6 404L583.1 404.5L583.1 403.4ZM591.5 403.9L590 404.4L590 403.3ZM598.4 403.9L596.9 404.4L597 403.3ZM605.3 403.9L603.8 404.4L603.9 403.3ZM612.2 403.9L610.7 404.4L610.8 403.3ZM619.1 404L617.6 404.5L617.7 403.4ZM626 404L624.5 404.5L624.6 403.4ZM632.9 404.1L631.4 404.5L631.5 403.4ZM639.8 404L638.4 404.5L638.4 403.4ZM646.7 403.9L645.3 404.4L645.3 403.3ZM653.7 403.9L652.2 404.4L652.2 403.3ZM660.6 403.9L659.1 404.4L659.1 403.3ZM667.5 403.9L666 404.4L666 403.3ZM674.4 403.9L672.9 404.4L672.9 403.3ZM681.3 403.9L679.8 404.4L679.8 403.3ZM688.2 403.9L686.7 404.4L686.7 403.3ZM376.4 395.8L374.9 396.3L375 395.2ZM389.8 396.4L388.3 396.7L388.5 395.6ZM396.5 396.9L395 397L395.3 395.9ZM403.4 397.3L401.8 397.2L402.3 396.2ZM410.6 397.3L409 397.3L409.5 396.3ZM417.9 396.7L416.4 396.9L416.6 395.8ZM424.8 395.5L423.4 396L423.4 394.9ZM431.7 394.3L430.5 395.2L430.2 394.2ZM438.3 393.8L437.2 394.8L436.7 393.8ZM445.1 393.9L444 394.9L443.5 393.9ZM452.2 394.4L451 395.3L450.7 394.2ZM459.5 395L458.1 395.7L458 394.6ZM466.8 395.5L465.3 396.1L465.3 395ZM480.9 395.9L479.4 396.3L479.4 395.2ZM487.8 395.9L486.3 396.3L486.4 395.2ZM494.7 395.9L493.2 396.3L493.3 395.2ZM501.6 395.9L500.1 396.3L500.2 395.2ZM508.5 395.8L507 396.3L507.1 395.2ZM515.4 395.8L514 396.3L514 395.2ZM522.3 395.8L520.9 396.3L520.9 395.2ZM529.2 395.8L527.8 396.3L527.8 395.2ZM536.1 395.8L534.6 396.3L534.7 395.2ZM543 395.9L541.5 396.3L541.6 395.2ZM549.9 395.9L548.4 396.4L548.5 395.3ZM556.8 395.9L555.3 396.4L555.4 395.3ZM563.7 395.9L562.2 396.3L562.3 395.2ZM570.6 395.8L569.2 396.3L569.2 395.2ZM577.6 395.8L576.1 396.3L576.1 395.2ZM584.5 395.7L583 396.2L583 395.1ZM591.4 395.7L589.9 396.2L590 395.1ZM598.3 395.7L596.8 396.2L596.9 395.1ZM605.2 395.7L603.8 396.2L603.8 395.1ZM612.1 395.7L610.6 396.2L610.7 395.1ZM619 395.7L617.5 396.2L617.6 395.1ZM625.9 395.8L624.4 396.3L624.5 395.2ZM632.8 395.8L631.4 396.3L631.4 395.2ZM639.7 395.8L638.2 396.3L638.3 395.2ZM646.6 395.8L645.1 396.3L645.2 395.1ZM653.5 395.7L652.1 396.2L652.1 395.1ZM660.5 395.7L659 396.2L659 395.1ZM667.4 395.7L665.9 396.2L666 395.1ZM674.3 395.7L672.8 396.2L672.9 395.1ZM681.2 395.7L679.7 396.2L679.8 395.1ZM688.1 395.7L686.6 396.2L686.7 395.1ZM376.2 387.8L374.7 388.2L374.8 387.1ZM382.8 388.1L381.3 388.4L381.5 387.3ZM389.2 388.8L387.7 388.7L388.1 387.7ZM395.6 389.6L394.1 389.2L394.8 388.3ZM409.4 390.3L407.9 389.6L408.7 388.8ZM416.2 388.9L414.6 388.7L415.1 387.7ZM423 387.2L421.6 387.8L421.5 386.7ZM430 385.5L429.1 386.8L428.5 385.8ZM437 384.2L436.4 385.6L435.6 384.9ZM443.9 384.4L443.2 385.8L442.5 385ZM451.2 385.3L450.2 386.5L449.7 385.6ZM458.7 386.3L457.5 387.2L457.2 386.1ZM466.2 387L464.8 387.7L464.7 386.6ZM480.5 387.7L479 388.1L479.1 387ZM487.5 387.7L486 388.2L486.1 387.1ZM494.4 387.7L492.9 388.2L493 387.1ZM501.2 387.7L499.7 388.2L499.8 387.1ZM508.1 387.7L506.6 388.2L506.7 387.1ZM515 387.7L513.6 388.1L513.6 387ZM521.9 387.6L520.5 388.1L520.5 387ZM528.8 387.7L527.3 388.1L527.4 387ZM535.7 387.7L534.2 388.1L534.3 387ZM542.6 387.7L541.1 388.2L541.2 387.1ZM549.5 387.7L548 388.1L548.1 387ZM556.3 387.7L554.9 388.1L554.9 387ZM563.2 387.6L561.7 388.1L561.8 387ZM570.2 387.6L568.7 388.1L568.8 387ZM577.1 387.6L575.6 388.1L575.7 387ZM584 387.6L582.5 388.1L582.6 387ZM590.9 387.5L589.4 388L589.5 386.9ZM597.9 387.5L596.4 388L596.4 386.9ZM604.8 387.5L603.4 388L603.4 386.9ZM611.7 387.5L610.2 388L610.3 386.9ZM618.6 387.5L617.1 388L617.1 386.9ZM625.5 387.6L624 388.1L624.1 387ZM632.4 387.6L631 388.1L631 387ZM639.3 387.6L637.8 388.1L637.9 387ZM646.1 387.5L644.7 388L644.7 386.9ZM653.1 387.5L651.6 388L651.6 386.9ZM660 387.5L658.6 388L658.6 386.9ZM667 387.5L665.5 388L665.5 386.9ZM673.9 387.5L672.4 388L672.5 386.9ZM680.8 387.5L679.3 388L679.4 386.9ZM687.7 387.5L686.2 388L686.3 386.9ZM376.1 379.7L374.6 380L374.7 379ZM388.6 380.9L387.1 380.7L387.6 379.7ZM413.8 381.1L412.9 379.9L414 379.6ZM420.7 378.9L420 379.7L419.7 379ZM427.6 376.9L427.8 378.4L426.7 378.2ZM434.7 375.5L435 377L433.9 376.8ZM442.1 375.5L442.2 377.1L441.2 376.7ZM449.8 376.6L449.4 378.1L448.5 377.4ZM457.6 377.8L456.5 378.9L456 377.9ZM465.1 378.7L463.8 379.5L463.6 378.4ZM479.3 379.7L477.8 380L478 378.9ZM486.3 379.9L484.7 380.2L484.9 379.1ZM493.4 379.9L491.8 380.2L492 379.1ZM500.4 379.9L498.9 380.2L499 379.1ZM507.3 379.8L505.8 380.2L505.9 379.1ZM514.2 379.8L512.7 380.1L512.8 379.1ZM521.1 379.8L519.6 380.1L519.7 379ZM528 379.8L526.4 380.1L526.6 379ZM534.8 379.7L533.3 380.1L533.5 379ZM541.7 379.7L540.2 380L540.3 378.9ZM548.6 379.6L547.1 380L547.2 378.9ZM555.5 379.5L554 379.9L554.1 378.8ZM562.4 379.5L560.9 379.9L561 378.8ZM569.2 379.4L567.7 379.9L567.8 378.8ZM576.1 379.4L574.6 379.9L574.7 378.8ZM583 379.4L581.5 379.9L581.6 378.8ZM589.9 379.4L588.5 379.9L588.5 378.8ZM596.9 379.4L595.4 379.9L595.5 378.8ZM603.8 379.4L602.4 379.9L602.4 378.8ZM610.8 379.4L609.3 379.9L609.4 378.8ZM617.7 379.4L616.2 379.9L616.3 378.8ZM624.6 379.4L623.1 379.9L623.2 378.8ZM631.5 379.4L630 379.8L630.1 378.7ZM638.4 379.3L637 379.8L637 378.7ZM645.4 379.3L643.9 379.8L643.9 378.7ZM652.3 379.3L650.8 379.8L650.9 378.7ZM659.2 379.2L657.7 379.8L657.7 378.7ZM666.1 379.2L664.6 379.8L664.6 378.7ZM673 379.2L671.5 379.8L671.5 378.7ZM679.9 379.2L678.4 379.8L678.4 378.7ZM686.8 379.2L685.3 379.8L685.3 378.7ZM376.1 371.5L374.6 371.9L374.7 370.8ZM411.3 372.7L412.1 371.4L412.8 372.2ZM418.1 370.9L419.6 370.5L419.5 371.6ZM425.2 369.1L426.6 369.7L425.8 370.5ZM432.5 367.7L433.6 368.8L432.6 369.3ZM440.3 367.9L441.1 369.2L440.1 369.4ZM448.2 368.9L448.5 370.4L447.4 370.3ZM455.8 370L455.2 371.4L454.4 370.6ZM470.4 371.5L468.8 371.7L469.1 370.6ZM477.5 372L475.9 371.9L476.4 370.9ZM484.7 372.2L483.2 372.1L483.7 371.1ZM492.1 372.2L490.6 372.2L491 371.2ZM499.4 372.1L497.8 372.2L498.2 371.2ZM506.4 372.1L504.9 372.2L505.2 371.1ZM513.3 372.1L511.8 372.2L512.1 371.1ZM520.2 372L518.7 372.1L519 371.1ZM527.1 371.9L525.6 372.1L525.9 371ZM533.9 371.9L532.4 372.1L532.7 371ZM540.6 371.8L539.1 372L539.4 370.9ZM547.4 371.6L545.9 371.9L546.1 370.8ZM554.3 371.5L552.8 371.8L553 370.7ZM561.1 371.4L559.6 371.8L559.7 370.7ZM567.5 371.4L566 371.7L566.1 370.6ZM574.2 371.3L572.7 371.7L572.8 370.6ZM581.2 371.3L579.7 371.7L579.9 370.6ZM588.2 371.3L586.7 371.7L586.8 370.6ZM594.9 371.2L593.4 371.7L593.5 370.6ZM601.8 371.2L600.3 371.7L600.4 370.6ZM608.9 371.2L607.4 371.7L607.5 370.6ZM615.9 371.2L614.4 371.7L614.5 370.6ZM622.6 371.2L621.1 371.7L621.2 370.6ZM629.5 371.2L628 371.7L628.1 370.6ZM636.7 371.2L635.2 371.7L635.3 370.6ZM643.9 371.2L642.4 371.7L642.5 370.6ZM650.8 371.1L649.4 371.7L649.4 370.6ZM657.4 371.1L656 371.6L656 370.5ZM664.2 371.1L662.7 371.6L662.7 370.5ZM671 371.1L669.6 371.6L669.6 370.5ZM677.9 371.1L676.5 371.6L676.5 370.5ZM684.8 371.1L683.3 371.6L683.4 370.5ZM376.1 363.4L374.6 363.8L374.7 362.7ZM410.7 364.3L411.7 363.2L412.2 364.2ZM417.2 362.9L418.7 362.4L418.7 363.5ZM423.9 361.6L425.4 361.7L425 362.7ZM431.2 360.9L432.7 361.4L432 362.2ZM438.9 361.2L440.3 361.8L439.6 362.6ZM446.3 361.9L447.8 362.4L447.2 363.2ZM460.8 363.4L461.7 362.5L462 363.3ZM468.1 363.9L468.3 362.6L469 363ZM475.7 364.2L475 363.1L475.9 362.9ZM483.4 364.4L482.1 363.6L483 362.9ZM491 364.4L489.6 364L490.3 363.1ZM498.4 364.4L496.9 364.1L497.5 363.2ZM505.6 364.3L504 364.1L504.5 363.1ZM512.5 364.2L511 364.1L511.4 363.1ZM519.4 364.2L517.9 364.1L518.3 363.1ZM526.3 364.1L524.8 364L525.2 363ZM533 364L531.5 363.9L531.9 362.9ZM539.5 363.9L538 363.8L538.4 362.8ZM546.1 363.7L544.6 363.6L545 362.6ZM552.8 363.6L551.3 363.6L551.7 362.6ZM559.2 363.5L558 363.3L558.4 362.5ZM565.4 363.3L564.8 362.6L565.4 362.4ZM571.9 363.3L572.3 362.4L572.8 362.9ZM578.9 363.2L579.2 362.4L579.7 362.8ZM585.8 363.2L586.3 362.4L586.7 362.9ZM592.5 363.1L593.3 362.6L593.5 363.3ZM599.3 363.1L600.2 362.6L600.3 363.3ZM606.4 363.1L607.2 362.6L607.3 363.3ZM613.4 363.1L614.1 362.6L614.3 363.2ZM620.1 363.1L621 362.6L621.1 363.3ZM627 363.1L627.9 362.6L627.9 363.4ZM634.1 363.1L634.9 362.6L635 363.3ZM654.8 363L655.7 362.7L655.7 363.3ZM661.6 363L662.5 362.7L662.5 363.4ZM668.5 363L669.4 362.7L669.4 363.4ZM675.3 363L676.3 362.7L676.3 363.4ZM682.1 363L683.1 362.6L683.1 363.4ZM406.7 356.2L405.9 355.1L406.8 354.8ZM411.8 355.9L412.8 354.7L413.3 355.7ZM416.8 355.3L418.2 354.7L418.3 355.8ZM423.6 354.7L425.1 354.3L425 355.4ZM430.8 354.5L432.4 354.2L432.2 355.3ZM438.1 354.6L439.7 354.3L439.5 355.4ZM445.3 355L446.8 354.5L446.8 355.6ZM459.4 355.8L460.6 354.8L461 355.9ZM466.6 356L467.7 354.9L468.2 355.9ZM474.1 356.1L474.9 354.8L475.6 355.7ZM481.7 356.2L481.9 354.8L482.8 355.3ZM489.3 356.2L488.8 355L489.8 355ZM496.7 356.2L495.7 355.2L496.6 354.8ZM503.8 356.1L502.7 355.3L503.5 354.8ZM510.7 356L509.6 355.3L510.4 354.7ZM517.7 356L516.5 355.3L517.2 354.7ZM524.8 355.9L523.5 355.4L524.1 354.7ZM531.6 355.9L530.3 355.3L531 354.6ZM538.2 355.7L537.1 355.1L537.8 354.6ZM544.9 355.7L544 355L544.7 354.6ZM551.6 355.6L550.9 354.8L551.7 354.5ZM558 355.4L558.4 354.5L558.9 355ZM564.3 355.3L565.3 354.6L565.6 355.5ZM570.9 355.2L572.2 354.6L572.3 355.5ZM577.8 355.2L579 354.6L579.2 355.6ZM584.7 355.2L585.9 354.6L586 355.6ZM591.5 355.1L592.8 354.5L592.9 355.6ZM598.3 355.1L599.7 354.5L599.7 355.6ZM605.3 355.1L606.7 354.5L606.7 355.6ZM612.2 355.1L613.6 354.5L613.6 355.6ZM619.1 355.1L620.5 354.5L620.5 355.6ZM626 355.1L627.4 354.5L627.4 355.6ZM632.9 355.1L634.3 354.5L634.3 355.6ZM639.8 355.1L641.2 354.5L641.2 355.6ZM646.7 355.1L648.1 354.5L648.1 355.6ZM653.5 355.1L655 354.5L655 355.6ZM660.4 355.1L661.8 354.5L661.8 355.6ZM667.3 355.1L668.7 354.5L668.7 355.6ZM674.1 355.1L675.5 354.5L675.5 355.6ZM680.9 355.1L682.4 354.5L682.4 355.6ZM404.7 348.2L405.6 347L406.2 347.9ZM416.9 347.9L418.2 347.1L418.4 348.1ZM423.8 347.7L425.2 346.9L425.3 348ZM430.9 347.6L432.2 346.9L432.4 348ZM437.9 347.7L439.3 346.9L439.4 348ZM444.9 347.8L446.2 347L446.5 348.1ZM451.9 348L453.1 347.1L453.4 348.1ZM458.8 348.1L460 347.1L460.4 348.2ZM465.8 348.1L467 347.1L467.4 348.1ZM472.8 348L474.1 347L474.4 348.1ZM479.9 347.9L481.1 347L481.5 348ZM487 347.9L488.3 346.9L488.6 348ZM494.2 347.8L495.5 346.8L495.8 347.9ZM501.3 347.7L502.6 346.8L502.9 347.8ZM508.3 347.6L509.5 346.7L509.8 347.8ZM515.3 347.6L516.6 346.7L516.9 347.8ZM522.5 347.6L523.6 346.7L524 347.7ZM529.6 347.6L530.6 346.7L531 347.6ZM536.6 347.6L537.6 346.7L537.9 347.6ZM543.6 347.5L544.5 346.7L544.9 347.5ZM550.5 347.5L551.5 346.7L551.8 347.6ZM557.2 347.4L558.4 346.7L558.5 347.6ZM563.9 347.3L565.2 346.7L565.3 347.7ZM570.7 347.2L572.1 346.7L572.1 347.7ZM577.6 347.2L579 346.7L579 347.7ZM584.5 347.2L585.9 346.6L585.9 347.7ZM591.4 347.2L592.8 346.6L592.8 347.7ZM598.3 347.2L599.7 346.6L599.7 347.7ZM605.2 347.2L606.6 346.6L606.6 347.7ZM612.1 347.2L613.5 346.6L613.5 347.7ZM619 347.2L620.4 346.6L620.4 347.7ZM625.9 347.2L627.3 346.6L627.3 347.7ZM632.7 347.2L634.2 346.6L634.2 347.7ZM639.6 347.2L641 346.6L641 347.7ZM646.4 347.2L647.9 346.6L647.9 347.7ZM653.3 347.2L654.8 346.6L654.8 347.7ZM660.2 347.2L661.6 346.6L661.6 347.7ZM667 347.2L668.5 346.6L668.5 347.7ZM673.9 347.2L675.3 346.6L675.3 347.7ZM680.7 347.2L682.2 346.6L682.2 347.7ZM403.3 340.6L404.5 339.6L404.9 340.6ZM410.2 340.5L411.4 339.5L411.7 340.5ZM417.1 340.5L418.3 339.5L418.6 340.5ZM424 340.4L425.2 339.4L425.6 340.5ZM431 340.4L432.2 339.4L432.5 340.4ZM437.9 340.4L439.1 339.4L439.5 340.4ZM444.8 340.4L446 339.4L446.4 340.5ZM451.7 340.4L452.9 339.4L453.3 340.5ZM458.6 340.4L459.8 339.4L460.2 340.4ZM465.5 340.3L466.7 339.3L467.1 340.4ZM472.4 340.1L473.7 339.3L473.9 340.3ZM479.3 340L480.6 339.2L480.9 340.3ZM486.3 339.9L487.6 339.1L487.9 340.2ZM493.4 339.9L494.7 339.1L494.9 340.2ZM500.5 339.8L501.8 339L502 340.1ZM507.5 339.7L508.9 339L509 340.1ZM514.6 339.7L516 338.9L516.1 340ZM521.8 339.7L523.1 338.9L523.3 340ZM528.9 339.6L530.3 338.9L530.4 340ZM536 339.6L537.3 338.9L537.5 340ZM543 339.6L544.4 338.9L544.5 339.9ZM550 339.5L551.3 338.9L551.4 339.9ZM557 339.4L558.3 338.9L558.4 339.9ZM563.9 339.4L565.2 338.9L565.2 339.9ZM570.8 339.4L572.1 338.9L572.2 339.9ZM577.7 339.4L579.1 338.9L579.1 339.9ZM584.6 339.4L586 338.9L586 339.9ZM591.5 339.4L592.9 338.9L592.9 339.9ZM598.4 339.4L599.8 338.9L599.8 339.9ZM605.4 339.4L606.7 338.9L606.7 339.9ZM612.3 339.4L613.6 338.9L613.6 339.9ZM619.1 339.4L620.5 338.9L620.5 339.9ZM626 339.4L627.4 338.9L627.4 339.9ZM632.9 339.4L634.3 338.8L634.3 339.9ZM639.7 339.4L641.1 338.8L641.1 339.9ZM646.5 339.4L648 338.8L648 339.9ZM653.4 339.4L654.8 338.8L654.8 339.9ZM660.2 339.4L661.7 338.8L661.7 339.9ZM667.1 339.4L668.5 338.8L668.5 339.9ZM673.9 339.4L675.4 338.8L675.3 339.9ZM680.8 339.4L682.2 338.8L682.2 339.9ZM437.9 332.9L439.1 331.8L439.5 332.8ZM444.8 332.9L446 331.8L446.4 332.8ZM451.7 332.8L452.9 331.8L453.3 332.8ZM458.5 332.7L459.7 331.7L460.1 332.8ZM465.4 332.6L466.6 331.7L466.9 332.7ZM472.2 332.5L473.5 331.6L473.8 332.7ZM479.1 332.4L480.4 331.5L480.7 332.6ZM486.1 332.3L487.4 331.5L487.7 332.6ZM493.2 332.2L494.5 331.4L494.7 332.5ZM500.2 332.1L501.6 331.4L501.7 332.5ZM507.3 332.1L508.7 331.3L508.8 332.4ZM514.5 332L515.9 331.3L516 332.4ZM521.7 332L523 331.2L523.2 332.3ZM528.8 331.9L530.1 331.2L530.3 332.3ZM535.9 331.9L537.2 331.2L537.4 332.3ZM543 331.8L544.4 331.1L544.5 332.2ZM550 331.8L551.4 331.2L551.4 332.2ZM557 331.7L558.4 331.2L558.4 332.2ZM564 331.7L565.3 331.2L565.3 332.2ZM571 331.7L572.3 331.2L572.3 332.2ZM577.9 331.7L579.2 331.2L579.2 332.2ZM584.8 331.7L586.1 331.2L586.1 332.2ZM591.7 331.7L593 331.2L593 332.2ZM598.6 331.7L599.9 331.2L599.9 332.2ZM605.6 331.7L606.8 331.2L606.8 332.2ZM612.5 331.7L613.7 331.2L613.7 332.2ZM619.3 331.7L620.6 331.2L620.6 332.2ZM626.1 331.7L627.5 331.2L627.5 332.2ZM633 331.7L634.4 331.2L634.3 332.2ZM639.9 331.7L641.2 331.2L641.2 332.2ZM646.7 331.7L648.1 331.1L648.1 332.2ZM653.5 331.7L655 331.1L654.9 332.2ZM660.4 331.7L661.8 331.1L661.8 332.2ZM667.2 331.7L668.7 331.1L668.7 332.2ZM674.1 331.7L675.5 331.1L675.5 332.2ZM680.9 331.7L682.4 331.1L682.4 332.2ZM444.8 325.3L446 324.2L446.4 325.3ZM458.5 325.1L459.7 324.1L460.1 325.2ZM465.3 325L466.6 324L466.9 325.1ZM472.2 324.9L473.5 324L473.7 325.1ZM479.1 324.8L480.4 324L480.6 325ZM486 324.7L487.3 323.9L487.6 325ZM493 324.7L494.4 323.9L494.6 325ZM500.1 324.6L501.4 323.8L501.6 324.9ZM507.1 324.6L508.5 323.8L508.7 324.9ZM514.4 324.5L515.7 323.7L515.9 324.8ZM521.6 324.4L523 323.7L523.1 324.8ZM528.7 324.4L530.1 323.6L530.2 324.7ZM535.8 324.3L537.2 323.6L537.3 324.7ZM543 324.2L544.4 323.6L544.5 324.6ZM550.1 324.2L551.4 323.6L551.5 324.6ZM557.1 324.1L558.4 323.6L558.4 324.6ZM564.1 324.1L565.3 323.6L565.4 324.6ZM571.1 324.1L572.3 323.6L572.3 324.5ZM578.1 324.1L579.3 323.6L579.3 324.5ZM585 324.1L586.2 323.6L586.2 324.5ZM591.9 324.1L593.1 323.6L593.1 324.5ZM598.8 324.1L600 323.6L600 324.5ZM605.7 324.1L606.9 323.6L606.9 324.5ZM612.6 324.1L613.8 323.6L613.8 324.5ZM619.4 324.1L620.7 323.6L620.7 324.6ZM626.3 324L627.6 323.6L627.5 324.6ZM633.2 324L634.5 323.6L634.4 324.6ZM640 324L641.3 323.6L641.3 324.6ZM646.9 324L648.2 323.6L648.1 324.6ZM653.7 324L655.1 323.6L655 324.6ZM660.5 324L662 323.6L661.9 324.6ZM667.4 324L668.9 323.6L668.8 324.6ZM674.3 324L675.7 323.5L675.7 324.6ZM681.2 324L682.6 323.5L682.6 324.6ZM451.7 317.6L452.9 316.6L453.2 317.7ZM458.5 317.5L459.8 316.5L460.1 317.6ZM465.4 317.4L466.7 316.5L467 317.6ZM472.3 317.3L473.6 316.5L473.8 317.5ZM479.1 317.3L480.4 316.5L480.7 317.5ZM486 317.3L487.3 316.5L487.6 317.5ZM493 317.3L494.3 316.4L494.5 317.5ZM500 317.3L501.3 316.4L501.5 317.5ZM507 317.2L508.3 316.4L508.5 317.5ZM514.2 317.1L515.6 316.3L515.8 317.4ZM521.5 317.1L522.8 316.2L523 317.3ZM528.6 317L529.9 316.2L530.1 317.3ZM535.7 316.9L537.1 316.1L537.3 317.2ZM542.9 316.9L544.3 316.1L544.5 317.2ZM550.1 316.8L551.3 316.1L551.5 317.1ZM557.1 316.8L558.3 316.1L558.4 317.1ZM564.1 316.7L565.3 316.1L565.4 317.1ZM571.2 316.6L572.3 316.1L572.4 317ZM578.2 316.6L579.3 316.2L579.3 317ZM585.1 316.6L586.2 316.2L586.2 317ZM592 316.6L593.1 316.2L593.1 317ZM598.9 316.6L600.1 316.2L600 317ZM605.8 316.6L607 316.2L606.9 317ZM612.7 316.6L613.9 316.2L613.8 317.1ZM619.6 316.5L620.8 316.2L620.7 317.1ZM626.4 316.5L627.7 316.2L627.6 317.1ZM633.3 316.4L634.6 316.2L634.4 317.1ZM640.2 316.4L641.5 316.2L641.3 317.1ZM647 316.4L648.4 316.2L648.2 317.1ZM653.8 316.3L655.2 316.1L655 317.1ZM660.7 316.3L662.1 316.1L661.9 317.1ZM667.6 316.3L669 316.1L668.8 317.1ZM674.5 316.3L675.9 316.1L675.7 317.1ZM681.4 316.3L682.8 316.1L682.6 317.1ZM451.6 310.3L452.7 309.3L453.1 310.4ZM458.6 310.2L459.8 309.2L460.1 310.3ZM465.6 310.1L466.9 309.1L467.2 310.2ZM472.6 310L473.9 309.1L474.2 310.2ZM479.5 310L480.7 309.1L481 310.2ZM486.3 310L487.6 309.1L487.9 310.2ZM493.2 310L494.5 309.1L494.7 310.2ZM500.1 310L501.4 309.1L501.7 310.2ZM507.2 310L508.4 309.1L508.7 310.1ZM514.4 309.9L515.7 309L515.9 310.1ZM521.6 309.8L522.9 308.9L523.2 310ZM528.8 309.8L530 308.9L530.3 309.9ZM535.9 309.7L537.2 308.8L537.5 309.8ZM543.2 309.6L544.3 308.7L544.6 309.8ZM550.3 309.5L551.4 308.7L551.6 309.7ZM557.3 309.5L558.4 308.7L558.6 309.6ZM564.4 309.4L565.4 308.8L565.6 309.6ZM571.5 309.3L572.5 308.8L572.6 309.6ZM578.4 309.2L579.5 308.8L579.5 309.6ZM585.4 309.2L586.4 308.9L586.4 309.6ZM592.3 309.2L593.3 308.9L593.3 309.7ZM599.2 309.2L600.2 308.9L600.1 309.7ZM606.1 309.1L607.1 308.9L607 309.7ZM612.9 309.1L614.1 308.9L613.9 309.7ZM619.8 309L621 308.9L620.7 309.7ZM626.7 309L627.9 309L627.6 309.7ZM633.6 308.9L634.8 309L634.4 309.7ZM640.5 308.9L641.7 308.9L641.3 309.7ZM647.3 308.8L648.5 308.9L648.2 309.7ZM654.1 308.8L655.4 308.9L655 309.7ZM661 308.7L662.3 308.9L661.9 309.7ZM667.8 308.7L669.2 308.8L668.8 309.7ZM674.7 308.7L676.1 308.8L675.7 309.7ZM681.6 308.7L683 308.8L682.6 309.7ZM458.8 303.3L459.9 302.2L460.3 303.2ZM466.1 303.2L467.2 302L467.7 303ZM473.4 303.1L474.4 301.9L474.9 302.9ZM480.2 303L481.3 301.9L481.8 302.9ZM487 303L488.1 301.9L488.6 302.9ZM493.9 303L495 301.9L495.4 302.9ZM500.8 303L501.9 301.9L502.4 302.9ZM507.8 303L508.9 301.9L509.4 302.9ZM515 303L516.1 301.8L516.6 302.8ZM522.3 302.9L523.2 301.7L523.8 302.6ZM529.4 302.8L530.3 301.6L530.9 302.5ZM536.6 302.7L537.4 301.6L538 302.3ZM543.9 302.6L544.4 301.5L545 302.1ZM551.1 302.5L551.3 301.4L552 301.9ZM558.2 302.4L558.2 301.4L558.9 301.7ZM565.3 302.3L565 301.4L565.6 301.4ZM572.3 302.1L571.5 301.8L571.9 301.3ZM579.3 302L578.5 302.3L578.5 301.6ZM586.2 301.9L585.6 302.5L585.3 302ZM593.1 301.8L592.7 302.6L592.3 302.2ZM599.9 301.7L599.9 302.6L599.3 302.4ZM606.8 301.6L607 302.6L606.3 302.5ZM613.6 301.6L614 302.5L613.3 302.5ZM620.4 301.5L621 302.4L620.3 302.5ZM627.3 301.4L627.9 302.3L627.2 302.5ZM634.1 301.4L634.9 302.2L634.1 302.5ZM641 301.4L641.8 302.1L641 302.5ZM647.8 301.3L648.7 302L648 302.5ZM654.6 301.3L655.6 302L654.9 302.4ZM661.4 301.2L662.5 301.9L661.8 302.4ZM668.3 301.2L669.4 301.9L668.7 302.4ZM675.2 301.3L676.3 301.9L675.6 302.4ZM682.1 301.3L683.2 301.8L682.5 302.4ZM459.2 296.6L460.1 295.3L460.7 296.2ZM467 296.4L467.6 295L468.4 295.8ZM474.4 296.4L474.8 294.9L475.7 295.5ZM481.2 296.5L481.6 295L482.5 295.6ZM494.6 296.5L495.2 295.1L496 295.9ZM501.4 296.6L502 295.2L502.8 296ZM508.4 296.6L508.9 295.2L509.7 295.9ZM515.5 296.6L516 295.1L516.9 295.8ZM522.9 296.4L523.1 294.9L524.1 295.5ZM530.2 296.3L530.2 294.8L531.2 295.1ZM537.6 296.2L537.1 294.8L538.1 294.9ZM545 296L544.1 295L545 294.6ZM552.3 295.9L551.1 295.2L551.9 294.5ZM559.6 295.7L558.1 295.3L558.7 294.5ZM566.8 295.5L565.2 295.4L565.6 294.4ZM573.9 295.2L572.4 295.5L572.6 294.4ZM580.9 294.8L579.4 295.4L579.4 294.3ZM587.7 294.5L586.4 295.3L586.2 294.3ZM594.5 294.3L593.3 295.3L593 294.3ZM601.2 294.1L600.2 295.3L599.7 294.3ZM607.9 294L607.1 295.2L606.5 294.4ZM614.6 293.9L614 295.2L613.3 294.5ZM621.3 293.8L620.9 295.2L620.1 294.6ZM628.1 293.8L627.8 295.1L627 294.6ZM634.9 293.8L634.8 295.1L633.9 294.7ZM641.6 293.8L641.7 295.1L640.8 294.8ZM648.4 293.8L648.6 295.1L647.7 294.9ZM655.2 293.8L655.5 295.1L654.6 294.9ZM662.1 293.8L662.4 295L661.5 295ZM668.9 293.8L669.3 295L668.4 295ZM675.8 293.8L676.3 295L675.3 295.1ZM682.6 293.9L683.2 295L682.3 295.1ZM451.9 290.1L452.7 288.7L453.4 289.6ZM459.6 289.8L460.3 288.4L461 289.2ZM467.5 289.6L467.8 288.1L468.7 288.7ZM474.9 289.6L474.8 288.1L475.9 288.4ZM481.5 289.9L481.6 288.3L482.6 288.8ZM501 290.5L501.5 289L502.3 289.7ZM507.9 290.5L508.3 289.1L509.2 289.7ZM515.1 290.5L515.5 288.9L516.4 289.6ZM522.6 290.3L522.8 288.7L523.8 289.2ZM530.3 290.1L530 288.6L531.1 288.8ZM537.9 289.9L537.2 288.6L538.3 288.4ZM545.6 289.8L544.4 288.8L545.4 288.2ZM553.2 289.6L551.8 289L552.6 288.2ZM560.7 289.4L559.2 289.1L559.8 288.1ZM568 289L566.5 288.9L566.9 287.9ZM575 288.4L573.4 288.7L573.6 287.6ZM581.9 287.8L580.4 288.4L580.4 287.3ZM588.8 287.3L587.5 288.1L587.3 287ZM595.8 286.7L594.6 287.8L594.2 286.8ZM602.3 286.4L601.3 287.6L600.8 286.7ZM608.8 286.2L608 287.6L607.3 286.7ZM615.3 286.2L614.7 287.6L613.9 286.8ZM621.9 286.2L621.4 287.6L620.6 286.9ZM628.6 286.2L628.2 287.7L627.3 287.1ZM635.3 286.3L635 287.8L634.1 287.2ZM642 286.3L641.9 287.9L640.9 287.4ZM648.8 286.4L648.7 287.9L647.7 287.5ZM655.6 286.4L655.6 287.9L654.6 287.6ZM662.4 286.5L662.5 288L661.5 287.6ZM669.2 286.5L669.4 288L668.4 287.7ZM676.1 286.6L676.3 288L675.3 287.8ZM683 286.6L683.2 288L682.2 287.8ZM445.5 283.5L446.1 282.1L446.9 282.8ZM452.3 283.5L452.9 282.1L453.7 282.8ZM459.8 283.1L460.3 281.7L461.2 282.4ZM467.6 282.9L467.8 281.3L468.7 281.8ZM481.2 283.3L481.4 281.8L482.3 282.3ZM487.4 283.7L487.8 282.2L488.7 282.9ZM521.8 284.1L522.1 282.6L523.1 283.2ZM529.7 283.8L529.7 282.3L530.7 282.7ZM537.6 283.7L537.1 282.2L538.2 282.2ZM545.5 283.6L544.5 282.4L545.5 282ZM553.4 283.5L552.1 282.7L552.9 282ZM560.8 283L559.3 282.5L560 281.7ZM567.8 282.3L566.2 282.1L566.7 281.1ZM574.7 281.6L573.1 281.8L573.4 280.7ZM581.6 281L580.1 281.5L580.1 280.4ZM588.5 280.3L587.3 281.2L587 280.2ZM595.5 279.7L594.5 280.8L593.9 279.8ZM602.4 279L601.6 280.3L601 279.4ZM609 278.6L608.4 280L607.6 279.3ZM615.4 278.7L615 280.2L614.1 279.5ZM622 278.8L621.6 280.3L620.7 279.7ZM628.6 278.9L628.4 280.4L627.4 279.9ZM635.3 279L635.2 280.6L634.2 280.1ZM642 279.1L642 280.7L641 280.3ZM648.8 279.2L648.8 280.8L647.8 280.4ZM655.6 279.3L655.7 280.9L654.6 280.6ZM662.4 279.4L662.6 281L661.5 280.7ZM669.3 279.5L669.4 281L668.4 280.8ZM676.1 279.6L676.3 281.1L675.3 280.8ZM683 279.6L683.2 281.1L682.2 280.9ZM452.6 276.9L453.1 275.5L453.9 276.2ZM460 276.5L460.4 275.1L461.3 275.7ZM467.6 276.2L467.7 274.7L468.7 275.2ZM480.8 276.8L481.1 275.3L482.1 275.8ZM486.9 277.3L487.3 275.8L488.2 276.5ZM492.9 277.8L493.5 276.3L494.3 277.1ZM499.2 278.1L499.9 276.7L500.6 277.5ZM521.1 277.7L521.6 276.2L522.4 276.9ZM529.1 277.5L529.3 275.9L530.2 276.4ZM537.1 277.4L536.8 275.8L537.9 276ZM545.1 277.4L544.3 276.1L545.4 275.9ZM552.9 277.3L551.7 276.2L552.7 275.8ZM560.1 276.6L558.8 275.7L559.6 275.1ZM567.1 275.8L565.6 275.3L566.3 274.4ZM574 275L572.5 275L572.9 274ZM580.9 274.2L579.5 274.8L579.4 273.7ZM587.9 273.5L586.7 274.6L586.3 273.6ZM594.8 272.7L594 274.1L593.3 273.2ZM601.7 272L601.2 273.4L600.4 272.7ZM608.6 271.3L608.3 272.8L607.4 272.2ZM615.1 271.4L614.9 272.9L614 272.4ZM621.6 271.6L621.6 273.2L620.6 272.7ZM628.3 271.8L628.3 273.4L627.3 273ZM635 272L635.1 273.6L634.1 273.3ZM641.7 272.2L641.9 273.7L640.9 273.5ZM648.5 272.3L648.8 273.9L647.7 273.7ZM655.3 272.5L655.7 274L654.6 273.8ZM662.2 272.6L662.6 274.1L661.5 273.9ZM669 272.7L669.5 274.1L668.4 274ZM675.9 272.7L676.3 274.2L675.3 274.1ZM682.8 272.8L683.2 274.3L682.2 274.2ZM446.1 270.6L446.4 269L447.3 269.6ZM452.8 270.5L453.2 269L454.1 269.6ZM460.1 270.1L460.5 268.5L461.4 269.1ZM480.7 270.3L481 268.7L481.9 269.4ZM486.7 270.8L487.2 269.3L488 270ZM492.7 271.3L493.3 269.9L494.1 270.6ZM499 271.6L499.7 270.2L500.4 271ZM505.8 271.7L506.5 270.3L507.2 271.1ZM520.8 271.3L521.3 269.8L522.2 270.5ZM528.8 271L529 269.5L530 270.1ZM536.7 271L536.5 269.5L537.6 269.8ZM544.4 271.2L543.9 269.8L545 269.8ZM551.9 271L551.2 269.6L552.3 269.4ZM559.1 270.2L558.2 269L559.2 268.7ZM566.2 269.4L565 268.4L566 267.9ZM573.2 268.6L571.8 268.1L572.5 267.3ZM580.1 267.7L578.9 268.1L578.9 267.3ZM587 266.8L586.4 268.1L585.7 267.3ZM593.9 265.9L593.7 267.4L592.7 266.9ZM600.8 265.1L600.8 266.7L599.8 266.3ZM607.6 264.4L607.8 266L606.7 265.7ZM614.4 264.3L614.6 265.9L613.5 265.6ZM621.1 264.7L621.3 266.3L620.3 266.1ZM627.8 265.1L628.1 266.6L627 266.4ZM634.5 265.3L635 266.8L633.9 266.7ZM641.3 265.5L641.8 266.9L640.7 266.9ZM648 265.6L648.7 267L647.6 267.1ZM654.8 265.7L655.5 267.1L654.5 267.2ZM661.6 265.8L662.4 267.2L661.4 267.4ZM668.5 265.9L669.4 267.2L668.3 267.5ZM675.5 266L676.3 267.4L675.2 267.5ZM682.5 266.1L683.2 267.5L682.1 267.6ZM453 264.1L453.3 262.6L454.2 263.2ZM480.7 263.7L481.1 262.2L482 262.8ZM486.9 264.2L487.3 262.8L488.2 263.5ZM493 264.7L493.6 263.3L494.4 264ZM499.4 265L500 263.6L500.8 264.4ZM506.1 265.1L506.8 263.7L507.6 264.4ZM513.4 264.9L514 263.5L514.8 264.3ZM528.7 264.6L529 263L529.9 263.6ZM536.3 264.6L536.3 263L537.4 263.5ZM543.7 264.9L543.5 263.4L544.6 263.6ZM551 264.6L550.6 263.1L551.7 263.2ZM558 263.9L557.7 262.4L558.8 262.5ZM565 263.1L564.7 261.6L565.8 261.8ZM571.9 262.3L571.8 261L572.7 261.2ZM578.8 261.2L579.7 261.1L579.6 261.7ZM585.8 260.1L586.5 261.3L585.5 261.4ZM592.7 259.3L593.4 260.7L592.3 260.8ZM599.6 258.6L600.3 260L599.2 260.1ZM606.5 257.9L607.2 259.3L606.1 259.4ZM613.4 257.7L614.1 259.2L613 259.2ZM620.3 258.2L621 259.6L619.9 259.7ZM627.1 258.6L627.8 259.9L626.7 260.1ZM633.9 258.8L634.7 260.1L633.6 260.3ZM640.6 259L641.5 260.2L640.4 260.5ZM647.2 259L648.3 260.2L647.3 260.6ZM653.9 259.1L655.1 260.1L654.1 260.6ZM660.7 259.2L661.9 260.1L661 260.7ZM667.6 259.2L668.9 260.2L667.9 260.8ZM674.7 259.4L675.9 260.4L675 260.9ZM681.9 259.5L683 260.6L682 261.1ZM487.2 257.7L487.7 256.2L488.5 256.8ZM493.5 258.1L494.1 256.6L494.9 257.3ZM500 258.3L500.6 256.9L501.4 257.6ZM506.8 258.4L507.4 257L508.2 257.7ZM514 258.3L514.5 256.9L515.3 257.6ZM521.3 258.2L521.8 256.7L522.7 257.4ZM528.8 258.1L529.1 256.6L530 257.2ZM536 258.1L536.2 256.6L537.2 257.1ZM543.1 258.4L543.1 256.8L544.2 257.3ZM550 258.2L550.1 256.6L551.1 257.1ZM557 257.4L557.2 255.9L558.2 256.4ZM563.9 256.6L564.4 255.1L565.3 255.8ZM570.9 255.7L571.8 254.5L572.4 255.5ZM577.8 254.9L579.2 254.5L579.1 255.4ZM584.7 254.1L586.2 254.4L585.6 255.3ZM591.6 253.2L592.9 254L592 254.7ZM598.5 252.4L599.7 253.5L598.7 254ZM605.5 251.7L606.5 252.9L605.5 253.3ZM612.5 251.7L613.5 252.9L612.5 253.2ZM619.6 252L620.6 253.3L619.5 253.6ZM626.5 252.3L627.5 253.5L626.5 253.9ZM633.2 252.5L634.3 253.6L633.3 254.1ZM639.8 252.6L641 253.5L640.1 254.1ZM646.2 252.6L647.6 253.4L646.7 254.1ZM652.8 252.6L654.2 253.2L653.4 254ZM659.5 252.6L660.9 253.2L660.2 254ZM666.5 252.6L667.9 253.2L667.1 254ZM673.7 252.8L675.1 253.4L674.3 254.2ZM681.1 253L682.4 253.8L681.6 254.4ZM487.7 251.2L488 249.7L488.9 250.3ZM500.7 251.7L501.2 250.2L502.1 250.9ZM507.5 251.8L508 250.3L508.9 251ZM514.5 251.8L515 250.3L515.9 251ZM535.9 251.7L536.1 250.1L537.1 250.7ZM542.6 251.8L542.9 250.3L543.9 250.9ZM549.2 251.8L549.6 250.3L550.5 251ZM556.2 251L556.8 249.6L557.6 250.4ZM563.1 250.2L564 249L564.6 249.9ZM570.1 249.5L571.3 248.5L571.7 249.5ZM577.1 248.8L578.5 248.2L578.5 249.3ZM583.9 248L585.5 248L585.1 249ZM590.8 247.3L592.3 247.7L591.6 248.6ZM597.6 246.5L599 247.2L598.2 247.9ZM604.6 245.8L605.8 246.6L604.9 247.3ZM611.9 245.9L613.1 246.9L612.2 247.5ZM619.1 246.2L620.3 247.2L619.3 247.7ZM626 246.3L627.2 247.3L626.3 247.9ZM632.7 246.4L634 247.3L633.1 247.9ZM639.1 246.4L640.5 247.1L639.7 247.9ZM645.5 246.3L646.9 246.9L646.2 247.7ZM651.9 246.2L653.3 246.7L652.6 247.5ZM658.5 246.1L660 246.6L659.3 247.4ZM665.5 246.2L667 246.6L666.3 247.5ZM672.9 246.3L674.3 246.8L673.6 247.7ZM680.4 246.6L681.9 247.2L681.1 248ZM508.1 245.3L508.5 243.8L509.4 244.5ZM515 245.3L515.4 243.8L516.3 244.5ZM522 245.3L522.4 243.8L523.3 244.5ZM535.7 245.3L536.2 243.8L537.1 244.4ZM542.4 245.3L542.9 243.8L543.8 244.5ZM548.8 245.2L549.5 243.9L550.3 244.7ZM555.5 244.8L556.3 243.5L557 244.4ZM562.5 244.1L563.5 243L564 244ZM569.4 243.4L570.7 242.5L571 243.6ZM576.4 242.7L577.8 242.2L577.8 243.3ZM583.2 242.1L584.8 241.9L584.5 243ZM590.1 241.4L591.6 241.5L591.1 242.5ZM596.9 240.7L598.4 241.1L597.8 242ZM604.2 240.3L605.6 241L604.9 241.7ZM611.6 240.4L612.9 241.1L612.1 241.8ZM618.8 240.4L620.1 241.3L619.2 241.9ZM625.7 240.5L627 241.3L626.2 242ZM632.4 240.5L633.8 241.3L632.9 242ZM638.9 240.4L640.3 241.1L639.5 241.8ZM645.2 240.3L646.7 240.8L646 241.6ZM651.6 240.1L653.1 240.6L652.4 241.4ZM658.3 240L659.7 240.5L659.1 241.3ZM665.3 240.1L666.8 240.5L666.1 241.4ZM672.6 240.3L674.1 240.7L673.4 241.6ZM680.2 240.5L681.7 241.1L680.9 241.9ZM398 239.9L398.1 238.4L399.1 238.9ZM404.9 239.9L405 238.4L406 238.9ZM411.8 239.9L411.9 238.4L412.9 238.9ZM418.7 239.9L418.9 238.4L419.8 238.9ZM425.6 239.9L425.8 238.4L426.7 238.9ZM432.5 239.9L432.7 238.4L433.7 238.9ZM439.4 239.9L439.6 238.4L440.6 238.9ZM446.3 239.9L446.5 238.4L447.5 238.9ZM453.2 239.9L453.4 238.4L454.4 238.9ZM460.4 239.4L460.6 237.8L461.6 238.3ZM467.7 238.7L467.8 237.2L468.8 237.7ZM474.8 238.4L474.9 236.8L475.9 237.3ZM481.5 238.5L481.7 237L482.7 237.5ZM488.2 238.7L488.5 237.2L489.4 237.7ZM494.9 238.8L495.3 237.3L496.2 237.9ZM501.7 239L502 237.5L502.9 238.1ZM508.4 239L508.9 237.5L509.7 238.2ZM515.3 239.1L515.7 237.6L516.6 238.2ZM522.1 239.1L522.6 237.6L523.5 238.2ZM529 239L529.5 237.6L530.3 238.3ZM535.7 239L536.3 237.6L537.1 238.3ZM542.3 238.9L543 237.6L543.8 238.4ZM548.8 238.8L549.7 237.5L550.3 238.4ZM555.2 238.6L556.3 237.4L556.8 238.4ZM561.8 238.1L563 237.1L563.4 238.2ZM568.8 237.5L570.1 236.7L570.3 237.8ZM575.7 236.9L577.2 236.3L577.2 237.4ZM582.6 236.2L584.1 236L583.9 237.1ZM589.5 235.6L591 235.6L590.6 236.6ZM596.8 235.2L598.3 235.4L597.7 236.4ZM604.2 235L605.6 235.4L605 236.3ZM611.5 234.9L612.9 235.5L612.2 236.3ZM618.6 234.9L620 235.6L619.2 236.3ZM625.6 234.9L627 235.6L626.2 236.3ZM632.4 234.8L633.8 235.5L633 236.3ZM639 234.7L640.5 235.3L639.7 236.1ZM645.5 234.6L647 235.1L646.2 235.9ZM652 234.4L653.5 234.9L652.8 235.8ZM658.7 234.4L660.2 234.8L659.5 235.7ZM665.7 234.4L667.2 234.9L666.5 235.7ZM673 234.6L674.5 235.1L673.8 235.9ZM680.5 234.8L681.9 235.4L681.2 236.2Z" fill="#3c3c3c" stroke="#3c3c3c" stroke-width="0.25"/>
<path d="M448.7 318.3C453.2 318.2 453.6 318.3 462.3 317.9C471 317.5 465.3 317.8 474.7 317C484.1 316.2 476.3 317.2 490.6 315.6C504.9 314 502.5 314.5 517.5 312.1C532.5 309.7 525.8 310.8 535.5 308.5C545.2 306.2 536.4 308.3 546.7 305.2C557 302.1 553.3 302.9 566.5 299.3C579.7 295.7 573.2 297 586.4 294.3C599.6 291.6 593 293.3 606.2 291.3C619.4 289.3 612.9 290.4 626.1 288.4C639.3 286.4 632.7 287.7 645.9 285.4C659.1 283.1 654.9 283 665.7 281.4C676.5 279.8 672.2 281 678.2 280.5C684.2 280 681.9 280.2 683.7 280" stroke="#111" stroke-width="1.15" fill="none" stroke-linejoin="round"/><path d="M416.3 340.1C421.9 344.5 421.6 344.2 433 353.3C444.4 362.4 443.5 361.5 450.5 367.3C457.5 373.1 451.6 369.9 454 370.8C456.4 371.7 455.1 370.9 457.7 370C460.3 369.1 455.6 369.4 461.9 368.2C468.2 367 466.5 367.6 476.7 366.4C486.9 365.2 483.1 364 492.5 364.6C501.9 365.2 493.4 364.6 504.8 368.2C516.2 371.8 513.9 372.3 526.7 375.4C539.5 378.5 535.6 376.6 543.2 377.6C550.8 378.6 539.8 377.3 549.5 378.3C559.2 379.3 557.1 379.1 572.3 380.6C587.5 382.1 578.3 381.6 595 382.9C611.7 384.2 609.8 384 622.4 384.5C635 385 626.6 384.7 632.7 384.5C638.8 384.3 630.4 384.3 640.6 383.8C650.8 383.3 649 383.8 663.4 382.9C677.8 382 676.9 381.6 683.7 381" stroke="#111" stroke-width="1.15" fill="none" stroke-linejoin="round"/><path d="M518.4 337.2C518.4 331.5 517.2 333.9 522.9 329.1C528.6 324.3 527.6 326.1 535.5 322.8C543.4 319.5 539.6 321 546.7 319.1C553.8 317.2 550.1 318.3 556.7 317C563.3 315.7 559.9 316.4 566.5 315.1C573.1 313.8 570.4 313.5 576.4 313.2C582.4 312.9 579.1 312.6 584.4 314.2C589.7 315.8 587.7 314.1 592.3 318.1C596.9 322.1 594.7 320.1 598.3 326.1C601.9 332.1 600.9 330.6 603.2 336C605.5 341.4 606.5 337.5 605.3 342.3C604.1 347.1 606.8 346.1 599.6 350.3C592.4 354.5 596.5 353.4 583.6 354.9C570.7 356.4 576.1 355.7 560.9 354.9C545.7 354.1 549.5 354.1 538.1 352.6C526.7 351.1 531.8 352.4 526.7 350.3C521.6 348.2 525.7 350.6 522.9 346.2C520.1 341.8 518.4 342.9 518.4 337.2Z" stroke="#111" stroke-width="1.15" fill="none" stroke-linejoin="round"/><path d="M683.7 289.8C681.9 290 682.9 289.8 678.2 290.3C673.5 290.8 676.5 290 669.7 291.3C662.9 292.6 665.1 290.7 657.8 294.3C650.5 297.9 652.9 295.6 647.9 302.2C642.9 308.8 644.2 306.2 642.9 314.2C641.6 322.2 641.6 318.8 643.9 326.1C646.2 333.4 643.9 330.7 649.9 336C655.9 341.3 653.9 339.6 661.8 341.9C669.7 344.2 666.4 342.9 673.7 342.9C681 342.9 680.4 342.2 683.7 341.9" stroke="#111" stroke-width="1.15" fill="none" stroke-linejoin="round"/><path d="M452.5 310.3C458.5 310.5 458.4 310.6 470.4 310.9C482.4 311.2 479.7 311.2 488.5 311.3C497.3 311.4 487.9 311.3 496.7 311.3C505.5 311.3 503.4 312 514.8 311.3C526.2 310.6 519.3 311.1 531 309.2C542.7 307.3 537.2 308.7 550 305.6C562.8 302.5 556.5 303.7 569.4 299.8C582.3 295.9 575.8 297.6 588.8 294C601.8 290.4 595.3 292.1 608.3 289.1C621.3 286.1 614.8 287.6 627.7 284.9C640.6 282.2 634.2 283.6 647.1 281C660 278.4 655.9 279 666.5 277.1C677.1 275.2 673.2 276.2 679 275.3C684.8 274.4 682.3 274.8 684 274.5" stroke="#f04848" stroke-width="1.15" fill="none" stroke-linejoin="round"/><path d="M423 335.5C424.5 335.7 424.2 335.6 427.5 336.1C430.8 336.6 427.5 335.9 433 337C438.5 338.1 436.3 337.7 444 339.5C451.7 341.3 447.2 340.8 456 342.5C464.8 344.2 458.9 342.9 470.4 344.6C481.9 346.3 477.1 344.6 490.6 347.6C504.1 350.6 497.3 350 510.8 353.7C524.3 357.4 521.6 356.7 531 358.7C540.4 360.7 533.9 359 539 359.7C544.1 360.4 539 360 546.3 360.9C553.6 361.8 549.1 361 560.9 362.4C572.7 363.8 567.9 363.4 581.8 365.1C595.7 366.8 588.7 366.1 602.6 367.6C616.5 369.1 613.8 368.7 623.5 369.7C633.2 370.7 626.2 370.6 631.8 370.7C637.4 370.8 630.4 371 640.2 370.1C650 369.2 646.5 369.7 661.1 368C675.7 366.3 676.4 366.1 684 365.1" stroke="#f04848" stroke-width="1.15" fill="none" stroke-linejoin="round"/><path d="M684 285C678.2 286.4 678.8 285.5 666.5 289.1C654.2 292.7 660 291.7 647.1 295.9C634.2 300.1 640.6 298.1 627.7 301.7C614.8 305.3 621.3 302.4 608.3 306.6C595.3 310.8 596.6 310.8 588.8 314.4C581 318 591.5 315.4 585 317.3C578.5 319.2 577.8 318.3 569.4 320.2C561 322.1 563.6 320.8 559.7 323.1C555.8 325.4 557.1 324.1 557.8 327C558.5 329.9 554.6 329.9 561.7 331.8C568.8 333.7 566.8 333.1 579.1 332.8C591.4 332.5 587.5 331.1 598.5 330.9C609.5 330.7 605.9 331.8 612.1 332.2C618.3 332.6 613.1 331.7 617 332.2C620.9 332.7 617 332.6 623.8 333.8C630.6 335 626.4 335.1 637.4 335.7C648.4 336.3 645.8 337 656.8 335.7C667.8 334.4 661.3 334.4 670.4 331.8C679.5 329.2 679.5 329.3 684 328" stroke="#f04848" stroke-width="1.15" fill="none" stroke-linejoin="round"/><text x="488.5" y="314.7" class="cl" text-anchor="middle" textLength="9.8" lengthAdjust="spacingAndGlyphs" style="fill:#f04848">20</text><text x="679.5" y="278" class="cl" text-anchor="middle" textLength="9.8" lengthAdjust="spacingAndGlyphs" style="fill:#f04848">20</text><text x="427.5" y="339.5" class="cl" text-anchor="middle" textLength="9.8" lengthAdjust="spacingAndGlyphs" style="fill:#f04848">20</text><text x="539" y="363.1" class="cl" text-anchor="middle" textLength="9.8" lengthAdjust="spacingAndGlyphs" style="fill:#f04848">20</text><text x="631.8" y="374.1" class="cl" text-anchor="middle" textLength="9.8" lengthAdjust="spacingAndGlyphs" style="fill:#f04848">20</text><text x="617" y="335.6" class="cl" text-anchor="middle" textLength="9.8" lengthAdjust="spacingAndGlyphs" style="fill:#f04848">30</text><text x="679" y="283.9" class="cl" text-anchor="middle" textLength="9.8" lengthAdjust="spacingAndGlyphs" style="fill:#111">20</text><text x="679" y="293.7" class="cl" text-anchor="middle" textLength="9.8" lengthAdjust="spacingAndGlyphs" style="fill:#111">30</text><text x="576.4" y="316.6" class="cl" text-anchor="middle" textLength="9.8" lengthAdjust="spacingAndGlyphs" style="fill:#111">30</text><text x="463.2" y="378.6" class="cl" text-anchor="middle" textLength="9.8" lengthAdjust="spacingAndGlyphs" style="fill:#111">20</text><text x="543.2" y="381" class="cl" text-anchor="middle" textLength="9.8" lengthAdjust="spacingAndGlyphs" style="fill:#111">20</text><text x="632.7" y="387.9" class="cl" text-anchor="middle" textLength="9.8" lengthAdjust="spacingAndGlyphs" style="fill:#111">20</text>
</g>
<rect x="371.5" y="239.8" width="311.2" height="166" fill="none" stroke="#1a1a1a" stroke-width="1.15"/>
<text x="365.5" y="409.6" class="ax" text-anchor="end" textLength="10.6" lengthAdjust="spacingAndGlyphs">5N</text>
<text x="365.5" y="388.9" class="ax" text-anchor="end" textLength="16" lengthAdjust="spacingAndGlyphs">10N</text>
<text x="365.5" y="368.1" class="ax" text-anchor="end" textLength="16" lengthAdjust="spacingAndGlyphs">15N</text>
<text x="365.5" y="347.4" class="ax" text-anchor="end" textLength="16" lengthAdjust="spacingAndGlyphs">20N</text>
<text x="365.5" y="326.6" class="ax" text-anchor="end" textLength="16" lengthAdjust="spacingAndGlyphs">25N</text>
<text x="365.5" y="305.9" class="ax" text-anchor="end" textLength="16" lengthAdjust="spacingAndGlyphs">30N</text>
<text x="365.5" y="285.1" class="ax" text-anchor="end" textLength="16" lengthAdjust="spacingAndGlyphs">35N</text>
<text x="365.5" y="264.4" class="ax" text-anchor="end" textLength="16" lengthAdjust="spacingAndGlyphs">40N</text>
<text x="365.5" y="243.6" class="ax" text-anchor="end" textLength="16" lengthAdjust="spacingAndGlyphs">45N</text>
<text x="380.9" y="418.1" class="ax" text-anchor="middle" textLength="20.5" lengthAdjust="spacingAndGlyphs">100E</text>
<text x="415.4" y="418.1" class="ax" text-anchor="middle" textLength="20.5" lengthAdjust="spacingAndGlyphs">110E</text>
<text x="450" y="418.1" class="ax" text-anchor="middle" textLength="20.5" lengthAdjust="spacingAndGlyphs">120E</text>
<text x="484.5" y="418.1" class="ax" text-anchor="middle" textLength="20.5" lengthAdjust="spacingAndGlyphs">130E</text>
<text x="519" y="418.1" class="ax" text-anchor="middle" textLength="20.5" lengthAdjust="spacingAndGlyphs">140E</text>
<text x="553.6" y="418.1" class="ax" text-anchor="middle" textLength="20.5" lengthAdjust="spacingAndGlyphs">150E</text>
<text x="588.1" y="418.1" class="ax" text-anchor="middle" textLength="20.5" lengthAdjust="spacingAndGlyphs">160E</text>
<text x="622.7" y="418.1" class="ax" text-anchor="middle" textLength="20.5" lengthAdjust="spacingAndGlyphs">170E</text>
<text x="657.2" y="418.1" class="ax" text-anchor="middle" textLength="15.5" lengthAdjust="spacingAndGlyphs">180</text>
<path d="M371.5 405.8h-3M371.5 385.1h-3M371.5 364.3h-3M371.5 343.6h-3M371.5 322.8h-3M371.5 302.1h-3M371.5 281.3h-3M371.5 260.6h-3M371.5 239.8h-3M380.5 405.8v3M415 405.8v3M449.6 405.8v3M484.1 405.8v3M518.6 405.8v3M553.2 405.8v3M587.7 405.8v3M622.3 405.8v3M656.8 405.8v3" stroke="#1a1a1a" stroke-width="1" fill="none"/>
<text x="421.8" y="233.9" class="tt" textLength="10.7" lengthAdjust="spacingAndGlyphs">a)</text>
<text x="439.6" y="233.9" class="tt" textLength="41.2" lengthAdjust="spacingAndGlyphs">SSP585</text>
<text x="487.9" y="233.9" class="tt" textLength="65.5" lengthAdjust="spacingAndGlyphs">2080−2100</text>
<text x="560.5" y="233.9" class="tt" textLength="19.6" lengthAdjust="spacingAndGlyphs">and</text>
<text x="586.4" y="233.9" class="tt" textLength="45.7" lengthAdjust="spacingAndGlyphs">Baseline</text>
<text x="377.2" y="256.2" class="pl" textLength="18.9" lengthAdjust="spacingAndGlyphs">(d)</text>
<path d="M541.7 429.2h19.2" stroke="#999" stroke-width="1.5"/>
<path d="M541.7 439.2h19.2" stroke="#f07070" stroke-width="0.8"/>
<text x="564.8" y="432.7" class="lg" textLength="44" lengthAdjust="spacing">Baseline</text>
<text x="564.8" y="442.7" class="lg" textLength="40.5" lengthAdjust="spacing">SSP585</text>
<path d="M612.4 423h17" stroke="#444" stroke-width="0.6"/>
<path d="M630.4 423l-2.2 -0.9v1.8z" fill="#333"/>
<text x="621.4" y="430.5" class="rv" text-anchor="middle">2</text>
</svg>
</body></html>
